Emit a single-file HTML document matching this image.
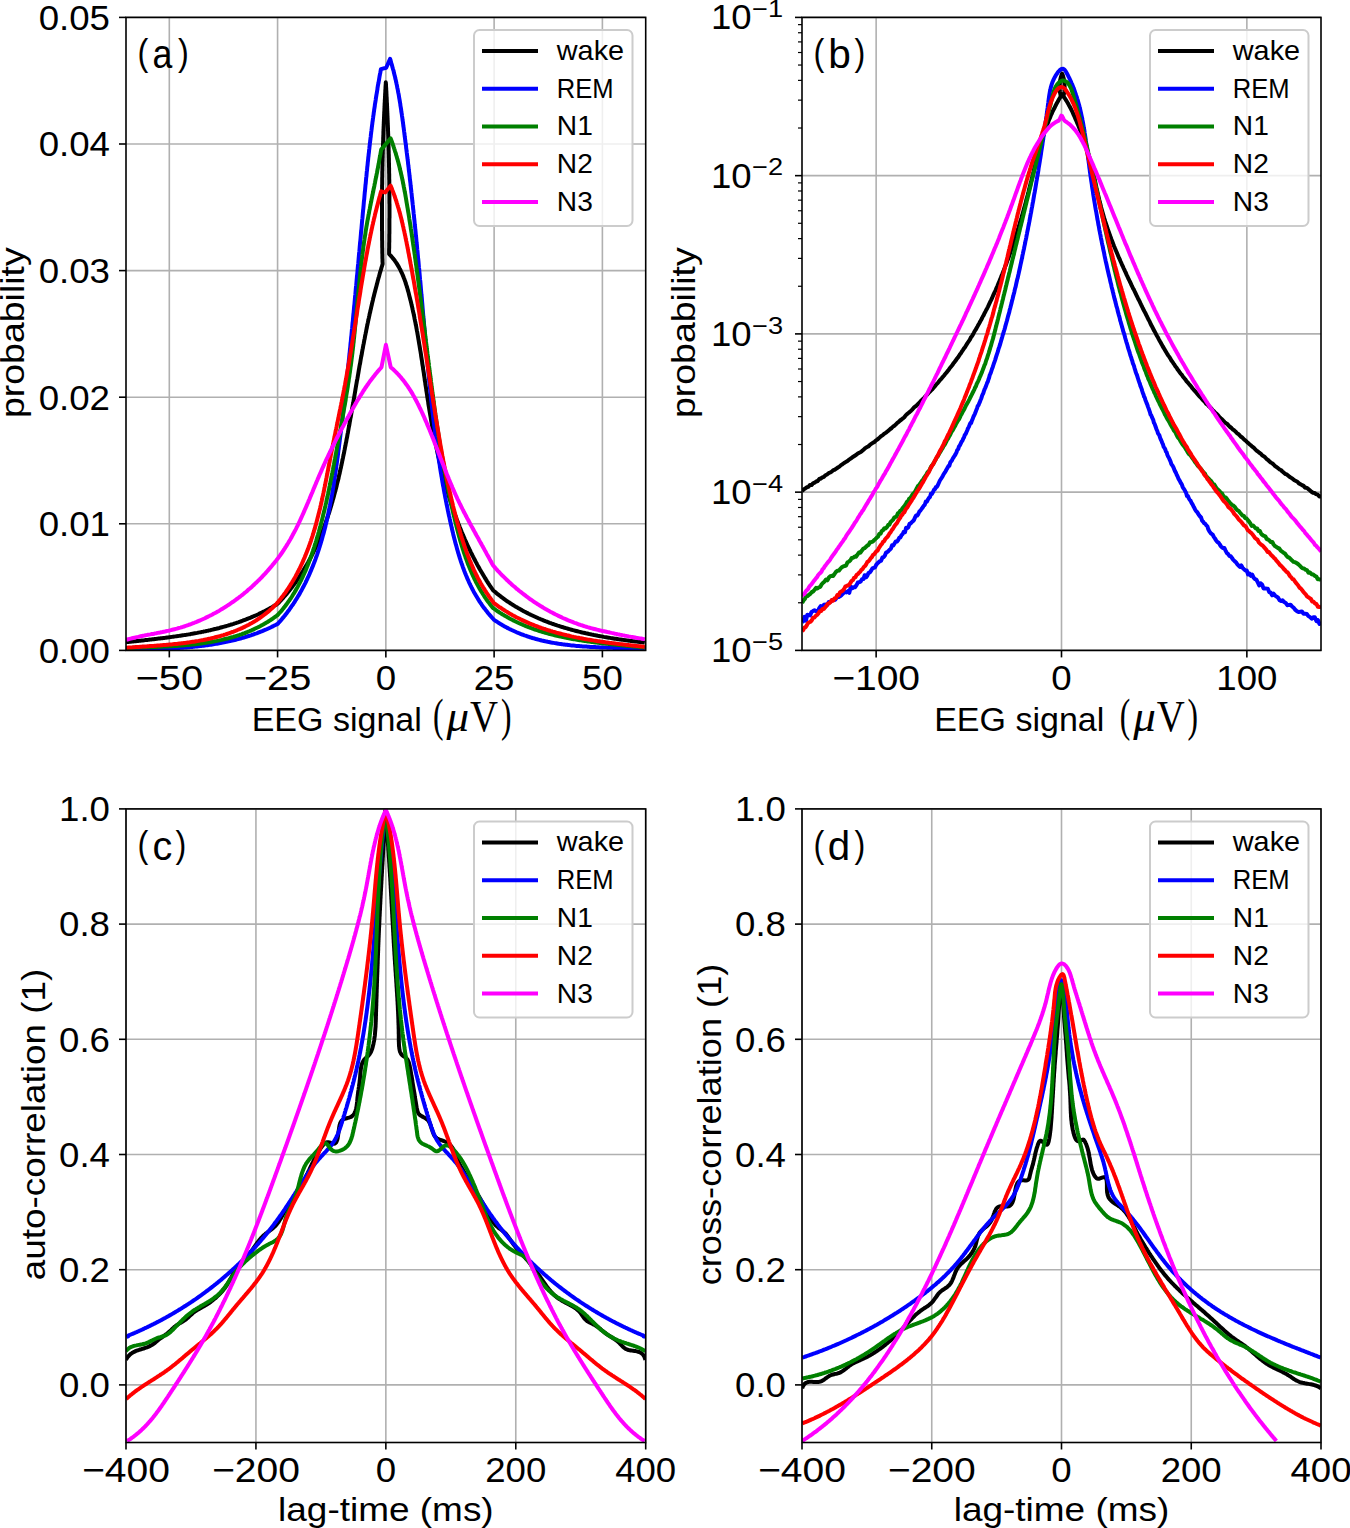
<!DOCTYPE html><html><head><meta charset="utf-8"><style>html,body{margin:0;padding:0;background:#fff;overflow:hidden;}svg{display:block;}</style></head><body>
<svg width="1350" height="1528" viewBox="0 0 1350 1528">
<rect x="0" y="0" width="1350" height="1528" fill="#ffffff"/>
<defs>
<clipPath id="clipa"><rect x="126.0" y="17.4" width="519.7" height="633.0"/></clipPath>
<clipPath id="clipb"><rect x="802.0" y="17.4" width="519.0" height="633.0"/></clipPath>
<clipPath id="clipc"><rect x="126.0" y="808.9" width="519.7" height="633.6"/></clipPath>
<clipPath id="clipd"><rect x="802.0" y="808.9" width="519.0" height="633.6"/></clipPath>
</defs>
<line x1="169.31" y1="17.4" x2="169.31" y2="650.4" stroke="#b0b0b0" stroke-width="1.6"/>
<line x1="277.58" y1="17.4" x2="277.58" y2="650.4" stroke="#b0b0b0" stroke-width="1.6"/>
<line x1="385.85" y1="17.4" x2="385.85" y2="650.4" stroke="#b0b0b0" stroke-width="1.6"/>
<line x1="494.12" y1="17.4" x2="494.12" y2="650.4" stroke="#b0b0b0" stroke-width="1.6"/>
<line x1="602.39" y1="17.4" x2="602.39" y2="650.4" stroke="#b0b0b0" stroke-width="1.6"/>
<line x1="126.0" y1="650.40" x2="645.7" y2="650.40" stroke="#b0b0b0" stroke-width="1.6"/>
<line x1="126.0" y1="523.80" x2="645.7" y2="523.80" stroke="#b0b0b0" stroke-width="1.6"/>
<line x1="126.0" y1="397.20" x2="645.7" y2="397.20" stroke="#b0b0b0" stroke-width="1.6"/>
<line x1="126.0" y1="270.60" x2="645.7" y2="270.60" stroke="#b0b0b0" stroke-width="1.6"/>
<line x1="126.0" y1="144.00" x2="645.7" y2="144.00" stroke="#b0b0b0" stroke-width="1.6"/>
<line x1="126.0" y1="17.40" x2="645.7" y2="17.40" stroke="#b0b0b0" stroke-width="1.6"/>
<g clip-path="url(#clipa)" fill="none" stroke-width="4.0" stroke-linejoin="round" stroke-linecap="butt">
<path d="M126.0,642.2 L127.2,642.1 L128.4,642.0 L129.6,641.8 L130.8,641.7 L132.0,641.6 L133.2,641.4 L134.4,641.3 L135.6,641.2 L136.8,641.0 L138.0,640.9 L139.2,640.8 L140.4,640.7 L141.6,640.5 L142.9,640.4 L144.1,640.3 L145.3,640.1 L146.5,640.0 L147.7,639.9 L148.9,639.7 L150.1,639.6 L151.3,639.4 L152.5,639.3 L153.7,639.2 L154.9,639.0 L156.2,638.9 L157.4,638.7 L158.6,638.6 L159.8,638.5 L161.0,638.3 L162.2,638.2 L163.4,638.0 L164.6,637.9 L165.8,637.7 L167.1,637.5 L168.3,637.4 L169.5,637.2 L170.7,637.1 L171.9,636.9 L173.1,636.7 L174.3,636.6 L175.5,636.4 L176.7,636.2 L177.9,636.1 L179.1,635.9 L180.3,635.7 L181.5,635.5 L182.8,635.3 L184.0,635.1 L185.2,634.9 L186.4,634.8 L187.6,634.6 L188.8,634.4 L190.0,634.2 L191.2,633.9 L192.4,633.7 L193.6,633.5 L194.8,633.3 L196.0,633.1 L197.2,632.9 L198.4,632.6 L199.5,632.4 L200.7,632.2 L201.9,631.9 L203.1,631.7 L204.3,631.4 L205.5,631.2 L206.7,630.9 L207.9,630.7 L209.1,630.4 L210.2,630.2 L211.4,629.9 L212.6,629.6 L213.8,629.3 L215.0,629.0 L216.1,628.8 L217.3,628.5 L218.5,628.2 L219.7,627.9 L220.8,627.5 L222.0,627.2 L223.2,626.9 L224.3,626.6 L225.5,626.3 L226.7,625.9 L227.8,625.6 L229.0,625.2 L230.1,624.9 L231.3,624.5 L232.4,624.2 L233.6,623.8 L234.7,623.4 L235.9,623.1 L237.0,622.7 L238.2,622.3 L239.3,621.9 L240.5,621.5 L241.6,621.1 L242.7,620.7 L243.9,620.2 L245.0,619.8 L246.1,619.4 L247.2,618.9 L248.4,618.5 L249.5,618.0 L250.6,617.6 L251.7,617.1 L252.8,616.6 L253.9,616.2 L255.1,615.7 L256.2,615.2 L257.3,614.7 L258.4,614.2 L259.5,613.6 L260.6,613.1 L261.7,612.6 L262.7,612.1 L263.8,611.5 L264.9,611.0 L266.0,610.4 L267.1,609.8 L268.2,609.3 L269.2,608.7 L270.3,608.1 L271.4,607.5 L272.4,606.9 L273.5,606.2 L274.5,605.6 L275.6,605.0 L276.7,604.4 L277.7,603.7 L277.7,603.7 L278.6,602.8 L279.4,601.9 L280.2,601.0 L281.1,600.1 L281.9,599.2 L282.7,598.3 L283.5,597.4 L284.3,596.5 L285.1,595.6 L285.9,594.7 L286.7,593.8 L287.4,592.8 L288.2,591.9 L289.0,591.0 L289.7,590.0 L290.5,589.1 L291.2,588.1 L291.9,587.2 L292.7,586.2 L293.4,585.2 L294.1,584.3 L294.8,583.3 L295.5,582.3 L296.2,581.4 L296.9,580.4 L297.5,579.4 L298.2,578.4 L298.9,577.4 L299.5,576.4 L300.2,575.4 L300.8,574.4 L301.5,573.4 L302.1,572.4 L302.8,571.4 L303.4,570.4 L304.0,569.4 L304.6,568.4 L305.2,567.4 L305.8,566.3 L306.4,565.3 L307.0,564.3 L307.6,563.2 L308.2,562.2 L308.7,561.2 L309.3,560.1 L309.9,559.1 L310.4,558.0 L311.0,557.0 L311.5,555.9 L312.0,554.9 L312.6,553.8 L313.1,552.7 L313.6,551.7 L314.1,550.6 L314.7,549.5 L315.2,548.4 L315.7,547.4 L316.2,546.3 L316.7,545.2 L317.1,544.1 L317.6,543.0 L318.1,541.9 L318.6,540.9 L319.0,539.8 L319.5,538.7 L320.0,537.6 L320.4,536.5 L320.9,535.4 L321.3,534.2 L321.8,533.1 L322.2,532.0 L322.6,530.9 L323.1,529.8 L323.5,528.7 L323.9,527.6 L324.3,526.4 L324.7,525.3 L325.1,524.2 L325.5,523.1 L325.9,521.9 L326.3,520.8 L326.7,519.7 L327.1,518.5 L327.5,517.4 L327.9,516.3 L328.2,515.1 L328.6,514.0 L329.0,512.8 L329.4,511.7 L329.7,510.5 L330.1,509.4 L330.4,508.2 L330.8,507.1 L331.1,505.9 L331.5,504.8 L331.8,503.6 L332.1,502.5 L332.5,501.3 L332.8,500.1 L333.1,499.0 L333.5,497.8 L333.8,496.7 L334.1,495.5 L334.4,494.3 L334.7,493.2 L335.0,492.0 L335.4,490.8 L335.7,489.6 L336.0,488.5 L336.3,487.3 L336.6,486.1 L336.8,485.0 L337.1,483.8 L337.4,482.6 L337.7,481.4 L338.0,480.2 L338.3,479.1 L338.6,477.9 L338.8,476.7 L339.1,475.5 L339.4,474.3 L339.7,473.2 L339.9,472.0 L340.2,470.8 L340.4,469.6 L340.7,468.4 L341.0,467.2 L341.2,466.0 L341.5,464.9 L341.7,463.7 L342.0,462.5 L342.2,461.3 L342.5,460.1 L342.7,458.9 L343.0,457.7 L343.2,456.5 L343.5,455.3 L343.7,454.2 L344.0,453.0 L344.2,451.8 L344.4,450.6 L344.7,449.4 L344.9,448.2 L345.1,447.0 L345.4,445.8 L345.6,444.6 L345.8,443.4 L346.1,442.3 L346.3,441.1 L346.5,439.9 L346.7,438.7 L347.0,437.5 L347.2,436.3 L347.4,435.1 L347.6,433.9 L347.9,432.7 L348.1,431.5 L348.3,430.4 L348.5,429.2 L348.7,428.0 L348.9,426.8 L349.2,425.6 L349.4,424.4 L349.6,423.2 L349.8,422.0 L350.0,420.8 L350.2,419.6 L350.4,418.4 L350.7,417.3 L350.9,416.1 L351.1,414.9 L351.3,413.7 L351.5,412.5 L351.7,411.3 L351.9,410.1 L352.1,408.9 L352.3,407.7 L352.5,406.5 L352.7,405.4 L352.9,404.2 L353.2,403.0 L353.4,401.8 L353.6,400.6 L353.8,399.4 L354.0,398.2 L354.2,397.0 L354.4,395.8 L354.6,394.7 L354.8,393.5 L355.0,392.3 L355.2,391.1 L355.4,389.9 L355.6,388.7 L355.8,387.5 L356.0,386.3 L356.2,385.1 L356.4,384.0 L356.6,382.8 L356.8,381.6 L357.0,380.4 L357.3,379.2 L357.5,378.0 L357.7,376.8 L357.9,375.6 L358.1,374.5 L358.3,373.3 L358.5,372.1 L358.7,370.9 L358.9,369.7 L359.1,368.5 L359.3,367.3 L359.5,366.2 L359.7,365.0 L360.0,363.8 L360.2,362.6 L360.4,361.4 L360.6,360.2 L360.8,359.0 L361.0,357.9 L361.2,356.7 L361.5,355.5 L361.7,354.3 L361.9,353.1 L362.1,351.9 L362.3,350.8 L362.5,349.6 L362.8,348.4 L363.0,347.2 L363.2,346.0 L363.4,344.8 L363.7,343.7 L363.9,342.5 L364.1,341.3 L364.3,340.1 L364.6,338.9 L364.8,337.8 L365.0,336.6 L365.2,335.4 L365.5,334.2 L365.7,333.0 L366.0,331.9 L366.2,330.7 L366.4,329.5 L366.7,328.3 L366.9,327.2 L367.1,326.0 L367.4,324.8 L367.6,323.6 L367.9,322.4 L368.1,321.3 L368.4,320.1 L368.6,318.9 L368.9,317.7 L369.1,316.6 L369.4,315.4 L369.6,314.2 L369.9,313.0 L370.2,311.9 L370.4,310.7 L370.7,309.5 L371.0,308.4 L371.2,307.2 L371.5,306.0 L371.8,304.8 L372.0,303.7 L372.3,302.5 L372.6,301.3 L372.9,300.2 L373.1,299.0 L373.4,297.8 L373.7,296.7 L374.0,295.5 L374.3,294.3 L374.6,293.1 L374.9,292.0 L375.2,290.8 L375.5,289.6 L375.8,288.5 L376.1,287.3 L376.4,286.2 L376.7,285.0 L377.0,283.8 L377.3,282.7 L377.6,281.5 L377.9,280.3 L378.2,279.2 L378.5,278.0 L378.9,276.8 L379.2,275.7 L379.5,274.5 L379.8,273.4 L380.2,272.2 L380.5,271.0 L380.9,269.9 L381.2,268.7 L381.5,267.6 L381.9,266.4 L382.2,265.3 L382.6,264.1 L382.6,262.9 L382.5,261.7 L382.5,260.5 L382.5,259.2 L382.4,258.0 L382.4,256.8 L382.4,255.6 L382.4,254.4 L382.3,253.2 L382.3,252.0 L382.3,250.8 L382.3,249.5 L382.3,248.3 L382.2,247.1 L382.2,245.9 L382.2,244.7 L382.2,243.5 L382.2,242.3 L382.2,241.1 L382.1,239.8 L382.1,238.6 L382.1,237.4 L382.1,236.2 L382.1,235.0 L382.1,233.8 L382.1,232.6 L382.1,231.3 L382.0,230.1 L382.0,228.9 L382.0,227.7 L382.0,226.5 L382.0,225.3 L382.0,224.1 L382.0,222.9 L382.0,221.6 L382.0,220.4 L382.0,219.2 L382.0,218.0 L382.0,216.8 L382.0,215.6 L382.0,214.4 L382.0,213.2 L382.0,211.9 L382.0,210.7 L382.0,209.5 L382.0,208.3 L382.0,207.1 L382.0,205.9 L382.0,204.7 L382.0,203.5 L382.0,202.2 L382.0,201.0 L382.0,199.8 L382.0,198.6 L382.0,197.4 L382.0,196.2 L382.0,195.0 L382.1,193.8 L382.1,192.5 L382.1,191.3 L382.1,190.1 L382.1,188.9 L382.1,187.7 L382.1,186.5 L382.1,185.3 L382.2,184.1 L382.2,182.8 L382.2,181.6 L382.2,180.4 L382.2,179.2 L382.2,178.0 L382.3,176.8 L382.3,175.6 L382.3,174.4 L382.3,173.1 L382.3,171.9 L382.4,170.7 L382.4,169.5 L382.4,168.3 L382.4,167.1 L382.5,165.9 L382.5,164.7 L382.5,163.4 L382.5,162.2 L382.6,161.0 L382.6,159.8 L382.6,158.6 L382.7,157.4 L382.7,156.2 L382.7,155.0 L382.8,153.7 L382.8,152.5 L382.8,151.3 L382.9,150.1 L382.9,148.9 L382.9,147.7 L383.0,146.5 L383.0,145.3 L383.0,144.1 L383.1,142.8 L383.1,141.6 L383.2,140.4 L383.2,139.2 L383.2,138.0 L383.3,136.8 L383.3,135.6 L383.4,134.4 L383.4,133.1 L383.4,131.9 L383.5,130.7 L383.5,129.5 L383.6,128.3 L383.6,127.1 L383.7,125.9 L383.7,124.7 L383.8,123.5 L383.8,122.2 L383.9,121.0 L383.9,119.8 L384.0,118.6 L384.0,117.4 L384.1,116.2 L384.1,115.0 L384.2,113.8 L384.2,112.6 L384.3,111.3 L384.4,110.1 L384.4,108.9 L384.5,107.7 L384.5,106.5 L384.6,105.3 L384.6,104.1 L384.7,102.9 L384.8,101.6 L384.8,100.4 L384.9,99.2 L385.0,98.0 L385.0,96.8 L385.1,95.6 L385.1,94.4 L385.2,93.2 L385.3,92.0 L385.3,90.7 L385.4,89.5 L385.5,88.3 L385.5,87.1 L385.6,85.9 L385.7,84.7 L385.8,83.5 L385.8,82.3 L385.9,83.5 L386.0,84.7 L386.0,85.9 L386.1,87.1 L386.2,88.3 L386.2,89.5 L386.3,90.7 L386.4,91.9 L386.4,93.1 L386.5,94.4 L386.5,95.6 L386.6,96.8 L386.7,98.0 L386.7,99.2 L386.8,100.4 L386.8,101.6 L386.9,102.8 L387.0,104.0 L387.0,105.2 L387.1,106.4 L387.1,107.7 L387.2,108.9 L387.2,110.1 L387.3,111.3 L387.3,112.5 L387.4,113.7 L387.4,114.9 L387.5,116.1 L387.5,117.3 L387.6,118.5 L387.6,119.7 L387.7,121.0 L387.7,122.2 L387.8,123.4 L387.8,124.6 L387.9,125.8 L387.9,127.0 L388.0,128.2 L388.0,129.4 L388.0,130.6 L388.1,131.8 L388.1,133.0 L388.2,134.3 L388.2,135.5 L388.3,136.7 L388.3,137.9 L388.3,139.1 L388.4,140.3 L388.4,141.5 L388.4,142.7 L388.5,143.9 L388.5,145.1 L388.5,146.3 L388.6,147.6 L388.6,148.8 L388.6,150.0 L388.7,151.2 L388.7,152.4 L388.7,153.6 L388.8,154.8 L388.8,156.0 L388.8,157.2 L388.9,158.4 L388.9,159.6 L388.9,160.9 L388.9,162.1 L389.0,163.3 L389.0,164.5 L389.0,165.7 L389.0,166.9 L389.1,168.1 L389.1,169.3 L389.1,170.5 L389.1,171.7 L389.1,172.9 L389.2,174.2 L389.2,175.4 L389.2,176.6 L389.2,177.8 L389.2,179.0 L389.3,180.2 L389.3,181.4 L389.3,182.6 L389.3,183.8 L389.3,185.0 L389.3,186.3 L389.3,187.5 L389.4,188.7 L389.4,189.9 L389.4,191.1 L389.4,192.3 L389.4,193.5 L389.4,194.7 L389.4,195.9 L389.4,197.1 L389.4,198.4 L389.4,199.6 L389.4,200.8 L389.4,202.0 L389.4,203.2 L389.5,204.4 L389.5,205.6 L389.5,206.8 L389.5,208.0 L389.5,209.2 L389.5,210.5 L389.5,211.7 L389.5,212.9 L389.5,214.1 L389.5,215.3 L389.5,216.5 L389.5,217.7 L389.4,218.9 L389.4,220.1 L389.4,221.3 L389.4,222.6 L389.4,223.8 L389.4,225.0 L389.4,226.2 L389.4,227.4 L389.4,228.6 L389.4,229.8 L389.4,231.0 L389.4,232.2 L389.4,233.4 L389.3,234.7 L389.3,235.9 L389.3,237.1 L389.3,238.3 L389.3,239.5 L389.3,240.7 L389.3,241.9 L389.2,243.1 L389.2,244.3 L389.2,245.5 L389.2,246.8 L389.2,248.0 L389.1,249.2 L389.1,250.4 L389.1,251.6 L389.1,252.8 L389.1,254.0 L389.1,254.0 L389.9,254.9 L390.7,255.7 L391.5,256.6 L392.3,257.5 L393.0,258.4 L393.8,259.3 L394.5,260.2 L395.1,261.1 L395.8,262.1 L396.5,263.1 L397.1,264.1 L397.7,265.1 L398.3,266.1 L398.9,267.1 L399.4,268.1 L400.0,269.2 L400.5,270.2 L401.0,271.3 L401.5,272.3 L402.0,273.4 L402.5,274.5 L402.9,275.6 L403.4,276.7 L403.8,277.8 L404.3,279.0 L404.7,280.1 L405.1,281.2 L405.5,282.4 L405.8,283.5 L406.2,284.7 L406.6,285.8 L406.9,287.0 L407.3,288.1 L407.6,289.3 L407.9,290.5 L408.3,291.7 L408.6,292.8 L408.9,294.0 L409.2,295.2 L409.5,296.4 L409.8,297.5 L410.1,298.7 L410.4,299.9 L410.7,301.1 L411.0,302.3 L411.3,303.5 L411.5,304.6 L411.8,305.8 L412.1,307.0 L412.4,308.2 L412.6,309.4 L412.9,310.6 L413.1,311.8 L413.4,312.9 L413.7,314.1 L413.9,315.3 L414.2,316.5 L414.4,317.7 L414.6,318.9 L414.9,320.1 L415.1,321.2 L415.4,322.4 L415.6,323.6 L415.8,324.8 L416.1,326.0 L416.3,327.2 L416.5,328.4 L416.7,329.5 L416.9,330.7 L417.2,331.9 L417.4,333.1 L417.6,334.3 L417.8,335.5 L418.0,336.7 L418.2,337.9 L418.4,339.1 L418.6,340.2 L418.8,341.4 L419.0,342.6 L419.2,343.8 L419.4,345.0 L419.6,346.2 L419.8,347.4 L420.0,348.6 L420.2,349.8 L420.4,351.0 L420.6,352.1 L420.8,353.3 L421.0,354.5 L421.1,355.7 L421.3,356.9 L421.5,358.1 L421.7,359.3 L421.9,360.5 L422.1,361.7 L422.2,362.9 L422.4,364.1 L422.6,365.3 L422.8,366.4 L423.0,367.6 L423.1,368.8 L423.3,370.0 L423.5,371.2 L423.7,372.4 L423.9,373.6 L424.0,374.8 L424.2,376.0 L424.4,377.2 L424.6,378.4 L424.7,379.6 L424.9,380.8 L425.1,381.9 L425.3,383.1 L425.4,384.3 L425.6,385.5 L425.8,386.7 L426.0,387.9 L426.2,389.1 L426.3,390.3 L426.5,391.5 L426.7,392.7 L426.9,393.9 L427.1,395.1 L427.2,396.3 L427.4,397.5 L427.6,398.6 L427.8,399.8 L428.0,401.0 L428.2,402.2 L428.3,403.4 L428.5,404.6 L428.7,405.8 L428.9,407.0 L429.1,408.2 L429.3,409.4 L429.5,410.6 L429.7,411.8 L429.9,413.0 L430.1,414.2 L430.3,415.3 L430.5,416.5 L430.7,417.7 L430.9,418.9 L431.1,420.1 L431.3,421.3 L431.5,422.5 L431.7,423.7 L432.0,424.9 L432.2,426.1 L432.4,427.3 L432.6,428.5 L432.8,429.6 L433.0,430.8 L433.3,432.0 L433.5,433.2 L433.7,434.4 L434.0,435.6 L434.2,436.8 L434.4,438.0 L434.7,439.2 L434.9,440.4 L435.1,441.5 L435.4,442.7 L435.6,443.9 L435.9,445.1 L436.1,446.3 L436.4,447.5 L436.6,448.7 L436.9,449.8 L437.1,451.0 L437.4,452.2 L437.6,453.4 L437.9,454.6 L438.2,455.8 L438.4,456.9 L438.7,458.1 L439.0,459.3 L439.3,460.5 L439.5,461.7 L439.8,462.8 L440.1,464.0 L440.4,465.2 L440.7,466.4 L441.0,467.5 L441.2,468.7 L441.5,469.9 L441.8,471.1 L442.1,472.2 L442.4,473.4 L442.7,474.6 L443.0,475.7 L443.3,476.9 L443.7,478.1 L444.0,479.3 L444.3,480.4 L444.6,481.6 L444.9,482.8 L445.3,483.9 L445.6,485.1 L445.9,486.2 L446.2,487.4 L446.6,488.6 L446.9,489.7 L447.3,490.9 L447.6,492.0 L448.0,493.2 L448.3,494.3 L448.7,495.5 L449.0,496.7 L449.4,497.8 L449.7,499.0 L450.1,500.1 L450.5,501.3 L450.8,502.4 L451.2,503.6 L451.6,504.7 L452.0,505.8 L452.4,507.0 L452.7,508.1 L453.1,509.3 L453.5,510.4 L453.9,511.5 L454.3,512.7 L454.7,513.8 L455.1,514.9 L455.5,516.1 L456.0,517.2 L456.4,518.3 L456.8,519.5 L457.2,520.6 L457.6,521.7 L458.1,522.8 L458.5,524.0 L458.9,525.1 L459.4,526.2 L459.8,527.3 L460.3,528.5 L460.7,529.6 L461.2,530.7 L461.6,531.8 L462.1,532.9 L462.6,534.0 L463.0,535.1 L463.5,536.2 L464.0,537.3 L464.5,538.4 L464.9,539.5 L465.4,540.6 L465.9,541.7 L466.4,542.8 L466.9,543.9 L467.4,545.0 L467.9,546.1 L468.4,547.2 L468.9,548.3 L469.5,549.4 L470.0,550.5 L470.5,551.5 L471.0,552.6 L471.6,553.7 L472.1,554.8 L472.7,555.9 L473.2,556.9 L473.8,558.0 L474.3,559.1 L474.9,560.1 L475.4,561.2 L476.0,562.3 L476.6,563.3 L477.1,564.4 L477.7,565.5 L478.3,566.5 L478.9,567.6 L479.5,568.6 L480.1,569.7 L480.7,570.7 L481.3,571.8 L481.9,572.8 L482.5,573.8 L483.1,574.9 L483.8,575.9 L484.4,577.0 L485.0,578.0 L485.7,579.0 L486.3,580.1 L486.9,581.1 L487.6,582.1 L488.2,583.1 L488.9,584.1 L489.6,585.2 L490.2,586.2 L490.9,587.2 L491.6,588.2 L492.3,589.2 L493.0,590.2 L493.0,590.2 L493.9,591.0 L494.9,591.8 L495.8,592.6 L496.8,593.4 L497.7,594.2 L498.7,594.9 L499.7,595.7 L500.7,596.4 L501.6,597.2 L502.6,597.9 L503.6,598.6 L504.6,599.4 L505.6,600.1 L506.6,600.8 L507.6,601.5 L508.6,602.1 L509.7,602.8 L510.7,603.5 L511.7,604.1 L512.7,604.8 L513.8,605.4 L514.8,606.1 L515.8,606.7 L516.9,607.3 L517.9,607.9 L519.0,608.5 L520.0,609.1 L521.1,609.7 L522.1,610.3 L523.2,610.9 L524.3,611.5 L525.3,612.0 L526.4,612.6 L527.5,613.1 L528.6,613.7 L529.7,614.2 L530.7,614.8 L531.8,615.3 L532.9,615.8 L534.0,616.3 L535.1,616.8 L536.2,617.3 L537.3,617.8 L538.4,618.3 L539.6,618.7 L540.7,619.2 L541.8,619.7 L542.9,620.1 L544.0,620.6 L545.1,621.0 L546.3,621.5 L547.4,621.9 L548.5,622.3 L549.7,622.8 L550.8,623.2 L551.9,623.6 L553.1,624.0 L554.2,624.4 L555.4,624.8 L556.5,625.2 L557.7,625.6 L558.8,625.9 L560.0,626.3 L561.1,626.7 L562.3,627.0 L563.5,627.4 L564.6,627.8 L565.8,628.1 L567.0,628.4 L568.1,628.8 L569.3,629.1 L570.5,629.4 L571.6,629.8 L572.8,630.1 L574.0,630.4 L575.2,630.7 L576.4,631.0 L577.5,631.3 L578.7,631.6 L579.9,631.9 L581.1,632.2 L582.3,632.5 L583.5,632.7 L584.7,633.0 L585.8,633.3 L587.0,633.5 L588.2,633.8 L589.4,634.1 L590.6,634.3 L591.8,634.6 L593.0,634.8 L594.2,635.1 L595.4,635.3 L596.6,635.5 L597.8,635.8 L599.0,636.0 L600.2,636.2 L601.4,636.4 L602.6,636.6 L603.8,636.9 L605.0,637.1 L606.2,637.3 L607.4,637.5 L608.7,637.7 L609.9,637.9 L611.1,638.1 L612.3,638.3 L613.5,638.5 L614.7,638.7 L615.9,638.8 L617.1,639.0 L618.3,639.2 L619.5,639.4 L620.7,639.5 L621.9,639.7 L623.1,639.9 L624.3,640.1 L625.6,640.2 L626.8,640.4 L628.0,640.5 L629.2,640.7 L630.4,640.9 L631.6,641.0 L632.8,641.2 L634.0,641.3 L635.2,641.5 L636.4,641.6 L637.6,641.7 L638.8,641.9 L640.0,642.0 L641.2,642.2 L642.4,642.3 L643.6,642.4 L644.8,642.6" stroke="#000000"/>
<path d="M126.0,649.3 L127.2,649.3 L128.4,649.3 L129.6,649.3 L130.8,649.3 L132.0,649.3 L133.2,649.3 L134.4,649.3 L135.6,649.2 L136.8,649.2 L138.0,649.2 L139.2,649.2 L140.5,649.2 L141.7,649.2 L142.9,649.2 L144.1,649.1 L145.3,649.1 L146.5,649.1 L147.7,649.1 L148.9,649.1 L150.2,649.0 L151.4,649.0 L152.6,649.0 L153.8,649.0 L155.0,648.9 L156.2,648.9 L157.5,648.9 L158.7,648.8 L159.9,648.8 L161.1,648.8 L162.3,648.7 L163.5,648.7 L164.8,648.6 L166.0,648.6 L167.2,648.5 L168.4,648.5 L169.6,648.4 L170.9,648.4 L172.1,648.3 L173.3,648.3 L174.5,648.2 L175.7,648.1 L176.9,648.1 L178.2,648.0 L179.4,647.9 L180.6,647.8 L181.8,647.7 L183.0,647.7 L184.3,647.6 L185.5,647.5 L186.7,647.4 L187.9,647.3 L189.1,647.2 L190.3,647.1 L191.5,647.0 L192.8,646.9 L194.0,646.7 L195.2,646.6 L196.4,646.5 L197.6,646.4 L198.8,646.2 L200.0,646.1 L201.2,645.9 L202.4,645.8 L203.6,645.7 L204.8,645.5 L206.1,645.3 L207.3,645.2 L208.5,645.0 L209.7,644.8 L210.9,644.7 L212.1,644.5 L213.3,644.3 L214.5,644.1 L215.7,643.9 L216.9,643.7 L218.0,643.5 L219.2,643.3 L220.4,643.1 L221.6,642.8 L222.8,642.6 L224.0,642.4 L225.2,642.1 L226.4,641.9 L227.6,641.6 L228.7,641.4 L229.9,641.1 L231.1,640.8 L232.3,640.6 L233.4,640.3 L234.6,640.0 L235.8,639.7 L237.0,639.4 L238.1,639.1 L239.3,638.8 L240.5,638.5 L241.6,638.1 L242.8,637.8 L243.9,637.5 L245.1,637.1 L246.3,636.8 L247.4,636.4 L248.6,636.0 L249.7,635.7 L250.9,635.3 L252.0,634.9 L253.2,634.5 L254.3,634.1 L255.4,633.7 L256.6,633.3 L257.7,632.9 L258.8,632.4 L260.0,632.0 L261.1,631.5 L262.2,631.1 L263.3,630.6 L264.5,630.1 L265.6,629.7 L266.7,629.2 L267.8,628.7 L268.9,628.2 L270.0,627.7 L271.1,627.2 L272.2,626.6 L273.3,626.1 L274.4,625.5 L275.5,625.0 L276.6,624.4 L277.7,623.9 L277.7,623.9 L278.5,622.9 L279.4,622.0 L280.2,621.1 L281.0,620.2 L281.8,619.2 L282.5,618.3 L283.3,617.4 L284.1,616.4 L284.9,615.5 L285.6,614.5 L286.4,613.6 L287.1,612.6 L287.8,611.6 L288.5,610.7 L289.3,609.7 L290.0,608.7 L290.7,607.7 L291.3,606.7 L292.0,605.7 L292.7,604.8 L293.4,603.8 L294.0,602.8 L294.7,601.8 L295.3,600.7 L296.0,599.7 L296.6,598.7 L297.2,597.7 L297.8,596.7 L298.5,595.7 L299.1,594.6 L299.7,593.6 L300.2,592.6 L300.8,591.5 L301.4,590.5 L302.0,589.4 L302.5,588.4 L303.1,587.3 L303.6,586.3 L304.2,585.2 L304.7,584.2 L305.3,583.1 L305.8,582.0 L306.3,581.0 L306.8,579.9 L307.3,578.8 L307.8,577.7 L308.3,576.7 L308.8,575.6 L309.3,574.5 L309.8,573.4 L310.2,572.3 L310.7,571.2 L311.2,570.1 L311.6,569.0 L312.1,567.9 L312.5,566.8 L313.0,565.7 L313.4,564.6 L313.8,563.5 L314.3,562.4 L314.7,561.3 L315.1,560.2 L315.5,559.1 L315.9,557.9 L316.3,556.8 L316.7,555.7 L317.1,554.6 L317.5,553.4 L317.9,552.3 L318.2,551.2 L318.6,550.1 L319.0,548.9 L319.3,547.8 L319.7,546.6 L320.0,545.5 L320.4,544.4 L320.7,543.2 L321.1,542.1 L321.4,540.9 L321.8,539.8 L322.1,538.6 L322.4,537.5 L322.7,536.3 L323.0,535.2 L323.4,534.0 L323.7,532.9 L324.0,531.7 L324.3,530.5 L324.6,529.4 L324.9,528.2 L325.2,527.1 L325.5,525.9 L325.7,524.7 L326.0,523.6 L326.3,522.4 L326.6,521.2 L326.8,520.0 L327.1,518.9 L327.4,517.7 L327.6,516.5 L327.9,515.3 L328.2,514.2 L328.4,513.0 L328.7,511.8 L328.9,510.6 L329.1,509.4 L329.4,508.3 L329.6,507.1 L329.9,505.9 L330.1,504.7 L330.3,503.5 L330.5,502.3 L330.8,501.1 L331.0,500.0 L331.2,498.8 L331.4,497.6 L331.6,496.4 L331.9,495.2 L332.1,494.0 L332.3,492.8 L332.5,491.6 L332.7,490.4 L332.9,489.2 L333.1,488.0 L333.3,486.8 L333.5,485.6 L333.7,484.4 L333.9,483.2 L334.0,482.0 L334.2,480.8 L334.4,479.6 L334.6,478.4 L334.8,477.2 L335.0,476.0 L335.1,474.8 L335.3,473.6 L335.5,472.4 L335.7,471.2 L335.8,470.0 L336.0,468.8 L336.2,467.6 L336.3,466.4 L336.5,465.2 L336.7,464.0 L336.8,462.8 L337.0,461.6 L337.2,460.4 L337.3,459.2 L337.5,458.0 L337.7,456.8 L337.8,455.6 L338.0,454.4 L338.1,453.2 L338.3,451.9 L338.4,450.7 L338.6,449.5 L338.8,448.3 L338.9,447.1 L339.1,445.9 L339.2,444.7 L339.4,443.5 L339.5,442.3 L339.7,441.1 L339.8,439.9 L340.0,438.7 L340.1,437.5 L340.3,436.3 L340.4,435.1 L340.6,433.9 L340.7,432.7 L340.9,431.5 L341.0,430.3 L341.2,429.1 L341.3,427.9 L341.5,426.7 L341.6,425.5 L341.7,424.3 L341.9,423.1 L342.0,421.9 L342.2,420.7 L342.3,419.5 L342.5,418.3 L342.6,417.1 L342.7,415.9 L342.9,414.7 L343.0,413.5 L343.2,412.3 L343.3,411.1 L343.4,409.9 L343.6,408.7 L343.7,407.5 L343.9,406.3 L344.0,405.1 L344.1,403.9 L344.3,402.7 L344.4,401.5 L344.5,400.3 L344.7,399.1 L344.8,397.9 L344.9,396.7 L345.1,395.5 L345.2,394.3 L345.3,393.1 L345.5,391.9 L345.6,390.7 L345.7,389.5 L345.9,388.3 L346.0,387.1 L346.1,385.9 L346.3,384.7 L346.4,383.5 L346.5,382.3 L346.7,381.1 L346.8,379.9 L346.9,378.7 L347.0,377.5 L347.2,376.3 L347.3,375.1 L347.4,373.9 L347.6,372.7 L347.7,371.5 L347.8,370.3 L347.9,369.1 L348.1,367.9 L348.2,366.7 L348.3,365.5 L348.4,364.3 L348.6,363.1 L348.7,361.9 L348.8,360.8 L348.9,359.6 L349.1,358.4 L349.2,357.2 L349.3,356.0 L349.4,354.8 L349.5,353.6 L349.7,352.4 L349.8,351.2 L349.9,350.0 L350.0,348.8 L350.2,347.6 L350.3,346.4 L350.4,345.2 L350.5,344.0 L350.6,342.8 L350.8,341.6 L350.9,340.4 L351.0,339.2 L351.1,338.0 L351.2,336.8 L351.4,335.6 L351.5,334.4 L351.6,333.3 L351.7,332.1 L351.8,330.9 L351.9,329.7 L352.1,328.5 L352.2,327.3 L352.3,326.1 L352.4,324.9 L352.5,323.7 L352.6,322.5 L352.8,321.3 L352.9,320.1 L353.0,318.9 L353.1,317.7 L353.2,316.5 L353.3,315.3 L353.4,314.1 L353.6,312.9 L353.7,311.7 L353.8,310.5 L353.9,309.4 L354.0,308.2 L354.1,307.0 L354.2,305.8 L354.4,304.6 L354.5,303.4 L354.6,302.2 L354.7,301.0 L354.8,299.8 L354.9,298.6 L355.0,297.4 L355.1,296.2 L355.3,295.0 L355.4,293.8 L355.5,292.6 L355.6,291.4 L355.7,290.2 L355.8,289.0 L355.9,287.8 L356.0,286.7 L356.2,285.5 L356.3,284.3 L356.4,283.1 L356.5,281.9 L356.6,280.7 L356.7,279.5 L356.8,278.3 L356.9,277.1 L357.0,275.9 L357.2,274.7 L357.3,273.5 L357.4,272.3 L357.5,271.1 L357.6,269.9 L357.7,268.7 L357.8,267.5 L357.9,266.3 L358.0,265.1 L358.2,264.0 L358.3,262.8 L358.4,261.6 L358.5,260.4 L358.6,259.2 L358.7,258.0 L358.8,256.8 L358.9,255.6 L359.0,254.4 L359.1,253.2 L359.3,252.0 L359.4,250.8 L359.5,249.6 L359.6,248.4 L359.7,247.2 L359.8,246.0 L359.9,244.8 L360.0,243.6 L360.1,242.4 L360.3,241.2 L360.4,240.0 L360.5,238.8 L360.6,237.6 L360.7,236.5 L360.8,235.3 L360.9,234.1 L361.0,232.9 L361.1,231.7 L361.2,230.5 L361.4,229.3 L361.5,228.1 L361.6,226.9 L361.7,225.7 L361.8,224.5 L361.9,223.3 L362.0,222.1 L362.1,220.9 L362.2,219.7 L362.4,218.5 L362.5,217.3 L362.6,216.1 L362.7,214.9 L362.8,213.7 L362.9,212.5 L363.0,211.3 L363.1,210.1 L363.3,208.9 L363.4,207.7 L363.5,206.5 L363.6,205.3 L363.7,204.1 L363.8,202.9 L363.9,201.7 L364.0,200.5 L364.2,199.3 L364.3,198.1 L364.4,196.9 L364.5,195.7 L364.6,194.5 L364.7,193.3 L364.8,192.1 L365.0,190.9 L365.1,189.7 L365.2,188.5 L365.3,187.3 L365.4,186.1 L365.5,184.9 L365.7,183.7 L365.8,182.5 L365.9,181.3 L366.0,180.1 L366.1,178.9 L366.2,177.7 L366.4,176.5 L366.5,175.3 L366.6,174.1 L366.7,172.9 L366.8,171.7 L367.0,170.5 L367.1,169.3 L367.2,168.1 L367.3,166.9 L367.5,165.7 L367.6,164.5 L367.7,163.3 L367.8,162.1 L368.0,160.9 L368.1,159.8 L368.2,158.6 L368.3,157.4 L368.5,156.2 L368.6,155.0 L368.7,153.8 L368.9,152.6 L369.0,151.4 L369.1,150.2 L369.3,149.0 L369.4,147.8 L369.5,146.6 L369.7,145.4 L369.8,144.2 L369.9,143.0 L370.1,141.8 L370.2,140.6 L370.4,139.4 L370.5,138.2 L370.7,137.0 L370.8,135.8 L370.9,134.6 L371.1,133.4 L371.2,132.2 L371.4,131.0 L371.5,129.8 L371.7,128.6 L371.8,127.4 L372.0,126.2 L372.1,125.0 L372.3,123.8 L372.4,122.6 L372.6,121.4 L372.8,120.2 L372.9,119.0 L373.1,117.8 L373.2,116.7 L373.4,115.5 L373.6,114.3 L373.7,113.1 L373.9,111.9 L374.1,110.7 L374.2,109.5 L374.4,108.3 L374.6,107.1 L374.8,105.9 L374.9,104.7 L375.1,103.5 L375.3,102.3 L375.5,101.2 L375.7,100.0 L375.8,98.8 L376.0,97.6 L376.2,96.4 L376.4,95.2 L376.6,94.0 L376.8,92.8 L377.0,91.6 L377.2,90.5 L377.4,89.3 L377.5,88.1 L377.7,86.9 L377.9,85.7 L378.1,84.5 L378.4,83.3 L378.6,82.2 L378.8,81.0 L379.0,79.8 L379.2,78.6 L379.4,77.4 L379.6,76.2 L379.8,75.1 L380.0,73.9 L380.3,72.7 L380.5,71.5 L380.7,70.3 L380.9,69.1 L380.9,69.1 L386.2,67.8 L390.1,58.9 L390.1,58.9 L390.4,60.0 L390.8,61.2 L391.1,62.3 L391.4,63.4 L391.8,64.6 L392.1,65.7 L392.4,66.9 L392.7,68.0 L393.0,69.1 L393.4,70.3 L393.7,71.4 L393.9,72.6 L394.2,73.7 L394.5,74.9 L394.8,76.1 L395.1,77.2 L395.3,78.4 L395.6,79.5 L395.9,80.7 L396.1,81.9 L396.4,83.0 L396.6,84.2 L396.9,85.3 L397.1,86.5 L397.3,87.7 L397.6,88.9 L397.8,90.0 L398.0,91.2 L398.2,92.4 L398.5,93.6 L398.7,94.7 L398.9,95.9 L399.1,97.1 L399.3,98.3 L399.5,99.4 L399.7,100.6 L399.9,101.8 L400.1,103.0 L400.3,104.2 L400.4,105.4 L400.6,106.5 L400.8,107.7 L401.0,108.9 L401.2,110.1 L401.3,111.3 L401.5,112.5 L401.7,113.7 L401.9,114.9 L402.0,116.0 L402.2,117.2 L402.4,118.4 L402.5,119.6 L402.7,120.8 L402.9,122.0 L403.0,123.2 L403.2,124.4 L403.3,125.6 L403.5,126.8 L403.7,128.0 L403.8,129.2 L404.0,130.3 L404.1,131.5 L404.3,132.7 L404.4,133.9 L404.6,135.1 L404.7,136.3 L404.9,137.5 L405.0,138.7 L405.2,139.9 L405.3,141.1 L405.5,142.3 L405.7,143.5 L405.8,144.7 L406.0,145.9 L406.1,147.1 L406.2,148.3 L406.4,149.4 L406.5,150.6 L406.7,151.8 L406.8,153.0 L407.0,154.2 L407.1,155.4 L407.3,156.6 L407.4,157.8 L407.6,159.0 L407.7,160.2 L407.9,161.4 L408.0,162.6 L408.1,163.8 L408.3,165.0 L408.4,166.2 L408.6,167.4 L408.7,168.6 L408.8,169.8 L409.0,171.0 L409.1,172.2 L409.3,173.3 L409.4,174.5 L409.5,175.7 L409.7,176.9 L409.8,178.1 L409.9,179.3 L410.1,180.5 L410.2,181.7 L410.4,182.9 L410.5,184.1 L410.6,185.3 L410.8,186.5 L410.9,187.7 L411.0,188.9 L411.2,190.1 L411.3,191.3 L411.4,192.5 L411.6,193.7 L411.7,194.9 L411.8,196.1 L411.9,197.3 L412.1,198.5 L412.2,199.7 L412.3,200.9 L412.5,202.1 L412.6,203.3 L412.7,204.5 L412.9,205.7 L413.0,206.9 L413.1,208.1 L413.2,209.3 L413.4,210.4 L413.5,211.6 L413.6,212.8 L413.7,214.0 L413.9,215.2 L414.0,216.4 L414.1,217.6 L414.2,218.8 L414.4,220.0 L414.5,221.2 L414.6,222.4 L414.7,223.6 L414.8,224.8 L415.0,226.0 L415.1,227.2 L415.2,228.4 L415.3,229.6 L415.5,230.8 L415.6,232.0 L415.7,233.2 L415.8,234.4 L415.9,235.6 L416.1,236.8 L416.2,238.0 L416.3,239.2 L416.4,240.4 L416.5,241.6 L416.6,242.8 L416.8,244.0 L416.9,245.2 L417.0,246.4 L417.1,247.6 L417.2,248.8 L417.3,250.0 L417.5,251.2 L417.6,252.4 L417.7,253.6 L417.8,254.8 L417.9,256.0 L418.0,257.2 L418.1,258.4 L418.3,259.6 L418.4,260.8 L418.5,262.0 L418.6,263.2 L418.7,264.4 L418.8,265.6 L418.9,266.8 L419.0,268.0 L419.2,269.2 L419.3,270.4 L419.4,271.6 L419.5,272.8 L419.6,274.0 L419.7,275.2 L419.8,276.4 L419.9,277.6 L420.0,278.8 L420.1,280.0 L420.3,281.2 L420.4,282.4 L420.5,283.6 L420.6,284.8 L420.7,286.0 L420.8,287.2 L420.9,288.4 L421.0,289.6 L421.1,290.8 L421.2,292.0 L421.3,293.2 L421.4,294.4 L421.6,295.6 L421.7,296.8 L421.8,298.0 L421.9,299.2 L422.0,300.4 L422.1,301.6 L422.2,302.8 L422.3,304.0 L422.4,305.2 L422.5,306.4 L422.6,307.6 L422.7,308.8 L422.8,310.0 L422.9,311.2 L423.0,312.4 L423.1,313.6 L423.2,314.8 L423.3,316.0 L423.4,317.2 L423.6,318.4 L423.7,319.6 L423.8,320.8 L423.9,322.0 L424.0,323.2 L424.1,324.4 L424.2,325.6 L424.3,326.8 L424.4,328.0 L424.5,329.2 L424.6,330.4 L424.7,331.6 L424.8,332.8 L424.9,334.0 L425.0,335.2 L425.1,336.4 L425.2,337.6 L425.3,338.8 L425.4,340.0 L425.5,341.2 L425.7,342.4 L425.8,343.6 L425.9,344.8 L426.0,346.0 L426.1,347.2 L426.2,348.4 L426.3,349.6 L426.4,350.8 L426.5,352.0 L426.6,353.2 L426.7,354.4 L426.8,355.6 L427.0,356.8 L427.1,358.0 L427.2,359.2 L427.3,360.4 L427.4,361.6 L427.5,362.8 L427.6,364.0 L427.7,365.2 L427.8,366.4 L428.0,367.6 L428.1,368.8 L428.2,370.0 L428.3,371.2 L428.4,372.4 L428.5,373.6 L428.6,374.8 L428.8,376.0 L428.9,377.2 L429.0,378.4 L429.1,379.6 L429.2,380.8 L429.3,382.0 L429.5,383.2 L429.6,384.4 L429.7,385.6 L429.8,386.8 L430.0,388.0 L430.1,389.2 L430.2,390.4 L430.3,391.6 L430.4,392.8 L430.6,394.0 L430.7,395.2 L430.8,396.4 L431.0,397.6 L431.1,398.8 L431.2,400.0 L431.3,401.2 L431.5,402.4 L431.6,403.6 L431.7,404.8 L431.9,406.0 L432.0,407.2 L432.1,408.4 L432.3,409.6 L432.4,410.8 L432.5,412.0 L432.7,413.1 L432.8,414.3 L433.0,415.5 L433.1,416.7 L433.2,417.9 L433.4,419.1 L433.5,420.3 L433.7,421.5 L433.8,422.7 L434.0,423.9 L434.1,425.1 L434.3,426.3 L434.4,427.5 L434.6,428.7 L434.7,429.9 L434.9,431.1 L435.0,432.3 L435.2,433.5 L435.3,434.7 L435.5,435.8 L435.6,437.0 L435.8,438.2 L435.9,439.4 L436.1,440.6 L436.3,441.8 L436.4,443.0 L436.6,444.2 L436.8,445.4 L436.9,446.6 L437.1,447.8 L437.3,449.0 L437.4,450.2 L437.6,451.3 L437.8,452.5 L438.0,453.7 L438.1,454.9 L438.3,456.1 L438.5,457.3 L438.7,458.5 L438.8,459.7 L439.0,460.9 L439.2,462.1 L439.4,463.3 L439.6,464.4 L439.8,465.6 L439.9,466.8 L440.1,468.0 L440.3,469.2 L440.5,470.4 L440.7,471.6 L440.9,472.8 L441.1,473.9 L441.3,475.1 L441.5,476.3 L441.7,477.5 L441.9,478.7 L442.1,479.9 L442.3,481.1 L442.5,482.3 L442.7,483.4 L442.9,484.6 L443.1,485.8 L443.4,487.0 L443.6,488.2 L443.8,489.4 L444.0,490.6 L444.2,491.7 L444.4,492.9 L444.7,494.1 L444.9,495.3 L445.1,496.5 L445.3,497.7 L445.6,498.8 L445.8,500.0 L446.0,501.2 L446.3,502.4 L446.5,503.6 L446.7,504.8 L447.0,505.9 L447.2,507.1 L447.5,508.3 L447.7,509.5 L447.9,510.7 L448.2,511.8 L448.4,513.0 L448.7,514.2 L448.9,515.4 L449.2,516.6 L449.5,517.7 L449.7,518.9 L450.0,520.1 L450.2,521.3 L450.5,522.5 L450.8,523.6 L451.0,524.8 L451.3,526.0 L451.6,527.2 L451.8,528.3 L452.1,529.5 L452.4,530.7 L452.7,531.9 L453.0,533.0 L453.2,534.2 L453.5,535.4 L453.8,536.6 L454.1,537.7 L454.4,538.9 L454.7,540.1 L455.0,541.2 L455.3,542.4 L455.6,543.6 L455.9,544.7 L456.3,545.9 L456.6,547.1 L456.9,548.2 L457.2,549.4 L457.6,550.6 L457.9,551.7 L458.2,552.9 L458.6,554.0 L458.9,555.2 L459.3,556.3 L459.6,557.5 L460.0,558.6 L460.4,559.8 L460.7,560.9 L461.1,562.0 L461.5,563.2 L461.9,564.3 L462.3,565.4 L462.7,566.6 L463.1,567.7 L463.5,568.8 L463.9,569.9 L464.3,571.0 L464.8,572.2 L465.2,573.3 L465.7,574.4 L466.1,575.5 L466.6,576.6 L467.0,577.7 L467.5,578.8 L468.0,579.9 L468.5,581.0 L468.9,582.0 L469.4,583.1 L470.0,584.2 L470.5,585.3 L471.0,586.3 L471.5,587.4 L472.1,588.5 L472.6,589.5 L473.2,590.6 L473.7,591.6 L474.3,592.7 L474.9,593.7 L475.5,594.7 L476.1,595.8 L476.7,596.8 L477.3,597.8 L477.9,598.8 L478.5,599.9 L479.2,600.9 L479.8,601.9 L480.5,602.9 L481.2,603.8 L481.8,604.8 L482.5,605.8 L483.2,606.8 L483.9,607.8 L484.7,608.7 L485.4,609.7 L486.1,610.6 L486.9,611.6 L487.6,612.5 L488.4,613.5 L489.2,614.4 L490.0,615.3 L490.8,616.2 L491.6,617.2 L492.5,618.1 L493.3,619.0 L494.1,619.9 L494.1,619.9 L495.2,620.6 L496.2,621.3 L497.2,621.9 L498.3,622.6 L499.3,623.3 L500.4,623.9 L501.4,624.6 L502.5,625.2 L503.5,625.8 L504.6,626.4 L505.7,627.0 L506.8,627.6 L507.8,628.1 L508.9,628.7 L510.0,629.2 L511.1,629.8 L512.2,630.3 L513.3,630.8 L514.4,631.3 L515.5,631.8 L516.6,632.3 L517.7,632.7 L518.8,633.2 L519.9,633.6 L521.1,634.1 L522.2,634.5 L523.3,634.9 L524.4,635.3 L525.6,635.7 L526.7,636.1 L527.8,636.5 L529.0,636.9 L530.1,637.3 L531.3,637.6 L532.4,638.0 L533.6,638.3 L534.8,638.6 L535.9,639.0 L537.1,639.3 L538.2,639.6 L539.4,639.9 L540.6,640.2 L541.8,640.5 L542.9,640.7 L544.1,641.0 L545.3,641.3 L546.5,641.5 L547.7,641.8 L548.8,642.0 L550.0,642.2 L551.2,642.5 L552.4,642.7 L553.6,642.9 L554.8,643.1 L556.0,643.3 L557.2,643.5 L558.4,643.7 L559.6,643.9 L560.8,644.0 L562.0,644.2 L563.2,644.4 L564.4,644.5 L565.6,644.7 L566.9,644.8 L568.1,645.0 L569.3,645.1 L570.5,645.3 L571.7,645.4 L572.9,645.5 L574.2,645.6 L575.4,645.8 L576.6,645.9 L577.8,646.0 L579.0,646.1 L580.3,646.2 L581.5,646.3 L582.7,646.4 L583.9,646.5 L585.2,646.5 L586.4,646.6 L587.6,646.7 L588.8,646.8 L590.1,646.9 L591.3,646.9 L592.5,647.0 L593.8,647.1 L595.0,647.1 L596.2,647.2 L597.4,647.3 L598.7,647.3 L599.9,647.4 L601.1,647.4 L602.3,647.5 L603.6,647.5 L604.8,647.6 L606.0,647.6 L607.3,647.7 L608.5,647.7 L609.7,647.7 L610.9,647.8 L612.2,647.8 L613.4,647.9 L614.6,647.9 L615.8,647.9 L617.1,648.0 L618.3,648.0 L619.5,648.1 L620.7,648.1 L621.9,648.1 L623.1,648.2 L624.4,648.2 L625.6,648.3 L626.8,648.3 L628.0,648.4 L629.2,648.4 L630.4,648.4 L631.6,648.5 L632.8,648.5 L634.0,648.6 L635.2,648.6 L636.5,648.7 L637.7,648.7 L638.8,648.8 L640.0,648.8 L641.2,648.9 L642.4,649.0 L643.6,649.0 L644.8,649.1" stroke="#0000ff"/>
<path d="M126.0,648.1 L127.2,648.1 L128.4,648.0 L129.6,648.0 L130.7,647.9 L131.9,647.9 L133.1,647.8 L134.3,647.8 L135.5,647.7 L136.7,647.7 L137.9,647.6 L139.1,647.6 L140.3,647.5 L141.5,647.5 L142.7,647.4 L144.0,647.4 L145.2,647.4 L146.4,647.3 L147.6,647.3 L148.8,647.2 L150.0,647.2 L151.2,647.1 L152.5,647.1 L153.7,647.0 L154.9,647.0 L156.1,646.9 L157.3,646.9 L158.6,646.8 L159.8,646.8 L161.0,646.7 L162.2,646.7 L163.4,646.6 L164.7,646.6 L165.9,646.5 L167.1,646.4 L168.3,646.4 L169.6,646.3 L170.8,646.2 L172.0,646.2 L173.2,646.1 L174.5,646.0 L175.7,645.9 L176.9,645.9 L178.1,645.8 L179.4,645.7 L180.6,645.6 L181.8,645.5 L183.0,645.4 L184.3,645.3 L185.5,645.2 L186.7,645.1 L187.9,645.0 L189.2,644.9 L190.4,644.7 L191.6,644.6 L192.8,644.5 L194.0,644.4 L195.3,644.2 L196.5,644.1 L197.7,643.9 L198.9,643.8 L200.1,643.6 L201.3,643.5 L202.5,643.3 L203.7,643.1 L205.0,643.0 L206.2,642.8 L207.4,642.6 L208.6,642.4 L209.8,642.2 L211.0,642.0 L212.2,641.8 L213.4,641.6 L214.6,641.3 L215.7,641.1 L216.9,640.9 L218.1,640.6 L219.3,640.4 L220.5,640.1 L221.7,639.9 L222.9,639.6 L224.0,639.3 L225.2,639.0 L226.4,638.8 L227.6,638.5 L228.7,638.2 L229.9,637.8 L231.0,637.5 L232.2,637.2 L233.4,636.9 L234.5,636.5 L235.7,636.2 L236.8,635.8 L238.0,635.4 L239.1,635.1 L240.2,634.7 L241.4,634.3 L242.5,633.9 L243.6,633.5 L244.8,633.1 L245.9,632.6 L247.0,632.2 L248.1,631.7 L249.2,631.3 L250.3,630.8 L251.5,630.3 L252.6,629.8 L253.6,629.4 L254.7,628.8 L255.8,628.3 L256.9,627.8 L258.0,627.3 L259.1,626.7 L260.1,626.2 L261.2,625.6 L262.3,625.0 L263.3,624.4 L264.4,623.8 L265.4,623.2 L266.5,622.6 L267.5,622.0 L268.6,621.3 L269.6,620.6 L270.6,620.0 L271.7,619.3 L272.7,618.6 L273.7,617.9 L274.7,617.2 L275.7,616.5 L276.7,615.7 L277.7,615.0 L278.5,614.1 L279.3,613.1 L280.2,612.2 L281.0,611.3 L281.7,610.4 L282.5,609.4 L283.3,608.5 L284.0,607.5 L284.8,606.6 L285.5,605.6 L286.3,604.7 L287.0,603.7 L287.7,602.7 L288.4,601.7 L289.1,600.7 L289.8,599.8 L290.4,598.8 L291.1,597.8 L291.8,596.7 L292.4,595.7 L293.0,594.7 L293.7,593.7 L294.3,592.7 L294.9,591.6 L295.5,590.6 L296.1,589.6 L296.7,588.5 L297.3,587.5 L297.9,586.4 L298.4,585.4 L299.0,584.3 L299.5,583.3 L300.1,582.2 L300.6,581.1 L301.2,580.1 L301.7,579.0 L302.2,577.9 L302.7,576.8 L303.2,575.7 L303.7,574.6 L304.2,573.6 L304.7,572.5 L305.2,571.4 L305.7,570.3 L306.1,569.2 L306.6,568.0 L307.0,566.9 L307.5,565.8 L307.9,564.7 L308.4,563.6 L308.8,562.5 L309.2,561.3 L309.7,560.2 L310.1,559.1 L310.5,558.0 L310.9,556.8 L311.3,555.7 L311.7,554.6 L312.1,553.4 L312.5,552.3 L312.9,551.2 L313.3,550.0 L313.6,548.9 L314.0,547.7 L314.4,546.6 L314.7,545.4 L315.1,544.3 L315.5,543.1 L315.8,542.0 L316.2,540.8 L316.5,539.7 L316.9,538.5 L317.2,537.4 L317.5,536.2 L317.9,535.1 L318.2,533.9 L318.5,532.8 L318.9,531.6 L319.2,530.4 L319.5,529.3 L319.8,528.1 L320.1,527.0 L320.5,525.8 L320.8,524.6 L321.1,523.5 L321.4,522.3 L321.7,521.1 L322.0,520.0 L322.3,518.8 L322.6,517.6 L322.9,516.5 L323.1,515.3 L323.4,514.1 L323.7,513.0 L324.0,511.8 L324.3,510.6 L324.6,509.5 L324.8,508.3 L325.1,507.1 L325.4,505.9 L325.6,504.8 L325.9,503.6 L326.2,502.4 L326.4,501.3 L326.7,500.1 L326.9,498.9 L327.2,497.7 L327.5,496.5 L327.7,495.4 L328.0,494.2 L328.2,493.0 L328.5,491.8 L328.7,490.7 L329.0,489.5 L329.2,488.3 L329.4,487.1 L329.7,485.9 L329.9,484.8 L330.2,483.6 L330.4,482.4 L330.6,481.2 L330.9,480.0 L331.1,478.9 L331.3,477.7 L331.6,476.5 L331.8,475.3 L332.0,474.1 L332.3,472.9 L332.5,471.8 L332.7,470.6 L333.0,469.4 L333.2,468.2 L333.4,467.0 L333.6,465.8 L333.9,464.7 L334.1,463.5 L334.3,462.3 L334.5,461.1 L334.7,459.9 L335.0,458.7 L335.2,457.6 L335.4,456.4 L335.6,455.2 L335.9,454.0 L336.1,452.8 L336.3,451.6 L336.5,450.5 L336.7,449.3 L337.0,448.1 L337.2,446.9 L337.4,445.7 L337.6,444.5 L337.8,443.4 L338.1,442.2 L338.3,441.0 L338.5,439.8 L338.7,438.6 L338.9,437.4 L339.1,436.3 L339.4,435.1 L339.6,433.9 L339.8,432.7 L340.0,431.5 L340.2,430.4 L340.5,429.2 L340.7,428.0 L340.9,426.8 L341.1,425.6 L341.3,424.4 L341.5,423.3 L341.7,422.1 L342.0,420.9 L342.2,419.7 L342.4,418.5 L342.6,417.3 L342.8,416.2 L343.0,415.0 L343.2,413.8 L343.4,412.6 L343.6,411.4 L343.8,410.2 L344.0,409.1 L344.2,407.9 L344.4,406.7 L344.7,405.5 L344.9,404.3 L345.1,403.1 L345.3,402.0 L345.5,400.8 L345.7,399.6 L345.8,398.4 L346.0,397.2 L346.2,396.0 L346.4,394.8 L346.6,393.7 L346.8,392.5 L347.0,391.3 L347.2,390.1 L347.4,388.9 L347.6,387.7 L347.8,386.6 L347.9,385.4 L348.1,384.2 L348.3,383.0 L348.5,381.8 L348.7,380.6 L348.8,379.4 L349.0,378.2 L349.2,377.1 L349.4,375.9 L349.5,374.7 L349.7,373.5 L349.9,372.3 L350.0,371.1 L350.2,369.9 L350.4,368.7 L350.5,367.5 L350.7,366.4 L350.9,365.2 L351.0,364.0 L351.2,362.8 L351.3,361.6 L351.5,360.4 L351.6,359.2 L351.8,358.0 L351.9,356.8 L352.1,355.6 L352.2,354.4 L352.4,353.2 L352.5,352.0 L352.6,350.9 L352.8,349.7 L352.9,348.5 L353.0,347.3 L353.2,346.1 L353.3,344.9 L353.4,343.7 L353.6,342.5 L353.7,341.3 L353.8,340.1 L353.9,338.9 L354.1,337.7 L354.2,336.5 L354.3,335.3 L354.4,334.1 L354.6,332.9 L354.7,331.7 L354.8,330.5 L354.9,329.3 L355.0,328.1 L355.1,326.9 L355.3,325.7 L355.4,324.5 L355.5,323.3 L355.6,322.1 L355.7,320.9 L355.8,319.7 L356.0,318.5 L356.1,317.3 L356.2,316.1 L356.3,314.9 L356.4,313.7 L356.5,312.5 L356.6,311.3 L356.7,310.1 L356.8,308.9 L357.0,307.7 L357.1,306.5 L357.2,305.3 L357.3,304.2 L357.4,303.0 L357.5,301.8 L357.6,300.6 L357.7,299.4 L357.8,298.2 L358.0,297.0 L358.1,295.8 L358.2,294.6 L358.3,293.4 L358.4,292.2 L358.5,291.0 L358.6,289.8 L358.7,288.6 L358.9,287.4 L359.0,286.2 L359.1,285.0 L359.2,283.8 L359.3,282.6 L359.5,281.4 L359.6,280.2 L359.7,279.0 L359.8,277.8 L359.9,276.6 L360.1,275.4 L360.2,274.2 L360.3,273.0 L360.4,271.8 L360.6,270.6 L360.7,269.4 L360.8,268.2 L361.0,267.0 L361.1,265.8 L361.2,264.6 L361.4,263.4 L361.5,262.2 L361.6,261.0 L361.8,259.8 L361.9,258.6 L362.1,257.4 L362.2,256.2 L362.4,255.0 L362.5,253.8 L362.7,252.6 L362.8,251.5 L363.0,250.3 L363.1,249.1 L363.3,247.9 L363.4,246.7 L363.6,245.5 L363.8,244.3 L363.9,243.1 L364.1,241.9 L364.3,240.7 L364.5,239.5 L364.6,238.3 L364.8,237.1 L365.0,236.0 L365.2,234.8 L365.4,233.6 L365.5,232.4 L365.7,231.2 L365.9,230.0 L366.1,228.8 L366.3,227.6 L366.5,226.4 L366.7,225.3 L366.9,224.1 L367.1,222.9 L367.3,221.7 L367.5,220.5 L367.8,219.3 L368.0,218.1 L368.2,217.0 L368.4,215.8 L368.6,214.6 L368.9,213.4 L369.1,212.2 L369.3,211.0 L369.5,209.9 L369.8,208.7 L370.0,207.5 L370.2,206.3 L370.5,205.1 L370.7,203.9 L370.9,202.8 L371.2,201.6 L371.4,200.4 L371.6,199.2 L371.9,198.0 L372.1,196.9 L372.3,195.7 L372.6,194.5 L372.8,193.3 L373.1,192.1 L373.3,190.9 L373.5,189.8 L373.8,188.6 L374.0,187.4 L374.3,186.2 L374.5,185.0 L374.7,183.9 L375.0,182.7 L375.2,181.5 L375.4,180.3 L375.7,179.1 L375.9,178.0 L376.2,176.8 L376.4,175.6 L376.6,174.4 L376.9,173.2 L377.1,172.1 L377.3,170.9 L377.5,169.7 L377.8,168.5 L378.0,167.3 L378.2,166.1 L378.4,165.0 L378.7,163.8 L378.9,162.6 L379.1,161.4 L379.3,160.2 L379.5,159.0 L379.7,157.9 L379.9,156.7 L380.2,155.5 L380.4,154.3 L380.6,153.1 L380.8,151.9 L381.0,150.8 L381.2,149.6 L390.6,138.4 L390.6,138.4 L391.0,139.6 L391.5,140.7 L391.9,141.8 L392.3,142.9 L392.7,144.0 L393.1,145.2 L393.5,146.3 L393.8,147.4 L394.2,148.6 L394.6,149.7 L394.9,150.8 L395.3,152.0 L395.7,153.1 L396.0,154.3 L396.3,155.4 L396.7,156.6 L397.0,157.7 L397.3,158.9 L397.7,160.0 L398.0,161.2 L398.3,162.3 L398.6,163.5 L398.9,164.6 L399.2,165.8 L399.5,167.0 L399.8,168.1 L400.0,169.3 L400.3,170.5 L400.6,171.6 L400.9,172.8 L401.1,174.0 L401.4,175.1 L401.7,176.3 L401.9,177.5 L402.2,178.6 L402.4,179.8 L402.7,181.0 L402.9,182.2 L403.1,183.4 L403.4,184.5 L403.6,185.7 L403.8,186.9 L404.1,188.1 L404.3,189.3 L404.5,190.4 L404.7,191.6 L405.0,192.8 L405.2,194.0 L405.4,195.2 L405.6,196.4 L405.8,197.5 L406.0,198.7 L406.2,199.9 L406.4,201.1 L406.6,202.3 L406.8,203.5 L407.0,204.7 L407.2,205.9 L407.4,207.1 L407.6,208.2 L407.8,209.4 L408.0,210.6 L408.2,211.8 L408.4,213.0 L408.6,214.2 L408.8,215.4 L409.0,216.6 L409.2,217.8 L409.3,219.0 L409.5,220.1 L409.7,221.3 L409.9,222.5 L410.1,223.7 L410.3,224.9 L410.5,226.1 L410.7,227.3 L410.8,228.5 L411.0,229.7 L411.2,230.9 L411.4,232.1 L411.6,233.2 L411.7,234.4 L411.9,235.6 L412.1,236.8 L412.3,238.0 L412.4,239.2 L412.6,240.4 L412.8,241.6 L413.0,242.8 L413.1,244.0 L413.3,245.2 L413.5,246.4 L413.7,247.6 L413.8,248.7 L414.0,249.9 L414.2,251.1 L414.4,252.3 L414.5,253.5 L414.7,254.7 L414.9,255.9 L415.0,257.1 L415.2,258.3 L415.4,259.5 L415.5,260.7 L415.7,261.9 L415.9,263.1 L416.0,264.3 L416.2,265.5 L416.4,266.7 L416.5,267.8 L416.7,269.0 L416.8,270.2 L417.0,271.4 L417.2,272.6 L417.3,273.8 L417.5,275.0 L417.6,276.2 L417.8,277.4 L418.0,278.6 L418.1,279.8 L418.3,281.0 L418.4,282.2 L418.6,283.4 L418.8,284.6 L418.9,285.8 L419.1,287.0 L419.2,288.2 L419.4,289.4 L419.5,290.6 L419.7,291.8 L419.9,292.9 L420.0,294.1 L420.2,295.3 L420.3,296.5 L420.5,297.7 L420.6,298.9 L420.8,300.1 L420.9,301.3 L421.1,302.5 L421.2,303.7 L421.4,304.9 L421.5,306.1 L421.7,307.3 L421.8,308.5 L422.0,309.7 L422.1,310.9 L422.3,312.1 L422.5,313.3 L422.6,314.5 L422.8,315.7 L422.9,316.9 L423.1,318.1 L423.2,319.3 L423.4,320.5 L423.5,321.7 L423.7,322.9 L423.8,324.1 L424.0,325.3 L424.1,326.4 L424.3,327.6 L424.4,328.8 L424.6,330.0 L424.7,331.2 L424.9,332.4 L425.0,333.6 L425.2,334.8 L425.3,336.0 L425.4,337.2 L425.6,338.4 L425.7,339.6 L425.9,340.8 L426.0,342.0 L426.2,343.2 L426.3,344.4 L426.5,345.6 L426.6,346.8 L426.8,348.0 L426.9,349.2 L427.1,350.4 L427.2,351.6 L427.4,352.8 L427.5,354.0 L427.7,355.2 L427.8,356.4 L428.0,357.6 L428.1,358.8 L428.3,360.0 L428.4,361.2 L428.6,362.4 L428.7,363.6 L428.9,364.8 L429.0,366.0 L429.2,367.2 L429.3,368.4 L429.5,369.6 L429.6,370.8 L429.8,372.0 L430.0,373.1 L430.1,374.3 L430.3,375.5 L430.4,376.7 L430.6,377.9 L430.7,379.1 L430.9,380.3 L431.0,381.5 L431.2,382.7 L431.3,383.9 L431.5,385.1 L431.6,386.3 L431.8,387.5 L432.0,388.7 L432.1,389.9 L432.3,391.1 L432.4,392.3 L432.6,393.5 L432.8,394.7 L432.9,395.9 L433.1,397.1 L433.2,398.3 L433.4,399.5 L433.6,400.7 L433.7,401.9 L433.9,403.1 L434.0,404.3 L434.2,405.5 L434.4,406.7 L434.5,407.9 L434.7,409.0 L434.9,410.2 L435.0,411.4 L435.2,412.6 L435.4,413.8 L435.5,415.0 L435.7,416.2 L435.9,417.4 L436.1,418.6 L436.2,419.8 L436.4,421.0 L436.6,422.2 L436.8,423.4 L436.9,424.6 L437.1,425.8 L437.3,427.0 L437.5,428.2 L437.6,429.4 L437.8,430.5 L438.0,431.7 L438.2,432.9 L438.4,434.1 L438.5,435.3 L438.7,436.5 L438.9,437.7 L439.1,438.9 L439.3,440.1 L439.5,441.3 L439.7,442.5 L439.9,443.7 L440.0,444.9 L440.2,446.0 L440.4,447.2 L440.6,448.4 L440.8,449.6 L441.0,450.8 L441.2,452.0 L441.4,453.2 L441.6,454.4 L441.8,455.6 L442.0,456.8 L442.2,457.9 L442.4,459.1 L442.6,460.3 L442.8,461.5 L443.1,462.7 L443.3,463.9 L443.5,465.1 L443.7,466.3 L443.9,467.4 L444.1,468.6 L444.3,469.8 L444.5,471.0 L444.8,472.2 L445.0,473.4 L445.2,474.6 L445.4,475.7 L445.7,476.9 L445.9,478.1 L446.1,479.3 L446.3,480.5 L446.6,481.7 L446.8,482.8 L447.0,484.0 L447.3,485.2 L447.5,486.4 L447.7,487.6 L448.0,488.8 L448.2,489.9 L448.4,491.1 L448.7,492.3 L448.9,493.5 L449.2,494.7 L449.4,495.8 L449.7,497.0 L449.9,498.2 L450.2,499.4 L450.4,500.6 L450.7,501.7 L451.0,502.9 L451.2,504.1 L451.5,505.3 L451.7,506.4 L452.0,507.6 L452.3,508.8 L452.5,510.0 L452.8,511.2 L453.1,512.3 L453.3,513.5 L453.6,514.7 L453.9,515.9 L454.2,517.0 L454.5,518.2 L454.7,519.4 L455.0,520.5 L455.3,521.7 L455.6,522.9 L455.9,524.1 L456.2,525.2 L456.5,526.4 L456.8,527.6 L457.1,528.7 L457.4,529.9 L457.7,531.1 L458.0,532.2 L458.3,533.4 L458.6,534.6 L458.9,535.7 L459.2,536.9 L459.6,538.1 L459.9,539.2 L460.2,540.4 L460.5,541.5 L460.9,542.7 L461.2,543.9 L461.6,545.0 L461.9,546.2 L462.3,547.3 L462.6,548.5 L463.0,549.6 L463.4,550.7 L463.7,551.9 L464.1,553.0 L464.5,554.2 L464.9,555.3 L465.3,556.4 L465.6,557.6 L466.1,558.7 L466.5,559.8 L466.9,560.9 L467.3,562.1 L467.7,563.2 L468.1,564.3 L468.6,565.4 L469.0,566.5 L469.5,567.6 L469.9,568.7 L470.4,569.8 L470.8,570.9 L471.3,572.0 L471.8,573.1 L472.3,574.2 L472.8,575.3 L473.3,576.4 L473.8,577.5 L474.3,578.6 L474.8,579.6 L475.4,580.7 L475.9,581.8 L476.4,582.8 L477.0,583.9 L477.6,584.9 L478.1,586.0 L478.7,587.0 L479.3,588.1 L479.9,589.1 L480.5,590.2 L481.1,591.2 L481.7,592.2 L482.4,593.2 L483.0,594.2 L483.7,595.3 L484.3,596.3 L485.0,597.3 L485.7,598.3 L486.3,599.3 L487.0,600.3 L487.7,601.2 L488.5,602.2 L489.2,603.2 L489.9,604.2 L490.7,605.1 L491.4,606.1 L492.2,607.1 L493.0,608.0 L493.0,608.0 L494.0,608.7 L495.0,609.4 L496.0,610.1 L497.0,610.8 L498.0,611.5 L499.0,612.2 L500.1,612.9 L501.1,613.5 L502.1,614.2 L503.2,614.8 L504.2,615.4 L505.3,616.0 L506.3,616.6 L507.4,617.2 L508.4,617.8 L509.5,618.4 L510.6,619.0 L511.6,619.5 L512.7,620.1 L513.8,620.6 L514.9,621.2 L516.0,621.7 L517.1,622.2 L518.1,622.7 L519.2,623.2 L520.3,623.7 L521.4,624.2 L522.6,624.7 L523.7,625.2 L524.8,625.6 L525.9,626.1 L527.0,626.5 L528.1,627.0 L529.2,627.4 L530.4,627.8 L531.5,628.2 L532.6,628.7 L533.8,629.1 L534.9,629.5 L536.0,629.8 L537.2,630.2 L538.3,630.6 L539.5,631.0 L540.6,631.3 L541.8,631.7 L542.9,632.0 L544.1,632.4 L545.2,632.7 L546.4,633.1 L547.6,633.4 L548.7,633.7 L549.9,634.0 L551.1,634.3 L552.2,634.6 L553.4,634.9 L554.6,635.2 L555.8,635.5 L556.9,635.8 L558.1,636.0 L559.3,636.3 L560.5,636.6 L561.7,636.8 L562.9,637.1 L564.1,637.3 L565.2,637.6 L566.4,637.8 L567.6,638.1 L568.8,638.3 L570.0,638.5 L571.2,638.7 L572.4,639.0 L573.6,639.2 L574.8,639.4 L576.0,639.6 L577.2,639.8 L578.4,640.0 L579.6,640.2 L580.8,640.4 L582.0,640.6 L583.2,640.8 L584.5,640.9 L585.7,641.1 L586.9,641.3 L588.1,641.5 L589.3,641.6 L590.5,641.8 L591.7,642.0 L592.9,642.1 L594.1,642.3 L595.4,642.4 L596.6,642.6 L597.8,642.7 L599.0,642.9 L600.2,643.0 L601.4,643.2 L602.6,643.3 L603.8,643.4 L605.1,643.6 L606.3,643.7 L607.5,643.8 L608.7,644.0 L609.9,644.1 L611.1,644.2 L612.3,644.4 L613.6,644.5 L614.8,644.6 L616.0,644.7 L617.2,644.8 L618.4,645.0 L619.6,645.1 L620.8,645.2 L622.0,645.3 L623.2,645.4 L624.4,645.6 L625.7,645.7 L626.9,645.8 L628.1,645.9 L629.3,646.0 L630.5,646.1 L631.7,646.3 L632.9,646.4 L634.1,646.5 L635.3,646.6 L636.5,646.7 L637.7,646.8 L638.9,647.0 L640.1,647.1 L641.2,647.2 L642.4,647.3 L643.6,647.4 L644.8,647.6" stroke="#008000"/>
<path d="M126.0,647.8 L127.2,647.7 L128.3,647.6 L129.5,647.5 L130.7,647.4 L131.9,647.4 L133.1,647.3 L134.3,647.2 L135.5,647.1 L136.7,647.0 L137.8,646.9 L139.0,646.9 L140.2,646.8 L141.4,646.7 L142.6,646.6 L143.8,646.5 L145.1,646.5 L146.3,646.4 L147.5,646.3 L148.7,646.2 L149.9,646.1 L151.1,646.0 L152.3,645.9 L153.5,645.9 L154.8,645.8 L156.0,645.7 L157.2,645.6 L158.4,645.5 L159.6,645.4 L160.8,645.3 L162.1,645.2 L163.3,645.1 L164.5,645.0 L165.7,644.9 L167.0,644.8 L168.2,644.7 L169.4,644.6 L170.6,644.5 L171.9,644.4 L173.1,644.2 L174.3,644.1 L175.5,644.0 L176.7,643.9 L178.0,643.7 L179.2,643.6 L180.4,643.5 L181.6,643.3 L182.8,643.2 L184.1,643.0 L185.3,642.9 L186.5,642.7 L187.7,642.5 L188.9,642.4 L190.1,642.2 L191.4,642.0 L192.6,641.8 L193.8,641.7 L195.0,641.5 L196.2,641.3 L197.4,641.1 L198.6,640.9 L199.8,640.6 L201.0,640.4 L202.2,640.2 L203.4,640.0 L204.6,639.7 L205.8,639.5 L207.0,639.3 L208.2,639.0 L209.3,638.7 L210.5,638.5 L211.7,638.2 L212.9,637.9 L214.1,637.6 L215.2,637.3 L216.4,637.0 L217.6,636.7 L218.7,636.4 L219.9,636.1 L221.1,635.8 L222.2,635.4 L223.4,635.1 L224.5,634.7 L225.7,634.4 L226.8,634.0 L227.9,633.6 L229.1,633.2 L230.2,632.8 L231.3,632.4 L232.4,632.0 L233.6,631.6 L234.7,631.2 L235.8,630.7 L236.9,630.3 L238.0,629.8 L239.1,629.3 L240.2,628.9 L241.3,628.4 L242.4,627.9 L243.4,627.4 L244.5,626.9 L245.6,626.3 L246.6,625.8 L247.7,625.2 L248.8,624.7 L249.8,624.1 L250.9,623.5 L251.9,623.0 L252.9,622.4 L254.0,621.7 L255.0,621.1 L256.0,620.5 L257.0,619.8 L258.0,619.2 L259.0,618.5 L260.0,617.8 L261.0,617.1 L262.0,616.4 L263.0,615.7 L263.9,615.0 L264.9,614.2 L265.9,613.5 L266.8,612.7 L267.8,612.0 L268.7,611.2 L269.6,610.4 L270.5,609.5 L271.5,608.7 L272.4,607.9 L273.3,607.0 L274.2,606.1 L275.1,605.3 L276.0,604.4 L276.8,603.4 L277.7,602.5 L277.7,602.5 L278.5,601.6 L279.3,600.6 L280.0,599.7 L280.8,598.7 L281.5,597.7 L282.3,596.8 L283.0,595.8 L283.7,594.8 L284.5,593.8 L285.2,592.9 L285.9,591.9 L286.5,590.9 L287.2,589.9 L287.9,588.9 L288.6,587.9 L289.2,586.9 L289.9,585.9 L290.5,584.8 L291.1,583.8 L291.8,582.8 L292.4,581.8 L293.0,580.8 L293.6,579.7 L294.2,578.7 L294.8,577.7 L295.4,576.6 L295.9,575.6 L296.5,574.5 L297.1,573.5 L297.6,572.4 L298.2,571.4 L298.7,570.3 L299.2,569.2 L299.8,568.2 L300.3,567.1 L300.8,566.0 L301.3,564.9 L301.8,563.9 L302.3,562.8 L302.8,561.7 L303.3,560.6 L303.7,559.5 L304.2,558.4 L304.7,557.3 L305.1,556.2 L305.6,555.1 L306.0,554.0 L306.5,552.9 L306.9,551.8 L307.3,550.7 L307.8,549.6 L308.2,548.5 L308.6,547.4 L309.0,546.3 L309.4,545.1 L309.8,544.0 L310.2,542.9 L310.6,541.8 L311.0,540.6 L311.3,539.5 L311.7,538.4 L312.1,537.2 L312.5,536.1 L312.8,534.9 L313.2,533.8 L313.5,532.7 L313.9,531.5 L314.2,530.4 L314.6,529.2 L314.9,528.1 L315.2,526.9 L315.6,525.7 L315.9,524.6 L316.2,523.4 L316.5,522.3 L316.8,521.1 L317.1,519.9 L317.4,518.8 L317.7,517.6 L318.0,516.5 L318.3,515.3 L318.6,514.1 L318.9,512.9 L319.2,511.8 L319.5,510.6 L319.8,509.4 L320.1,508.2 L320.3,507.1 L320.6,505.9 L320.9,504.7 L321.1,503.5 L321.4,502.4 L321.7,501.2 L321.9,500.0 L322.2,498.8 L322.4,497.6 L322.7,496.4 L323.0,495.3 L323.2,494.1 L323.5,492.9 L323.7,491.7 L324.0,490.5 L324.2,489.3 L324.4,488.1 L324.7,486.9 L324.9,485.8 L325.2,484.6 L325.4,483.4 L325.6,482.2 L325.9,481.0 L326.1,479.8 L326.3,478.6 L326.6,477.4 L326.8,476.2 L327.0,475.0 L327.3,473.8 L327.5,472.6 L327.7,471.4 L328.0,470.3 L328.2,469.1 L328.4,467.9 L328.6,466.7 L328.9,465.5 L329.1,464.3 L329.3,463.1 L329.6,461.9 L329.8,460.7 L330.0,459.5 L330.2,458.3 L330.5,457.2 L330.7,456.0 L330.9,454.8 L331.2,453.6 L331.4,452.4 L331.6,451.2 L331.9,450.0 L332.1,448.8 L332.3,447.7 L332.6,446.5 L332.8,445.3 L333.1,444.1 L333.3,442.9 L333.5,441.7 L333.8,440.5 L334.0,439.4 L334.2,438.2 L334.5,437.0 L334.7,435.8 L335.0,434.6 L335.2,433.5 L335.4,432.3 L335.7,431.1 L335.9,429.9 L336.2,428.7 L336.4,427.6 L336.7,426.4 L336.9,425.2 L337.1,424.0 L337.4,422.8 L337.6,421.7 L337.9,420.5 L338.1,419.3 L338.3,418.1 L338.6,417.0 L338.8,415.8 L339.1,414.6 L339.3,413.4 L339.5,412.3 L339.8,411.1 L340.0,409.9 L340.3,408.7 L340.5,407.6 L340.7,406.4 L341.0,405.2 L341.2,404.0 L341.4,402.8 L341.7,401.7 L341.9,400.5 L342.1,399.3 L342.4,398.1 L342.6,397.0 L342.8,395.8 L343.1,394.6 L343.3,393.4 L343.5,392.3 L343.7,391.1 L344.0,389.9 L344.2,388.7 L344.4,387.5 L344.6,386.4 L344.9,385.2 L345.1,384.0 L345.3,382.8 L345.5,381.7 L345.7,380.5 L346.0,379.3 L346.2,378.1 L346.4,376.9 L346.6,375.8 L346.8,374.6 L347.0,373.4 L347.2,372.2 L347.4,371.0 L347.7,369.8 L347.9,368.7 L348.1,367.5 L348.3,366.3 L348.5,365.1 L348.7,363.9 L348.9,362.8 L349.1,361.6 L349.3,360.4 L349.5,359.2 L349.7,358.0 L349.9,356.8 L350.1,355.7 L350.3,354.5 L350.5,353.3 L350.7,352.1 L350.9,350.9 L351.1,349.7 L351.3,348.5 L351.5,347.4 L351.7,346.2 L351.9,345.0 L352.1,343.8 L352.3,342.6 L352.4,341.4 L352.6,340.3 L352.8,339.1 L353.0,337.9 L353.2,336.7 L353.4,335.5 L353.6,334.3 L353.8,333.1 L354.0,331.9 L354.2,330.8 L354.3,329.6 L354.5,328.4 L354.7,327.2 L354.9,326.0 L355.1,324.8 L355.3,323.6 L355.5,322.4 L355.7,321.2 L355.9,320.1 L356.0,318.9 L356.2,317.7 L356.4,316.5 L356.6,315.3 L356.8,314.1 L357.0,312.9 L357.2,311.7 L357.3,310.5 L357.5,309.4 L357.7,308.2 L357.9,307.0 L358.1,305.8 L358.3,304.6 L358.5,303.4 L358.7,302.2 L358.8,301.0 L359.0,299.8 L359.2,298.6 L359.4,297.4 L359.6,296.3 L359.8,295.1 L360.0,293.9 L360.2,292.7 L360.4,291.5 L360.5,290.3 L360.7,289.1 L360.9,287.9 L361.1,286.7 L361.3,285.5 L361.5,284.3 L361.7,283.2 L361.9,282.0 L362.1,280.8 L362.3,279.6 L362.5,278.4 L362.7,277.2 L362.9,276.0 L363.1,274.8 L363.3,273.6 L363.5,272.5 L363.7,271.3 L363.9,270.1 L364.1,268.9 L364.3,267.7 L364.5,266.5 L364.7,265.3 L364.9,264.1 L365.1,262.9 L365.3,261.8 L365.6,260.6 L365.8,259.4 L366.0,258.2 L366.2,257.0 L366.4,255.8 L366.6,254.6 L366.9,253.5 L367.1,252.3 L367.3,251.1 L367.5,249.9 L367.7,248.7 L368.0,247.5 L368.2,246.3 L368.4,245.2 L368.7,244.0 L368.9,242.8 L369.1,241.6 L369.4,240.4 L369.6,239.3 L369.8,238.1 L370.1,236.9 L370.3,235.7 L370.6,234.5 L370.8,233.4 L371.1,232.2 L371.3,231.0 L371.6,229.8 L371.8,228.6 L372.1,227.5 L372.3,226.3 L372.6,225.1 L372.9,223.9 L373.1,222.8 L373.4,221.6 L373.7,220.4 L373.9,219.2 L374.2,218.1 L374.5,216.9 L374.8,215.7 L375.0,214.6 L375.3,213.4 L375.6,212.2 L375.9,211.1 L376.2,209.9 L376.5,208.7 L376.8,207.5 L377.1,206.4 L377.4,205.2 L377.7,204.1 L378.0,202.9 L378.3,201.7 L378.6,200.6 L378.9,199.4 L379.2,198.2 L379.5,197.1 L379.9,195.9 L380.2,194.8 L380.5,193.6 L380.8,192.4 L381.2,191.3 L381.2,191.3 L385.1,192.4 L390.6,185.7 L390.6,185.7 L391.1,186.8 L391.5,187.9 L392.0,189.0 L392.4,190.2 L392.8,191.3 L393.2,192.4 L393.7,193.5 L394.1,194.6 L394.5,195.8 L394.9,196.9 L395.2,198.0 L395.6,199.1 L396.0,200.3 L396.4,201.4 L396.7,202.6 L397.1,203.7 L397.4,204.8 L397.8,206.0 L398.1,207.1 L398.5,208.3 L398.8,209.4 L399.1,210.6 L399.4,211.7 L399.8,212.9 L400.1,214.0 L400.4,215.2 L400.7,216.4 L401.0,217.5 L401.3,218.7 L401.6,219.8 L401.8,221.0 L402.1,222.2 L402.4,223.3 L402.7,224.5 L402.9,225.7 L403.2,226.8 L403.5,228.0 L403.7,229.2 L404.0,230.4 L404.3,231.5 L404.5,232.7 L404.8,233.9 L405.0,235.1 L405.3,236.2 L405.5,237.4 L405.7,238.6 L406.0,239.8 L406.2,240.9 L406.5,242.1 L406.7,243.3 L406.9,244.5 L407.2,245.7 L407.4,246.9 L407.6,248.0 L407.9,249.2 L408.1,250.4 L408.3,251.6 L408.5,252.8 L408.8,253.9 L409.0,255.1 L409.2,256.3 L409.4,257.5 L409.7,258.7 L409.9,259.9 L410.1,261.0 L410.3,262.2 L410.5,263.4 L410.8,264.6 L411.0,265.8 L411.2,267.0 L411.4,268.1 L411.6,269.3 L411.9,270.5 L412.1,271.7 L412.3,272.9 L412.5,274.1 L412.7,275.3 L412.9,276.4 L413.1,277.6 L413.3,278.8 L413.6,280.0 L413.8,281.2 L414.0,282.4 L414.2,283.6 L414.4,284.7 L414.6,285.9 L414.8,287.1 L415.0,288.3 L415.2,289.5 L415.4,290.7 L415.6,291.9 L415.8,293.0 L416.1,294.2 L416.3,295.4 L416.5,296.6 L416.7,297.8 L416.9,299.0 L417.1,300.2 L417.3,301.3 L417.5,302.5 L417.7,303.7 L417.9,304.9 L418.1,306.1 L418.3,307.3 L418.5,308.5 L418.7,309.7 L418.9,310.9 L419.1,312.0 L419.3,313.2 L419.5,314.4 L419.7,315.6 L419.8,316.8 L420.0,318.0 L420.2,319.2 L420.4,320.4 L420.6,321.5 L420.8,322.7 L421.0,323.9 L421.2,325.1 L421.4,326.3 L421.6,327.5 L421.8,328.7 L422.0,329.9 L422.2,331.1 L422.4,332.3 L422.6,333.4 L422.8,334.6 L422.9,335.8 L423.1,337.0 L423.3,338.2 L423.5,339.4 L423.7,340.6 L423.9,341.8 L424.1,343.0 L424.3,344.1 L424.5,345.3 L424.6,346.5 L424.8,347.7 L425.0,348.9 L425.2,350.1 L425.4,351.3 L425.6,352.5 L425.8,353.7 L426.0,354.9 L426.2,356.0 L426.3,357.2 L426.5,358.4 L426.7,359.6 L426.9,360.8 L427.1,362.0 L427.3,363.2 L427.5,364.4 L427.6,365.6 L427.8,366.8 L428.0,368.0 L428.2,369.1 L428.4,370.3 L428.6,371.5 L428.8,372.7 L429.0,373.9 L429.1,375.1 L429.3,376.3 L429.5,377.5 L429.7,378.7 L429.9,379.9 L430.1,381.1 L430.3,382.2 L430.4,383.4 L430.6,384.6 L430.8,385.8 L431.0,387.0 L431.2,388.2 L431.4,389.4 L431.6,390.6 L431.7,391.8 L431.9,393.0 L432.1,394.2 L432.3,395.3 L432.5,396.5 L432.7,397.7 L432.9,398.9 L433.0,400.1 L433.2,401.3 L433.4,402.5 L433.6,403.7 L433.8,404.9 L434.0,406.1 L434.2,407.2 L434.4,408.4 L434.6,409.6 L434.7,410.8 L434.9,412.0 L435.1,413.2 L435.3,414.4 L435.5,415.6 L435.7,416.8 L435.9,418.0 L436.1,419.1 L436.3,420.3 L436.5,421.5 L436.7,422.7 L436.9,423.9 L437.1,425.1 L437.3,426.3 L437.5,427.5 L437.7,428.7 L437.9,429.8 L438.1,431.0 L438.3,432.2 L438.5,433.4 L438.7,434.6 L438.9,435.8 L439.1,437.0 L439.3,438.2 L439.5,439.3 L439.7,440.5 L439.9,441.7 L440.1,442.9 L440.3,444.1 L440.5,445.3 L440.7,446.5 L440.9,447.6 L441.1,448.8 L441.4,450.0 L441.6,451.2 L441.8,452.4 L442.0,453.6 L442.2,454.8 L442.4,455.9 L442.7,457.1 L442.9,458.3 L443.1,459.5 L443.3,460.7 L443.6,461.9 L443.8,463.0 L444.0,464.2 L444.2,465.4 L444.5,466.6 L444.7,467.8 L444.9,468.9 L445.2,470.1 L445.4,471.3 L445.6,472.5 L445.9,473.7 L446.1,474.8 L446.4,476.0 L446.6,477.2 L446.9,478.4 L447.1,479.6 L447.3,480.7 L447.6,481.9 L447.8,483.1 L448.1,484.3 L448.4,485.4 L448.6,486.6 L448.9,487.8 L449.1,489.0 L449.4,490.1 L449.6,491.3 L449.9,492.5 L450.2,493.7 L450.4,494.8 L450.7,496.0 L451.0,497.2 L451.3,498.4 L451.5,499.5 L451.8,500.7 L452.1,501.9 L452.4,503.0 L452.7,504.2 L452.9,505.4 L453.2,506.6 L453.5,507.7 L453.8,508.9 L454.1,510.1 L454.4,511.2 L454.7,512.4 L455.0,513.6 L455.3,514.7 L455.6,515.9 L455.9,517.1 L456.2,518.2 L456.5,519.4 L456.8,520.5 L457.1,521.7 L457.5,522.9 L457.8,524.0 L458.1,525.2 L458.4,526.4 L458.7,527.5 L459.1,528.7 L459.4,529.8 L459.7,531.0 L460.1,532.1 L460.4,533.3 L460.8,534.5 L461.1,535.6 L461.5,536.8 L461.8,537.9 L462.2,539.1 L462.5,540.2 L462.9,541.3 L463.3,542.5 L463.7,543.6 L464.0,544.8 L464.4,545.9 L464.8,547.0 L465.2,548.2 L465.6,549.3 L466.0,550.4 L466.4,551.6 L466.8,552.7 L467.2,553.8 L467.7,554.9 L468.1,556.1 L468.5,557.2 L469.0,558.3 L469.4,559.4 L469.8,560.5 L470.3,561.6 L470.8,562.7 L471.2,563.8 L471.7,564.9 L472.2,566.0 L472.7,567.1 L473.1,568.2 L473.6,569.3 L474.1,570.4 L474.7,571.5 L475.2,572.6 L475.7,573.6 L476.2,574.7 L476.8,575.8 L477.3,576.9 L477.8,577.9 L478.4,579.0 L479.0,580.0 L479.5,581.1 L480.1,582.1 L480.7,583.2 L481.3,584.2 L481.9,585.3 L482.5,586.3 L483.1,587.3 L483.8,588.4 L484.4,589.4 L485.0,590.4 L485.7,591.4 L486.3,592.4 L487.0,593.4 L487.7,594.4 L488.4,595.4 L489.0,596.4 L489.8,597.4 L490.5,598.4 L491.2,599.4 L491.9,600.4 L492.6,601.3 L493.4,602.3 L494.1,603.3 L494.1,603.3 L495.1,604.0 L496.1,604.7 L497.1,605.4 L498.1,606.2 L499.1,606.9 L500.2,607.5 L501.2,608.2 L502.2,608.9 L503.2,609.6 L504.3,610.2 L505.3,610.9 L506.3,611.5 L507.4,612.1 L508.4,612.8 L509.5,613.4 L510.5,614.0 L511.6,614.6 L512.6,615.2 L513.7,615.8 L514.7,616.3 L515.8,616.9 L516.9,617.5 L518.0,618.0 L519.0,618.5 L520.1,619.1 L521.2,619.6 L522.3,620.1 L523.4,620.6 L524.5,621.1 L525.6,621.6 L526.7,622.1 L527.8,622.6 L528.9,623.1 L530.0,623.6 L531.1,624.0 L532.2,624.5 L533.3,624.9 L534.5,625.4 L535.6,625.8 L536.7,626.2 L537.8,626.6 L539.0,627.1 L540.1,627.5 L541.2,627.9 L542.4,628.3 L543.5,628.7 L544.7,629.0 L545.8,629.4 L547.0,629.8 L548.1,630.2 L549.3,630.5 L550.4,630.9 L551.6,631.2 L552.7,631.6 L553.9,631.9 L555.1,632.2 L556.2,632.6 L557.4,632.9 L558.6,633.2 L559.7,633.5 L560.9,633.8 L562.1,634.1 L563.3,634.4 L564.4,634.7 L565.6,635.0 L566.8,635.3 L568.0,635.5 L569.2,635.8 L570.3,636.1 L571.5,636.4 L572.7,636.6 L573.9,636.9 L575.1,637.1 L576.3,637.4 L577.5,637.6 L578.7,637.8 L579.9,638.1 L581.1,638.3 L582.3,638.5 L583.4,638.8 L584.6,639.0 L585.8,639.2 L587.0,639.4 L588.2,639.6 L589.4,639.8 L590.7,640.0 L591.9,640.2 L593.1,640.4 L594.3,640.6 L595.5,640.8 L596.7,641.0 L597.9,641.2 L599.1,641.3 L600.3,641.5 L601.5,641.7 L602.7,641.9 L603.9,642.0 L605.1,642.2 L606.3,642.4 L607.5,642.5 L608.7,642.7 L610.0,642.9 L611.2,643.0 L612.4,643.2 L613.6,643.3 L614.8,643.5 L616.0,643.6 L617.2,643.8 L618.4,643.9 L619.6,644.1 L620.8,644.2 L622.0,644.3 L623.2,644.5 L624.4,644.6 L625.6,644.8 L626.8,644.9 L628.1,645.0 L629.3,645.2 L630.5,645.3 L631.7,645.4 L632.9,645.6 L634.1,645.7 L635.3,645.8 L636.5,645.9 L637.7,646.1 L638.8,646.2 L640.0,646.3 L641.2,646.5 L642.4,646.6 L643.6,646.7 L644.8,646.8" stroke="#ff0000"/>
<path d="M126.0,639.9 L127.2,639.5 L128.4,639.2 L129.6,638.9 L130.8,638.6 L132.0,638.3 L133.2,638.0 L134.5,637.7 L135.7,637.4 L136.9,637.1 L138.1,636.9 L139.3,636.6 L140.5,636.3 L141.8,636.1 L143.0,635.8 L144.2,635.6 L145.4,635.3 L146.6,635.1 L147.9,634.8 L149.1,634.6 L150.3,634.4 L151.5,634.1 L152.8,633.9 L154.0,633.7 L155.2,633.4 L156.4,633.2 L157.7,632.9 L158.9,632.7 L160.1,632.5 L161.3,632.2 L162.5,632.0 L163.8,631.7 L165.0,631.5 L166.2,631.2 L167.4,630.9 L168.6,630.7 L169.9,630.4 L171.0,630.1 L172.2,629.8 L173.4,629.5 L174.6,629.2 L175.8,628.9 L177.0,628.6 L178.1,628.2 L179.3,627.9 L180.5,627.6 L181.7,627.2 L182.8,626.9 L184.0,626.5 L185.1,626.1 L186.3,625.7 L187.4,625.3 L188.6,624.9 L189.7,624.5 L190.9,624.1 L192.0,623.7 L193.2,623.2 L194.3,622.8 L195.4,622.3 L196.6,621.9 L197.7,621.4 L198.8,620.9 L199.9,620.5 L201.0,620.0 L202.1,619.5 L203.2,619.0 L204.4,618.5 L205.5,617.9 L206.5,617.4 L207.6,616.9 L208.7,616.3 L209.8,615.8 L210.9,615.2 L212.0,614.7 L213.0,614.1 L214.1,613.5 L215.2,613.0 L216.2,612.4 L217.3,611.8 L218.4,611.2 L219.4,610.6 L220.5,609.9 L221.5,609.3 L222.5,608.7 L223.6,608.1 L224.6,607.4 L225.6,606.8 L226.6,606.1 L227.7,605.4 L228.7,604.8 L229.7,604.1 L230.7,603.4 L231.7,602.7 L232.7,602.0 L233.7,601.3 L234.7,600.6 L235.7,599.9 L236.6,599.2 L237.6,598.5 L238.6,597.7 L239.5,597.0 L240.5,596.3 L241.5,595.5 L242.4,594.8 L243.4,594.0 L244.3,593.2 L245.2,592.5 L246.2,591.7 L247.1,590.9 L248.0,590.1 L248.9,589.3 L249.9,588.5 L250.8,587.7 L251.7,586.9 L252.6,586.1 L253.5,585.3 L254.3,584.4 L255.2,583.6 L256.1,582.8 L257.0,581.9 L257.8,581.1 L258.7,580.2 L259.6,579.4 L260.4,578.5 L261.3,577.7 L262.1,576.8 L262.9,575.9 L263.8,575.0 L264.6,574.2 L265.4,573.3 L266.2,572.4 L267.0,571.5 L267.8,570.6 L268.6,569.7 L269.4,568.7 L270.2,567.8 L271.0,566.9 L271.8,566.0 L272.5,565.1 L273.3,564.1 L274.1,563.2 L274.8,562.3 L275.6,561.3 L276.3,560.4 L277.0,559.4 L277.0,559.4 L277.8,558.4 L278.5,557.5 L279.2,556.5 L280.0,555.5 L280.7,554.5 L281.4,553.5 L282.1,552.5 L282.8,551.5 L283.4,550.5 L284.1,549.5 L284.8,548.4 L285.4,547.4 L286.1,546.4 L286.7,545.4 L287.3,544.4 L288.0,543.3 L288.6,542.3 L289.2,541.2 L289.8,540.2 L290.4,539.2 L291.0,538.1 L291.6,537.1 L292.2,536.0 L292.7,534.9 L293.3,533.9 L293.9,532.8 L294.4,531.8 L295.0,530.7 L295.6,529.6 L296.1,528.6 L296.6,527.5 L297.2,526.4 L297.7,525.3 L298.2,524.2 L298.8,523.2 L299.3,522.1 L299.8,521.0 L300.3,519.9 L300.8,518.8 L301.3,517.7 L301.8,516.6 L302.3,515.5 L302.8,514.4 L303.3,513.3 L303.8,512.2 L304.3,511.1 L304.7,510.0 L305.2,508.9 L305.7,507.8 L306.2,506.7 L306.7,505.6 L307.1,504.5 L307.6,503.4 L308.1,502.3 L308.5,501.2 L309.0,500.1 L309.5,499.0 L309.9,497.8 L310.4,496.7 L310.9,495.6 L311.3,494.5 L311.8,493.4 L312.3,492.3 L312.7,491.2 L313.2,490.1 L313.6,488.9 L314.1,487.8 L314.6,486.7 L315.0,485.6 L315.5,484.5 L316.0,483.4 L316.4,482.3 L316.9,481.1 L317.4,480.0 L317.8,478.9 L318.3,477.8 L318.8,476.7 L319.2,475.6 L319.7,474.5 L320.2,473.4 L320.7,472.3 L321.2,471.2 L321.7,470.1 L322.1,469.0 L322.6,467.9 L323.1,466.8 L323.6,465.7 L324.1,464.6 L324.6,463.5 L325.1,462.4 L325.6,461.3 L326.1,460.2 L326.6,459.1 L327.2,458.0 L327.7,456.9 L328.2,455.8 L328.7,454.7 L329.2,453.6 L329.8,452.5 L330.3,451.4 L330.8,450.3 L331.3,449.3 L331.9,448.2 L332.4,447.1 L332.9,446.0 L333.5,444.9 L334.0,443.8 L334.6,442.8 L335.1,441.7 L335.6,440.6 L336.2,439.5 L336.7,438.4 L337.3,437.4 L337.8,436.3 L338.4,435.2 L339.0,434.1 L339.5,433.1 L340.1,432.0 L340.6,430.9 L341.2,429.9 L341.8,428.8 L342.3,427.7 L342.9,426.7 L343.5,425.6 L344.0,424.5 L344.6,423.5 L345.2,422.4 L345.8,421.3 L346.3,420.3 L346.9,419.2 L347.5,418.1 L348.1,417.1 L348.7,416.0 L349.2,415.0 L349.8,413.9 L350.4,412.9 L351.0,411.8 L351.6,410.7 L352.2,409.7 L352.8,408.6 L353.4,407.6 L354.0,406.5 L354.6,405.5 L355.2,404.4 L355.8,403.4 L356.4,402.3 L357.0,401.3 L357.6,400.3 L358.3,399.2 L358.9,398.2 L359.5,397.2 L360.1,396.1 L360.8,395.1 L361.4,394.1 L362.1,393.1 L362.7,392.1 L363.3,391.0 L364.0,390.0 L364.7,389.0 L365.3,388.0 L366.0,387.0 L366.7,386.0 L367.4,385.1 L368.0,384.1 L368.7,383.1 L369.4,382.1 L370.1,381.1 L370.8,380.2 L371.6,379.2 L372.3,378.3 L373.0,377.3 L373.7,376.4 L374.5,375.4 L375.2,374.5 L376.0,373.5 L376.8,372.6 L377.5,371.7 L378.3,370.8 L379.1,369.9 L379.9,369.0 L380.7,368.1 L381.5,367.2 L381.5,367.2 L385.9,344.8 L390.7,367.2 L390.7,367.2 L391.6,368.0 L392.5,368.8 L393.4,369.6 L394.3,370.4 L395.2,371.3 L396.0,372.1 L396.9,373.0 L397.7,373.9 L398.5,374.7 L399.3,375.6 L400.1,376.5 L400.9,377.4 L401.7,378.3 L402.4,379.3 L403.2,380.2 L403.9,381.1 L404.6,382.1 L405.3,383.0 L406.0,384.0 L406.7,384.9 L407.4,385.9 L408.1,386.9 L408.7,387.9 L409.4,388.9 L410.0,389.9 L410.7,390.9 L411.3,391.9 L411.9,392.9 L412.5,393.9 L413.1,395.0 L413.7,396.0 L414.3,397.1 L414.8,398.1 L415.4,399.1 L416.0,400.2 L416.5,401.3 L417.1,402.3 L417.6,403.4 L418.2,404.5 L418.7,405.5 L419.2,406.6 L419.7,407.7 L420.3,408.8 L420.8,409.9 L421.3,410.9 L421.8,412.0 L422.3,413.1 L422.8,414.2 L423.3,415.3 L423.8,416.4 L424.3,417.5 L424.7,418.6 L425.2,419.7 L425.7,420.8 L426.2,421.9 L426.7,423.0 L427.1,424.2 L427.6,425.3 L428.1,426.4 L428.5,427.5 L429.0,428.6 L429.5,429.7 L429.9,430.9 L430.4,432.0 L430.8,433.1 L431.3,434.2 L431.7,435.3 L432.2,436.5 L432.6,437.6 L433.1,438.7 L433.5,439.9 L434.0,441.0 L434.4,442.1 L434.8,443.2 L435.3,444.4 L435.7,445.5 L436.2,446.6 L436.6,447.8 L437.0,448.9 L437.5,450.0 L437.9,451.2 L438.4,452.3 L438.8,453.4 L439.2,454.6 L439.7,455.7 L440.1,456.8 L440.5,458.0 L441.0,459.1 L441.4,460.2 L441.9,461.4 L442.3,462.5 L442.7,463.6 L443.2,464.8 L443.6,465.9 L444.1,467.0 L444.5,468.2 L444.9,469.3 L445.4,470.4 L445.8,471.6 L446.3,472.7 L446.7,473.8 L447.2,474.9 L447.6,476.1 L448.1,477.2 L448.6,478.3 L449.0,479.4 L449.5,480.6 L449.9,481.7 L450.4,482.8 L450.9,483.9 L451.4,485.0 L451.8,486.1 L452.3,487.3 L452.8,488.4 L453.3,489.5 L453.8,490.6 L454.2,491.7 L454.7,492.8 L455.2,493.9 L455.7,495.0 L456.2,496.1 L456.7,497.2 L457.2,498.3 L457.7,499.4 L458.3,500.5 L458.8,501.6 L459.3,502.7 L459.8,503.7 L460.4,504.8 L460.9,505.9 L461.4,507.0 L462.0,508.1 L462.5,509.1 L463.1,510.2 L463.6,511.3 L464.1,512.4 L464.7,513.4 L465.3,514.5 L465.8,515.6 L466.4,516.6 L466.9,517.7 L467.5,518.8 L468.1,519.8 L468.6,520.9 L469.2,521.9 L469.8,523.0 L470.3,524.1 L470.9,525.1 L471.5,526.2 L472.1,527.2 L472.6,528.3 L473.2,529.4 L473.8,530.4 L474.4,531.5 L475.0,532.5 L475.5,533.6 L476.1,534.6 L476.7,535.7 L477.3,536.7 L477.9,537.8 L478.5,538.8 L479.0,539.9 L479.6,541.0 L480.2,542.0 L480.8,543.1 L481.4,544.1 L482.0,545.2 L482.6,546.2 L483.1,547.3 L483.7,548.3 L484.3,549.4 L484.9,550.5 L485.5,551.5 L486.1,552.6 L486.6,553.6 L487.2,554.7 L487.8,555.7 L488.4,556.8 L489.0,557.9 L489.5,558.9 L490.1,560.0 L490.7,561.1 L491.3,562.1 L491.8,563.2 L492.4,564.3 L493.0,565.3 L493.0,565.3 L493.8,566.2 L494.6,567.2 L495.4,568.1 L496.2,569.0 L497.0,569.9 L497.8,570.8 L498.7,571.7 L499.5,572.5 L500.3,573.4 L501.2,574.3 L502.0,575.2 L502.9,576.0 L503.8,576.9 L504.6,577.7 L505.5,578.6 L506.4,579.4 L507.2,580.3 L508.1,581.1 L509.0,581.9 L509.9,582.8 L510.8,583.6 L511.7,584.4 L512.6,585.2 L513.5,586.0 L514.5,586.8 L515.4,587.6 L516.3,588.4 L517.2,589.2 L518.2,589.9 L519.1,590.7 L520.1,591.5 L521.0,592.2 L522.0,593.0 L522.9,593.7 L523.9,594.5 L524.9,595.2 L525.8,595.9 L526.8,596.7 L527.8,597.4 L528.8,598.1 L529.7,598.8 L530.7,599.5 L531.7,600.2 L532.7,600.9 L533.7,601.6 L534.7,602.3 L535.8,602.9 L536.8,603.6 L537.8,604.3 L538.8,604.9 L539.8,605.6 L540.9,606.2 L541.9,606.8 L543.0,607.5 L544.0,608.1 L545.0,608.7 L546.1,609.3 L547.2,609.9 L548.2,610.5 L549.3,611.1 L550.3,611.7 L551.4,612.2 L552.5,612.8 L553.6,613.4 L554.6,613.9 L555.7,614.5 L556.8,615.0 L557.9,615.6 L559.0,616.1 L560.1,616.6 L561.2,617.1 L562.3,617.7 L563.4,618.2 L564.5,618.7 L565.6,619.1 L566.7,619.6 L567.8,620.1 L569.0,620.6 L570.1,621.0 L571.2,621.5 L572.4,621.9 L573.5,622.4 L574.6,622.8 L575.8,623.2 L576.9,623.6 L578.1,624.1 L579.2,624.5 L580.4,624.9 L581.5,625.2 L582.7,625.6 L583.8,626.0 L585.0,626.4 L586.2,626.7 L587.3,627.1 L588.5,627.4 L589.7,627.8 L590.8,628.1 L592.0,628.4 L593.2,628.7 L594.4,629.0 L595.6,629.3 L596.8,629.6 L598.0,629.9 L599.1,630.2 L600.3,630.5 L601.5,630.7 L602.7,631.0 L604.0,631.2 L605.2,631.5 L606.4,631.8 L607.7,632.1 L608.9,632.3 L610.1,632.6 L611.4,632.9 L612.6,633.1 L613.8,633.4 L615.1,633.7 L616.3,633.9 L617.5,634.2 L618.8,634.4 L620.0,634.7 L621.2,634.9 L622.5,635.2 L623.7,635.4 L625.0,635.7 L626.2,635.9 L627.4,636.1 L628.7,636.4 L629.9,636.6 L631.1,636.9 L632.4,637.1 L633.6,637.3 L634.9,637.5 L636.1,637.8 L637.4,638.0 L638.6,638.2 L639.8,638.4 L641.1,638.6 L642.3,638.8 L643.6,639.1 L644.8,639.3" stroke="#ff00ff"/>
</g>
<rect x="126.0" y="17.4" width="519.7" height="633.0" fill="none" stroke="#000" stroke-width="1.6" stroke-linecap="square"/>
<line x1="169.31" y1="650.4" x2="169.31" y2="657.4" stroke="#000" stroke-width="1.6"/>
<line x1="277.58" y1="650.4" x2="277.58" y2="657.4" stroke="#000" stroke-width="1.6"/>
<line x1="385.85" y1="650.4" x2="385.85" y2="657.4" stroke="#000" stroke-width="1.6"/>
<line x1="494.12" y1="650.4" x2="494.12" y2="657.4" stroke="#000" stroke-width="1.6"/>
<line x1="602.39" y1="650.4" x2="602.39" y2="657.4" stroke="#000" stroke-width="1.6"/>
<line x1="119.0" y1="650.40" x2="126.0" y2="650.40" stroke="#000" stroke-width="1.6"/>
<line x1="119.0" y1="523.80" x2="126.0" y2="523.80" stroke="#000" stroke-width="1.6"/>
<line x1="119.0" y1="397.20" x2="126.0" y2="397.20" stroke="#000" stroke-width="1.6"/>
<line x1="119.0" y1="270.60" x2="126.0" y2="270.60" stroke="#000" stroke-width="1.6"/>
<line x1="119.0" y1="144.00" x2="126.0" y2="144.00" stroke="#000" stroke-width="1.6"/>
<line x1="119.0" y1="17.40" x2="126.0" y2="17.40" stroke="#000" stroke-width="1.6"/>
<text x="169.3" y="689.7" font-family='"Liberation Sans", sans-serif' font-size="35.0" text-anchor="middle" textLength="67.5" lengthAdjust="spacingAndGlyphs">−50</text>
<text x="277.6" y="689.7" font-family='"Liberation Sans", sans-serif' font-size="35.0" text-anchor="middle" textLength="67.5" lengthAdjust="spacingAndGlyphs">−25</text>
<text x="385.9" y="689.7" font-family='"Liberation Sans", sans-serif' font-size="35.0" text-anchor="middle" textLength="20.4" lengthAdjust="spacingAndGlyphs">0</text>
<text x="494.1" y="689.7" font-family='"Liberation Sans", sans-serif' font-size="35.0" text-anchor="middle" textLength="40.7" lengthAdjust="spacingAndGlyphs">25</text>
<text x="602.4" y="689.7" font-family='"Liberation Sans", sans-serif' font-size="35.0" text-anchor="middle" textLength="40.7" lengthAdjust="spacingAndGlyphs">50</text>
<text x="110.0" y="662.7" font-family='"Liberation Sans", sans-serif' font-size="35.5" text-anchor="end" textLength="71.3" lengthAdjust="spacingAndGlyphs">0.00</text>
<text x="110.0" y="536.1" font-family='"Liberation Sans", sans-serif' font-size="35.5" text-anchor="end" textLength="71.3" lengthAdjust="spacingAndGlyphs">0.01</text>
<text x="110.0" y="409.5" font-family='"Liberation Sans", sans-serif' font-size="35.5" text-anchor="end" textLength="71.3" lengthAdjust="spacingAndGlyphs">0.02</text>
<text x="110.0" y="282.9" font-family='"Liberation Sans", sans-serif' font-size="35.5" text-anchor="end" textLength="71.3" lengthAdjust="spacingAndGlyphs">0.03</text>
<text x="110.0" y="156.3" font-family='"Liberation Sans", sans-serif' font-size="35.5" text-anchor="end" textLength="71.3" lengthAdjust="spacingAndGlyphs">0.04</text>
<text x="110.0" y="29.7" font-family='"Liberation Sans", sans-serif' font-size="35.5" text-anchor="end" textLength="71.3" lengthAdjust="spacingAndGlyphs">0.05</text>
<text x="251.7" y="731.2" font-family='"Liberation Sans", sans-serif' font-size="33.6" text-anchor="start" textLength="170.1" lengthAdjust="spacingAndGlyphs">EEG signal</text>
<text x="433.1" y="731.2" font-family='"Liberation Serif", serif' font-size="46" textLength="10.5" lengthAdjust="spacingAndGlyphs">(</text>
<text x="446.6" y="731.2" font-family='"Liberation Serif", serif' font-size="45" font-style="italic">&#956;</text>
<text x="470.1" y="731.2" font-family='"Liberation Serif", serif' font-size="44" textLength="28" lengthAdjust="spacingAndGlyphs">V</text>
<text x="500.9" y="731.2" font-family='"Liberation Serif", serif' font-size="46" textLength="10.5" lengthAdjust="spacingAndGlyphs">)</text>
<g transform="translate(24.2,332.7) rotate(-90)"><text x="0.0" y="0.0" font-family='"Liberation Sans", sans-serif' font-size="33.6" text-anchor="middle" textLength="170.7" lengthAdjust="spacingAndGlyphs">probability</text></g>
<text x="137.5" y="65.1" font-family='"Liberation Sans", sans-serif' font-size="37.0" text-anchor="start" textLength="10.8" lengthAdjust="spacingAndGlyphs">(</text>
<text x="152.5" y="68.0" font-family='"Liberation Sans", sans-serif' font-size="41.0" text-anchor="start" textLength="19.8" lengthAdjust="spacingAndGlyphs">a</text>
<text x="177.9" y="65.1" font-family='"Liberation Sans", sans-serif' font-size="37.0" text-anchor="start" textLength="10.8" lengthAdjust="spacingAndGlyphs">)</text>
<rect x="474.0" y="30.0" width="158.5" height="196.0" rx="5.5" ry="5.5" fill="#ffffff" fill-opacity="0.8" stroke="#cccccc" stroke-width="2"/>
<line x1="484.0" y1="50.9" x2="536.0" y2="50.9" stroke="#000000" stroke-width="4.0" stroke-linecap="square"/>
<text x="556.8" y="59.8" font-family='"Liberation Sans", sans-serif' font-size="27.3" text-anchor="start" textLength="67.3" lengthAdjust="spacingAndGlyphs">wake</text>
<line x1="484.0" y1="88.7" x2="536.0" y2="88.7" stroke="#0000ff" stroke-width="4.0" stroke-linecap="square"/>
<text x="556.8" y="97.6" font-family='"Liberation Sans", sans-serif' font-size="27.3" text-anchor="start" textLength="56.9" lengthAdjust="spacingAndGlyphs">REM</text>
<line x1="484.0" y1="126.5" x2="536.0" y2="126.5" stroke="#008000" stroke-width="4.0" stroke-linecap="square"/>
<text x="556.8" y="135.4" font-family='"Liberation Sans", sans-serif' font-size="27.3" text-anchor="start" textLength="36.0" lengthAdjust="spacingAndGlyphs">N1</text>
<line x1="484.0" y1="164.3" x2="536.0" y2="164.3" stroke="#ff0000" stroke-width="4.0" stroke-linecap="square"/>
<text x="556.8" y="173.2" font-family='"Liberation Sans", sans-serif' font-size="27.3" text-anchor="start" textLength="36.0" lengthAdjust="spacingAndGlyphs">N2</text>
<line x1="484.0" y1="202.1" x2="536.0" y2="202.1" stroke="#ff00ff" stroke-width="4.0" stroke-linecap="square"/>
<text x="556.8" y="211.0" font-family='"Liberation Sans", sans-serif' font-size="27.3" text-anchor="start" textLength="36.0" lengthAdjust="spacingAndGlyphs">N3</text>
<line x1="876.14" y1="17.4" x2="876.14" y2="650.4" stroke="#b0b0b0" stroke-width="1.6"/>
<line x1="1061.50" y1="17.4" x2="1061.50" y2="650.4" stroke="#b0b0b0" stroke-width="1.6"/>
<line x1="1246.86" y1="17.4" x2="1246.86" y2="650.4" stroke="#b0b0b0" stroke-width="1.6"/>
<line x1="802.0" y1="650.40" x2="1321.0" y2="650.40" stroke="#b0b0b0" stroke-width="1.6"/>
<line x1="802.0" y1="492.15" x2="1321.0" y2="492.15" stroke="#b0b0b0" stroke-width="1.6"/>
<line x1="802.0" y1="333.90" x2="1321.0" y2="333.90" stroke="#b0b0b0" stroke-width="1.6"/>
<line x1="802.0" y1="175.65" x2="1321.0" y2="175.65" stroke="#b0b0b0" stroke-width="1.6"/>
<line x1="802.0" y1="17.40" x2="1321.0" y2="17.40" stroke="#b0b0b0" stroke-width="1.6"/>
<g clip-path="url(#clipb)" fill="none" stroke-width="4.0" stroke-linejoin="round" stroke-linecap="butt">
<path d="M802.1,491.1 L803.7,489.4 L805.2,488.5 L806.8,487.3 L808.4,486.9 L809.9,484.9 L811.5,485.1 L813.0,483.4 L814.6,482.7 L816.2,481.5 L817.7,481.0 L819.3,479.0 L820.8,478.5 L822.4,477.4 L823.9,476.8 L825.5,475.2 L827.0,474.5 L828.6,473.2 L830.2,472.5 L831.7,471.6 L833.3,470.1 L834.8,469.7 L836.3,468.6 L837.9,467.5 L839.4,466.6 L841.0,465.1 L842.5,464.2 L844.1,463.0 L845.6,462.1 L847.1,461.3 L848.7,459.9 L850.2,458.9 L851.7,457.8 L853.2,456.7 L854.8,455.7 L856.3,454.8 L857.8,453.5 L859.3,452.7 L860.8,452.0 L862.3,450.7 L863.8,449.4 L865.3,448.1 L866.8,447.1 L868.3,446.5 L869.8,445.0 L871.3,443.8 L872.8,442.8 L874.3,442.1 L875.7,440.6 L877.2,439.6 L878.7,438.4 L880.1,437.1 L881.6,435.8 L883.1,434.8 L884.5,433.6 L886.0,432.6 L887.4,431.5 L888.8,430.4 L890.3,429.0 L891.7,428.0 L893.1,426.5 L894.5,425.7 L895.9,424.3 L897.3,422.9 L898.7,421.9 L900.1,420.5 L901.5,419.5 L902.9,418.4 L904.3,417.3 L905.7,415.4 L907.0,414.1 L908.4,413.0 L909.8,411.9 L911.1,410.7 L912.5,409.3 L913.8,407.7 L915.1,406.7 L916.5,405.6 L917.8,404.2 L919.1,403.0 L920.4,401.5 L921.7,400.2 L923.0,398.9 L924.3,397.6 L925.6,396.2 L926.9,394.9 L928.2,393.4 L929.4,392.2 L930.7,390.8 L932.0,389.6 L933.2,388.2 L934.5,386.7 L935.7,385.2 L936.9,383.8 L938.1,382.6 L939.3,381.1 L940.5,379.6 L941.7,378.3 L942.9,376.8 L944.1,375.5 L945.3,373.9 L946.5,372.7 L947.6,371.1 L948.8,369.7 L949.9,368.0 L951.0,366.7 L952.2,365.3 L953.3,363.6 L954.4,362.2 L955.5,360.8 L956.6,359.1 L957.7,357.8 L958.7,356.3 L959.8,354.6 L960.9,353.2 L961.9,351.5 L962.9,350.1 L964.0,348.4 L965.0,347.2 L966.0,345.5 L967.0,343.9 L968.0,342.3 L969.0,340.9 L970.0,339.4 L970.9,337.4 L971.9,336.2 L972.9,334.6 L973.8,332.9 L974.7,331.1 L975.7,329.7 L976.6,328.0 L977.5,326.4 L978.4,324.7 L979.3,323.2 L980.2,321.6 L981.1,319.9 L982.0,318.3 L982.8,316.5 L983.7,315.1 L984.5,313.3 L985.4,311.7 L986.2,310.0 L987.1,308.4 L987.9,306.8 L988.7,305.1 L989.5,303.4 L990.3,301.7 L991.1,300.1 L991.9,298.4 L992.6,296.7 L993.4,294.9 L994.2,293.1 L994.9,291.7 L995.7,290.0 L996.4,288.2 L997.2,286.5 L997.9,284.8 L998.6,283.1 L999.3,281.4 L1000.0,279.6 L1000.8,277.9 L1001.4,276.1 L1002.1,274.5 L1002.8,272.7 L1003.5,271.1 L1004.2,269.3 L1004.8,267.6 L1005.5,265.8 L1006.2,264.2 L1006.8,262.2 L1007.4,260.6 L1008.1,258.9 L1008.7,257.3 L1009.3,255.4 L1010.0,253.6 L1010.6,251.9 L1011.2,250.2 L1011.8,248.4 L1012.4,246.6 L1013.0,244.8 L1013.6,243.0 L1014.1,241.3 L1014.7,239.6 L1015.3,237.9 L1015.8,236.0 L1016.4,234.2 L1017.0,232.5 L1017.5,230.7 L1018.1,229.0 L1018.6,227.2 L1019.1,225.5 L1019.7,223.6 L1020.2,221.9 L1020.7,220.1 L1021.3,218.3 L1021.8,216.4 L1022.3,214.7 L1022.8,213.0 L1023.3,211.2 L1023.8,209.4 L1024.3,207.6 L1024.8,205.8 L1025.3,204.0 L1025.8,202.3 L1026.2,200.4 L1026.7,198.6 L1027.2,196.8 L1027.7,195.0 L1028.1,193.2 L1028.6,191.5 L1029.0,189.6 L1029.5,187.8 L1030.0,186.1 L1030.4,184.2 L1030.8,182.4 L1031.3,180.7 L1031.7,178.9 L1032.2,177.0 L1032.6,175.3 L1033.1,173.4 L1033.5,171.7 L1033.9,169.8 L1034.4,168.1 L1034.8,166.2 L1035.3,164.4 L1035.7,162.7 L1036.2,160.8 L1036.7,159.0 L1037.1,157.2 L1037.6,155.4 L1038.1,153.6 L1038.6,151.9 L1039.0,150.1 L1039.5,148.3 L1040.0,146.5 L1040.6,144.7 L1041.1,142.9 L1041.6,141.1 L1042.2,139.3 L1042.7,137.6 L1043.3,135.8 L1043.8,134.1 L1044.4,132.3 L1045.0,130.5 L1045.7,128.8 L1046.3,127.1 L1046.9,125.3 L1047.6,123.6 L1048.3,121.9 L1048.9,120.1 L1049.7,118.4 L1050.4,116.7 L1051.1,114.9 L1051.9,113.3 L1052.6,111.6 L1053.4,109.9 L1054.3,108.3 L1055.1,106.6 L1055.9,105.0 L1056.8,103.3 L1057.7,101.7 L1058.6,100.1 L1059.5,98.5 L1060.5,96.9 L1060.6,95.2 L1060.2,93.4 L1059.9,91.5 L1059.7,89.7 L1059.6,87.8 L1059.6,85.9 L1059.7,84.1 L1059.9,82.3 L1060.1,80.4 L1060.5,78.6 L1061.0,76.8 L1061.5,75.0 L1062.1,73.5 L1062.8,75.3 L1063.3,77.0 L1063.8,78.8 L1064.1,80.6 L1064.4,82.5 L1064.5,84.3 L1064.6,86.2 L1064.6,88.0 L1064.5,89.9 L1064.3,91.7 L1064.0,93.6 L1063.6,95.4 L1063.9,97.0 L1065.0,98.5 L1066.0,100.1 L1067.0,101.7 L1067.9,103.2 L1068.8,104.9 L1069.7,106.5 L1070.6,108.2 L1071.4,109.8 L1072.2,111.5 L1073.0,113.2 L1073.7,114.9 L1074.5,116.5 L1075.2,118.3 L1075.9,120.0 L1076.7,121.7 L1077.4,123.4 L1078.1,125.1 L1078.8,126.8 L1079.5,128.6 L1080.2,130.3 L1080.9,132.0 L1081.5,133.7 L1082.2,135.5 L1082.8,137.2 L1083.5,139.0 L1084.1,140.7 L1084.7,142.5 L1085.3,144.2 L1085.9,146.0 L1086.4,147.7 L1087.0,149.5 L1087.5,151.3 L1088.0,153.1 L1088.6,154.8 L1089.1,156.7 L1089.5,158.5 L1090.0,160.2 L1090.5,162.1 L1090.9,163.8 L1091.4,165.7 L1091.8,167.4 L1092.3,169.3 L1092.7,171.0 L1093.1,172.8 L1093.5,174.7 L1094.0,176.4 L1094.4,178.2 L1094.8,180.0 L1095.2,181.8 L1095.6,183.6 L1096.0,185.5 L1096.4,187.4 L1096.8,189.1 L1097.2,190.9 L1097.6,192.7 L1098.0,194.5 L1098.5,196.4 L1098.9,198.2 L1099.3,200.0 L1099.8,201.7 L1100.2,203.6 L1100.7,205.4 L1101.1,207.2 L1101.6,209.0 L1102.1,210.7 L1102.6,212.5 L1103.1,214.3 L1103.6,216.1 L1104.1,217.9 L1104.7,219.6 L1105.2,221.4 L1105.8,223.2 L1106.4,224.9 L1107.0,226.7 L1107.5,228.5 L1108.2,230.3 L1108.8,232.0 L1109.4,233.6 L1110.0,235.5 L1110.7,237.2 L1111.3,239.0 L1112.0,240.7 L1112.7,242.5 L1113.3,244.1 L1114.0,246.0 L1114.7,247.6 L1115.4,249.4 L1116.1,251.0 L1116.8,252.6 L1117.6,254.5 L1118.3,256.2 L1119.0,257.9 L1119.8,259.5 L1120.5,261.2 L1121.3,263.0 L1122.0,264.6 L1122.8,266.3 L1123.5,268.0 L1124.3,269.7 L1125.1,271.4 L1125.9,273.0 L1126.6,274.9 L1127.4,276.4 L1128.2,278.2 L1129.0,279.7 L1129.8,281.5 L1130.6,283.0 L1131.4,284.9 L1132.2,286.5 L1133.0,288.3 L1133.9,289.7 L1134.7,291.5 L1135.5,293.2 L1136.3,294.9 L1137.1,296.5 L1137.9,298.2 L1138.7,299.7 L1139.6,301.4 L1140.4,303.2 L1141.2,304.9 L1142.0,306.5 L1142.8,308.3 L1143.7,310.0 L1144.5,311.5 L1145.3,312.9 L1146.1,314.7 L1147.0,316.4 L1147.8,318.2 L1148.6,319.8 L1149.5,321.3 L1150.3,323.1 L1151.1,324.9 L1152.0,326.4 L1152.8,328.0 L1153.7,329.9 L1154.6,331.4 L1155.4,332.9 L1156.3,334.7 L1157.2,336.3 L1158.1,337.8 L1159.0,339.6 L1159.9,341.3 L1160.8,342.8 L1161.7,344.4 L1162.6,346.1 L1163.5,347.6 L1164.5,349.2 L1165.4,350.9 L1166.4,352.5 L1167.4,354.2 L1168.3,355.6 L1169.3,356.9 L1170.3,358.5 L1171.3,360.4 L1172.4,361.7 L1173.4,363.3 L1174.4,364.7 L1175.5,366.5 L1176.6,367.8 L1177.7,369.6 L1178.7,370.8 L1179.8,372.5 L1181.0,374.0 L1182.1,375.2 L1183.2,377.0 L1184.3,378.2 L1185.5,379.6 L1186.6,381.3 L1187.8,382.5 L1189.0,384.0 L1190.2,385.4 L1191.4,386.8 L1192.6,388.5 L1193.8,389.8 L1195.0,391.1 L1196.2,392.5 L1197.4,394.0 L1198.7,395.6 L1199.9,396.8 L1201.2,398.0 L1202.4,399.5 L1203.7,400.8 L1205.0,402.1 L1206.2,403.8 L1207.5,404.7 L1208.8,406.1 L1210.1,407.2 L1211.4,408.6 L1212.7,410.2 L1214.0,411.3 L1215.3,412.8 L1216.7,413.9 L1218.0,415.2 L1219.3,416.8 L1220.7,418.2 L1222.0,419.3 L1223.3,420.7 L1224.7,422.1 L1226.0,423.3 L1227.4,424.1 L1228.7,425.6 L1230.1,427.0 L1231.5,428.0 L1232.8,429.5 L1234.2,430.3 L1235.6,431.7 L1237.0,433.2 L1238.3,433.9 L1239.7,435.4 L1241.1,436.8 L1242.5,437.7 L1243.9,439.3 L1245.3,440.3 L1246.7,441.7 L1248.1,442.9 L1249.4,444.2 L1250.8,445.3 L1252.2,446.6 L1253.7,447.7 L1255.1,449.2 L1256.5,450.6 L1257.9,451.5 L1259.3,452.7 L1260.7,453.6 L1262.1,455.2 L1263.5,456.1 L1265.0,457.2 L1266.4,458.8 L1267.8,459.8 L1269.3,461.2 L1270.7,462.5 L1272.2,463.2 L1273.6,464.5 L1275.1,466.1 L1276.5,467.0 L1278.0,468.1 L1279.4,469.4 L1280.9,470.0 L1282.4,471.5 L1283.9,472.8 L1285.3,474.0 L1286.8,474.4 L1288.3,475.7 L1289.8,477.0 L1291.3,477.9 L1292.8,478.9 L1294.4,480.3 L1295.9,481.0 L1297.4,481.7 L1298.9,483.4 L1300.5,484.2 L1302.0,485.1 L1303.6,485.9 L1305.1,487.7 L1306.7,487.7 L1308.2,488.9 L1309.8,490.3 L1311.4,491.7 L1313.0,492.7 L1314.5,492.9 L1316.1,494.2 L1317.7,494.7 L1319.3,496.4 L1321.0,496.5" stroke="#000000"/>
<path d="M802.1,622.0 L803.4,621.1 L804.6,616.9 L805.9,620.7 L807.3,614.8 L808.6,614.9 L810.1,615.4 L811.5,612.0 L813.0,611.1 L814.5,610.3 L816.0,611.1 L817.6,612.2 L819.1,608.4 L820.7,606.0 L822.3,607.2 L823.9,604.8 L825.5,604.6 L827.2,605.2 L828.8,602.0 L830.4,602.0 L832.1,600.1 L833.7,600.1 L835.3,599.7 L836.9,597.3 L838.5,597.1 L840.1,596.3 L841.7,594.9 L843.3,593.3 L844.8,592.0 L846.3,592.4 L847.8,591.2 L849.3,592.8 L850.8,586.6 L852.3,588.2 L853.7,587.3 L855.1,587.2 L856.5,585.1 L857.9,582.5 L859.3,582.1 L860.7,581.4 L862.0,579.3 L863.4,579.1 L864.7,575.2 L866.0,577.4 L867.3,575.8 L868.6,572.8 L869.9,572.3 L871.2,570.5 L872.5,568.3 L873.7,567.8 L875.0,567.3 L876.3,564.6 L877.5,563.3 L878.7,562.2 L880.0,561.2 L881.2,560.6 L882.4,557.5 L883.7,557.1 L884.9,555.5 L886.1,552.4 L887.3,552.2 L888.5,551.0 L889.7,549.7 L890.9,548.6 L892.1,545.2 L893.3,545.5 L894.5,543.5 L895.7,541.5 L896.9,541.6 L898.0,540.3 L899.2,537.8 L900.4,537.5 L901.5,535.1 L902.7,534.0 L903.8,531.7 L905.0,532.2 L906.1,527.7 L907.2,528.1 L908.4,527.1 L909.5,523.8 L910.6,523.6 L911.7,522.2 L912.8,521.3 L913.9,520.1 L915.0,517.5 L916.1,515.4 L917.2,515.6 L918.3,514.0 L919.4,511.5 L920.5,510.5 L921.5,509.0 L922.6,507.6 L923.7,505.8 L924.7,505.0 L925.8,501.6 L926.8,501.7 L927.8,499.8 L928.9,497.9 L929.9,497.2 L930.9,493.7 L931.9,494.0 L933.0,492.1 L934.0,489.7 L935.0,489.0 L936.0,487.0 L936.9,486.9 L937.9,485.0 L938.9,482.7 L939.9,480.5 L940.9,479.0 L941.8,477.6 L942.8,475.9 L943.7,474.1 L944.7,472.7 L945.6,471.2 L946.5,469.5 L947.5,467.9 L948.4,466.1 L949.3,466.1 L950.2,462.7 L951.1,461.3 L952.0,460.3 L952.9,458.3 L953.8,457.0 L954.7,455.6 L955.6,454.1 L956.5,452.3 L957.3,449.9 L958.2,449.1 L959.0,446.4 L959.9,445.3 L960.7,443.6 L961.6,441.7 L962.4,440.6 L963.2,438.7 L964.0,437.5 L964.8,434.9 L965.6,434.1 L966.4,432.3 L967.2,430.5 L968.0,428.3 L968.8,427.0 L969.6,424.9 L970.4,423.0 L971.1,423.1 L971.9,420.6 L972.6,419.2 L973.4,416.8 L974.1,415.5 L974.9,413.8 L975.6,412.0 L976.3,410.1 L977.0,408.4 L977.7,406.1 L978.5,405.2 L979.2,403.4 L979.9,401.9 L980.6,399.8 L981.2,398.6 L981.9,396.3 L982.6,394.4 L983.3,393.2 L983.9,391.1 L984.6,389.2 L985.3,387.8 L985.9,386.2 L986.6,384.4 L987.2,382.7 L987.8,381.8 L988.5,379.3 L989.1,377.7 L989.7,375.1 L990.3,373.9 L991.0,372.3 L991.6,370.3 L992.2,368.4 L992.8,366.9 L993.4,365.0 L994.0,363.2 L994.5,361.8 L995.1,360.1 L995.7,358.1 L996.3,356.2 L996.8,354.6 L997.4,352.9 L998.0,351.1 L998.5,349.0 L999.1,347.4 L999.6,345.8 L1000.2,344.0 L1000.7,342.3 L1001.2,340.5 L1001.8,338.4 L1002.3,336.7 L1002.8,334.8 L1003.3,333.6 L1003.8,331.5 L1004.4,329.8 L1004.9,328.1 L1005.4,326.1 L1005.9,324.2 L1006.4,322.5 L1006.9,320.8 L1007.3,319.2 L1007.8,317.3 L1008.3,315.3 L1008.8,313.7 L1009.3,312.0 L1009.7,309.9 L1010.2,308.2 L1010.7,306.2 L1011.1,304.7 L1011.6,302.8 L1012.0,300.9 L1012.5,299.2 L1012.9,297.5 L1013.4,295.6 L1013.8,293.9 L1014.3,292.2 L1014.7,290.2 L1015.1,288.4 L1015.6,286.9 L1016.0,284.9 L1016.4,283.0 L1016.8,281.3 L1017.2,279.3 L1017.7,277.8 L1018.1,275.9 L1018.5,274.2 L1018.9,272.3 L1019.3,270.5 L1019.7,268.7 L1020.1,266.8 L1020.5,264.9 L1020.9,263.1 L1021.3,261.3 L1021.7,259.3 L1022.1,257.9 L1022.4,255.8 L1022.8,254.1 L1023.2,252.2 L1023.6,250.3 L1024.0,248.7 L1024.3,246.9 L1024.7,245.1 L1025.1,243.3 L1025.4,241.4 L1025.8,239.7 L1026.2,237.8 L1026.5,236.0 L1026.9,234.1 L1027.2,232.4 L1027.6,230.5 L1028.0,228.7 L1028.3,226.7 L1028.7,225.1 L1029.0,223.3 L1029.4,221.4 L1029.7,219.6 L1030.0,217.9 L1030.4,216.0 L1030.7,214.2 L1031.1,212.3 L1031.4,210.5 L1031.7,208.7 L1032.1,206.8 L1032.4,205.0 L1032.7,203.2 L1033.1,201.4 L1033.4,199.5 L1033.7,197.6 L1034.0,195.9 L1034.3,194.0 L1034.7,192.2 L1035.0,190.4 L1035.3,188.6 L1035.6,186.9 L1035.9,185.0 L1036.2,183.2 L1036.5,181.3 L1036.8,179.6 L1037.1,177.6 L1037.5,175.7 L1037.8,174.0 L1038.1,172.2 L1038.4,170.3 L1038.6,168.5 L1038.9,166.6 L1039.2,164.8 L1039.5,163.1 L1039.8,161.3 L1040.1,159.3 L1040.4,157.6 L1040.7,155.7 L1041.0,153.9 L1041.2,152.1 L1041.5,150.2 L1041.8,148.4 L1042.1,146.5 L1042.4,144.7 L1042.6,142.9 L1042.9,141.1 L1043.2,139.2 L1043.4,137.4 L1043.7,135.6 L1044.0,133.7 L1044.2,131.9 L1044.5,130.1 L1044.8,128.3 L1045.0,126.4 L1045.3,124.6 L1045.5,122.7 L1045.8,120.8 L1046.1,119.1 L1046.3,117.2 L1046.6,115.3 L1046.8,113.5 L1047.1,111.7 L1047.3,109.9 L1047.6,108.0 L1047.8,106.2 L1048.0,104.5 L1048.3,102.5 L1048.5,100.6 L1048.8,98.9 L1049.0,97.0 L1049.3,95.2 L1049.6,93.4 L1049.9,91.5 L1050.3,89.8 L1050.7,87.9 L1051.2,86.1 L1051.7,84.4 L1052.3,82.6 L1053.0,80.9 L1053.8,79.2 L1054.6,77.5 L1055.5,75.9 L1056.5,74.3 L1057.5,72.8 L1058.7,71.3 L1060.0,70.0 L1061.5,69.0 L1063.3,68.8 L1064.7,69.9 L1065.8,71.4 L1066.7,73.0 L1067.6,74.7 L1068.4,76.3 L1069.2,77.9 L1070.0,79.6 L1070.8,81.3 L1071.5,83.0 L1072.3,84.7 L1073.0,86.4 L1073.6,88.1 L1074.3,89.8 L1074.9,91.6 L1075.5,93.3 L1076.1,95.2 L1076.7,96.9 L1077.2,98.6 L1077.8,100.4 L1078.3,102.2 L1078.8,104.0 L1079.3,105.8 L1079.7,107.6 L1080.2,109.4 L1080.6,111.2 L1081.0,112.9 L1081.4,114.8 L1081.8,116.6 L1082.2,118.4 L1082.5,120.2 L1082.9,122.1 L1083.2,123.9 L1083.5,125.7 L1083.8,127.5 L1084.2,129.4 L1084.5,131.3 L1084.7,133.0 L1085.0,134.8 L1085.3,136.7 L1085.6,138.5 L1085.8,140.3 L1086.1,142.2 L1086.3,144.1 L1086.6,145.8 L1086.8,147.6 L1087.1,149.5 L1087.3,151.4 L1087.5,153.2 L1087.8,155.1 L1088.0,157.0 L1088.2,158.8 L1088.5,160.6 L1088.7,162.4 L1089.0,164.2 L1089.2,166.0 L1089.4,167.9 L1089.7,169.7 L1089.9,171.6 L1090.2,173.4 L1090.4,175.2 L1090.7,177.1 L1091.0,178.8 L1091.2,180.7 L1091.5,182.5 L1091.8,184.4 L1092.0,186.2 L1092.3,188.1 L1092.6,189.9 L1092.9,191.8 L1093.1,193.5 L1093.4,195.5 L1093.7,197.2 L1094.0,199.1 L1094.3,200.8 L1094.6,202.6 L1094.9,204.5 L1095.2,206.4 L1095.5,208.1 L1095.8,209.9 L1096.2,211.8 L1096.5,213.7 L1096.8,215.4 L1097.1,217.3 L1097.4,219.2 L1097.8,220.9 L1098.1,222.8 L1098.4,224.7 L1098.8,226.4 L1099.1,228.2 L1099.4,230.1 L1099.8,231.9 L1100.1,233.6 L1100.5,235.4 L1100.8,237.3 L1101.2,239.3 L1101.6,241.0 L1101.9,242.9 L1102.3,244.7 L1102.7,246.3 L1103.0,248.3 L1103.4,250.0 L1103.8,251.7 L1104.2,253.7 L1104.5,255.4 L1104.9,257.3 L1105.3,259.2 L1105.7,261.2 L1106.1,262.7 L1106.5,264.5 L1106.9,266.4 L1107.3,268.2 L1107.7,270.0 L1108.1,271.7 L1108.5,273.5 L1108.9,275.4 L1109.4,277.1 L1109.8,278.9 L1110.2,280.7 L1110.6,282.7 L1111.1,284.2 L1111.5,286.4 L1111.9,287.9 L1112.4,289.7 L1112.8,291.5 L1113.3,293.5 L1113.7,295.3 L1114.1,296.9 L1114.6,298.9 L1115.1,300.6 L1115.5,302.4 L1116.0,304.2 L1116.4,306.1 L1116.9,307.5 L1117.4,309.3 L1117.8,311.4 L1118.3,313.1 L1118.8,315.1 L1119.3,316.5 L1119.8,318.4 L1120.2,320.6 L1120.7,321.9 L1121.2,323.9 L1121.7,325.5 L1122.2,327.4 L1122.7,329.0 L1123.2,331.2 L1123.7,332.5 L1124.3,334.4 L1124.8,336.2 L1125.3,338.3 L1125.8,340.0 L1126.3,341.8 L1126.9,343.5 L1127.4,345.3 L1127.9,347.1 L1128.5,349.1 L1129.0,350.6 L1129.5,352.1 L1130.1,354.3 L1130.6,355.9 L1131.2,357.4 L1131.7,359.4 L1132.3,361.0 L1132.9,363.4 L1133.4,364.6 L1134.0,366.0 L1134.6,368.3 L1135.1,369.8 L1135.7,372.1 L1136.3,373.6 L1136.9,374.9 L1137.5,376.9 L1138.0,378.5 L1138.6,380.4 L1139.2,382.2 L1139.8,383.6 L1140.4,385.9 L1141.0,387.3 L1141.7,389.1 L1142.3,391.3 L1142.9,393.3 L1143.5,394.4 L1144.1,396.8 L1144.7,397.5 L1145.4,399.9 L1146.0,401.4 L1146.6,403.2 L1147.3,404.7 L1147.9,406.6 L1148.6,408.4 L1149.2,410.1 L1149.9,412.1 L1150.5,414.4 L1151.2,415.2 L1151.9,417.1 L1152.5,418.3 L1153.2,419.8 L1153.9,422.8 L1154.5,423.6 L1155.2,425.5 L1155.9,427.5 L1156.6,429.5 L1157.3,431.0 L1158.0,433.3 L1158.7,434.3 L1159.4,435.4 L1160.1,437.8 L1160.8,439.5 L1161.5,440.9 L1162.2,442.8 L1163.0,444.4 L1163.7,447.0 L1164.4,447.8 L1165.2,449.2 L1165.9,451.5 L1166.7,452.4 L1167.4,455.0 L1168.2,456.7 L1168.9,457.8 L1169.7,459.6 L1170.5,461.3 L1171.3,463.9 L1172.0,465.1 L1172.8,466.1 L1173.6,467.7 L1174.4,469.9 L1175.2,471.6 L1176.0,472.9 L1176.8,475.1 L1177.6,476.5 L1178.5,478.8 L1179.3,480.1 L1180.1,481.5 L1181.0,483.3 L1181.8,484.4 L1182.7,487.0 L1183.5,488.4 L1184.4,489.6 L1185.3,491.5 L1186.1,492.8 L1187.0,496.1 L1187.9,496.1 L1188.8,498.3 L1189.7,499.8 L1190.6,500.7 L1191.5,502.8 L1192.4,504.2 L1193.4,506.2 L1194.3,507.8 L1195.2,509.7 L1196.2,511.3 L1197.2,512.1 L1198.1,513.6 L1199.1,515.2 L1200.1,516.5 L1201.1,517.5 L1202.1,520.6 L1203.1,521.7 L1204.1,523.2 L1205.2,523.7 L1206.2,525.3 L1207.3,526.2 L1208.3,529.3 L1209.4,531.4 L1210.5,532.9 L1211.6,533.9 L1212.7,534.6 L1213.8,536.9 L1214.9,538.4 L1216.1,540.4 L1217.2,541.9 L1218.4,542.5 L1219.6,544.1 L1220.8,546.1 L1222.0,547.3 L1223.2,548.2 L1224.4,548.0 L1225.6,550.6 L1226.9,553.2 L1228.1,554.0 L1229.4,556.0 L1230.7,556.3 L1232.0,558.0 L1233.3,559.9 L1234.6,561.1 L1235.9,562.2 L1237.2,564.1 L1238.6,565.6 L1239.9,567.0 L1241.3,565.4 L1242.6,567.8 L1244.0,569.2 L1245.3,570.4 L1246.7,570.4 L1248.1,574.5 L1249.5,573.5 L1250.8,575.8 L1252.2,574.5 L1253.6,577.6 L1255.0,579.1 L1256.4,579.6 L1257.8,582.5 L1259.2,585.5 L1260.6,583.3 L1262.1,584.5 L1263.5,588.4 L1264.9,588.4 L1266.3,588.6 L1267.8,588.7 L1269.2,592.1 L1270.7,592.7 L1272.1,595.3 L1273.6,593.7 L1275.1,595.6 L1276.6,596.6 L1278.1,597.7 L1279.6,600.3 L1281.1,601.1 L1282.6,600.4 L1284.2,602.1 L1285.7,602.9 L1287.3,605.2 L1288.9,604.9 L1290.5,604.7 L1292.1,606.5 L1293.7,607.8 L1295.4,609.9 L1297.0,611.2 L1298.6,612.1 L1300.3,611.8 L1301.9,611.5 L1303.6,613.8 L1305.2,613.7 L1306.8,614.0 L1308.4,616.1 L1310.1,617.1 L1311.7,618.7 L1313.3,617.3 L1314.8,617.2 L1316.4,621.1 L1317.9,620.1 L1319.5,623.9 L1321.0,622.1" stroke="#0000ff"/>
<path d="M802.1,602.9 L803.5,600.4 L804.9,598.9 L806.2,595.9 L807.6,596.0 L809.0,594.7 L810.4,593.8 L811.8,592.1 L813.2,591.4 L814.6,589.8 L816.0,587.9 L817.4,588.5 L818.9,587.3 L820.3,586.8 L821.7,584.3 L823.1,582.7 L824.6,581.4 L826.0,579.5 L827.4,580.3 L828.9,577.5 L830.3,576.2 L831.7,575.8 L833.2,575.9 L834.6,573.8 L836.1,571.7 L837.5,570.8 L838.9,570.6 L840.4,568.8 L841.8,567.2 L843.2,566.4 L844.7,566.0 L846.1,565.6 L847.5,562.2 L849.0,561.5 L850.4,560.2 L851.8,557.9 L853.2,557.7 L854.7,556.4 L856.1,556.7 L857.5,554.6 L858.9,552.5 L860.3,552.7 L861.7,550.8 L863.1,548.8 L864.5,548.2 L865.8,547.0 L867.2,545.6 L868.6,544.9 L870.0,542.3 L871.3,542.2 L872.7,541.7 L874.0,540.3 L875.3,539.1 L876.6,537.8 L878.0,536.7 L879.3,533.9 L880.6,533.7 L881.8,530.9 L883.1,530.2 L884.4,528.2 L885.7,528.4 L886.9,527.2 L888.2,525.0 L889.4,524.6 L890.6,522.0 L891.8,521.0 L893.1,519.6 L894.3,517.6 L895.5,516.9 L896.7,516.2 L897.8,513.4 L899.0,512.8 L900.2,510.9 L901.3,510.4 L902.5,508.3 L903.6,506.9 L904.8,505.4 L905.9,503.8 L907.0,501.6 L908.1,501.3 L909.2,498.6 L910.4,497.8 L911.4,496.5 L912.5,494.4 L913.6,493.3 L914.7,492.2 L915.8,490.2 L916.8,488.3 L917.9,486.0 L918.9,485.2 L920.0,483.9 L921.0,482.4 L922.1,480.7 L923.1,479.6 L924.1,477.7 L925.1,476.3 L926.1,475.1 L927.1,473.0 L928.1,471.6 L929.1,470.9 L930.1,468.9 L931.1,466.6 L932.1,465.4 L933.1,464.0 L934.0,462.7 L935.0,460.7 L936.0,458.9 L936.9,457.3 L937.9,456.1 L938.8,454.4 L939.8,452.6 L940.7,451.1 L941.7,449.4 L942.6,448.1 L943.5,446.1 L944.5,444.9 L945.4,443.4 L946.3,441.6 L947.2,439.7 L948.1,438.7 L949.1,436.5 L950.0,435.2 L950.9,433.2 L951.8,431.4 L952.7,430.3 L953.6,428.6 L954.5,426.9 L955.4,425.4 L956.3,423.5 L957.2,421.9 L958.1,420.4 L959.0,419.3 L959.9,417.4 L960.7,415.4 L961.6,414.1 L962.5,412.2 L963.4,410.6 L964.3,409.2 L965.1,407.3 L966.0,405.4 L966.9,403.9 L967.7,402.5 L968.6,400.9 L969.4,399.4 L970.3,397.4 L971.1,396.0 L971.9,394.3 L972.8,392.5 L973.6,391.0 L974.4,389.3 L975.2,387.4 L976.0,386.1 L976.7,383.9 L977.5,382.5 L978.3,380.8 L979.0,379.2 L979.7,377.3 L980.5,375.7 L981.2,373.9 L981.9,372.4 L982.6,370.4 L983.2,368.8 L983.9,367.0 L984.5,365.1 L985.2,364.0 L985.8,361.8 L986.4,359.8 L987.0,358.5 L987.6,356.4 L988.1,354.8 L988.7,353.1 L989.3,351.2 L989.8,349.4 L990.3,347.6 L990.9,345.9 L991.4,343.9 L991.9,342.2 L992.4,340.5 L992.9,338.9 L993.4,337.1 L993.8,335.4 L994.3,333.5 L994.8,331.5 L995.3,329.8 L995.7,327.8 L996.2,326.1 L996.6,324.3 L997.1,322.7 L997.5,320.9 L998.0,319.0 L998.4,317.2 L998.9,315.2 L999.3,313.6 L999.8,311.8 L1000.2,310.1 L1000.6,308.1 L1001.1,306.6 L1001.5,304.7 L1002.0,302.8 L1002.4,301.0 L1002.9,299.2 L1003.3,297.4 L1003.7,295.6 L1004.2,293.8 L1004.6,292.1 L1005.1,290.3 L1005.5,288.5 L1005.9,286.6 L1006.4,284.8 L1006.8,283.0 L1007.3,281.1 L1007.7,279.6 L1008.1,277.5 L1008.6,276.0 L1009.0,273.9 L1009.5,272.2 L1009.9,270.5 L1010.3,268.6 L1010.8,266.8 L1011.2,264.9 L1011.7,263.1 L1012.1,261.3 L1012.5,259.5 L1013.0,257.9 L1013.4,255.9 L1013.9,254.3 L1014.3,252.2 L1014.7,250.5 L1015.2,248.8 L1015.6,246.9 L1016.0,245.2 L1016.5,243.4 L1016.9,241.5 L1017.4,239.8 L1017.8,238.1 L1018.2,236.1 L1018.7,234.3 L1019.1,232.5 L1019.6,230.7 L1020.0,228.8 L1020.4,227.1 L1020.9,225.5 L1021.3,223.6 L1021.8,221.7 L1022.2,220.0 L1022.6,218.2 L1023.1,216.3 L1023.5,214.6 L1023.9,212.8 L1024.4,210.9 L1024.8,209.2 L1025.3,207.2 L1025.7,205.5 L1026.2,203.7 L1026.6,201.8 L1027.0,200.1 L1027.5,198.3 L1027.9,196.4 L1028.4,194.8 L1028.8,192.9 L1029.2,191.1 L1029.7,189.3 L1030.1,187.5 L1030.6,185.7 L1031.0,183.9 L1031.4,182.1 L1031.9,180.2 L1032.3,178.5 L1032.8,176.7 L1033.2,174.8 L1033.7,173.1 L1034.1,171.2 L1034.5,169.5 L1035.0,167.7 L1035.4,165.9 L1035.9,164.1 L1036.3,162.3 L1036.8,160.4 L1037.2,158.7 L1037.7,156.8 L1038.1,155.1 L1038.5,153.2 L1039.0,151.5 L1039.4,149.6 L1039.9,147.9 L1040.3,146.1 L1040.8,144.2 L1041.2,142.4 L1041.6,140.6 L1042.1,138.9 L1042.5,137.1 L1043.0,135.2 L1043.4,133.4 L1043.8,131.6 L1044.3,129.8 L1044.7,128.0 L1045.2,126.2 L1045.6,124.4 L1046.1,122.7 L1046.5,120.8 L1046.9,119.0 L1047.4,117.2 L1047.8,115.4 L1048.3,113.6 L1048.7,111.8 L1049.1,110.0 L1049.6,108.2 L1050.0,106.4 L1050.5,104.6 L1050.9,102.8 L1051.3,101.0 L1051.8,99.2 L1052.2,97.4 L1052.6,95.6 L1053.1,93.8 L1053.6,91.9 L1054.2,90.2 L1054.8,88.5 L1055.6,86.8 L1056.6,85.2 L1057.7,83.8 L1059.0,82.4 L1060.5,81.3 L1062.2,80.6 L1064.0,80.6 L1065.7,81.3 L1067.2,82.4 L1068.4,83.8 L1069.5,85.4 L1070.3,87.0 L1071.1,88.7 L1071.7,90.4 L1072.3,92.2 L1072.9,94.0 L1073.4,95.7 L1073.9,97.5 L1074.5,99.3 L1075.0,101.0 L1075.5,102.9 L1076.0,104.6 L1076.5,106.4 L1077.0,108.1 L1077.5,110.0 L1078.0,111.8 L1078.5,113.6 L1079.0,115.3 L1079.5,117.1 L1080.0,118.8 L1080.5,120.7 L1080.9,122.5 L1081.4,124.3 L1081.9,126.1 L1082.3,127.9 L1082.8,129.7 L1083.2,131.5 L1083.7,133.3 L1084.1,135.0 L1084.6,136.9 L1085.0,138.7 L1085.4,140.5 L1085.9,142.3 L1086.3,144.2 L1086.7,145.9 L1087.2,147.7 L1087.6,149.5 L1088.0,151.3 L1088.4,153.2 L1088.8,154.9 L1089.2,156.8 L1089.7,158.6 L1090.1,160.4 L1090.5,162.2 L1090.9,164.1 L1091.3,165.8 L1091.7,167.6 L1092.1,169.4 L1092.5,171.3 L1092.9,173.1 L1093.3,174.8 L1093.7,176.6 L1094.1,178.5 L1094.5,180.3 L1094.9,182.0 L1095.3,183.9 L1095.7,185.7 L1096.1,187.5 L1096.5,189.4 L1096.9,191.2 L1097.2,193.0 L1097.6,194.8 L1098.0,196.6 L1098.4,198.4 L1098.8,200.1 L1099.2,202.0 L1099.6,203.9 L1100.0,205.7 L1100.4,207.6 L1100.8,209.3 L1101.2,211.1 L1101.6,212.9 L1102.0,214.7 L1102.4,216.6 L1102.8,218.4 L1103.2,220.1 L1103.6,222.0 L1104.0,223.8 L1104.4,225.7 L1104.8,227.4 L1105.2,229.2 L1105.6,231.0 L1106.0,232.8 L1106.4,234.6 L1106.8,236.5 L1107.2,238.4 L1107.6,240.1 L1108.0,242.0 L1108.4,243.7 L1108.9,245.5 L1109.3,247.3 L1109.7,249.1 L1110.1,251.0 L1110.5,252.7 L1111.0,254.4 L1111.4,256.3 L1111.8,258.1 L1112.2,259.9 L1112.7,261.7 L1113.1,263.7 L1113.5,265.5 L1114.0,267.2 L1114.4,269.1 L1114.8,270.9 L1115.3,272.5 L1115.7,274.4 L1116.2,276.2 L1116.6,278.0 L1117.1,279.7 L1117.5,281.6 L1118.0,283.5 L1118.4,285.3 L1118.9,287.2 L1119.4,288.8 L1119.8,290.8 L1120.3,292.4 L1120.8,294.0 L1121.3,296.0 L1121.7,297.7 L1122.2,299.6 L1122.7,301.3 L1123.2,303.2 L1123.7,304.9 L1124.2,306.7 L1124.7,308.6 L1125.2,310.3 L1125.7,312.0 L1126.2,314.0 L1126.7,315.6 L1127.2,317.3 L1127.8,319.1 L1128.3,320.8 L1128.8,322.7 L1129.4,324.7 L1129.9,326.2 L1130.4,328.1 L1131.0,329.7 L1131.5,331.5 L1132.1,333.6 L1132.7,335.3 L1133.2,336.8 L1133.8,338.7 L1134.4,340.3 L1135.0,342.1 L1135.5,343.8 L1136.1,345.6 L1136.7,347.5 L1137.3,349.3 L1137.9,351.1 L1138.5,352.7 L1139.2,354.3 L1139.8,356.2 L1140.4,357.8 L1141.1,359.9 L1141.7,361.5 L1142.3,363.3 L1143.0,364.9 L1143.7,366.4 L1144.3,368.6 L1145.0,370.3 L1145.7,371.6 L1146.3,373.6 L1147.0,375.5 L1147.7,376.8 L1148.4,379.1 L1149.1,380.4 L1149.9,382.0 L1150.6,384.1 L1151.3,385.6 L1152.0,387.2 L1152.8,389.2 L1153.5,390.3 L1154.3,392.7 L1155.1,393.9 L1155.8,395.8 L1156.6,397.4 L1157.4,399.2 L1158.2,401.0 L1159.0,402.3 L1159.8,404.3 L1160.6,405.7 L1161.4,407.3 L1162.3,409.1 L1163.1,410.5 L1164.0,412.2 L1164.8,414.3 L1165.7,415.7 L1166.6,417.6 L1167.4,419.1 L1168.3,420.4 L1169.2,421.8 L1170.1,423.7 L1171.1,425.5 L1172.0,427.1 L1172.9,428.5 L1173.8,430.5 L1174.8,431.4 L1175.8,433.1 L1176.7,435.1 L1177.7,437.2 L1178.7,438.3 L1179.7,439.5 L1180.7,441.5 L1181.7,443.1 L1182.7,444.7 L1183.7,445.8 L1184.8,447.3 L1185.8,449.1 L1186.9,450.7 L1187.9,452.6 L1189.0,454.2 L1190.1,454.9 L1191.2,456.4 L1192.3,458.1 L1193.4,459.5 L1194.5,461.2 L1195.6,462.7 L1196.7,464.1 L1197.9,466.0 L1199.0,466.9 L1200.2,468.1 L1201.3,469.3 L1202.5,471.0 L1203.6,472.4 L1204.8,473.5 L1206.0,475.9 L1207.2,477.1 L1208.4,478.3 L1209.6,479.6 L1210.8,480.7 L1212.0,482.4 L1213.2,484.8 L1214.4,484.6 L1215.7,487.0 L1216.9,488.6 L1218.1,489.7 L1219.4,490.9 L1220.6,492.7 L1221.9,493.3 L1223.1,495.4 L1224.4,497.1 L1225.6,497.4 L1226.9,498.9 L1228.2,500.6 L1229.5,502.3 L1230.8,503.8 L1232.0,504.9 L1233.3,505.6 L1234.6,506.7 L1235.9,508.7 L1237.2,510.1 L1238.5,510.7 L1239.9,512.5 L1241.2,514.0 L1242.5,515.6 L1243.8,515.9 L1245.1,518.0 L1246.5,518.4 L1247.8,520.1 L1249.1,521.6 L1250.5,523.7 L1251.8,525.9 L1253.2,525.6 L1254.5,527.0 L1255.8,528.5 L1257.2,528.5 L1258.5,531.0 L1259.9,531.1 L1261.3,534.0 L1262.6,535.1 L1264.0,535.9 L1265.4,536.4 L1266.7,539.0 L1268.1,539.5 L1269.5,540.6 L1270.9,542.1 L1272.3,542.0 L1273.6,544.5 L1275.0,546.1 L1276.4,546.9 L1277.8,548.0 L1279.2,548.5 L1280.7,550.7 L1282.1,551.7 L1283.5,552.7 L1284.9,553.5 L1286.4,555.6 L1287.8,557.1 L1289.2,557.7 L1290.7,559.2 L1292.1,560.6 L1293.6,561.9 L1295.1,562.2 L1296.5,563.0 L1298.0,564.0 L1299.5,565.4 L1301.0,566.9 L1302.5,568.2 L1304.0,568.4 L1305.5,569.8 L1307.0,570.1 L1308.5,572.8 L1310.1,572.6 L1311.6,574.2 L1313.2,574.5 L1314.7,575.8 L1316.3,576.5 L1317.8,579.3 L1319.4,579.3 L1321.0,579.9" stroke="#008000"/>
<path d="M802.1,631.1 L803.3,630.0 L804.5,627.5 L805.6,627.2 L806.9,625.1 L808.1,622.9 L809.3,622.2 L810.6,621.6 L811.9,620.1 L813.1,617.8 L814.4,617.6 L815.7,615.9 L817.1,614.9 L818.4,613.5 L819.7,611.3 L821.1,611.0 L822.4,609.1 L823.8,609.1 L825.1,607.4 L826.5,605.7 L827.8,603.8 L829.2,603.2 L830.5,602.0 L831.9,600.0 L833.3,600.6 L834.6,598.3 L836.0,597.8 L837.3,595.0 L838.7,595.2 L840.0,592.3 L841.3,591.4 L842.6,590.7 L844.0,589.1 L845.3,586.6 L846.6,585.9 L847.8,585.5 L849.1,584.8 L850.4,582.9 L851.6,580.9 L852.9,580.1 L854.1,577.8 L855.4,577.2 L856.6,574.9 L857.8,574.1 L859.0,572.7 L860.2,571.7 L861.4,569.8 L862.6,569.0 L863.8,567.0 L865.0,566.0 L866.1,564.5 L867.3,562.0 L868.5,561.3 L869.6,559.9 L870.8,558.1 L871.9,557.0 L873.0,554.9 L874.2,554.2 L875.3,552.8 L876.4,551.2 L877.6,550.6 L878.7,548.3 L879.8,546.7 L880.9,544.9 L882.0,543.8 L883.1,541.8 L884.2,541.2 L885.3,539.0 L886.4,537.8 L887.5,536.9 L888.6,535.1 L889.6,533.3 L890.7,532.1 L891.8,530.1 L892.9,528.9 L893.9,527.1 L895.0,525.3 L896.0,524.2 L897.1,522.9 L898.1,520.9 L899.2,519.2 L900.2,517.8 L901.2,515.7 L902.3,514.7 L903.3,513.0 L904.3,512.4 L905.3,510.1 L906.4,508.3 L907.4,507.4 L908.4,505.5 L909.4,504.0 L910.4,502.5 L911.4,501.0 L912.3,499.2 L913.3,498.0 L914.3,496.3 L915.3,494.5 L916.3,493.0 L917.2,491.2 L918.2,489.9 L919.2,488.5 L920.1,486.9 L921.1,485.3 L922.0,483.5 L922.9,482.3 L923.9,480.3 L924.8,478.7 L925.7,477.0 L926.7,475.5 L927.6,473.8 L928.5,472.7 L929.4,470.8 L930.3,468.7 L931.2,467.3 L932.1,465.5 L933.0,464.4 L933.9,462.8 L934.8,460.8 L935.7,459.4 L936.5,457.6 L937.4,456.1 L938.3,454.7 L939.1,452.7 L940.0,450.9 L940.8,449.6 L941.7,447.9 L942.5,446.3 L943.4,444.7 L944.2,442.7 L945.0,440.9 L945.9,439.7 L946.7,437.8 L947.5,436.0 L948.3,434.3 L949.1,433.1 L949.9,431.2 L950.7,429.6 L951.5,428.0 L952.3,426.1 L953.1,424.3 L953.8,422.7 L954.6,421.0 L955.4,419.4 L956.1,417.6 L956.9,416.1 L957.6,414.3 L958.4,412.7 L959.1,411.1 L959.9,409.5 L960.6,407.8 L961.3,405.9 L962.0,404.2 L962.8,402.4 L963.5,400.9 L964.2,399.2 L964.9,397.2 L965.6,395.7 L966.3,393.8 L967.0,392.1 L967.6,390.4 L968.3,388.6 L969.0,387.1 L969.6,385.1 L970.3,383.4 L971.0,381.7 L971.6,379.9 L972.3,378.3 L972.9,376.4 L973.5,374.8 L974.2,372.9 L974.8,371.3 L975.4,369.6 L976.0,368.1 L976.6,366.2 L977.2,364.5 L977.9,362.6 L978.5,361.0 L979.0,359.0 L979.6,357.3 L980.2,355.4 L980.8,353.8 L981.4,352.1 L982.0,350.2 L982.5,348.5 L983.1,346.7 L983.7,344.9 L984.2,343.2 L984.8,341.3 L985.3,339.8 L985.9,337.7 L986.4,336.1 L987.0,334.4 L987.5,332.7 L988.0,330.8 L988.5,329.0 L989.1,327.3 L989.6,325.5 L990.1,323.8 L990.6,321.9 L991.1,320.1 L991.6,318.3 L992.2,316.6 L992.7,314.9 L993.2,313.1 L993.6,311.2 L994.1,309.3 L994.6,307.5 L995.1,306.0 L995.6,304.0 L996.1,302.3 L996.6,300.6 L997.0,298.6 L997.5,296.9 L998.0,295.1 L998.5,293.2 L998.9,291.6 L999.4,289.8 L999.8,287.8 L1000.3,286.2 L1000.8,284.3 L1001.2,282.6 L1001.7,280.8 L1002.1,278.9 L1002.6,277.1 L1003.0,275.3 L1003.4,273.6 L1003.9,271.9 L1004.3,270.0 L1004.8,268.1 L1005.2,266.4 L1005.6,264.5 L1006.1,262.8 L1006.5,261.0 L1006.9,259.2 L1007.4,257.3 L1007.8,255.5 L1008.2,253.7 L1008.6,251.9 L1009.1,250.1 L1009.5,248.4 L1009.9,246.5 L1010.4,244.7 L1010.8,242.9 L1011.2,241.1 L1011.6,239.4 L1012.1,237.4 L1012.5,235.7 L1012.9,233.9 L1013.4,232.1 L1013.8,230.3 L1014.2,228.5 L1014.7,226.8 L1015.1,224.9 L1015.5,223.1 L1016.0,221.2 L1016.4,219.5 L1016.9,217.7 L1017.3,215.9 L1017.7,214.1 L1018.2,212.3 L1018.6,210.5 L1019.1,208.7 L1019.6,206.9 L1020.0,205.1 L1020.5,203.3 L1020.9,201.5 L1021.4,199.7 L1021.9,197.9 L1022.4,196.1 L1022.8,194.4 L1023.3,192.6 L1023.8,190.7 L1024.3,189.0 L1024.8,187.2 L1025.3,185.4 L1025.8,183.6 L1026.3,181.9 L1026.8,180.0 L1027.3,178.3 L1027.9,176.5 L1028.4,174.7 L1028.9,172.9 L1029.5,171.1 L1030.0,169.4 L1030.6,167.6 L1031.1,165.9 L1031.7,164.2 L1032.2,162.3 L1032.8,160.5 L1033.4,158.9 L1034.0,157.1 L1034.6,155.3 L1035.2,153.6 L1035.8,151.8 L1036.4,150.1 L1037.0,148.3 L1037.6,146.5 L1038.2,144.8 L1038.8,143.1 L1039.5,141.3 L1040.1,139.6 L1040.7,137.8 L1041.3,136.0 L1041.9,134.3 L1042.4,132.5 L1043.0,130.8 L1043.6,129.0 L1044.1,127.2 L1044.6,125.5 L1045.1,123.6 L1045.6,121.9 L1046.0,120.1 L1046.5,118.3 L1046.9,116.4 L1047.3,114.6 L1047.7,112.9 L1048.2,111.1 L1048.7,109.2 L1049.2,107.5 L1049.7,105.7 L1050.3,104.0 L1050.9,102.2 L1051.5,100.5 L1052.2,98.7 L1052.9,97.0 L1053.7,95.3 L1054.5,93.7 L1055.4,92.1 L1056.5,90.5 L1057.6,89.1 L1059.1,87.9 L1060.7,87.1 L1062.6,87.2 L1064.1,88.2 L1065.4,89.5 L1066.5,91.0 L1067.5,92.5 L1068.5,94.1 L1069.5,95.7 L1070.4,97.4 L1071.2,98.9 L1072.0,100.6 L1072.8,102.3 L1073.6,104.0 L1074.3,105.7 L1075.0,107.4 L1075.6,109.2 L1076.2,110.9 L1076.8,112.7 L1077.4,114.4 L1078.0,116.2 L1078.5,118.0 L1079.1,119.7 L1079.6,121.5 L1080.1,123.3 L1080.5,125.1 L1081.0,126.9 L1081.5,128.7 L1081.9,130.5 L1082.4,132.3 L1082.8,134.1 L1083.2,135.9 L1083.7,137.7 L1084.1,139.5 L1084.5,141.3 L1084.9,143.1 L1085.4,144.9 L1085.8,146.7 L1086.2,148.5 L1086.6,150.4 L1087.1,152.1 L1087.5,153.9 L1087.9,155.8 L1088.4,157.6 L1088.8,159.3 L1089.2,161.2 L1089.6,163.0 L1090.1,164.8 L1090.5,166.6 L1090.9,168.4 L1091.3,170.1 L1091.8,172.0 L1092.2,173.8 L1092.6,175.5 L1093.1,177.4 L1093.5,179.2 L1093.9,181.0 L1094.3,182.7 L1094.8,184.6 L1095.2,186.4 L1095.6,188.2 L1096.1,189.9 L1096.5,191.8 L1096.9,193.6 L1097.4,195.4 L1097.8,197.2 L1098.2,199.0 L1098.7,200.8 L1099.1,202.6 L1099.5,204.4 L1100.0,206.2 L1100.4,208.0 L1100.8,209.9 L1101.3,211.6 L1101.7,213.4 L1102.2,215.2 L1102.6,217.0 L1103.0,218.8 L1103.5,220.7 L1103.9,222.4 L1104.4,224.2 L1104.8,226.0 L1105.3,227.9 L1105.7,229.6 L1106.2,231.4 L1106.6,233.2 L1107.1,235.0 L1107.5,236.8 L1108.0,238.6 L1108.4,240.4 L1108.9,242.2 L1109.3,244.0 L1109.8,245.8 L1110.2,247.5 L1110.7,249.4 L1111.2,251.2 L1111.6,253.0 L1112.1,254.7 L1112.6,256.5 L1113.0,258.3 L1113.5,260.2 L1114.0,261.9 L1114.5,263.7 L1114.9,265.5 L1115.4,267.3 L1115.9,269.1 L1116.4,270.9 L1116.9,272.7 L1117.4,274.5 L1117.8,276.3 L1118.3,278.1 L1118.8,279.8 L1119.3,281.5 L1119.8,283.4 L1120.3,285.2 L1120.8,287.0 L1121.4,288.8 L1121.9,290.6 L1122.4,292.2 L1122.9,294.1 L1123.4,295.9 L1123.9,297.6 L1124.5,299.4 L1125.0,301.2 L1125.5,302.9 L1126.1,304.9 L1126.6,306.5 L1127.1,308.4 L1127.7,310.0 L1128.2,311.8 L1128.8,313.6 L1129.3,315.4 L1129.9,317.2 L1130.5,319.0 L1131.0,320.7 L1131.6,322.5 L1132.2,324.2 L1132.7,326.0 L1133.3,327.8 L1133.9,329.3 L1134.5,331.2 L1135.1,332.9 L1135.7,334.8 L1136.3,336.4 L1136.9,338.3 L1137.5,339.9 L1138.1,341.7 L1138.7,343.6 L1139.3,345.3 L1140.0,346.9 L1140.6,348.6 L1141.2,350.4 L1141.9,352.3 L1142.5,353.9 L1143.2,355.6 L1143.8,357.5 L1144.5,359.3 L1145.1,360.8 L1145.8,362.6 L1146.5,364.3 L1147.1,366.2 L1147.8,367.8 L1148.5,369.5 L1149.2,371.1 L1149.9,373.0 L1150.6,374.6 L1151.3,376.4 L1152.0,378.1 L1152.7,379.9 L1153.4,381.3 L1154.2,383.1 L1154.9,385.0 L1155.6,386.8 L1156.4,388.4 L1157.1,390.0 L1157.9,391.6 L1158.6,393.3 L1159.4,395.1 L1160.1,396.7 L1160.9,398.5 L1161.7,400.1 L1162.5,402.1 L1163.3,403.5 L1164.1,405.3 L1164.9,406.8 L1165.7,408.6 L1166.5,410.5 L1167.3,411.8 L1168.2,413.3 L1169.0,415.3 L1169.8,416.8 L1170.7,418.4 L1171.5,420.2 L1172.4,421.8 L1173.2,423.6 L1174.1,425.1 L1175.0,426.6 L1175.9,428.1 L1176.8,429.6 L1177.7,431.4 L1178.6,433.3 L1179.5,434.5 L1180.4,436.4 L1181.3,438.2 L1182.2,439.7 L1183.2,441.5 L1184.1,442.9 L1185.1,444.7 L1186.0,445.9 L1187.0,447.4 L1187.9,449.5 L1188.9,450.8 L1189.9,452.3 L1190.9,453.8 L1191.8,455.7 L1192.8,457.1 L1193.8,458.7 L1194.8,460.0 L1195.9,461.7 L1196.9,463.1 L1197.9,464.8 L1198.9,466.4 L1199.9,467.8 L1201.0,469.2 L1202.0,471.1 L1203.1,472.2 L1204.1,474.3 L1205.2,475.8 L1206.2,476.7 L1207.3,478.9 L1208.4,479.9 L1209.5,481.9 L1210.5,482.9 L1211.6,484.7 L1212.7,485.8 L1213.8,487.7 L1214.9,489.1 L1216.0,490.9 L1217.1,492.2 L1218.3,493.3 L1219.4,495.0 L1220.5,496.3 L1221.6,498.0 L1222.8,499.8 L1223.9,501.3 L1225.1,502.3 L1226.2,503.5 L1227.4,505.2 L1228.5,507.2 L1229.7,508.1 L1230.8,509.1 L1232.0,510.6 L1233.2,512.1 L1234.4,514.1 L1235.6,515.2 L1236.7,516.5 L1237.9,518.2 L1239.1,519.8 L1240.3,520.9 L1241.5,522.1 L1242.7,523.8 L1244.0,525.4 L1245.2,526.0 L1246.4,527.5 L1247.6,530.0 L1248.9,530.9 L1250.1,532.2 L1251.3,533.0 L1252.6,534.5 L1253.8,536.1 L1255.1,538.0 L1256.3,539.0 L1257.6,539.8 L1258.8,542.3 L1260.1,543.6 L1261.3,544.7 L1262.6,545.4 L1263.8,546.9 L1265.1,548.4 L1266.4,549.9 L1267.6,551.9 L1268.9,552.0 L1270.1,553.6 L1271.4,555.3 L1272.7,556.4 L1273.9,557.8 L1275.2,558.8 L1276.4,560.7 L1277.7,562.0 L1278.9,563.5 L1280.2,565.2 L1281.4,566.1 L1282.7,567.5 L1283.9,569.1 L1285.1,570.1 L1286.4,571.8 L1287.6,572.3 L1288.8,574.1 L1290.0,576.1 L1291.3,577.4 L1292.5,579.1 L1293.7,579.5 L1294.9,581.3 L1296.0,582.9 L1297.2,584.3 L1298.4,585.7 L1299.6,587.9 L1300.8,588.4 L1302.0,589.9 L1303.2,591.7 L1304.5,593.1 L1305.7,594.3 L1307.0,596.4 L1308.3,597.2 L1309.6,598.1 L1310.9,599.0 L1312.2,601.5 L1313.6,601.7 L1315.0,603.4 L1316.5,604.1 L1317.9,606.7 L1319.4,607.0 L1321.0,606.6" stroke="#ff0000"/>
<path d="M802.1,596.1 L803.3,594.4 L804.5,593.9 L805.6,591.5 L806.8,590.2 L807.9,589.2 L809.1,587.0 L810.2,585.6 L811.4,584.4 L812.5,582.8 L813.7,581.1 L814.8,579.9 L815.9,578.4 L817.0,577.2 L818.2,575.0 L819.3,573.8 L820.4,572.9 L821.5,571.6 L822.6,569.2 L823.7,568.3 L824.8,566.3 L825.9,564.9 L827.0,563.4 L828.1,562.0 L829.2,560.9 L830.3,559.3 L831.3,557.6 L832.4,556.0 L833.5,554.6 L834.6,553.0 L835.6,551.7 L836.7,549.8 L837.8,548.5 L838.8,546.9 L839.9,545.4 L840.9,543.9 L842.0,542.4 L843.0,541.1 L844.0,539.3 L845.1,538.1 L846.1,536.1 L847.1,534.5 L848.2,533.1 L849.2,531.6 L850.2,530.1 L851.2,528.7 L852.2,527.1 L853.3,525.4 L854.3,523.7 L855.3,522.2 L856.3,520.9 L857.3,519.1 L858.3,517.3 L859.3,515.8 L860.2,514.3 L861.2,513.0 L862.2,511.2 L863.2,510.1 L864.2,508.2 L865.2,506.5 L866.1,504.9 L867.1,503.5 L868.1,501.7 L869.0,500.1 L870.0,498.7 L870.9,497.0 L871.9,495.6 L872.9,493.8 L873.8,491.8 L874.8,490.8 L875.7,488.8 L876.6,487.7 L877.6,486.1 L878.5,484.2 L879.5,482.5 L880.4,480.8 L881.3,479.6 L882.3,477.8 L883.2,476.1 L884.1,474.6 L885.0,473.3 L885.9,471.4 L886.9,469.9 L887.8,468.3 L888.7,466.7 L889.6,465.1 L890.5,463.2 L891.4,461.7 L892.3,460.0 L893.2,458.4 L894.1,457.0 L895.0,455.1 L895.9,453.6 L896.8,451.9 L897.7,450.2 L898.6,448.8 L899.4,447.0 L900.3,445.4 L901.2,443.8 L902.1,442.2 L903.0,440.6 L903.8,438.9 L904.7,437.1 L905.6,435.7 L906.5,434.0 L907.3,432.4 L908.2,430.6 L909.1,429.3 L909.9,427.3 L910.8,425.8 L911.6,424.1 L912.5,422.4 L913.4,420.9 L914.2,419.1 L915.1,417.3 L915.9,415.8 L916.8,414.3 L917.6,412.8 L918.5,410.8 L919.3,409.3 L920.2,407.7 L921.0,406.0 L921.8,404.3 L922.7,402.5 L923.5,400.9 L924.3,399.3 L925.2,397.7 L926.0,395.9 L926.8,394.2 L927.7,392.7 L928.5,391.0 L929.3,389.3 L930.2,387.7 L931.0,386.0 L931.8,384.5 L932.6,382.9 L933.5,381.2 L934.3,379.5 L935.1,377.8 L935.9,376.2 L936.7,374.5 L937.6,372.9 L938.4,371.2 L939.2,369.4 L940.0,367.7 L940.8,366.1 L941.6,364.4 L942.4,362.7 L943.3,361.0 L944.1,359.3 L944.9,357.8 L945.7,356.1 L946.5,354.3 L947.3,352.8 L948.1,351.1 L948.9,349.4 L949.7,347.8 L950.5,346.0 L951.3,344.3 L952.1,342.7 L952.9,341.0 L953.7,339.4 L954.5,337.7 L955.3,336.0 L956.1,334.3 L956.9,332.7 L957.7,331.0 L958.5,329.3 L959.3,327.6 L960.1,325.9 L960.9,324.3 L961.7,322.6 L962.5,321.0 L963.3,319.3 L964.1,317.6 L964.9,315.9 L965.6,314.2 L966.4,312.4 L967.2,310.9 L968.0,309.1 L968.8,307.5 L969.5,305.8 L970.3,304.1 L971.1,302.4 L971.9,300.7 L972.7,299.0 L973.4,297.4 L974.2,295.6 L975.0,293.9 L975.7,292.3 L976.5,290.6 L977.3,288.9 L978.0,287.2 L978.8,285.5 L979.5,283.8 L980.3,282.2 L981.0,280.4 L981.8,278.7 L982.5,277.1 L983.3,275.4 L984.0,273.7 L984.8,271.9 L985.5,270.2 L986.3,268.5 L987.0,266.8 L987.7,265.1 L988.5,263.4 L989.2,261.7 L989.9,260.0 L990.6,258.4 L991.4,256.6 L992.1,254.8 L992.8,253.2 L993.5,251.5 L994.2,249.7 L994.9,248.0 L995.7,246.3 L996.4,244.6 L997.1,242.9 L997.8,241.1 L998.5,239.4 L999.2,237.7 L999.8,236.0 L1000.5,234.3 L1001.2,232.5 L1001.9,230.8 L1002.6,229.1 L1003.3,227.4 L1003.9,225.7 L1004.6,223.9 L1005.3,222.2 L1005.9,220.4 L1006.6,218.7 L1007.3,217.0 L1007.9,215.2 L1008.6,213.5 L1009.2,211.7 L1009.9,210.0 L1010.5,208.3 L1011.1,206.5 L1011.8,204.8 L1012.4,203.1 L1013.0,201.3 L1013.7,199.5 L1014.3,197.8 L1014.9,196.1 L1015.5,194.3 L1016.2,192.6 L1016.8,190.8 L1017.4,189.1 L1018.0,187.3 L1018.7,185.6 L1019.3,183.8 L1019.9,182.1 L1020.6,180.4 L1021.2,178.6 L1021.9,176.9 L1022.5,175.2 L1023.2,173.4 L1023.9,171.7 L1024.6,170.0 L1025.3,168.2 L1026.0,166.5 L1026.7,164.8 L1027.4,163.1 L1028.2,161.4 L1028.9,159.7 L1029.7,158.0 L1030.5,156.4 L1031.3,154.7 L1032.1,153.0 L1033.0,151.4 L1033.8,149.7 L1034.7,148.1 L1035.6,146.5 L1036.6,144.9 L1037.5,143.3 L1038.5,141.7 L1039.5,140.1 L1040.5,138.6 L1041.5,137.0 L1042.6,135.5 L1043.7,134.0 L1044.8,132.5 L1046.0,131.1 L1047.1,129.7 L1048.4,128.2 L1049.6,126.9 L1051.0,125.6 L1052.4,124.4 L1053.9,123.3 L1055.4,122.3 L1057.0,121.4 L1058.7,120.6 L1059.7,119.1 L1060.5,117.4 L1061.3,115.7 L1062.1,116.1 L1062.9,117.7 L1063.7,119.4 L1064.8,120.8 L1066.3,121.9 L1067.8,123.0 L1069.3,124.1 L1070.7,125.3 L1072.0,126.7 L1073.3,128.0 L1074.5,129.4 L1075.7,130.8 L1076.8,132.3 L1077.9,133.8 L1078.9,135.4 L1079.9,136.9 L1080.8,138.5 L1081.7,140.2 L1082.6,141.8 L1083.4,143.5 L1084.3,145.1 L1085.1,146.8 L1085.8,148.4 L1086.6,150.1 L1087.4,151.8 L1088.1,153.5 L1088.9,155.2 L1089.6,156.9 L1090.3,158.6 L1091.1,160.4 L1091.8,162.1 L1092.5,163.7 L1093.3,165.4 L1094.0,167.2 L1094.7,168.9 L1095.5,170.6 L1096.2,172.3 L1096.9,174.0 L1097.6,175.7 L1098.3,177.4 L1099.1,179.1 L1099.8,180.8 L1100.5,182.5 L1101.2,184.3 L1101.9,186.0 L1102.6,187.7 L1103.3,189.4 L1104.0,191.1 L1104.7,192.8 L1105.5,194.5 L1106.2,196.3 L1106.9,198.0 L1107.6,199.7 L1108.3,201.4 L1109.0,203.2 L1109.7,204.9 L1110.4,206.6 L1111.1,208.3 L1111.8,210.0 L1112.5,211.7 L1113.2,213.4 L1113.9,215.2 L1114.6,216.9 L1115.3,218.6 L1116.0,220.3 L1116.7,222.0 L1117.4,223.8 L1118.1,225.5 L1118.8,227.3 L1119.5,228.9 L1120.2,230.6 L1120.9,232.3 L1121.6,234.1 L1122.3,235.8 L1123.0,237.5 L1123.7,239.3 L1124.4,240.9 L1125.1,242.7 L1125.8,244.4 L1126.6,246.0 L1127.3,247.8 L1128.0,249.5 L1128.7,251.2 L1129.4,252.9 L1130.1,254.7 L1130.8,256.4 L1131.6,258.1 L1132.3,259.8 L1133.0,261.5 L1133.7,263.2 L1134.5,264.9 L1135.2,266.6 L1135.9,268.3 L1136.7,270.1 L1137.4,271.7 L1138.1,273.5 L1138.9,275.1 L1139.6,276.8 L1140.4,278.5 L1141.1,280.3 L1141.9,281.9 L1142.6,283.6 L1143.4,285.3 L1144.1,287.0 L1144.9,288.7 L1145.6,290.4 L1146.4,292.1 L1147.2,293.8 L1147.9,295.4 L1148.7,297.1 L1149.5,298.8 L1150.3,300.5 L1151.1,302.2 L1151.9,303.8 L1152.6,305.5 L1153.4,307.2 L1154.2,308.9 L1155.0,310.6 L1155.8,312.2 L1156.7,314.0 L1157.5,315.6 L1158.3,317.3 L1159.1,318.9 L1159.9,320.7 L1160.8,322.2 L1161.6,323.9 L1162.4,325.6 L1163.3,327.2 L1164.1,328.8 L1165.0,330.5 L1165.8,332.2 L1166.7,333.9 L1167.5,335.5 L1168.4,337.0 L1169.3,338.7 L1170.2,340.4 L1171.0,341.9 L1171.9,343.6 L1172.8,345.4 L1173.7,346.8 L1174.6,348.6 L1175.5,350.1 L1176.4,351.7 L1177.3,353.4 L1178.2,354.9 L1179.1,356.6 L1180.0,358.3 L1181.0,359.9 L1181.9,361.5 L1182.8,363.0 L1183.7,364.6 L1184.7,366.3 L1185.6,367.9 L1186.6,369.5 L1187.5,371.0 L1188.4,372.8 L1189.4,374.2 L1190.4,375.8 L1191.3,377.3 L1192.3,379.0 L1193.2,380.6 L1194.2,382.1 L1195.2,383.7 L1196.2,385.3 L1197.1,386.9 L1198.1,388.5 L1199.1,390.0 L1200.1,391.7 L1201.1,393.2 L1202.1,394.8 L1203.1,396.2 L1204.1,397.9 L1205.1,399.4 L1206.1,401.1 L1207.1,402.5 L1208.1,404.2 L1209.1,405.6 L1210.2,407.3 L1211.2,408.8 L1212.2,410.2 L1213.2,412.0 L1214.3,413.3 L1215.3,414.9 L1216.3,416.5 L1217.4,418.1 L1218.4,419.6 L1219.5,421.2 L1220.5,422.7 L1221.6,424.1 L1222.6,425.6 L1223.7,427.2 L1224.7,428.8 L1225.8,430.1 L1226.9,431.8 L1227.9,433.1 L1229.0,434.7 L1230.1,436.1 L1231.2,438.0 L1232.2,439.1 L1233.3,440.8 L1234.4,442.4 L1235.5,443.9 L1236.6,445.4 L1237.6,447.0 L1238.7,448.4 L1239.8,450.0 L1240.9,451.4 L1242.0,452.9 L1243.1,454.1 L1244.2,455.9 L1245.3,457.5 L1246.4,458.7 L1247.6,460.2 L1248.7,461.8 L1249.8,463.4 L1250.9,464.9 L1252.0,466.1 L1253.1,467.8 L1254.3,469.1 L1255.4,470.7 L1256.5,471.8 L1257.6,473.8 L1258.8,475.0 L1259.9,476.6 L1261.0,478.0 L1262.2,479.4 L1263.3,481.1 L1264.4,482.4 L1265.6,483.8 L1266.7,485.5 L1267.9,486.8 L1269.0,488.2 L1270.2,489.9 L1271.3,491.1 L1272.5,492.7 L1273.6,494.2 L1274.8,495.7 L1275.9,497.2 L1277.1,498.7 L1278.2,499.9 L1279.4,501.2 L1280.6,503.1 L1281.7,504.5 L1282.9,505.6 L1284.1,507.3 L1285.2,508.5 L1286.4,509.7 L1287.6,511.6 L1288.8,513.0 L1289.9,514.3 L1291.1,516.1 L1292.3,517.5 L1293.5,518.5 L1294.7,519.8 L1295.8,521.1 L1297.0,522.9 L1298.2,524.3 L1299.4,525.8 L1300.6,527.2 L1301.8,528.5 L1303.0,530.0 L1304.2,531.1 L1305.3,533.1 L1306.5,534.2 L1307.7,535.9 L1308.9,537.0 L1310.1,538.6 L1311.3,540.1 L1312.5,541.3 L1313.7,542.6 L1314.9,544.8 L1316.1,545.6 L1317.3,547.2 L1318.5,548.4 L1319.7,549.7 L1321.0,551.6" stroke="#ff00ff"/>
</g>
<rect x="802.0" y="17.4" width="519.0" height="633.0" fill="none" stroke="#000" stroke-width="1.6" stroke-linecap="square"/>
<line x1="876.14" y1="650.4" x2="876.14" y2="657.4" stroke="#000" stroke-width="1.6"/>
<line x1="1061.50" y1="650.4" x2="1061.50" y2="657.4" stroke="#000" stroke-width="1.6"/>
<line x1="1246.86" y1="650.4" x2="1246.86" y2="657.4" stroke="#000" stroke-width="1.6"/>
<line x1="795.0" y1="650.40" x2="802.0" y2="650.40" stroke="#000" stroke-width="1.6"/>
<line x1="795.0" y1="492.15" x2="802.0" y2="492.15" stroke="#000" stroke-width="1.6"/>
<line x1="795.0" y1="333.90" x2="802.0" y2="333.90" stroke="#000" stroke-width="1.6"/>
<line x1="795.0" y1="175.65" x2="802.0" y2="175.65" stroke="#000" stroke-width="1.6"/>
<line x1="795.0" y1="17.40" x2="802.0" y2="17.40" stroke="#000" stroke-width="1.6"/>
<line x1="798.0" y1="602.76" x2="802.0" y2="602.76" stroke="#000" stroke-width="1.2"/>
<line x1="798.0" y1="574.90" x2="802.0" y2="574.90" stroke="#000" stroke-width="1.2"/>
<line x1="798.0" y1="555.12" x2="802.0" y2="555.12" stroke="#000" stroke-width="1.2"/>
<line x1="798.0" y1="539.79" x2="802.0" y2="539.79" stroke="#000" stroke-width="1.2"/>
<line x1="798.0" y1="527.26" x2="802.0" y2="527.26" stroke="#000" stroke-width="1.2"/>
<line x1="798.0" y1="516.66" x2="802.0" y2="516.66" stroke="#000" stroke-width="1.2"/>
<line x1="798.0" y1="507.49" x2="802.0" y2="507.49" stroke="#000" stroke-width="1.2"/>
<line x1="798.0" y1="499.39" x2="802.0" y2="499.39" stroke="#000" stroke-width="1.2"/>
<line x1="798.0" y1="444.51" x2="802.0" y2="444.51" stroke="#000" stroke-width="1.2"/>
<line x1="798.0" y1="416.65" x2="802.0" y2="416.65" stroke="#000" stroke-width="1.2"/>
<line x1="798.0" y1="396.87" x2="802.0" y2="396.87" stroke="#000" stroke-width="1.2"/>
<line x1="798.0" y1="381.54" x2="802.0" y2="381.54" stroke="#000" stroke-width="1.2"/>
<line x1="798.0" y1="369.01" x2="802.0" y2="369.01" stroke="#000" stroke-width="1.2"/>
<line x1="798.0" y1="358.41" x2="802.0" y2="358.41" stroke="#000" stroke-width="1.2"/>
<line x1="798.0" y1="349.24" x2="802.0" y2="349.24" stroke="#000" stroke-width="1.2"/>
<line x1="798.0" y1="341.14" x2="802.0" y2="341.14" stroke="#000" stroke-width="1.2"/>
<line x1="798.0" y1="286.26" x2="802.0" y2="286.26" stroke="#000" stroke-width="1.2"/>
<line x1="798.0" y1="258.40" x2="802.0" y2="258.40" stroke="#000" stroke-width="1.2"/>
<line x1="798.0" y1="238.62" x2="802.0" y2="238.62" stroke="#000" stroke-width="1.2"/>
<line x1="798.0" y1="223.29" x2="802.0" y2="223.29" stroke="#000" stroke-width="1.2"/>
<line x1="798.0" y1="210.76" x2="802.0" y2="210.76" stroke="#000" stroke-width="1.2"/>
<line x1="798.0" y1="200.16" x2="802.0" y2="200.16" stroke="#000" stroke-width="1.2"/>
<line x1="798.0" y1="190.99" x2="802.0" y2="190.99" stroke="#000" stroke-width="1.2"/>
<line x1="798.0" y1="182.89" x2="802.0" y2="182.89" stroke="#000" stroke-width="1.2"/>
<line x1="798.0" y1="128.01" x2="802.0" y2="128.01" stroke="#000" stroke-width="1.2"/>
<line x1="798.0" y1="100.15" x2="802.0" y2="100.15" stroke="#000" stroke-width="1.2"/>
<line x1="798.0" y1="80.37" x2="802.0" y2="80.37" stroke="#000" stroke-width="1.2"/>
<line x1="798.0" y1="65.04" x2="802.0" y2="65.04" stroke="#000" stroke-width="1.2"/>
<line x1="798.0" y1="52.51" x2="802.0" y2="52.51" stroke="#000" stroke-width="1.2"/>
<line x1="798.0" y1="41.91" x2="802.0" y2="41.91" stroke="#000" stroke-width="1.2"/>
<line x1="798.0" y1="32.74" x2="802.0" y2="32.74" stroke="#000" stroke-width="1.2"/>
<line x1="798.0" y1="24.64" x2="802.0" y2="24.64" stroke="#000" stroke-width="1.2"/>
<text x="876.1" y="689.7" font-family='"Liberation Sans", sans-serif' font-size="35.0" text-anchor="middle" textLength="87.9" lengthAdjust="spacingAndGlyphs">−100</text>
<text x="1061.5" y="689.7" font-family='"Liberation Sans", sans-serif' font-size="35.0" text-anchor="middle" textLength="20.4" lengthAdjust="spacingAndGlyphs">0</text>
<text x="1246.9" y="689.7" font-family='"Liberation Sans", sans-serif' font-size="35.0" text-anchor="middle" textLength="61.1" lengthAdjust="spacingAndGlyphs">100</text>
<text x="711.0" y="662.3" font-family='"Liberation Sans", sans-serif' font-size="35.0" text-anchor="start" textLength="40.7" lengthAdjust="spacingAndGlyphs">10</text>
<text x="752.0" y="650.0" font-family='"Liberation Sans", sans-serif' font-size="23.5" text-anchor="start" textLength="31.0" lengthAdjust="spacingAndGlyphs">−5</text>
<text x="711.0" y="504.0" font-family='"Liberation Sans", sans-serif' font-size="35.0" text-anchor="start" textLength="40.7" lengthAdjust="spacingAndGlyphs">10</text>
<text x="752.0" y="491.8" font-family='"Liberation Sans", sans-serif' font-size="23.5" text-anchor="start" textLength="31.0" lengthAdjust="spacingAndGlyphs">−4</text>
<text x="711.0" y="345.8" font-family='"Liberation Sans", sans-serif' font-size="35.0" text-anchor="start" textLength="40.7" lengthAdjust="spacingAndGlyphs">10</text>
<text x="752.0" y="333.5" font-family='"Liberation Sans", sans-serif' font-size="23.5" text-anchor="start" textLength="31.0" lengthAdjust="spacingAndGlyphs">−3</text>
<text x="711.0" y="187.5" font-family='"Liberation Sans", sans-serif' font-size="35.0" text-anchor="start" textLength="40.7" lengthAdjust="spacingAndGlyphs">10</text>
<text x="752.0" y="175.2" font-family='"Liberation Sans", sans-serif' font-size="23.5" text-anchor="start" textLength="31.0" lengthAdjust="spacingAndGlyphs">−2</text>
<text x="711.0" y="29.3" font-family='"Liberation Sans", sans-serif' font-size="35.0" text-anchor="start" textLength="40.7" lengthAdjust="spacingAndGlyphs">10</text>
<text x="752.0" y="17.0" font-family='"Liberation Sans", sans-serif' font-size="23.5" text-anchor="start" textLength="31.0" lengthAdjust="spacingAndGlyphs">−1</text>
<text x="934.2" y="731.2" font-family='"Liberation Sans", sans-serif' font-size="33.6" text-anchor="start" textLength="170.1" lengthAdjust="spacingAndGlyphs">EEG signal</text>
<text x="1119.8" y="731.2" font-family='"Liberation Serif", serif' font-size="46" textLength="10.5" lengthAdjust="spacingAndGlyphs">(</text>
<text x="1133.2" y="731.2" font-family='"Liberation Serif", serif' font-size="45" font-style="italic">&#956;</text>
<text x="1156.8" y="731.2" font-family='"Liberation Serif", serif' font-size="44" textLength="28" lengthAdjust="spacingAndGlyphs">V</text>
<text x="1187.5" y="731.2" font-family='"Liberation Serif", serif' font-size="46" textLength="10.5" lengthAdjust="spacingAndGlyphs">)</text>
<g transform="translate(694.7,332.7) rotate(-90)"><text x="0.0" y="0.0" font-family='"Liberation Sans", sans-serif' font-size="33.6" text-anchor="middle" textLength="170.7" lengthAdjust="spacingAndGlyphs">probability</text></g>
<text x="813.5" y="65.1" font-family='"Liberation Sans", sans-serif' font-size="37.0" text-anchor="start" textLength="10.8" lengthAdjust="spacingAndGlyphs">(</text>
<text x="828.3" y="68.0" font-family='"Liberation Sans", sans-serif' font-size="41.0" text-anchor="start" textLength="22.6" lengthAdjust="spacingAndGlyphs">b</text>
<text x="854.5" y="65.1" font-family='"Liberation Sans", sans-serif' font-size="37.0" text-anchor="start" textLength="10.8" lengthAdjust="spacingAndGlyphs">)</text>
<rect x="1150.0" y="30.0" width="158.5" height="196.0" rx="5.5" ry="5.5" fill="#ffffff" fill-opacity="0.8" stroke="#cccccc" stroke-width="2"/>
<line x1="1160.0" y1="50.9" x2="1212.0" y2="50.9" stroke="#000000" stroke-width="4.0" stroke-linecap="square"/>
<text x="1232.8" y="59.8" font-family='"Liberation Sans", sans-serif' font-size="27.3" text-anchor="start" textLength="67.3" lengthAdjust="spacingAndGlyphs">wake</text>
<line x1="1160.0" y1="88.7" x2="1212.0" y2="88.7" stroke="#0000ff" stroke-width="4.0" stroke-linecap="square"/>
<text x="1232.8" y="97.6" font-family='"Liberation Sans", sans-serif' font-size="27.3" text-anchor="start" textLength="56.9" lengthAdjust="spacingAndGlyphs">REM</text>
<line x1="1160.0" y1="126.5" x2="1212.0" y2="126.5" stroke="#008000" stroke-width="4.0" stroke-linecap="square"/>
<text x="1232.8" y="135.4" font-family='"Liberation Sans", sans-serif' font-size="27.3" text-anchor="start" textLength="36.0" lengthAdjust="spacingAndGlyphs">N1</text>
<line x1="1160.0" y1="164.3" x2="1212.0" y2="164.3" stroke="#ff0000" stroke-width="4.0" stroke-linecap="square"/>
<text x="1232.8" y="173.2" font-family='"Liberation Sans", sans-serif' font-size="27.3" text-anchor="start" textLength="36.0" lengthAdjust="spacingAndGlyphs">N2</text>
<line x1="1160.0" y1="202.1" x2="1212.0" y2="202.1" stroke="#ff00ff" stroke-width="4.0" stroke-linecap="square"/>
<text x="1232.8" y="211.0" font-family='"Liberation Sans", sans-serif' font-size="27.3" text-anchor="start" textLength="36.0" lengthAdjust="spacingAndGlyphs">N3</text>
<line x1="126.00" y1="808.9" x2="126.00" y2="1442.5" stroke="#b0b0b0" stroke-width="1.6"/>
<line x1="255.93" y1="808.9" x2="255.93" y2="1442.5" stroke="#b0b0b0" stroke-width="1.6"/>
<line x1="385.85" y1="808.9" x2="385.85" y2="1442.5" stroke="#b0b0b0" stroke-width="1.6"/>
<line x1="515.78" y1="808.9" x2="515.78" y2="1442.5" stroke="#b0b0b0" stroke-width="1.6"/>
<line x1="645.70" y1="808.9" x2="645.70" y2="1442.5" stroke="#b0b0b0" stroke-width="1.6"/>
<line x1="126.0" y1="1384.90" x2="645.7" y2="1384.90" stroke="#b0b0b0" stroke-width="1.6"/>
<line x1="126.0" y1="1269.70" x2="645.7" y2="1269.70" stroke="#b0b0b0" stroke-width="1.6"/>
<line x1="126.0" y1="1154.50" x2="645.7" y2="1154.50" stroke="#b0b0b0" stroke-width="1.6"/>
<line x1="126.0" y1="1039.30" x2="645.7" y2="1039.30" stroke="#b0b0b0" stroke-width="1.6"/>
<line x1="126.0" y1="924.10" x2="645.7" y2="924.10" stroke="#b0b0b0" stroke-width="1.6"/>
<line x1="126.0" y1="808.90" x2="645.7" y2="808.90" stroke="#b0b0b0" stroke-width="1.6"/>
<g clip-path="url(#clipc)" fill="none" stroke-width="4.0" stroke-linejoin="round" stroke-linecap="butt">
<path d="M126.0,1359.9 L126.6,1358.7 L127.3,1357.6 L128.1,1356.6 L128.9,1355.7 L129.7,1354.8 L130.6,1354.0 L131.5,1353.4 L132.5,1352.7 L133.5,1352.1 L134.6,1351.6 L135.6,1351.1 L136.7,1350.7 L137.8,1350.3 L139.0,1349.9 L140.1,1349.5 L141.3,1349.2 L142.4,1348.8 L143.6,1348.5 L144.7,1348.1 L145.9,1347.7 L147.0,1347.3 L148.1,1346.9 L149.2,1346.4 L150.3,1345.9 L151.3,1345.3 L152.4,1344.7 L153.3,1344.0 L154.3,1343.3 L155.2,1342.6 L156.2,1341.8 L157.1,1341.0 L158.0,1340.2 L159.0,1339.4 L160.0,1338.7 L160.9,1338.0 L161.9,1337.3 L162.9,1336.6 L163.9,1335.9 L164.9,1335.2 L165.8,1334.5 L166.8,1333.8 L167.7,1333.1 L168.6,1332.3 L169.5,1331.5 L170.4,1330.7 L171.3,1329.9 L172.1,1329.0 L173.0,1328.2 L173.9,1327.4 L174.8,1326.7 L175.7,1325.9 L176.7,1325.2 L177.7,1324.6 L178.7,1323.9 L179.7,1323.3 L180.8,1322.7 L181.8,1322.1 L182.8,1321.5 L183.8,1320.9 L184.8,1320.2 L185.8,1319.5 L186.7,1318.7 L187.6,1318.0 L188.5,1317.2 L189.3,1316.3 L190.2,1315.5 L191.1,1314.7 L192.0,1313.9 L192.9,1313.1 L193.8,1312.3 L194.7,1311.6 L195.7,1311.0 L196.7,1310.3 L197.7,1309.7 L198.8,1309.2 L199.8,1308.6 L200.9,1308.0 L201.9,1307.4 L202.9,1306.8 L204.0,1306.2 L205.0,1305.6 L206.0,1305.0 L207.1,1304.3 L208.1,1303.7 L209.1,1303.0 L210.1,1302.3 L211.0,1301.6 L212.0,1300.8 L213.0,1300.1 L213.9,1299.3 L214.8,1298.5 L215.8,1297.8 L216.7,1296.9 L217.5,1296.1 L218.4,1295.3 L219.3,1294.4 L220.1,1293.6 L220.9,1292.7 L221.7,1291.8 L222.5,1290.9 L223.3,1289.9 L224.1,1289.0 L224.8,1288.0 L225.5,1287.0 L226.2,1286.1 L226.8,1285.1 L227.5,1284.0 L228.1,1283.0 L228.7,1282.0 L229.3,1280.9 L229.9,1279.9 L230.5,1278.8 L231.1,1277.8 L231.7,1276.7 L232.2,1275.7 L232.8,1274.6 L233.4,1273.6 L234.1,1272.6 L234.7,1271.6 L235.4,1270.6 L236.0,1269.6 L236.8,1268.6 L237.5,1267.7 L238.2,1266.8 L239.0,1265.8 L239.8,1264.9 L240.6,1264.0 L241.4,1263.1 L242.2,1262.2 L243.0,1261.3 L243.8,1260.4 L244.6,1259.5 L245.4,1258.6 L246.2,1257.7 L247.0,1256.8 L247.8,1255.9 L248.5,1254.9 L249.3,1254.0 L250.0,1253.0 L250.7,1252.1 L251.5,1251.1 L252.2,1250.1 L252.8,1249.1 L253.5,1248.1 L254.2,1247.1 L254.9,1246.1 L255.6,1245.1 L256.3,1244.1 L257.0,1243.1 L257.7,1242.2 L258.5,1241.2 L259.2,1240.3 L260.0,1239.3 L260.7,1238.4 L261.5,1237.5 L262.4,1236.7 L263.2,1235.8 L264.1,1235.0 L265.0,1234.3 L265.9,1233.5 L266.9,1232.8 L267.9,1232.0 L268.8,1231.3 L269.8,1230.6 L270.8,1229.9 L271.7,1229.2 L272.7,1228.4 L273.6,1227.6 L274.5,1226.8 L275.3,1226.0 L276.1,1225.1 L276.9,1224.2 L277.6,1223.2 L278.3,1222.3 L279.0,1221.3 L279.6,1220.3 L280.3,1219.2 L280.9,1218.2 L281.5,1217.1 L282.1,1216.0 L282.7,1215.0 L283.3,1213.9 L283.9,1212.8 L284.5,1211.8 L285.1,1210.7 L285.7,1209.7 L286.4,1208.7 L287.0,1207.6 L287.6,1206.6 L288.3,1205.6 L288.9,1204.6 L289.5,1203.6 L290.2,1202.6 L290.8,1201.5 L291.5,1200.5 L292.1,1199.5 L292.8,1198.5 L293.4,1197.5 L294.1,1196.5 L294.8,1195.5 L295.4,1194.6 L296.0,1193.6 L296.7,1192.5 L297.3,1191.5 L298.0,1190.5 L298.6,1189.5 L299.2,1188.5 L299.9,1187.5 L300.5,1186.5 L301.1,1185.4 L301.7,1184.4 L302.3,1183.4 L302.9,1182.3 L303.5,1181.3 L304.1,1180.2 L304.6,1179.1 L305.2,1178.1 L305.7,1177.0 L306.3,1175.9 L306.8,1174.8 L307.4,1173.7 L307.9,1172.6 L308.4,1171.5 L309.0,1170.4 L309.5,1169.3 L310.0,1168.2 L310.5,1167.1 L311.1,1166.0 L311.6,1164.8 L312.1,1163.7 L312.7,1162.6 L313.2,1161.5 L313.8,1160.4 L314.3,1159.3 L314.9,1158.3 L315.4,1157.2 L316.0,1156.1 L316.6,1155.0 L317.2,1154.0 L317.8,1152.9 L318.4,1151.9 L319.1,1150.8 L319.7,1149.8 L320.4,1148.8 L321.0,1147.8 L321.7,1146.8 L322.4,1145.9 L323.2,1144.9 L323.9,1144.1 L324.7,1143.4 L325.5,1142.8 L326.4,1142.4 L327.3,1142.2 L328.3,1142.2 L329.3,1142.4 L330.3,1142.7 L331.3,1143.1 L332.3,1143.4 L333.2,1143.6 L334.0,1143.7 L334.8,1143.6 L335.4,1143.2 L336.0,1142.6 L336.5,1141.8 L336.9,1140.8 L337.3,1139.8 L337.6,1138.6 L337.8,1137.3 L338.0,1135.9 L338.2,1134.5 L338.4,1133.0 L338.6,1131.5 L338.8,1130.1 L339.0,1128.7 L339.2,1127.3 L339.4,1126.0 L339.8,1124.7 L340.1,1123.5 L340.6,1122.5 L341.1,1121.5 L341.8,1120.6 L342.5,1119.8 L343.4,1119.2 L344.5,1118.8 L345.6,1118.5 L346.8,1118.2 L348.0,1117.9 L349.1,1117.6 L350.2,1117.2 L351.2,1116.8 L352.0,1116.2 L352.8,1115.5 L353.5,1114.7 L354.1,1113.9 L354.6,1113.0 L355.1,1112.0 L355.5,1111.0 L355.8,1109.9 L356.1,1108.7 L356.3,1107.5 L356.6,1106.3 L356.7,1105.1 L356.9,1103.8 L357.0,1102.5 L357.2,1101.2 L357.3,1099.9 L357.4,1098.6 L357.5,1097.4 L357.7,1096.1 L357.8,1094.9 L358.0,1093.7 L358.1,1092.4 L358.3,1091.2 L358.5,1090.0 L358.6,1088.8 L358.8,1087.6 L359.0,1086.5 L359.1,1085.3 L359.3,1084.1 L359.5,1082.9 L359.6,1081.7 L359.7,1080.5 L359.9,1079.3 L360.0,1078.1 L360.1,1076.8 L360.2,1075.6 L360.3,1074.4 L360.4,1073.1 L360.5,1071.9 L360.7,1070.6 L360.8,1069.4 L361.0,1068.2 L361.2,1067.0 L361.4,1065.8 L361.7,1064.7 L362.1,1063.6 L362.5,1062.6 L363.0,1061.6 L363.6,1060.6 L364.2,1059.7 L365.0,1058.8 L365.8,1058.0 L366.7,1057.3 L367.5,1056.5 L368.4,1055.7 L369.1,1054.8 L369.8,1053.9 L370.4,1053.0 L371.0,1051.9 L371.4,1050.9 L371.8,1049.8 L372.2,1048.7 L372.5,1047.6 L372.8,1046.4 L373.1,1045.3 L373.4,1044.2 L373.6,1043.0 L373.8,1041.9 L374.1,1040.7 L374.3,1039.5 L374.4,1038.3 L374.6,1037.2 L374.8,1036.0 L374.9,1034.8 L375.0,1033.6 L375.1,1032.4 L375.2,1031.2 L375.3,1030.0 L375.4,1028.7 L375.5,1027.5 L375.6,1026.3 L375.6,1025.1 L375.7,1023.9 L375.7,1022.6 L375.8,1021.4 L375.8,1020.2 L375.9,1019.0 L375.9,1017.7 L375.9,1016.5 L376.0,1015.3 L376.0,1014.1 L376.0,1012.8 L376.1,1011.6 L376.1,1010.4 L376.1,1009.2 L376.2,1008.0 L376.2,1006.7 L376.3,1005.5 L376.3,1004.3 L376.3,1003.1 L376.4,1001.9 L376.4,1000.7 L376.4,999.4 L376.5,998.2 L376.5,997.0 L376.6,995.8 L376.6,994.6 L376.6,993.4 L376.7,992.2 L376.7,991.0 L376.7,989.7 L376.8,988.5 L376.8,987.3 L376.9,986.1 L376.9,984.9 L376.9,983.7 L377.0,982.5 L377.0,981.3 L377.1,980.1 L377.1,978.9 L377.1,977.7 L377.2,976.5 L377.2,975.3 L377.3,974.1 L377.3,972.9 L377.4,971.7 L377.4,970.5 L377.4,969.3 L377.5,968.1 L377.5,966.9 L377.6,965.7 L377.6,964.5 L377.7,963.3 L377.7,962.1 L377.7,960.9 L377.8,959.7 L377.8,958.5 L377.9,957.3 L377.9,956.1 L378.0,954.9 L378.0,953.7 L378.1,952.5 L378.1,951.3 L378.2,950.1 L378.2,948.9 L378.2,947.7 L378.3,946.5 L378.3,945.3 L378.4,944.1 L378.4,942.9 L378.5,941.7 L378.5,940.5 L378.6,939.3 L378.6,938.1 L378.7,936.9 L378.7,935.7 L378.8,934.5 L378.8,933.3 L378.9,932.1 L378.9,931.0 L379.0,929.8 L379.0,928.6 L379.1,927.4 L379.2,926.2 L379.2,925.0 L379.3,923.8 L379.3,922.6 L379.4,921.4 L379.4,920.2 L379.5,919.0 L379.5,917.8 L379.6,916.6 L379.7,915.4 L379.7,914.2 L379.8,913.0 L379.8,911.8 L379.9,910.6 L380.0,909.4 L380.0,908.2 L380.1,907.0 L380.1,905.8 L380.2,904.6 L380.3,903.4 L380.3,902.2 L380.4,901.0 L380.4,899.8 L380.5,898.6 L380.6,897.4 L380.6,896.2 L380.7,895.0 L380.8,893.8 L380.8,892.6 L380.9,891.4 L381.0,890.2 L381.0,889.0 L381.1,887.8 L381.2,886.6 L381.2,885.4 L381.3,884.2 L381.4,882.9 L381.4,881.7 L381.5,880.5 L381.6,879.3 L381.6,878.1 L381.7,876.9 L381.8,875.7 L381.8,874.5 L381.9,873.3 L382.0,872.1 L382.0,870.9 L382.1,869.7 L382.2,868.5 L382.2,867.3 L382.3,866.1 L382.4,864.9 L382.5,863.7 L382.5,862.5 L382.6,861.3 L382.7,860.1 L382.7,858.8 L382.8,857.6 L382.9,856.4 L382.9,855.2 L383.0,854.0 L383.1,852.8 L383.1,851.6 L383.2,850.4 L383.3,849.2 L383.3,848.0 L383.4,846.8 L383.5,845.6 L383.5,844.4 L383.6,843.2 L383.7,842.0 L383.7,840.8 L383.8,839.6 L383.9,838.4 L383.9,837.2 L384.0,836.0 L384.1,834.8 L384.1,833.6 L384.2,832.4 L384.2,831.2 L384.3,830.0 L384.4,828.8 L384.4,827.6 L384.5,826.4 L384.5,825.2 L384.6,824.0 L384.7,822.8 L384.7,821.6 L384.8,820.4 L384.8,819.2 L384.9,818.0 L385.0,816.8 L385.0,815.6 L385.1,814.4 L385.1,813.2 L385.2,812.0 L385.2,810.8 L385.3,812.0 L385.5,813.2 L385.6,814.4 L385.7,815.5 L385.8,816.7 L385.9,817.9 L386.0,819.1 L386.1,820.3 L386.2,821.5 L386.3,822.7 L386.4,823.9 L386.5,825.1 L386.6,826.2 L386.7,827.4 L386.8,828.6 L386.9,829.8 L387.0,831.0 L387.1,832.2 L387.2,833.4 L387.3,834.6 L387.4,835.8 L387.5,837.0 L387.6,838.2 L387.6,839.4 L387.7,840.6 L387.8,841.8 L387.9,843.0 L388.0,844.2 L388.1,845.4 L388.2,846.6 L388.3,847.8 L388.3,849.0 L388.4,850.2 L388.5,851.4 L388.6,852.6 L388.7,853.8 L388.7,855.0 L388.8,856.2 L388.9,857.4 L389.0,858.6 L389.1,859.8 L389.1,861.0 L389.2,862.2 L389.3,863.5 L389.4,864.7 L389.4,865.9 L389.5,867.1 L389.6,868.3 L389.7,869.5 L389.7,870.7 L389.8,871.9 L389.9,873.1 L390.0,874.3 L390.0,875.5 L390.1,876.7 L390.2,877.9 L390.3,879.1 L390.3,880.4 L390.4,881.6 L390.5,882.8 L390.5,884.0 L390.6,885.2 L390.7,886.4 L390.7,887.6 L390.8,888.8 L390.9,890.0 L390.9,891.2 L391.0,892.4 L391.1,893.7 L391.1,894.9 L391.2,896.1 L391.3,897.3 L391.3,898.5 L391.4,899.7 L391.5,900.9 L391.5,902.1 L391.6,903.3 L391.7,904.5 L391.7,905.7 L391.8,906.9 L391.9,908.1 L391.9,909.4 L392.0,910.6 L392.1,911.8 L392.1,913.0 L392.2,914.2 L392.3,915.4 L392.3,916.6 L392.4,917.8 L392.5,919.0 L392.5,920.2 L392.6,921.4 L392.7,922.6 L392.7,923.8 L392.8,925.0 L392.9,926.2 L392.9,927.4 L393.0,928.6 L393.1,929.8 L393.1,931.0 L393.2,932.2 L393.3,933.4 L393.3,934.6 L393.4,935.8 L393.5,937.0 L393.5,938.2 L393.6,939.4 L393.7,940.6 L393.7,941.8 L393.8,943.0 L393.9,944.2 L393.9,945.4 L394.0,946.6 L394.1,947.8 L394.2,949.0 L394.2,950.2 L394.3,951.4 L394.4,952.5 L394.4,953.7 L394.5,954.9 L394.6,956.1 L394.7,957.3 L394.7,958.5 L394.8,959.7 L394.9,960.9 L395.0,962.0 L395.0,963.2 L395.1,964.4 L395.2,965.6 L395.3,966.8 L395.4,968.0 L395.4,969.1 L395.5,970.3 L395.6,971.5 L395.7,972.7 L395.8,973.9 L395.8,975.0 L395.9,976.2 L396.0,977.4 L396.1,978.6 L396.2,979.8 L396.2,980.9 L396.3,982.1 L396.4,983.3 L396.5,984.5 L396.5,985.7 L396.6,986.9 L396.7,988.0 L396.8,989.2 L396.8,990.4 L396.9,991.6 L397.0,992.8 L397.1,994.0 L397.1,995.2 L397.2,996.4 L397.3,997.6 L397.4,998.8 L397.4,1000.0 L397.5,1001.2 L397.6,1002.4 L397.6,1003.6 L397.7,1004.8 L397.8,1006.0 L397.8,1007.2 L397.9,1008.4 L397.9,1009.6 L398.0,1010.8 L398.1,1012.1 L398.1,1013.3 L398.2,1014.5 L398.2,1015.7 L398.3,1017.0 L398.3,1018.2 L398.4,1019.4 L398.4,1020.7 L398.4,1021.9 L398.5,1023.2 L398.5,1024.4 L398.6,1025.7 L398.6,1026.9 L398.6,1028.2 L398.7,1029.5 L398.7,1030.7 L398.7,1032.0 L398.7,1033.3 L398.8,1034.6 L398.8,1035.8 L398.8,1037.1 L398.8,1038.4 L398.8,1039.7 L398.8,1041.0 L398.9,1042.3 L398.9,1043.6 L399.0,1044.8 L399.0,1046.0 L399.2,1047.2 L399.3,1048.4 L399.5,1049.5 L399.7,1050.5 L400.0,1051.6 L400.4,1052.5 L400.8,1053.4 L401.3,1054.2 L401.9,1054.9 L402.5,1055.5 L403.3,1056.1 L404.1,1056.6 L404.9,1057.1 L405.6,1057.6 L406.4,1058.2 L407.0,1059.0 L407.6,1059.8 L408.1,1060.7 L408.5,1061.7 L408.9,1062.8 L409.2,1063.9 L409.5,1065.0 L409.8,1066.2 L410.0,1067.5 L410.3,1068.7 L410.5,1069.9 L410.7,1071.2 L410.9,1072.4 L411.1,1073.6 L411.3,1074.8 L411.5,1076.1 L411.8,1077.3 L412.0,1078.5 L412.2,1079.7 L412.3,1080.9 L412.5,1082.1 L412.7,1083.3 L412.9,1084.5 L413.1,1085.6 L413.3,1086.8 L413.5,1088.0 L413.7,1089.2 L413.9,1090.4 L414.1,1091.6 L414.3,1092.7 L414.5,1093.9 L414.7,1095.1 L414.8,1096.3 L415.0,1097.5 L415.2,1098.7 L415.4,1099.8 L415.6,1101.0 L415.8,1102.2 L416.0,1103.4 L416.2,1104.6 L416.4,1105.8 L416.6,1107.0 L416.8,1108.2 L417.1,1109.4 L417.3,1110.6 L417.7,1111.7 L418.1,1112.7 L418.6,1113.7 L419.3,1114.5 L420.1,1115.2 L421.0,1115.8 L422.0,1116.4 L423.0,1116.9 L424.0,1117.5 L425.1,1118.0 L426.0,1118.6 L426.9,1119.3 L427.8,1120.1 L428.5,1121.0 L429.1,1122.0 L429.7,1123.1 L430.2,1124.2 L430.6,1125.3 L431.0,1126.6 L431.4,1127.8 L431.8,1129.0 L432.2,1130.2 L432.6,1131.5 L433.0,1132.6 L433.5,1133.8 L434.0,1134.9 L434.6,1135.9 L435.3,1136.8 L436.1,1137.6 L437.0,1138.3 L437.9,1138.9 L439.0,1139.4 L440.2,1139.8 L441.4,1140.2 L442.6,1140.6 L443.7,1141.0 L444.9,1141.5 L446.0,1142.0 L447.0,1142.6 L448.0,1143.3 L449.0,1144.0 L449.9,1144.7 L450.7,1145.6 L451.4,1146.4 L452.1,1147.4 L452.7,1148.4 L453.3,1149.4 L453.8,1150.5 L454.3,1151.6 L454.8,1152.8 L455.3,1153.9 L455.7,1155.1 L456.2,1156.3 L456.6,1157.4 L457.1,1158.6 L457.6,1159.7 L458.1,1160.8 L458.6,1161.9 L459.2,1163.0 L459.7,1164.1 L460.3,1165.2 L460.8,1166.3 L461.4,1167.3 L462.0,1168.4 L462.6,1169.4 L463.2,1170.4 L463.8,1171.5 L464.4,1172.5 L465.0,1173.5 L465.6,1174.6 L466.2,1175.6 L466.9,1176.6 L467.5,1177.6 L468.1,1178.6 L468.7,1179.7 L469.4,1180.7 L470.0,1181.7 L470.6,1182.7 L471.2,1183.7 L471.9,1184.7 L472.5,1185.8 L473.1,1186.8 L473.7,1187.8 L474.4,1188.8 L475.0,1189.8 L475.6,1190.9 L476.2,1191.9 L476.9,1192.9 L477.5,1194.0 L478.1,1195.0 L478.7,1196.0 L479.3,1197.1 L479.9,1198.1 L480.5,1199.1 L481.1,1200.2 L481.7,1201.2 L482.3,1202.3 L482.9,1203.3 L483.5,1204.4 L484.1,1205.5 L484.7,1206.5 L485.2,1207.6 L485.8,1208.7 L486.4,1209.8 L486.9,1210.9 L487.5,1211.9 L488.0,1213.0 L488.6,1214.1 L489.1,1215.2 L489.7,1216.3 L490.2,1217.4 L490.8,1218.5 L491.4,1219.5 L492.1,1220.5 L492.7,1221.5 L493.4,1222.5 L494.1,1223.4 L494.9,1224.3 L495.6,1225.2 L496.5,1226.0 L497.4,1226.8 L498.3,1227.6 L499.2,1228.3 L500.2,1229.0 L501.1,1229.7 L502.1,1230.5 L503.0,1231.2 L503.9,1232.0 L504.8,1232.8 L505.7,1233.6 L506.4,1234.5 L507.2,1235.5 L507.9,1236.4 L508.6,1237.4 L509.3,1238.4 L510.0,1239.4 L510.7,1240.4 L511.4,1241.4 L512.1,1242.4 L512.8,1243.4 L513.5,1244.4 L514.2,1245.3 L515.0,1246.3 L515.7,1247.2 L516.5,1248.1 L517.3,1249.0 L518.1,1249.9 L518.9,1250.8 L519.7,1251.7 L520.4,1252.6 L521.3,1253.5 L522.1,1254.4 L522.9,1255.3 L523.7,1256.1 L524.5,1257.0 L525.3,1257.9 L526.1,1258.8 L526.9,1259.7 L527.7,1260.6 L528.5,1261.5 L529.3,1262.4 L530.1,1263.3 L530.8,1264.2 L531.6,1265.1 L532.4,1266.0 L533.1,1267.0 L533.9,1267.9 L534.6,1268.9 L535.3,1269.9 L536.0,1270.9 L536.7,1271.9 L537.4,1272.9 L538.1,1273.9 L538.8,1274.9 L539.5,1275.9 L540.2,1276.9 L540.8,1277.9 L541.5,1279.0 L542.2,1280.0 L542.9,1281.0 L543.6,1282.0 L544.3,1283.0 L545.0,1284.0 L545.7,1285.0 L546.4,1286.0 L547.1,1286.9 L547.8,1287.9 L548.6,1288.8 L549.3,1289.8 L550.1,1290.7 L550.9,1291.6 L551.7,1292.5 L552.5,1293.3 L553.3,1294.1 L554.2,1295.0 L555.0,1295.7 L555.9,1296.5 L556.8,1297.3 L557.8,1298.0 L558.7,1298.7 L559.7,1299.3 L560.7,1299.9 L561.7,1300.6 L562.7,1301.2 L563.8,1301.7 L564.8,1302.3 L565.9,1302.9 L567.0,1303.4 L568.1,1304.0 L569.1,1304.6 L570.2,1305.2 L571.3,1305.7 L572.3,1306.3 L573.4,1306.9 L574.4,1307.6 L575.4,1308.2 L576.4,1308.9 L577.3,1309.7 L578.2,1310.5 L579.1,1311.3 L579.9,1312.2 L580.6,1313.1 L581.3,1314.1 L582.0,1315.1 L582.7,1316.1 L583.4,1317.1 L584.1,1318.1 L584.9,1319.0 L585.7,1319.8 L586.6,1320.6 L587.5,1321.3 L588.5,1321.9 L589.6,1322.5 L590.6,1323.0 L591.7,1323.5 L592.8,1324.1 L593.9,1324.6 L595.0,1325.2 L596.0,1325.8 L597.0,1326.5 L598.0,1327.2 L598.9,1327.9 L599.9,1328.6 L600.8,1329.4 L601.7,1330.2 L602.7,1331.0 L603.6,1331.7 L604.5,1332.5 L605.5,1333.2 L606.4,1333.9 L607.4,1334.6 L608.4,1335.3 L609.5,1335.9 L610.5,1336.6 L611.5,1337.2 L612.5,1337.8 L613.5,1338.5 L614.5,1339.1 L615.5,1339.8 L616.5,1340.5 L617.4,1341.3 L618.4,1342.1 L619.2,1342.9 L620.1,1343.8 L620.9,1344.7 L621.8,1345.6 L622.6,1346.4 L623.5,1347.2 L624.4,1348.0 L625.3,1348.7 L626.3,1349.2 L627.4,1349.6 L628.5,1350.0 L629.7,1350.2 L630.9,1350.5 L632.1,1350.6 L633.3,1350.8 L634.5,1351.0 L635.7,1351.1 L636.9,1351.4 L638.1,1351.7 L639.2,1352.0 L640.2,1352.5 L641.2,1353.1 L642.2,1353.8 L643.0,1354.6 L643.8,1355.7 L644.4,1356.9 L644.9,1358.3 L645.4,1360.0" stroke="#000000"/>
<path d="M126.3,1337.0 L127.3,1336.6 L128.2,1336.3 L128.3,1335.9 L128.3,1335.6 L129.2,1335.2 L130.0,1334.9 L130.9,1334.5 L131.7,1334.2 L132.5,1333.8 L133.4,1333.5 L134.2,1333.1 L135.0,1332.8 L135.8,1332.4 L136.6,1332.1 L137.4,1331.7 L138.2,1331.4 L139.0,1331.0 L139.7,1330.7 L140.5,1330.3 L141.3,1330.0 L142.0,1329.6 L142.8,1329.3 L143.6,1328.9 L144.3,1328.5 L145.1,1328.2 L145.8,1327.8 L146.5,1327.5 L147.3,1327.1 L148.0,1326.8 L148.7,1326.4 L149.4,1326.1 L150.2,1325.7 L150.9,1325.4 L151.6,1325.0 L152.3,1324.7 L153.0,1324.3 L153.7,1324.0 L154.4,1323.6 L155.1,1323.3 L155.8,1322.9 L156.4,1322.6 L157.1,1322.2 L157.8,1321.9 L158.5,1321.5 L159.1,1321.2 L159.8,1320.8 L160.5,1320.5 L161.1,1320.1 L161.8,1319.8 L162.4,1319.4 L163.1,1319.1 L163.7,1318.7 L164.4,1318.4 L165.0,1318.0 L165.6,1317.7 L166.3,1317.3 L166.9,1317.0 L167.5,1316.6 L168.1,1316.3 L168.8,1315.9 L169.4,1315.6 L170.0,1315.2 L170.6,1314.9 L171.2,1314.5 L171.8,1314.2 L172.4,1313.8 L173.0,1313.5 L173.6,1313.1 L174.2,1312.8 L174.8,1312.4 L175.4,1312.1 L176.0,1311.7 L176.6,1311.3 L177.2,1311.0 L177.8,1310.6 L178.3,1310.3 L178.9,1309.9 L179.5,1309.6 L180.1,1309.2 L180.6,1308.9 L181.2,1308.5 L181.8,1308.2 L182.3,1307.8 L182.9,1307.5 L183.4,1307.1 L184.0,1306.8 L184.5,1306.4 L185.1,1306.1 L185.6,1305.7 L186.2,1305.4 L186.7,1305.0 L187.3,1304.7 L187.8,1304.3 L188.4,1304.0 L188.9,1303.6 L189.4,1303.3 L190.0,1302.9 L190.5,1302.6 L191.0,1302.2 L191.5,1301.9 L192.1,1301.5 L192.6,1301.2 L193.1,1300.8 L193.6,1300.5 L194.1,1300.1 L194.6,1299.8 L195.2,1299.4 L195.7,1299.1 L196.2,1298.7 L196.7,1298.4 L197.2,1298.0 L197.7,1297.7 L198.2,1297.3 L198.7,1297.0 L199.2,1296.6 L199.7,1296.3 L200.2,1295.9 L200.7,1295.6 L201.1,1295.2 L201.6,1294.9 L202.1,1294.5 L202.6,1294.1 L203.1,1293.8 L203.6,1293.4 L204.0,1293.1 L204.5,1292.7 L205.0,1292.4 L205.5,1292.0 L205.9,1291.7 L206.4,1291.3 L206.9,1291.0 L207.3,1290.6 L207.8,1290.3 L208.3,1289.9 L208.7,1289.6 L209.2,1289.2 L209.6,1288.9 L210.1,1288.5 L210.6,1288.2 L211.0,1287.8 L211.5,1287.5 L211.9,1287.1 L212.4,1286.8 L212.8,1286.4 L213.3,1286.1 L213.7,1285.7 L214.2,1285.4 L214.6,1285.0 L215.0,1284.7 L215.5,1284.3 L215.9,1284.0 L216.3,1283.6 L216.8,1283.3 L217.2,1282.9 L217.6,1282.6 L218.1,1282.2 L218.5,1281.9 L218.9,1281.5 L219.4,1281.2 L219.8,1280.8 L220.2,1280.5 L220.6,1280.1 L221.1,1279.8 L221.5,1279.4 L221.9,1279.1 L222.3,1278.7 L222.7,1278.4 L223.1,1278.0 L223.5,1277.7 L224.0,1277.3 L224.4,1276.9 L224.8,1276.6 L225.2,1276.2 L225.6,1275.9 L226.0,1275.5 L226.4,1275.2 L226.8,1274.8 L227.2,1274.5 L227.6,1274.1 L228.0,1273.8 L228.4,1273.4 L228.8,1273.1 L229.2,1272.7 L229.6,1272.4 L230.0,1272.0 L230.4,1271.7 L230.8,1271.3 L231.2,1271.0 L231.5,1270.6 L231.9,1270.3 L232.3,1269.9 L232.7,1269.6 L233.1,1269.2 L233.5,1268.9 L233.8,1268.5 L234.2,1268.2 L234.6,1267.8 L235.0,1267.5 L235.4,1267.1 L235.7,1266.8 L236.1,1266.4 L236.5,1266.1 L236.9,1265.7 L237.2,1265.4 L237.6,1265.0 L238.0,1264.7 L238.3,1264.3 L238.7,1264.0 L239.1,1263.6 L239.4,1263.3 L239.8,1262.9 L240.2,1262.6 L240.5,1262.2 L240.9,1261.9 L241.2,1261.5 L241.6,1261.2 L242.0,1260.8 L242.3,1260.5 L242.7,1260.1 L243.0,1259.7 L243.4,1259.4 L243.7,1259.0 L244.1,1258.7 L244.4,1258.3 L244.8,1258.0 L245.1,1257.6 L245.5,1257.3 L245.8,1256.9 L246.2,1256.6 L246.5,1256.2 L246.8,1255.9 L247.2,1255.5 L247.5,1255.2 L247.9,1254.8 L248.2,1254.5 L248.5,1254.1 L248.9,1253.8 L249.2,1253.4 L249.6,1253.1 L249.9,1252.7 L250.2,1252.4 L250.6,1252.0 L250.9,1251.7 L251.2,1251.3 L251.5,1251.0 L251.9,1250.6 L252.2,1250.3 L252.5,1249.9 L252.9,1249.6 L253.2,1249.2 L253.5,1248.9 L253.8,1248.5 L254.1,1248.2 L254.5,1247.8 L254.8,1247.5 L255.1,1247.1 L255.4,1246.8 L255.7,1246.4 L256.1,1246.1 L256.4,1245.7 L256.7,1245.4 L257.0,1245.0 L257.3,1244.7 L257.6,1244.3 L257.9,1244.0 L258.3,1243.6 L258.6,1243.3 L258.9,1242.9 L259.2,1242.5 L259.5,1242.2 L259.8,1241.8 L260.1,1241.5 L260.4,1241.1 L260.7,1240.8 L261.0,1240.4 L261.3,1240.1 L261.6,1239.7 L261.9,1239.4 L262.2,1239.0 L262.5,1238.7 L262.8,1238.3 L263.1,1238.0 L263.4,1237.6 L263.7,1237.3 L264.0,1236.9 L264.3,1236.6 L264.6,1236.2 L264.9,1235.9 L265.2,1235.5 L265.4,1235.2 L265.7,1234.8 L266.0,1234.5 L266.3,1234.1 L266.6,1233.8 L266.9,1233.4 L267.2,1233.1 L267.4,1232.7 L267.7,1232.4 L268.0,1232.0 L268.3,1231.7 L268.6,1231.3 L268.9,1231.0 L269.1,1230.6 L269.4,1230.3 L269.7,1229.9 L270.0,1229.6 L270.2,1229.2 L270.5,1228.9 L270.8,1228.5 L271.1,1228.2 L271.3,1227.8 L271.6,1227.5 L271.9,1227.1 L272.2,1226.8 L272.4,1226.4 L272.7,1226.1 L273.0,1225.7 L273.2,1225.3 L273.5,1225.0 L273.8,1224.6 L274.0,1224.3 L274.3,1223.9 L274.6,1223.6 L274.8,1223.2 L275.1,1222.9 L275.3,1222.5 L275.6,1222.2 L275.9,1221.8 L276.1,1221.5 L276.4,1221.1 L276.6,1220.8 L276.9,1220.4 L277.1,1220.1 L277.4,1219.7 L277.7,1219.4 L277.9,1219.0 L278.2,1218.7 L278.4,1218.3 L278.7,1218.0 L278.9,1217.6 L279.2,1217.3 L279.4,1216.9 L279.7,1216.6 L279.9,1216.2 L280.2,1215.9 L280.4,1215.5 L280.7,1215.2 L280.9,1214.8 L281.1,1214.5 L281.4,1214.1 L281.6,1213.8 L281.9,1213.4 L282.1,1213.1 L282.4,1212.7 L282.6,1212.4 L282.8,1212.0 L283.1,1211.7 L283.3,1211.3 L283.6,1211.0 L283.8,1210.6 L284.0,1210.3 L284.3,1209.9 L284.5,1209.6 L284.8,1209.2 L285.0,1208.9 L285.2,1208.5 L285.5,1208.1 L285.7,1207.8 L285.9,1207.4 L286.2,1207.1 L286.4,1206.7 L286.6,1206.4 L286.9,1206.0 L287.1,1205.7 L287.3,1205.3 L287.6,1205.0 L287.8,1204.6 L288.0,1204.3 L288.3,1203.9 L288.5,1203.6 L288.7,1203.2 L289.0,1202.9 L289.2,1202.5 L289.4,1202.2 L289.7,1201.8 L289.9,1201.5 L290.1,1201.1 L290.3,1200.8 L290.6,1200.4 L290.8,1200.1 L291.0,1199.7 L291.3,1199.4 L291.5,1199.0 L291.7,1198.7 L291.9,1198.3 L292.2,1198.0 L292.4,1197.6 L292.6,1197.3 L292.8,1196.9 L293.1,1196.6 L293.3,1196.2 L293.5,1195.9 L293.7,1195.5 L294.0,1195.2 L294.2,1194.8 L294.4,1194.5 L294.6,1194.1 L294.9,1193.8 L295.1,1193.4 L295.3,1193.1 L295.5,1192.7 L295.8,1192.4 L296.0,1192.0 L296.2,1191.7 L296.4,1191.3 L296.7,1191.0 L296.9,1190.6 L297.1,1190.2 L297.3,1189.9 L297.6,1189.5 L297.8,1189.2 L298.0,1188.8 L298.2,1188.5 L298.4,1188.1 L298.7,1187.8 L298.9,1187.4 L299.1,1187.1 L299.3,1186.7 L299.6,1186.4 L299.8,1186.0 L300.0,1185.7 L300.2,1185.3 L300.5,1185.0 L300.7,1184.6 L300.9,1184.3 L301.1,1183.9 L301.4,1183.6 L301.6,1183.2 L301.8,1182.9 L302.0,1182.5 L302.2,1182.2 L302.5,1181.8 L302.7,1181.5 L302.9,1181.1 L303.1,1180.8 L303.4,1180.4 L303.6,1180.1 L303.8,1179.7 L304.0,1179.4 L304.3,1179.0 L304.5,1178.7 L304.7,1178.3 L304.9,1178.0 L305.2,1177.6 L305.4,1177.3 L305.6,1176.9 L305.9,1176.6 L306.1,1176.2 L306.3,1175.9 L306.5,1175.5 L306.8,1175.2 L307.0,1174.8 L307.2,1174.5 L307.5,1174.1 L307.7,1173.8 L307.9,1173.4 L308.2,1173.0 L308.4,1172.7 L308.6,1172.3 L308.9,1172.0 L309.1,1171.6 L309.4,1171.3 L309.6,1170.9 L309.8,1170.6 L310.1,1170.2 L310.3,1169.9 L310.6,1169.5 L310.8,1169.2 L311.1,1168.8 L311.3,1168.5 L311.6,1168.1 L311.8,1167.8 L312.1,1167.4 L312.3,1167.1 L312.6,1166.7 L312.9,1166.4 L313.1,1166.0 L313.4,1165.7 L313.7,1165.3 L313.9,1165.0 L314.2,1164.6 L314.5,1164.3 L314.8,1163.9 L315.0,1163.6 L315.3,1163.2 L315.6,1162.9 L315.9,1162.5 L316.2,1162.2 L316.5,1161.8 L316.8,1161.5 L317.1,1161.1 L317.4,1160.8 L317.7,1160.4 L318.0,1160.1 L318.3,1159.7 L318.6,1159.4 L318.9,1159.0 L319.2,1158.7 L319.5,1158.3 L319.9,1158.0 L320.2,1157.6 L320.5,1157.3 L320.8,1156.9 L321.1,1156.6 L321.5,1156.2 L321.8,1155.8 L322.1,1155.5 L322.4,1155.1 L322.8,1154.8 L323.1,1154.4 L323.4,1154.1 L323.8,1153.7 L324.1,1153.4 L324.4,1153.0 L324.7,1152.7 L325.1,1152.3 L325.4,1152.0 L325.7,1151.6 L326.1,1151.3 L326.4,1150.9 L326.7,1150.6 L327.0,1150.2 L327.3,1149.9 L327.7,1149.5 L328.0,1149.2 L328.3,1148.8 L328.6,1148.5 L328.9,1148.1 L329.2,1147.8 L329.5,1147.4 L329.8,1147.1 L330.1,1146.7 L330.4,1146.4 L330.7,1146.0 L330.9,1145.7 L331.2,1145.3 L331.5,1145.0 L331.8,1144.6 L332.0,1144.3 L332.3,1143.9 L332.5,1143.6 L332.8,1143.2 L333.0,1142.9 L333.2,1142.5 L333.5,1142.2 L333.7,1141.8 L333.9,1141.5 L334.1,1141.1 L334.4,1140.8 L334.6,1140.4 L334.8,1140.1 L335.0,1139.7 L335.2,1139.4 L335.4,1139.0 L335.6,1138.6 L335.7,1138.3 L335.9,1137.9 L336.1,1137.6 L336.3,1137.2 L336.4,1136.9 L336.6,1136.5 L336.8,1136.2 L336.9,1135.8 L337.1,1135.5 L337.3,1135.1 L337.4,1134.8 L337.6,1134.4 L337.7,1134.1 L337.9,1133.7 L338.0,1133.4 L338.2,1133.0 L338.3,1132.7 L338.5,1132.3 L338.6,1132.0 L338.7,1131.6 L338.9,1131.3 L339.0,1130.9 L339.1,1130.6 L339.3,1130.2 L339.4,1129.9 L339.5,1129.5 L339.6,1129.2 L339.8,1128.8 L339.9,1128.5 L340.0,1128.1 L340.1,1127.8 L340.3,1127.4 L340.4,1127.1 L340.5,1126.7 L340.6,1126.4 L340.7,1126.0 L340.9,1125.7 L341.0,1125.3 L341.1,1125.0 L341.2,1124.6 L341.3,1124.3 L341.4,1123.9 L341.5,1123.6 L341.7,1123.2 L341.8,1122.9 L341.9,1122.5 L342.0,1122.2 L342.1,1121.8 L342.2,1121.4 L342.3,1121.1 L342.4,1120.7 L342.5,1120.4 L342.7,1120.0 L342.8,1119.7 L342.9,1119.3 L343.0,1119.0 L343.1,1118.6 L343.2,1118.3 L343.3,1117.9 L343.4,1117.6 L343.5,1117.2 L343.6,1116.9 L343.7,1116.5 L343.8,1116.2 L343.9,1115.8 L344.0,1115.5 L344.2,1115.1 L344.3,1114.8 L344.4,1114.4 L344.5,1114.1 L344.6,1113.7 L344.7,1113.4 L344.8,1113.0 L344.9,1112.7 L345.0,1112.3 L345.1,1112.0 L345.2,1111.6 L345.3,1111.3 L345.4,1110.9 L345.5,1110.6 L345.6,1110.2 L345.7,1109.9 L345.8,1109.5 L345.9,1109.2 L346.0,1108.8 L346.2,1108.5 L346.3,1108.1 L346.4,1107.8 L346.5,1107.4 L346.6,1107.1 L346.7,1106.7 L346.8,1106.4 L346.9,1106.0 L347.0,1105.7 L347.1,1105.3 L347.2,1105.0 L347.3,1104.6 L347.4,1104.2 L347.5,1103.9 L347.6,1103.5 L347.7,1103.2 L347.8,1102.8 L347.9,1102.5 L348.0,1102.1 L348.1,1101.8 L348.2,1101.4 L348.3,1101.1 L348.4,1100.7 L348.5,1100.4 L348.6,1100.0 L348.7,1099.7 L348.8,1099.3 L348.9,1099.0 L349.0,1098.6 L349.1,1098.3 L349.2,1097.9 L349.3,1097.6 L349.4,1097.2 L349.5,1096.9 L349.6,1096.5 L349.7,1096.2 L349.8,1095.8 L349.9,1095.5 L350.0,1095.1 L350.1,1094.8 L350.2,1094.4 L350.2,1094.1 L350.3,1093.7 L350.4,1093.4 L350.5,1093.0 L350.6,1092.7 L350.7,1092.3 L350.8,1092.0 L350.9,1091.6 L351.0,1091.3 L351.1,1090.9 L351.2,1090.6 L351.3,1090.2 L351.4,1089.9 L351.5,1089.5 L351.6,1089.2 L351.7,1088.8 L351.8,1088.5 L351.9,1088.1 L351.9,1087.8 L352.0,1087.4 L352.1,1087.0 L352.2,1086.7 L352.3,1086.3 L352.4,1086.0 L352.5,1085.6 L352.6,1085.3 L352.7,1084.9 L352.8,1084.6 L352.9,1084.2 L353.0,1083.9 L353.0,1083.5 L353.1,1083.2 L353.2,1082.8 L353.3,1082.5 L353.4,1082.1 L353.5,1081.8 L353.6,1081.4 L353.7,1081.1 L353.8,1080.7 L353.8,1080.4 L353.9,1080.0 L354.0,1079.7 L354.1,1079.3 L354.2,1079.0 L354.3,1078.6 L354.4,1078.3 L354.4,1077.9 L354.5,1077.6 L354.6,1077.2 L354.7,1076.9 L354.8,1076.5 L354.9,1076.2 L355.0,1075.8 L355.0,1075.5 L355.1,1075.1 L355.2,1074.8 L355.3,1074.4 L355.4,1074.1 L355.5,1073.7 L355.5,1073.4 L355.6,1073.0 L355.7,1072.7 L355.8,1072.3 L355.9,1072.0 L356.0,1071.6 L356.0,1071.3 L356.1,1070.9 L356.2,1070.6 L356.3,1070.2 L356.4,1069.9 L356.4,1069.5 L356.5,1069.1 L356.6,1068.8 L356.7,1068.4 L356.8,1068.1 L356.8,1067.7 L356.9,1067.4 L357.0,1067.0 L357.1,1066.7 L357.2,1066.3 L357.2,1066.0 L357.3,1065.6 L357.4,1065.3 L357.5,1064.9 L357.5,1064.6 L357.6,1064.2 L357.7,1063.9 L357.8,1063.5 L357.9,1063.2 L357.9,1062.8 L358.0,1062.5 L358.1,1062.1 L358.2,1061.8 L358.2,1061.4 L358.3,1061.1 L358.4,1060.7 L358.4,1060.4 L358.5,1060.0 L358.6,1059.7 L358.7,1059.3 L358.7,1059.0 L358.8,1058.6 L358.9,1058.3 L359.0,1057.9 L359.0,1057.6 L359.1,1057.2 L359.2,1056.9 L359.2,1056.5 L359.3,1056.2 L359.4,1055.8 L359.5,1055.5 L359.5,1055.1 L359.6,1054.8 L359.7,1054.4 L359.7,1054.1 L359.8,1053.7 L359.9,1053.4 L359.9,1053.0 L360.0,1052.7 L360.1,1052.3 L360.2,1051.9 L360.2,1051.6 L360.3,1051.2 L360.4,1050.9 L360.4,1050.5 L360.5,1050.2 L360.6,1049.8 L360.6,1049.5 L360.7,1049.1 L360.8,1048.8 L360.8,1048.4 L360.9,1048.1 L361.0,1047.7 L361.0,1047.4 L361.1,1047.0 L361.2,1046.7 L361.2,1046.3 L361.3,1046.0 L361.4,1045.6 L361.4,1045.3 L361.5,1044.9 L361.5,1044.6 L361.6,1044.2 L361.7,1043.9 L361.7,1043.5 L361.8,1043.2 L361.9,1042.8 L361.9,1042.5 L362.0,1042.1 L362.1,1041.8 L362.1,1041.4 L362.2,1041.1 L362.2,1040.7 L362.3,1040.4 L362.4,1040.0 L362.4,1039.7 L362.5,1039.3 L362.5,1039.0 L362.6,1038.6 L362.7,1038.3 L362.7,1037.9 L362.8,1037.6 L362.8,1037.2 L362.9,1036.9 L363.0,1036.5 L363.0,1036.2 L363.1,1035.8 L363.1,1035.5 L363.2,1035.1 L363.3,1034.7 L363.3,1034.4 L363.4,1034.0 L363.4,1033.7 L363.5,1033.3 L363.6,1033.0 L363.6,1032.6 L363.7,1032.3 L363.7,1031.9 L363.8,1031.6 L363.8,1031.2 L363.9,1030.9 L364.0,1030.5 L364.0,1030.2 L364.1,1029.8 L364.1,1029.5 L364.2,1029.1 L364.2,1028.8 L364.3,1028.4 L364.3,1028.1 L364.4,1027.7 L364.5,1027.4 L364.5,1027.0 L364.6,1026.7 L364.6,1026.3 L364.7,1026.0 L364.7,1025.6 L364.8,1025.3 L364.8,1024.9 L364.9,1024.6 L364.9,1024.2 L365.0,1023.9 L365.0,1023.5 L365.1,1023.2 L365.1,1022.8 L365.2,1022.5 L365.3,1022.1 L365.3,1021.8 L365.4,1021.4 L365.4,1021.1 L365.5,1020.7 L365.5,1020.4 L365.6,1020.0 L365.6,1019.7 L365.7,1019.3 L365.7,1019.0 L365.8,1018.6 L365.8,1018.3 L365.9,1017.9 L365.9,1017.5 L366.0,1017.2 L366.0,1016.8 L366.1,1016.5 L366.1,1016.1 L366.2,1015.8 L366.2,1015.4 L366.3,1015.1 L366.3,1014.7 L366.4,1014.4 L366.4,1014.0 L366.5,1013.7 L366.5,1013.3 L366.6,1013.0 L366.6,1012.6 L366.7,1012.3 L366.7,1011.9 L366.7,1011.6 L366.8,1011.2 L366.8,1010.9 L366.9,1010.5 L366.9,1010.2 L367.0,1009.8 L367.0,1009.5 L367.1,1009.1 L367.1,1008.8 L367.2,1008.4 L367.2,1008.1 L367.3,1007.7 L367.3,1007.4 L367.4,1007.0 L367.4,1006.7 L367.4,1006.3 L367.5,1006.0 L367.5,1005.6 L367.6,1005.3 L367.6,1004.9 L367.7,1004.6 L367.7,1004.2 L367.8,1003.9 L367.8,1003.5 L367.8,1003.2 L367.9,1002.8 L367.9,1002.5 L368.0,1002.1 L368.0,1001.8 L368.1,1001.4 L368.1,1001.1 L368.2,1000.7 L368.2,1000.3 L368.2,1000.0 L368.3,999.6 L368.3,999.3 L368.4,998.9 L368.4,998.6 L368.5,998.2 L368.5,997.9 L368.5,997.5 L368.6,997.2 L368.6,996.8 L368.7,996.5 L368.7,996.1 L368.7,995.8 L368.8,995.4 L368.8,995.1 L368.9,994.7 L368.9,994.4 L368.9,994.0 L369.0,993.7 L369.0,993.3 L369.1,993.0 L369.1,992.6 L369.2,992.3 L369.2,991.9 L369.2,991.6 L369.3,991.2 L369.3,990.9 L369.4,990.5 L369.4,990.2 L369.4,989.8 L369.5,989.5 L369.5,989.1 L369.5,988.8 L369.6,988.4 L369.6,988.1 L369.7,987.7 L369.7,987.4 L369.7,987.0 L369.8,986.7 L369.8,986.3 L369.9,986.0 L369.9,985.6 L369.9,985.3 L370.0,984.9 L370.0,984.6 L370.0,984.2 L370.1,983.9 L370.1,983.5 L370.2,983.1 L370.2,982.8 L370.2,982.4 L370.3,982.1 L370.3,981.7 L370.3,981.4 L370.4,981.0 L370.4,980.7 L370.4,980.3 L370.5,980.0 L370.5,979.6 L370.6,979.3 L370.6,978.9 L370.6,978.6 L370.7,978.2 L370.7,977.9 L370.7,977.5 L370.8,977.2 L370.8,976.8 L370.8,976.5 L370.9,976.1 L370.9,975.8 L370.9,975.4 L371.0,975.1 L371.0,974.7 L371.1,974.4 L371.1,974.0 L371.1,973.7 L371.2,973.3 L371.2,973.0 L371.2,972.6 L371.3,972.3 L371.3,971.9 L371.3,971.6 L371.4,971.2 L371.4,970.9 L371.4,970.5 L371.5,970.2 L371.5,969.8 L371.5,969.5 L371.6,969.1 L371.6,968.8 L371.6,968.4 L371.7,968.1 L371.7,967.7 L371.7,967.4 L371.8,967.0 L371.8,966.7 L371.8,966.3 L371.9,965.9 L371.9,965.6 L371.9,965.2 L372.0,964.9 L372.0,964.5 L372.0,964.2 L372.1,963.8 L372.1,963.5 L372.1,963.1 L372.2,962.8 L372.2,962.4 L372.2,962.1 L372.2,961.7 L372.3,961.4 L372.3,961.0 L372.3,960.7 L372.4,960.3 L372.4,960.0 L372.4,959.6 L372.5,959.3 L372.5,958.9 L372.5,958.6 L372.6,958.2 L372.6,957.9 L372.6,957.5 L372.7,957.2 L372.7,956.8 L372.7,956.5 L372.7,956.1 L372.8,955.8 L372.8,955.4 L372.8,955.1 L372.9,954.7 L372.9,954.4 L372.9,954.0 L373.0,953.7 L373.0,953.3 L373.0,953.0 L373.0,952.6 L373.1,952.3 L373.1,951.9 L373.1,951.6 L373.2,951.2 L373.2,950.9 L373.2,950.5 L373.3,950.2 L373.3,949.8 L373.3,949.5 L373.3,949.1 L373.4,948.8 L373.4,948.4 L373.4,948.0 L373.5,947.7 L373.5,947.3 L373.5,947.0 L373.5,946.6 L373.6,946.3 L373.6,945.9 L373.6,945.6 L373.7,945.2 L373.7,944.9 L373.7,944.5 L373.7,944.2 L373.8,943.8 L373.8,943.5 L373.8,943.1 L373.9,942.8 L373.9,942.4 L373.9,942.1 L373.9,941.7 L374.0,941.4 L374.0,941.0 L374.0,940.7 L374.1,940.3 L374.1,940.0 L374.1,939.6 L374.1,939.3 L374.2,938.9 L374.2,938.6 L374.2,938.2 L374.3,937.9 L374.3,937.5 L374.3,937.2 L374.3,936.8 L374.4,936.5 L374.4,936.1 L374.4,935.8 L374.5,935.4 L374.5,935.1 L374.5,934.7 L374.5,934.4 L374.6,934.0 L374.6,933.7 L374.6,933.3 L374.6,933.0 L374.7,932.6 L374.7,932.3 L374.7,931.9 L374.8,931.6 L374.8,931.2 L374.8,930.8 L374.8,930.5 L374.9,930.1 L374.9,929.8 L374.9,929.4 L374.9,929.1 L375.0,928.7 L375.0,928.4 L375.0,928.0 L375.1,927.7 L375.1,927.3 L375.1,927.0 L375.1,926.6 L375.2,926.3 L375.2,925.9 L375.2,925.6 L375.2,925.2 L375.3,924.9 L375.3,924.5 L375.3,924.2 L375.3,923.8 L375.4,923.5 L375.4,923.1 L375.4,922.8 L375.5,922.4 L375.5,922.1 L375.5,921.7 L375.5,921.4 L375.6,921.0 L375.6,920.7 L375.6,920.3 L375.6,920.0 L375.7,919.6 L375.7,919.3 L375.7,918.9 L375.7,918.6 L375.8,918.2 L375.8,917.9 L375.8,917.5 L375.9,917.2 L375.9,916.8 L375.9,916.5 L375.9,916.1 L376.0,915.8 L376.0,915.4 L376.0,915.1 L376.0,914.7 L376.1,914.4 L376.1,914.0 L376.1,913.6 L376.1,913.3 L376.2,912.9 L376.2,912.6 L376.2,912.2 L376.2,911.9 L376.3,911.5 L376.3,911.2 L376.3,910.8 L376.4,910.5 L376.4,910.1 L376.4,909.8 L376.4,909.4 L376.5,909.1 L376.5,908.7 L376.5,908.4 L376.5,908.0 L376.6,907.7 L376.6,907.3 L376.6,907.0 L376.6,906.6 L376.7,906.3 L376.7,905.9 L376.7,905.6 L376.8,905.2 L376.8,904.9 L376.8,904.5 L376.8,904.2 L376.9,903.8 L376.9,903.5 L376.9,903.1 L376.9,902.8 L377.0,902.4 L377.0,902.1 L377.0,901.7 L377.0,901.4 L377.1,901.0 L377.1,900.7 L377.1,900.3 L377.1,900.0 L377.2,899.6 L377.2,899.3 L377.2,898.9 L377.3,898.6 L377.3,898.2 L377.3,897.9 L377.3,897.5 L377.4,897.2 L377.4,896.8 L377.4,896.4 L377.4,896.1 L377.5,895.7 L377.5,895.4 L377.5,895.0 L377.6,894.7 L377.6,894.3 L377.6,894.0 L377.6,893.6 L377.7,893.3 L377.7,892.9 L377.7,892.6 L377.7,892.2 L377.8,891.9 L377.8,891.5 L377.8,891.2 L377.8,890.8 L377.9,890.5 L377.9,890.1 L377.9,889.8 L378.0,889.4 L378.0,889.1 L378.0,888.7 L378.0,888.4 L378.1,888.0 L378.1,887.7 L378.1,887.3 L378.1,887.0 L378.2,886.6 L378.2,886.3 L378.2,885.9 L378.3,885.6 L378.3,885.2 L378.3,884.9 L378.3,884.5 L378.4,884.2 L378.4,883.8 L378.4,883.5 L378.5,883.1 L378.5,882.8 L378.5,882.4 L378.5,882.1 L378.6,881.7 L378.6,881.4 L378.6,881.0 L378.7,880.7 L378.7,880.3 L378.7,880.0 L378.7,879.6 L378.8,879.2 L378.8,878.9 L378.8,878.5 L378.9,878.2 L378.9,877.8 L378.9,877.5 L378.9,877.1 L379.0,876.8 L379.0,876.4 L379.0,876.1 L379.1,875.7 L379.1,875.4 L379.1,875.0 L379.1,874.7 L379.2,874.3 L379.2,874.0 L379.2,873.6 L379.3,873.3 L379.3,872.9 L379.3,872.6 L379.3,872.2 L379.4,871.9 L379.4,871.5 L379.4,871.2 L379.5,870.8 L379.5,870.5 L379.5,870.1 L379.6,869.8 L379.6,869.4 L379.6,869.1 L379.6,868.7 L379.7,868.4 L379.7,868.0 L379.7,867.7 L379.8,867.3 L379.8,867.0 L379.8,866.6 L379.9,866.3 L379.9,865.9 L379.9,865.6 L379.9,865.2 L380.0,864.9 L380.0,864.5 L380.0,864.2 L380.1,863.8 L380.1,863.5 L380.1,863.1 L380.2,862.8 L380.2,862.4 L380.2,862.0 L380.3,861.7 L380.3,861.3 L380.3,861.0 L380.4,860.6 L380.4,860.3 L380.4,859.9 L380.4,859.6 L380.5,859.2 L380.5,858.9 L380.5,858.5 L380.6,858.2 L380.6,857.8 L380.6,857.5 L380.7,857.1 L380.7,856.8 L380.7,856.4 L380.8,856.1 L380.8,855.7 L380.8,855.4 L380.9,855.0 L380.9,854.7 L380.9,854.3 L381.0,854.0 L381.0,853.6 L381.0,853.3 L381.1,852.9 L381.1,852.6 L381.1,852.2 L381.2,851.9 L381.2,851.5 L381.2,851.2 L381.3,850.8 L381.3,850.5 L381.3,850.1 L381.4,849.8 L381.4,849.4 L381.4,849.1 L381.5,848.7 L381.5,848.4 L381.5,848.0 L381.6,847.7 L381.6,847.3 L381.7,847.0 L381.7,846.6 L381.7,846.3 L381.8,845.9 L381.8,845.6 L381.8,845.2 L381.9,844.8 L381.9,844.5 L381.9,844.1 L382.0,843.8 L382.0,843.4 L382.0,843.1 L382.1,842.7 L382.1,842.4 L382.1,842.0 L382.2,841.7 L382.2,841.3 L382.3,841.0 L382.3,840.6 L382.3,840.3 L382.4,839.9 L382.4,839.6 L382.4,839.2 L382.5,838.9 L382.5,838.5 L382.6,838.2 L382.6,837.8 L382.6,837.5 L382.7,837.1 L382.7,836.8 L382.7,836.4 L382.8,836.1 L382.8,835.7 L382.9,835.4 L382.9,835.0 L382.9,834.7 L383.0,834.3 L383.0,834.0 L383.1,833.6 L383.1,833.3 L383.1,832.9 L383.2,832.6 L383.2,832.2 L383.2,831.9 L383.3,831.5 L383.3,831.2 L383.4,830.8 L383.4,830.5 L383.4,830.1 L383.5,829.8 L383.5,829.4 L383.6,829.1 L383.6,828.7 L383.6,828.4 L383.7,828.0 L383.7,827.6 L383.8,827.3 L383.8,826.9 L383.9,826.6 L383.9,826.2 L383.9,825.9 L384.0,825.5 L384.0,825.2 L384.1,824.8 L384.1,824.5 L384.1,824.1 L384.2,823.8 L384.2,823.4 L384.3,823.1 L384.3,822.7 L384.4,822.4 L384.4,822.0 L384.4,821.7 L384.5,821.3 L384.5,821.0 L384.6,820.6 L384.6,820.3 L384.7,819.9 L384.7,819.6 L384.7,819.2 L384.8,818.9 L384.8,818.5 L384.9,818.2 L384.9,817.8 L385.0,817.5 L385.0,817.1 L385.1,816.8 L385.1,816.4 L385.2,816.1 L385.2,815.7 L385.2,815.4 L385.3,815.0 L385.3,814.7 L385.4,814.3 L385.4,814.0 L385.5,813.6 L385.5,813.3 L385.6,812.9 L385.6,812.6 L385.7,812.2 L385.7,811.9 L385.8,811.5 L385.8,811.2 L385.9,810.8 L385.9,811.2 L385.9,811.5 L386.0,811.9 L386.0,812.2 L386.1,812.6 L386.1,812.9 L386.2,813.3 L386.2,813.6 L386.3,814.0 L386.3,814.3 L386.4,814.7 L386.4,815.0 L386.5,815.4 L386.5,815.7 L386.5,816.1 L386.6,816.4 L386.6,816.8 L386.7,817.1 L386.7,817.5 L386.8,817.8 L386.8,818.2 L386.9,818.5 L386.9,818.9 L387.0,819.2 L387.0,819.6 L387.0,819.9 L387.1,820.3 L387.1,820.6 L387.2,821.0 L387.2,821.3 L387.3,821.7 L387.3,822.0 L387.3,822.4 L387.4,822.7 L387.4,823.1 L387.5,823.4 L387.5,823.8 L387.6,824.1 L387.6,824.5 L387.6,824.8 L387.7,825.2 L387.7,825.5 L387.8,825.9 L387.8,826.2 L387.8,826.6 L387.9,826.9 L387.9,827.3 L388.0,827.6 L388.0,828.0 L388.1,828.4 L388.1,828.7 L388.1,829.1 L388.2,829.4 L388.2,829.8 L388.3,830.1 L388.3,830.5 L388.3,830.8 L388.4,831.2 L388.4,831.5 L388.5,831.9 L388.5,832.2 L388.5,832.6 L388.6,832.9 L388.6,833.3 L388.6,833.6 L388.7,834.0 L388.7,834.3 L388.8,834.7 L388.8,835.0 L388.8,835.4 L388.9,835.7 L388.9,836.1 L389.0,836.4 L389.0,836.8 L389.0,837.1 L389.1,837.5 L389.1,837.8 L389.1,838.2 L389.2,838.5 L389.2,838.9 L389.3,839.2 L389.3,839.6 L389.3,839.9 L389.4,840.3 L389.4,840.6 L389.4,841.0 L389.5,841.3 L389.5,841.7 L389.6,842.0 L389.6,842.4 L389.6,842.7 L389.7,843.1 L389.7,843.4 L389.7,843.8 L389.8,844.1 L389.8,844.5 L389.8,844.8 L389.9,845.2 L389.9,845.6 L389.9,845.9 L390.0,846.3 L390.0,846.6 L390.0,847.0 L390.1,847.3 L390.1,847.7 L390.2,848.0 L390.2,848.4 L390.2,848.7 L390.3,849.1 L390.3,849.4 L390.3,849.8 L390.4,850.1 L390.4,850.5 L390.4,850.8 L390.5,851.2 L390.5,851.5 L390.5,851.9 L390.6,852.2 L390.6,852.6 L390.6,852.9 L390.7,853.3 L390.7,853.6 L390.7,854.0 L390.8,854.3 L390.8,854.7 L390.8,855.0 L390.9,855.4 L390.9,855.7 L390.9,856.1 L391.0,856.4 L391.0,856.8 L391.0,857.1 L391.1,857.5 L391.1,857.8 L391.1,858.2 L391.2,858.5 L391.2,858.9 L391.2,859.2 L391.3,859.6 L391.3,859.9 L391.3,860.3 L391.3,860.6 L391.4,861.0 L391.4,861.3 L391.4,861.7 L391.5,862.0 L391.5,862.4 L391.5,862.8 L391.6,863.1 L391.6,863.5 L391.6,863.8 L391.7,864.2 L391.7,864.5 L391.7,864.9 L391.8,865.2 L391.8,865.6 L391.8,865.9 L391.8,866.3 L391.9,866.6 L391.9,867.0 L391.9,867.3 L392.0,867.7 L392.0,868.0 L392.0,868.4 L392.1,868.7 L392.1,869.1 L392.1,869.4 L392.1,869.8 L392.2,870.1 L392.2,870.5 L392.2,870.8 L392.3,871.2 L392.3,871.5 L392.3,871.9 L392.4,872.2 L392.4,872.6 L392.4,872.9 L392.4,873.3 L392.5,873.6 L392.5,874.0 L392.5,874.3 L392.6,874.7 L392.6,875.0 L392.6,875.4 L392.6,875.7 L392.7,876.1 L392.7,876.4 L392.7,876.8 L392.8,877.1 L392.8,877.5 L392.8,877.8 L392.8,878.2 L392.9,878.5 L392.9,878.9 L392.9,879.2 L393.0,879.6 L393.0,880.0 L393.0,880.3 L393.0,880.7 L393.1,881.0 L393.1,881.4 L393.1,881.7 L393.2,882.1 L393.2,882.4 L393.2,882.8 L393.2,883.1 L393.3,883.5 L393.3,883.8 L393.3,884.2 L393.4,884.5 L393.4,884.9 L393.4,885.2 L393.4,885.6 L393.5,885.9 L393.5,886.3 L393.5,886.6 L393.6,887.0 L393.6,887.3 L393.6,887.7 L393.6,888.0 L393.7,888.4 L393.7,888.7 L393.7,889.1 L393.7,889.4 L393.8,889.8 L393.8,890.1 L393.8,890.5 L393.9,890.8 L393.9,891.2 L393.9,891.5 L393.9,891.9 L394.0,892.2 L394.0,892.6 L394.0,892.9 L394.0,893.3 L394.1,893.6 L394.1,894.0 L394.1,894.3 L394.1,894.7 L394.2,895.0 L394.2,895.4 L394.2,895.7 L394.3,896.1 L394.3,896.4 L394.3,896.8 L394.3,897.2 L394.4,897.5 L394.4,897.9 L394.4,898.2 L394.4,898.6 L394.5,898.9 L394.5,899.3 L394.5,899.6 L394.6,900.0 L394.6,900.3 L394.6,900.7 L394.6,901.0 L394.7,901.4 L394.7,901.7 L394.7,902.1 L394.7,902.4 L394.8,902.8 L394.8,903.1 L394.8,903.5 L394.8,903.8 L394.9,904.2 L394.9,904.5 L394.9,904.9 L394.9,905.2 L395.0,905.6 L395.0,905.9 L395.0,906.3 L395.1,906.6 L395.1,907.0 L395.1,907.3 L395.1,907.7 L395.2,908.0 L395.2,908.4 L395.2,908.7 L395.2,909.1 L395.3,909.4 L395.3,909.8 L395.3,910.1 L395.3,910.5 L395.4,910.8 L395.4,911.2 L395.4,911.5 L395.5,911.9 L395.5,912.2 L395.5,912.6 L395.5,912.9 L395.6,913.3 L395.6,913.6 L395.6,914.0 L395.6,914.4 L395.7,914.7 L395.7,915.1 L395.7,915.4 L395.7,915.8 L395.8,916.1 L395.8,916.5 L395.8,916.8 L395.8,917.2 L395.9,917.5 L395.9,917.9 L395.9,918.2 L396.0,918.6 L396.0,918.9 L396.0,919.3 L396.0,919.6 L396.1,920.0 L396.1,920.3 L396.1,920.7 L396.1,921.0 L396.2,921.4 L396.2,921.7 L396.2,922.1 L396.2,922.4 L396.3,922.8 L396.3,923.1 L396.3,923.5 L396.4,923.8 L396.4,924.2 L396.4,924.5 L396.4,924.9 L396.5,925.2 L396.5,925.6 L396.5,925.9 L396.5,926.3 L396.6,926.6 L396.6,927.0 L396.6,927.3 L396.6,927.7 L396.7,928.0 L396.7,928.4 L396.7,928.7 L396.8,929.1 L396.8,929.4 L396.8,929.8 L396.8,930.1 L396.9,930.5 L396.9,930.8 L396.9,931.2 L396.9,931.6 L397.0,931.9 L397.0,932.3 L397.0,932.6 L397.1,933.0 L397.1,933.3 L397.1,933.7 L397.1,934.0 L397.2,934.4 L397.2,934.7 L397.2,935.1 L397.2,935.4 L397.3,935.8 L397.3,936.1 L397.3,936.5 L397.4,936.8 L397.4,937.2 L397.4,937.5 L397.4,937.9 L397.5,938.2 L397.5,938.6 L397.5,938.9 L397.6,939.3 L397.6,939.6 L397.6,940.0 L397.6,940.3 L397.7,940.7 L397.7,941.0 L397.7,941.4 L397.8,941.7 L397.8,942.1 L397.8,942.4 L397.8,942.8 L397.9,943.1 L397.9,943.5 L397.9,943.8 L398.0,944.2 L398.0,944.5 L398.0,944.9 L398.0,945.2 L398.1,945.6 L398.1,945.9 L398.1,946.3 L398.2,946.6 L398.2,947.0 L398.2,947.3 L398.2,947.7 L398.3,948.0 L398.3,948.4 L398.3,948.8 L398.4,949.1 L398.4,949.5 L398.4,949.8 L398.4,950.2 L398.5,950.5 L398.5,950.9 L398.5,951.2 L398.6,951.6 L398.6,951.9 L398.6,952.3 L398.7,952.6 L398.7,953.0 L398.7,953.3 L398.7,953.7 L398.8,954.0 L398.8,954.4 L398.8,954.7 L398.9,955.1 L398.9,955.4 L398.9,955.8 L399.0,956.1 L399.0,956.5 L399.0,956.8 L399.0,957.2 L399.1,957.5 L399.1,957.9 L399.1,958.2 L399.2,958.6 L399.2,958.9 L399.2,959.3 L399.3,959.6 L399.3,960.0 L399.3,960.3 L399.4,960.7 L399.4,961.0 L399.4,961.4 L399.5,961.7 L399.5,962.1 L399.5,962.4 L399.5,962.8 L399.6,963.1 L399.6,963.5 L399.6,963.8 L399.7,964.2 L399.7,964.5 L399.7,964.9 L399.8,965.2 L399.8,965.6 L399.8,965.9 L399.9,966.3 L399.9,966.7 L399.9,967.0 L400.0,967.4 L400.0,967.7 L400.0,968.1 L400.1,968.4 L400.1,968.8 L400.1,969.1 L400.2,969.5 L400.2,969.8 L400.2,970.2 L400.3,970.5 L400.3,970.9 L400.3,971.2 L400.4,971.6 L400.4,971.9 L400.4,972.3 L400.5,972.6 L400.5,973.0 L400.5,973.3 L400.6,973.7 L400.6,974.0 L400.6,974.4 L400.7,974.7 L400.7,975.1 L400.8,975.4 L400.8,975.8 L400.8,976.1 L400.9,976.5 L400.9,976.8 L400.9,977.2 L401.0,977.5 L401.0,977.9 L401.0,978.2 L401.1,978.6 L401.1,978.9 L401.1,979.3 L401.2,979.6 L401.2,980.0 L401.3,980.3 L401.3,980.7 L401.3,981.0 L401.4,981.4 L401.4,981.7 L401.4,982.1 L401.5,982.4 L401.5,982.8 L401.5,983.1 L401.6,983.5 L401.6,983.9 L401.7,984.2 L401.7,984.6 L401.7,984.9 L401.8,985.3 L401.8,985.6 L401.8,986.0 L401.9,986.3 L401.9,986.7 L402.0,987.0 L402.0,987.4 L402.0,987.7 L402.1,988.1 L402.1,988.4 L402.2,988.8 L402.2,989.1 L402.2,989.5 L402.3,989.8 L402.3,990.2 L402.3,990.5 L402.4,990.9 L402.4,991.2 L402.5,991.6 L402.5,991.9 L402.5,992.3 L402.6,992.6 L402.6,993.0 L402.7,993.3 L402.7,993.7 L402.8,994.0 L402.8,994.4 L402.8,994.7 L402.9,995.1 L402.9,995.4 L403.0,995.8 L403.0,996.1 L403.0,996.5 L403.1,996.8 L403.1,997.2 L403.2,997.5 L403.2,997.9 L403.2,998.2 L403.3,998.6 L403.3,998.9 L403.4,999.3 L403.4,999.6 L403.5,1000.0 L403.5,1000.3 L403.5,1000.7 L403.6,1001.1 L403.6,1001.4 L403.7,1001.8 L403.7,1002.1 L403.8,1002.5 L403.8,1002.8 L403.9,1003.2 L403.9,1003.5 L403.9,1003.9 L404.0,1004.2 L404.0,1004.6 L404.1,1004.9 L404.1,1005.3 L404.2,1005.6 L404.2,1006.0 L404.3,1006.3 L404.3,1006.7 L404.3,1007.0 L404.4,1007.4 L404.4,1007.7 L404.5,1008.1 L404.5,1008.4 L404.6,1008.8 L404.6,1009.1 L404.7,1009.5 L404.7,1009.8 L404.8,1010.2 L404.8,1010.5 L404.9,1010.9 L404.9,1011.2 L405.0,1011.6 L405.0,1011.9 L405.0,1012.3 L405.1,1012.6 L405.1,1013.0 L405.2,1013.3 L405.2,1013.7 L405.3,1014.0 L405.3,1014.4 L405.4,1014.7 L405.4,1015.1 L405.5,1015.4 L405.5,1015.8 L405.6,1016.1 L405.6,1016.5 L405.7,1016.8 L405.7,1017.2 L405.8,1017.5 L405.8,1017.9 L405.9,1018.3 L405.9,1018.6 L406.0,1019.0 L406.0,1019.3 L406.1,1019.7 L406.1,1020.0 L406.2,1020.4 L406.2,1020.7 L406.3,1021.1 L406.3,1021.4 L406.4,1021.8 L406.4,1022.1 L406.5,1022.5 L406.6,1022.8 L406.6,1023.2 L406.7,1023.5 L406.7,1023.9 L406.8,1024.2 L406.8,1024.6 L406.9,1024.9 L406.9,1025.3 L407.0,1025.6 L407.0,1026.0 L407.1,1026.3 L407.1,1026.7 L407.2,1027.0 L407.2,1027.4 L407.3,1027.7 L407.4,1028.1 L407.4,1028.4 L407.5,1028.8 L407.5,1029.1 L407.6,1029.5 L407.6,1029.8 L407.7,1030.2 L407.7,1030.5 L407.8,1030.9 L407.9,1031.2 L407.9,1031.6 L408.0,1031.9 L408.0,1032.3 L408.1,1032.6 L408.1,1033.0 L408.2,1033.3 L408.3,1033.7 L408.3,1034.0 L408.4,1034.4 L408.4,1034.7 L408.5,1035.1 L408.6,1035.5 L408.6,1035.8 L408.7,1036.2 L408.7,1036.5 L408.8,1036.9 L408.9,1037.2 L408.9,1037.6 L409.0,1037.9 L409.0,1038.3 L409.1,1038.6 L409.2,1039.0 L409.2,1039.3 L409.3,1039.7 L409.3,1040.0 L409.4,1040.4 L409.5,1040.7 L409.5,1041.1 L409.6,1041.4 L409.6,1041.8 L409.7,1042.1 L409.8,1042.5 L409.8,1042.8 L409.9,1043.2 L410.0,1043.5 L410.0,1043.9 L410.1,1044.2 L410.2,1044.6 L410.2,1044.9 L410.3,1045.3 L410.3,1045.6 L410.4,1046.0 L410.5,1046.3 L410.5,1046.7 L410.6,1047.0 L410.7,1047.4 L410.7,1047.7 L410.8,1048.1 L410.9,1048.4 L410.9,1048.8 L411.0,1049.1 L411.1,1049.5 L411.1,1049.8 L411.2,1050.2 L411.3,1050.5 L411.3,1050.9 L411.4,1051.2 L411.5,1051.6 L411.5,1051.9 L411.6,1052.3 L411.7,1052.7 L411.8,1053.0 L411.8,1053.4 L411.9,1053.7 L412.0,1054.1 L412.0,1054.4 L412.1,1054.8 L412.2,1055.1 L412.2,1055.5 L412.3,1055.8 L412.4,1056.2 L412.5,1056.5 L412.5,1056.9 L412.6,1057.2 L412.7,1057.6 L412.7,1057.9 L412.8,1058.3 L412.9,1058.6 L413.0,1059.0 L413.0,1059.3 L413.1,1059.7 L413.2,1060.0 L413.3,1060.4 L413.3,1060.7 L413.4,1061.1 L413.5,1061.4 L413.5,1061.8 L413.6,1062.1 L413.7,1062.5 L413.8,1062.8 L413.8,1063.2 L413.9,1063.5 L414.0,1063.9 L414.1,1064.2 L414.2,1064.6 L414.2,1064.9 L414.3,1065.3 L414.4,1065.6 L414.5,1066.0 L414.5,1066.3 L414.6,1066.7 L414.7,1067.0 L414.8,1067.4 L414.9,1067.7 L414.9,1068.1 L415.0,1068.4 L415.1,1068.8 L415.2,1069.1 L415.3,1069.5 L415.3,1069.9 L415.4,1070.2 L415.5,1070.6 L415.6,1070.9 L415.7,1071.3 L415.7,1071.6 L415.8,1072.0 L415.9,1072.3 L416.0,1072.7 L416.1,1073.0 L416.2,1073.4 L416.2,1073.7 L416.3,1074.1 L416.4,1074.4 L416.5,1074.8 L416.6,1075.1 L416.7,1075.5 L416.7,1075.8 L416.8,1076.2 L416.9,1076.5 L417.0,1076.9 L417.1,1077.2 L417.2,1077.6 L417.3,1077.9 L417.3,1078.3 L417.4,1078.6 L417.5,1079.0 L417.6,1079.3 L417.7,1079.7 L417.8,1080.0 L417.9,1080.4 L417.9,1080.7 L418.0,1081.1 L418.1,1081.4 L418.2,1081.8 L418.3,1082.1 L418.4,1082.5 L418.5,1082.8 L418.6,1083.2 L418.7,1083.5 L418.7,1083.9 L418.8,1084.2 L418.9,1084.6 L419.0,1084.9 L419.1,1085.3 L419.2,1085.6 L419.3,1086.0 L419.4,1086.3 L419.5,1086.7 L419.6,1087.0 L419.7,1087.4 L419.8,1087.8 L419.8,1088.1 L419.9,1088.5 L420.0,1088.8 L420.1,1089.2 L420.2,1089.5 L420.3,1089.9 L420.4,1090.2 L420.5,1090.6 L420.6,1090.9 L420.7,1091.3 L420.8,1091.6 L420.9,1092.0 L421.0,1092.3 L421.1,1092.7 L421.2,1093.0 L421.3,1093.4 L421.4,1093.7 L421.5,1094.1 L421.5,1094.4 L421.6,1094.8 L421.7,1095.1 L421.8,1095.5 L421.9,1095.8 L422.0,1096.2 L422.1,1096.5 L422.2,1096.9 L422.3,1097.2 L422.4,1097.6 L422.5,1097.9 L422.6,1098.3 L422.7,1098.6 L422.8,1099.0 L422.9,1099.3 L423.0,1099.7 L423.1,1100.0 L423.2,1100.4 L423.3,1100.7 L423.4,1101.1 L423.5,1101.4 L423.6,1101.8 L423.7,1102.1 L423.8,1102.5 L423.9,1102.8 L424.0,1103.2 L424.1,1103.5 L424.2,1103.9 L424.3,1104.2 L424.4,1104.6 L424.5,1105.0 L424.6,1105.3 L424.7,1105.7 L424.8,1106.0 L424.9,1106.4 L425.0,1106.7 L425.1,1107.1 L425.2,1107.4 L425.3,1107.8 L425.4,1108.1 L425.5,1108.5 L425.7,1108.8 L425.8,1109.2 L425.9,1109.5 L426.0,1109.9 L426.1,1110.2 L426.2,1110.6 L426.3,1110.9 L426.4,1111.3 L426.5,1111.6 L426.6,1112.0 L426.7,1112.3 L426.8,1112.7 L426.9,1113.0 L427.0,1113.4 L427.1,1113.7 L427.2,1114.1 L427.3,1114.4 L427.4,1114.8 L427.5,1115.1 L427.7,1115.5 L427.8,1115.8 L427.9,1116.2 L428.0,1116.5 L428.1,1116.9 L428.2,1117.2 L428.3,1117.6 L428.4,1117.9 L428.5,1118.3 L428.6,1118.6 L428.7,1119.0 L428.8,1119.3 L428.9,1119.7 L429.0,1120.0 L429.2,1120.4 L429.3,1120.7 L429.4,1121.1 L429.5,1121.4 L429.6,1121.8 L429.7,1122.2 L429.8,1122.5 L429.9,1122.9 L430.0,1123.2 L430.2,1123.6 L430.3,1123.9 L430.4,1124.3 L430.5,1124.6 L430.6,1125.0 L430.7,1125.3 L430.8,1125.7 L431.0,1126.0 L431.1,1126.4 L431.2,1126.7 L431.3,1127.1 L431.4,1127.4 L431.6,1127.8 L431.7,1128.1 L431.8,1128.5 L431.9,1128.8 L432.1,1129.2 L432.2,1129.5 L432.3,1129.9 L432.4,1130.2 L432.6,1130.6 L432.7,1130.9 L432.8,1131.3 L433.0,1131.6 L433.1,1132.0 L433.2,1132.3 L433.4,1132.7 L433.5,1133.0 L433.7,1133.4 L433.8,1133.7 L434.0,1134.1 L434.1,1134.4 L434.3,1134.8 L434.4,1135.1 L434.6,1135.5 L434.8,1135.8 L434.9,1136.2 L435.1,1136.5 L435.3,1136.9 L435.4,1137.2 L435.6,1137.6 L435.8,1137.9 L436.0,1138.3 L436.1,1138.6 L436.3,1139.0 L436.5,1139.4 L436.7,1139.7 L436.9,1140.1 L437.1,1140.4 L437.3,1140.8 L437.6,1141.1 L437.8,1141.5 L438.0,1141.8 L438.2,1142.2 L438.5,1142.5 L438.7,1142.9 L438.9,1143.2 L439.2,1143.6 L439.4,1143.9 L439.7,1144.3 L439.9,1144.6 L440.2,1145.0 L440.5,1145.3 L440.8,1145.7 L441.0,1146.0 L441.3,1146.4 L441.6,1146.7 L441.9,1147.1 L442.2,1147.4 L442.5,1147.8 L442.8,1148.1 L443.1,1148.5 L443.4,1148.8 L443.7,1149.2 L444.0,1149.5 L444.4,1149.9 L444.7,1150.2 L445.0,1150.6 L445.3,1150.9 L445.6,1151.3 L446.0,1151.6 L446.3,1152.0 L446.6,1152.3 L447.0,1152.7 L447.3,1153.0 L447.6,1153.4 L447.9,1153.7 L448.3,1154.1 L448.6,1154.4 L448.9,1154.8 L449.3,1155.1 L449.6,1155.5 L449.9,1155.8 L450.2,1156.2 L450.6,1156.6 L450.9,1156.9 L451.2,1157.3 L451.5,1157.6 L451.8,1158.0 L452.2,1158.3 L452.5,1158.7 L452.8,1159.0 L453.1,1159.4 L453.4,1159.7 L453.7,1160.1 L454.0,1160.4 L454.3,1160.8 L454.6,1161.1 L454.9,1161.5 L455.2,1161.8 L455.5,1162.2 L455.8,1162.5 L456.1,1162.9 L456.4,1163.2 L456.7,1163.6 L456.9,1163.9 L457.2,1164.3 L457.5,1164.6 L457.8,1165.0 L458.0,1165.3 L458.3,1165.7 L458.6,1166.0 L458.8,1166.4 L459.1,1166.7 L459.4,1167.1 L459.6,1167.4 L459.9,1167.8 L460.1,1168.1 L460.4,1168.5 L460.6,1168.8 L460.9,1169.2 L461.1,1169.5 L461.4,1169.9 L461.6,1170.2 L461.9,1170.6 L462.1,1170.9 L462.3,1171.3 L462.6,1171.6 L462.8,1172.0 L463.1,1172.3 L463.3,1172.7 L463.5,1173.0 L463.8,1173.4 L464.0,1173.8 L464.2,1174.1 L464.5,1174.5 L464.7,1174.8 L464.9,1175.2 L465.2,1175.5 L465.4,1175.9 L465.6,1176.2 L465.8,1176.6 L466.1,1176.9 L466.3,1177.3 L466.5,1177.6 L466.8,1178.0 L467.0,1178.3 L467.2,1178.7 L467.4,1179.0 L467.7,1179.4 L467.9,1179.7 L468.1,1180.1 L468.3,1180.4 L468.6,1180.8 L468.8,1181.1 L469.0,1181.5 L469.2,1181.8 L469.5,1182.2 L469.7,1182.5 L469.9,1182.9 L470.1,1183.2 L470.3,1183.6 L470.6,1183.9 L470.8,1184.3 L471.0,1184.6 L471.2,1185.0 L471.5,1185.3 L471.7,1185.7 L471.9,1186.0 L472.1,1186.4 L472.4,1186.7 L472.6,1187.1 L472.8,1187.4 L473.0,1187.8 L473.3,1188.1 L473.5,1188.5 L473.7,1188.8 L473.9,1189.2 L474.1,1189.5 L474.4,1189.9 L474.6,1190.2 L474.8,1190.6 L475.0,1191.0 L475.3,1191.3 L475.5,1191.7 L475.7,1192.0 L475.9,1192.4 L476.2,1192.7 L476.4,1193.1 L476.6,1193.4 L476.8,1193.8 L477.1,1194.1 L477.3,1194.5 L477.5,1194.8 L477.7,1195.2 L478.0,1195.5 L478.2,1195.9 L478.4,1196.2 L478.6,1196.6 L478.9,1196.9 L479.1,1197.3 L479.3,1197.6 L479.5,1198.0 L479.8,1198.3 L480.0,1198.7 L480.2,1199.0 L480.4,1199.4 L480.7,1199.7 L480.9,1200.1 L481.1,1200.4 L481.4,1200.8 L481.6,1201.1 L481.8,1201.5 L482.0,1201.8 L482.3,1202.2 L482.5,1202.5 L482.7,1202.9 L483.0,1203.2 L483.2,1203.6 L483.4,1203.9 L483.7,1204.3 L483.9,1204.6 L484.1,1205.0 L484.4,1205.3 L484.6,1205.7 L484.8,1206.0 L485.1,1206.4 L485.3,1206.7 L485.5,1207.1 L485.8,1207.4 L486.0,1207.8 L486.2,1208.1 L486.5,1208.5 L486.7,1208.9 L486.9,1209.2 L487.2,1209.6 L487.4,1209.9 L487.7,1210.3 L487.9,1210.6 L488.1,1211.0 L488.4,1211.3 L488.6,1211.7 L488.9,1212.0 L489.1,1212.4 L489.3,1212.7 L489.6,1213.1 L489.8,1213.4 L490.1,1213.8 L490.3,1214.1 L490.6,1214.5 L490.8,1214.8 L491.0,1215.2 L491.3,1215.5 L491.5,1215.9 L491.8,1216.2 L492.0,1216.6 L492.3,1216.9 L492.5,1217.3 L492.8,1217.6 L493.0,1218.0 L493.3,1218.3 L493.5,1218.7 L493.8,1219.0 L494.0,1219.4 L494.3,1219.7 L494.6,1220.1 L494.8,1220.4 L495.1,1220.8 L495.3,1221.1 L495.6,1221.5 L495.8,1221.8 L496.1,1222.2 L496.4,1222.5 L496.6,1222.9 L496.9,1223.2 L497.1,1223.6 L497.4,1223.9 L497.7,1224.3 L497.9,1224.6 L498.2,1225.0 L498.5,1225.3 L498.7,1225.7 L499.0,1226.1 L499.3,1226.4 L499.5,1226.8 L499.8,1227.1 L500.1,1227.5 L500.4,1227.8 L500.6,1228.2 L500.9,1228.5 L501.2,1228.9 L501.5,1229.2 L501.7,1229.6 L502.0,1229.9 L502.3,1230.3 L502.6,1230.6 L502.8,1231.0 L503.1,1231.3 L503.4,1231.7 L503.7,1232.0 L504.0,1232.4 L504.3,1232.7 L504.5,1233.1 L504.8,1233.4 L505.1,1233.8 L505.4,1234.1 L505.7,1234.5 L506.0,1234.8 L506.3,1235.2 L506.5,1235.5 L506.8,1235.9 L507.1,1236.2 L507.4,1236.6 L507.7,1236.9 L508.0,1237.3 L508.3,1237.6 L508.6,1238.0 L508.9,1238.3 L509.2,1238.7 L509.5,1239.0 L509.8,1239.4 L510.1,1239.7 L510.4,1240.1 L510.7,1240.4 L511.0,1240.8 L511.3,1241.1 L511.6,1241.5 L511.9,1241.8 L512.2,1242.2 L512.5,1242.5 L512.8,1242.9 L513.1,1243.3 L513.4,1243.6 L513.8,1244.0 L514.1,1244.3 L514.4,1244.7 L514.7,1245.0 L515.0,1245.4 L515.3,1245.7 L515.6,1246.1 L516.0,1246.4 L516.3,1246.8 L516.6,1247.1 L516.9,1247.5 L517.2,1247.8 L517.6,1248.2 L517.9,1248.5 L518.2,1248.9 L518.5,1249.2 L518.8,1249.6 L519.2,1249.9 L519.5,1250.3 L519.8,1250.6 L520.2,1251.0 L520.5,1251.3 L520.8,1251.7 L521.1,1252.0 L521.5,1252.4 L521.8,1252.7 L522.1,1253.1 L522.5,1253.4 L522.8,1253.8 L523.2,1254.1 L523.5,1254.5 L523.8,1254.8 L524.2,1255.2 L524.5,1255.5 L524.9,1255.9 L525.2,1256.2 L525.5,1256.6 L525.9,1256.9 L526.2,1257.3 L526.6,1257.6 L526.9,1258.0 L527.3,1258.3 L527.6,1258.7 L528.0,1259.0 L528.3,1259.4 L528.7,1259.7 L529.0,1260.1 L529.4,1260.5 L529.7,1260.8 L530.1,1261.2 L530.5,1261.5 L530.8,1261.9 L531.2,1262.2 L531.5,1262.6 L531.9,1262.9 L532.3,1263.3 L532.6,1263.6 L533.0,1264.0 L533.4,1264.3 L533.7,1264.7 L534.1,1265.0 L534.5,1265.4 L534.8,1265.7 L535.2,1266.1 L535.6,1266.4 L536.0,1266.8 L536.3,1267.1 L536.7,1267.5 L537.1,1267.8 L537.5,1268.2 L537.9,1268.5 L538.2,1268.9 L538.6,1269.2 L539.0,1269.6 L539.4,1269.9 L539.8,1270.3 L540.2,1270.6 L540.5,1271.0 L540.9,1271.3 L541.3,1271.7 L541.7,1272.0 L542.1,1272.4 L542.5,1272.7 L542.9,1273.1 L543.3,1273.4 L543.7,1273.8 L544.1,1274.1 L544.5,1274.5 L544.9,1274.8 L545.3,1275.2 L545.7,1275.5 L546.1,1275.9 L546.5,1276.2 L546.9,1276.6 L547.3,1276.9 L547.7,1277.3 L548.2,1277.7 L548.6,1278.0 L549.0,1278.4 L549.4,1278.7 L549.8,1279.1 L550.2,1279.4 L550.6,1279.8 L551.1,1280.1 L551.5,1280.5 L551.9,1280.8 L552.3,1281.2 L552.8,1281.5 L553.2,1281.9 L553.6,1282.2 L554.1,1282.6 L554.5,1282.9 L554.9,1283.3 L555.4,1283.6 L555.8,1284.0 L556.2,1284.3 L556.7,1284.7 L557.1,1285.0 L557.5,1285.4 L558.0,1285.7 L558.4,1286.1 L558.9,1286.4 L559.3,1286.8 L559.8,1287.1 L560.2,1287.5 L560.7,1287.8 L561.1,1288.2 L561.6,1288.5 L562.1,1288.9 L562.5,1289.2 L563.0,1289.6 L563.4,1289.9 L563.9,1290.3 L564.4,1290.6 L564.8,1291.0 L565.3,1291.3 L565.8,1291.7 L566.2,1292.0 L566.7,1292.4 L567.2,1292.7 L567.7,1293.1 L568.1,1293.4 L568.6,1293.8 L569.1,1294.1 L569.6,1294.5 L570.1,1294.9 L570.6,1295.2 L571.0,1295.6 L571.5,1295.9 L572.0,1296.3 L572.5,1296.6 L573.0,1297.0 L573.5,1297.3 L574.0,1297.7 L574.5,1298.0 L575.0,1298.4 L575.5,1298.7 L576.0,1299.1 L576.5,1299.4 L577.1,1299.8 L577.6,1300.1 L578.1,1300.5 L578.6,1300.8 L579.1,1301.2 L579.6,1301.5 L580.2,1301.9 L580.7,1302.2 L581.2,1302.6 L581.7,1302.9 L582.3,1303.3 L582.8,1303.6 L583.3,1304.0 L583.9,1304.3 L584.4,1304.7 L585.0,1305.0 L585.5,1305.4 L586.1,1305.7 L586.6,1306.1 L587.2,1306.4 L587.7,1306.8 L588.3,1307.1 L588.8,1307.5 L589.4,1307.8 L589.9,1308.2 L590.5,1308.5 L591.1,1308.9 L591.6,1309.2 L592.2,1309.6 L592.8,1309.9 L593.4,1310.3 L593.9,1310.6 L594.5,1311.0 L595.1,1311.3 L595.7,1311.7 L596.3,1312.1 L596.9,1312.4 L597.5,1312.8 L598.1,1313.1 L598.7,1313.5 L599.3,1313.8 L599.9,1314.2 L600.5,1314.5 L601.1,1314.9 L601.7,1315.2 L602.3,1315.6 L602.9,1315.9 L603.6,1316.3 L604.2,1316.6 L604.8,1317.0 L605.4,1317.3 L606.1,1317.7 L606.7,1318.0 L607.3,1318.4 L608.0,1318.7 L608.6,1319.1 L609.3,1319.4 L609.9,1319.8 L610.6,1320.1 L611.2,1320.5 L611.9,1320.8 L612.6,1321.2 L613.2,1321.5 L613.9,1321.9 L614.6,1322.2 L615.3,1322.6 L615.9,1322.9 L616.6,1323.3 L617.3,1323.6 L618.0,1324.0 L618.7,1324.3 L619.4,1324.7 L620.1,1325.0 L620.8,1325.4 L621.5,1325.7 L622.3,1326.1 L623.0,1326.4 L623.7,1326.8 L624.4,1327.1 L625.2,1327.5 L625.9,1327.8 L626.6,1328.2 L627.4,1328.5 L628.1,1328.9 L628.9,1329.3 L629.7,1329.6 L630.4,1330.0 L631.2,1330.3 L632.0,1330.7 L632.7,1331.0 L633.5,1331.4 L634.3,1331.7 L635.1,1332.1 L635.9,1332.4 L636.7,1332.8 L637.5,1333.1 L638.3,1333.5 L639.2,1333.8 L640.0,1334.2 L640.8,1334.5 L641.7,1334.9 L642.5,1335.2 L643.4,1335.6 L643.4,1335.9 L643.5,1336.3 L644.4,1336.6 L645.4,1337.0" stroke="#0000ff"/>
<path d="M126.0,1351.2 L126.9,1350.1 L127.8,1349.2 L128.7,1348.4 L129.7,1347.7 L130.8,1347.1 L131.9,1346.7 L133.0,1346.2 L134.1,1345.9 L135.3,1345.6 L136.4,1345.4 L137.6,1345.1 L138.8,1344.9 L140.0,1344.7 L141.2,1344.5 L142.4,1344.3 L143.5,1344.0 L144.7,1343.7 L145.8,1343.4 L147.0,1342.9 L148.1,1342.5 L149.2,1341.9 L150.2,1341.4 L151.3,1340.8 L152.4,1340.3 L153.5,1339.7 L154.5,1339.2 L155.6,1338.7 L156.7,1338.2 L157.9,1337.8 L159.0,1337.5 L160.2,1337.2 L161.3,1336.8 L162.4,1336.5 L163.5,1336.2 L164.6,1335.7 L165.7,1335.3 L166.7,1334.7 L167.7,1334.1 L168.7,1333.4 L169.6,1332.7 L170.5,1331.9 L171.4,1331.1 L172.3,1330.2 L173.2,1329.4 L174.0,1328.5 L174.9,1327.6 L175.8,1326.7 L176.6,1325.9 L177.4,1325.0 L178.3,1324.1 L179.1,1323.3 L180.0,1322.4 L180.8,1321.5 L181.7,1320.7 L182.5,1319.9 L183.4,1319.0 L184.3,1318.2 L185.1,1317.4 L186.0,1316.6 L186.9,1315.8 L187.8,1315.0 L188.7,1314.3 L189.7,1313.5 L190.6,1312.8 L191.6,1312.1 L192.5,1311.4 L193.5,1310.7 L194.5,1310.0 L195.5,1309.4 L196.6,1308.7 L197.6,1308.1 L198.6,1307.5 L199.7,1306.9 L200.7,1306.2 L201.8,1305.6 L202.9,1305.0 L203.9,1304.4 L205.0,1303.8 L206.0,1303.2 L207.1,1302.6 L208.1,1301.9 L209.2,1301.3 L210.2,1300.6 L211.2,1300.0 L212.2,1299.3 L213.2,1298.6 L214.2,1297.9 L215.1,1297.2 L216.1,1296.5 L217.0,1295.7 L217.9,1294.9 L218.8,1294.1 L219.6,1293.3 L220.5,1292.4 L221.3,1291.5 L222.1,1290.6 L222.8,1289.7 L223.6,1288.8 L224.3,1287.9 L225.1,1286.9 L225.8,1285.9 L226.5,1284.9 L227.2,1284.0 L227.9,1283.0 L228.6,1282.0 L229.3,1281.0 L230.0,1280.0 L230.7,1279.0 L231.4,1278.0 L232.1,1277.0 L232.8,1276.0 L233.5,1275.0 L234.2,1274.0 L234.9,1273.0 L235.6,1272.1 L236.4,1271.1 L237.1,1270.2 L237.9,1269.3 L238.6,1268.4 L239.4,1267.5 L240.2,1266.6 L241.0,1265.8 L241.8,1264.9 L242.7,1264.1 L243.5,1263.2 L244.4,1262.4 L245.2,1261.6 L246.1,1260.8 L247.0,1260.0 L247.8,1259.2 L248.7,1258.4 L249.6,1257.6 L250.5,1256.9 L251.5,1256.1 L252.4,1255.3 L253.3,1254.6 L254.2,1253.9 L255.2,1253.1 L256.2,1252.4 L257.1,1251.7 L258.1,1250.9 L259.1,1250.2 L260.0,1249.5 L261.0,1248.8 L262.0,1248.2 L263.0,1247.5 L264.1,1246.8 L265.1,1246.2 L266.2,1245.6 L267.2,1245.0 L268.3,1244.4 L269.4,1243.8 L270.5,1243.3 L271.6,1242.7 L272.7,1242.2 L273.7,1241.6 L274.7,1241.0 L275.7,1240.4 L276.6,1239.7 L277.5,1239.0 L278.3,1238.2 L279.0,1237.3 L279.6,1236.4 L280.2,1235.4 L280.8,1234.4 L281.3,1233.3 L281.7,1232.2 L282.2,1231.1 L282.6,1229.9 L282.9,1228.7 L283.3,1227.5 L283.6,1226.3 L283.9,1225.0 L284.2,1223.8 L284.6,1222.6 L284.9,1221.3 L285.2,1220.1 L285.6,1218.9 L285.9,1217.7 L286.3,1216.5 L286.8,1215.3 L287.2,1214.2 L287.7,1213.1 L288.2,1212.0 L288.7,1210.9 L289.2,1209.8 L289.7,1208.7 L290.2,1207.7 L290.8,1206.6 L291.3,1205.6 L291.8,1204.5 L292.4,1203.4 L292.9,1202.4 L293.4,1201.3 L293.9,1200.2 L294.4,1199.1 L294.8,1198.0 L295.2,1196.9 L295.7,1195.8 L296.0,1194.7 L296.4,1193.5 L296.8,1192.3 L297.1,1191.2 L297.5,1190.0 L297.8,1188.8 L298.1,1187.6 L298.4,1186.4 L298.7,1185.2 L299.0,1184.0 L299.3,1182.8 L299.6,1181.6 L299.9,1180.4 L300.2,1179.2 L300.6,1178.0 L300.9,1176.8 L301.2,1175.7 L301.6,1174.5 L301.9,1173.4 L302.3,1172.2 L302.7,1171.1 L303.1,1170.0 L303.6,1168.9 L304.0,1167.8 L304.5,1166.7 L305.0,1165.7 L305.6,1164.7 L306.1,1163.7 L306.8,1162.7 L307.4,1161.8 L308.1,1160.9 L308.8,1160.0 L309.5,1159.1 L310.3,1158.2 L311.1,1157.4 L312.0,1156.5 L312.8,1155.6 L313.7,1154.7 L314.6,1153.7 L315.5,1152.7 L316.4,1151.7 L317.3,1150.6 L318.2,1149.4 L319.1,1148.3 L320.0,1147.2 L320.9,1146.1 L321.8,1145.2 L322.6,1144.4 L323.5,1143.7 L324.3,1143.3 L325.0,1143.1 L325.8,1143.3 L326.5,1143.7 L327.2,1144.3 L327.8,1145.1 L328.5,1146.1 L329.3,1147.1 L330.0,1148.1 L330.9,1149.1 L331.8,1149.9 L332.8,1150.6 L334.0,1151.1 L335.3,1151.4 L336.6,1151.4 L338.0,1151.2 L339.4,1150.9 L340.8,1150.4 L342.1,1149.9 L343.3,1149.3 L344.4,1148.6 L345.4,1147.9 L346.3,1147.1 L347.1,1146.3 L347.9,1145.4 L348.6,1144.5 L349.2,1143.5 L349.7,1142.5 L350.2,1141.5 L350.7,1140.4 L351.1,1139.3 L351.5,1138.2 L351.8,1137.1 L352.2,1136.0 L352.5,1134.8 L352.7,1133.6 L353.0,1132.5 L353.3,1131.3 L353.5,1130.1 L353.8,1129.0 L354.1,1127.8 L354.3,1126.6 L354.6,1125.4 L354.8,1124.3 L355.1,1123.1 L355.4,1121.9 L355.6,1120.7 L355.9,1119.6 L356.1,1118.4 L356.4,1117.2 L356.6,1116.0 L356.8,1114.9 L357.1,1113.7 L357.3,1112.5 L357.6,1111.3 L357.8,1110.1 L358.1,1109.0 L358.3,1107.8 L358.5,1106.6 L358.8,1105.4 L359.0,1104.2 L359.2,1103.1 L359.5,1101.9 L359.7,1100.7 L359.9,1099.5 L360.1,1098.3 L360.4,1097.1 L360.6,1096.0 L360.8,1094.8 L361.0,1093.6 L361.2,1092.4 L361.4,1091.2 L361.7,1090.0 L361.9,1088.8 L362.1,1087.7 L362.3,1086.5 L362.5,1085.3 L362.7,1084.1 L362.9,1082.9 L363.1,1081.7 L363.3,1080.5 L363.5,1079.4 L363.7,1078.2 L363.9,1077.0 L364.1,1075.8 L364.3,1074.6 L364.5,1073.4 L364.7,1072.2 L364.9,1071.0 L365.1,1069.8 L365.2,1068.6 L365.4,1067.5 L365.6,1066.3 L365.8,1065.1 L366.0,1063.9 L366.1,1062.7 L366.3,1061.5 L366.5,1060.3 L366.7,1059.1 L366.8,1057.9 L367.0,1056.7 L367.2,1055.5 L367.4,1054.3 L367.5,1053.1 L367.7,1052.0 L367.8,1050.8 L368.0,1049.6 L368.2,1048.4 L368.3,1047.2 L368.5,1046.0 L368.6,1044.8 L368.8,1043.6 L368.9,1042.4 L369.1,1041.2 L369.2,1040.0 L369.4,1038.8 L369.5,1037.6 L369.7,1036.4 L369.8,1035.2 L369.9,1034.0 L370.1,1032.8 L370.2,1031.6 L370.4,1030.4 L370.5,1029.2 L370.6,1028.0 L370.7,1026.8 L370.9,1025.6 L371.0,1024.4 L371.1,1023.2 L371.3,1022.0 L371.4,1020.8 L371.5,1019.6 L371.6,1018.4 L371.7,1017.2 L371.8,1016.0 L372.0,1014.9 L372.1,1013.7 L372.2,1012.5 L372.3,1011.3 L372.4,1010.1 L372.5,1008.9 L372.6,1007.7 L372.7,1006.5 L372.8,1005.3 L372.9,1004.0 L373.0,1002.8 L373.1,1001.6 L373.2,1000.4 L373.3,999.2 L373.4,998.0 L373.5,996.8 L373.5,995.6 L373.6,994.4 L373.7,993.2 L373.8,992.0 L373.9,990.8 L374.0,989.6 L374.0,988.4 L374.1,987.2 L374.2,986.0 L374.3,984.8 L374.3,983.6 L374.4,982.4 L374.5,981.2 L374.5,980.0 L374.6,978.8 L374.7,977.6 L374.8,976.4 L374.8,975.2 L374.9,974.0 L374.9,972.8 L375.0,971.6 L375.1,970.4 L375.1,969.2 L375.2,968.0 L375.3,966.8 L375.3,965.6 L375.4,964.4 L375.4,963.2 L375.5,962.0 L375.5,960.8 L375.6,959.6 L375.6,958.4 L375.7,957.2 L375.7,956.0 L375.8,954.8 L375.9,953.6 L375.9,952.3 L376.0,951.1 L376.0,949.9 L376.1,948.7 L376.1,947.5 L376.1,946.3 L376.2,945.1 L376.2,943.9 L376.3,942.7 L376.3,941.5 L376.4,940.3 L376.4,939.1 L376.5,937.9 L376.5,936.7 L376.6,935.5 L376.6,934.3 L376.7,933.1 L376.7,931.9 L376.8,930.7 L376.8,929.5 L376.8,928.3 L376.9,927.1 L376.9,925.9 L377.0,924.7 L377.0,923.5 L377.1,922.3 L377.1,921.1 L377.2,919.9 L377.2,918.6 L377.3,917.4 L377.3,916.2 L377.3,915.0 L377.4,913.8 L377.4,912.6 L377.5,911.4 L377.5,910.2 L377.6,909.0 L377.6,907.8 L377.7,906.6 L377.7,905.4 L377.8,904.2 L377.8,903.0 L377.9,901.8 L377.9,900.6 L378.0,899.4 L378.0,898.2 L378.1,897.0 L378.2,895.8 L378.2,894.6 L378.3,893.4 L378.3,892.2 L378.4,891.0 L378.4,889.8 L378.5,888.6 L378.6,887.4 L378.6,886.2 L378.7,885.0 L378.7,883.8 L378.8,882.6 L378.9,881.4 L378.9,880.2 L379.0,879.0 L379.1,877.8 L379.1,876.6 L379.2,875.4 L379.3,874.2 L379.4,873.0 L379.4,871.8 L379.5,870.6 L379.6,869.4 L379.7,868.2 L379.7,867.0 L379.8,865.8 L379.9,864.6 L380.0,863.4 L380.1,862.2 L380.1,861.0 L380.2,859.8 L380.3,858.6 L380.4,857.4 L380.5,856.2 L380.6,855.0 L380.7,853.8 L380.8,852.6 L380.9,851.4 L381.0,850.2 L381.1,849.0 L381.2,847.8 L381.3,846.6 L381.4,845.4 L381.5,844.2 L381.6,843.0 L381.7,841.8 L381.9,840.6 L382.0,839.4 L382.1,838.2 L382.2,837.0 L382.3,835.8 L382.5,834.6 L382.6,833.4 L382.7,832.2 L382.8,831.0 L383.0,829.8 L383.1,828.6 L383.2,827.4 L383.4,826.2 L383.5,825.0 L383.7,823.8 L383.8,822.6 L384.0,821.4 L384.1,820.2 L384.3,819.0 L384.4,817.9 L384.6,816.7 L384.7,815.5 L384.9,814.3 L385.1,813.1 L385.2,811.9 L385.4,813.1 L385.5,814.3 L385.7,815.5 L385.9,816.7 L386.0,817.8 L386.2,819.0 L386.3,820.2 L386.4,821.4 L386.6,822.6 L386.7,823.8 L386.9,825.0 L387.0,826.2 L387.1,827.4 L387.3,828.6 L387.4,829.8 L387.5,831.0 L387.7,832.2 L387.8,833.4 L387.9,834.6 L388.0,835.8 L388.2,837.0 L388.3,838.2 L388.4,839.4 L388.5,840.6 L388.6,841.8 L388.7,843.0 L388.9,844.2 L389.0,845.4 L389.1,846.6 L389.2,847.8 L389.3,848.9 L389.4,850.1 L389.5,851.3 L389.6,852.5 L389.7,853.7 L389.8,854.9 L389.9,856.1 L390.0,857.3 L390.1,858.5 L390.2,859.7 L390.3,860.9 L390.4,862.1 L390.5,863.3 L390.6,864.5 L390.7,865.7 L390.7,866.9 L390.8,868.1 L390.9,869.3 L391.0,870.5 L391.1,871.8 L391.2,873.0 L391.3,874.2 L391.3,875.4 L391.4,876.6 L391.5,877.8 L391.6,879.0 L391.7,880.2 L391.7,881.4 L391.8,882.6 L391.9,883.8 L392.0,885.0 L392.0,886.2 L392.1,887.4 L392.2,888.6 L392.3,889.8 L392.3,891.0 L392.4,892.2 L392.5,893.4 L392.5,894.6 L392.6,895.8 L392.7,897.0 L392.7,898.2 L392.8,899.4 L392.9,900.6 L393.0,901.8 L393.0,903.0 L393.1,904.2 L393.2,905.4 L393.2,906.6 L393.3,907.8 L393.3,909.0 L393.4,910.2 L393.5,911.4 L393.5,912.6 L393.6,913.8 L393.7,915.0 L393.7,916.3 L393.8,917.5 L393.9,918.7 L393.9,919.9 L394.0,921.1 L394.1,922.3 L394.1,923.5 L394.2,924.7 L394.2,925.9 L394.3,927.1 L394.4,928.3 L394.4,929.5 L394.5,930.7 L394.6,931.9 L394.6,933.1 L394.7,934.3 L394.8,935.5 L394.8,936.7 L394.9,937.9 L394.9,939.1 L395.0,940.3 L395.1,941.5 L395.1,942.7 L395.2,943.9 L395.3,945.1 L395.3,946.3 L395.4,947.5 L395.5,948.7 L395.5,949.9 L395.6,951.2 L395.7,952.4 L395.7,953.6 L395.8,954.8 L395.9,956.0 L396.0,957.2 L396.0,958.4 L396.1,959.6 L396.2,960.8 L396.2,962.0 L396.3,963.2 L396.4,964.4 L396.5,965.6 L396.5,966.8 L396.6,968.0 L396.7,969.2 L396.8,970.4 L396.9,971.6 L396.9,972.8 L397.0,974.0 L397.1,975.2 L397.2,976.4 L397.3,977.6 L397.3,978.8 L397.4,980.0 L397.5,981.2 L397.6,982.4 L397.7,983.6 L397.8,984.8 L397.9,986.0 L398.0,987.2 L398.1,988.4 L398.2,989.6 L398.2,990.8 L398.3,992.0 L398.4,993.2 L398.5,994.4 L398.6,995.6 L398.7,996.8 L398.8,998.0 L398.9,999.2 L399.1,1000.4 L399.2,1001.6 L399.3,1002.8 L399.4,1004.0 L399.5,1005.2 L399.6,1006.4 L399.7,1007.6 L399.8,1008.8 L399.9,1010.0 L400.1,1011.2 L400.2,1012.4 L400.3,1013.5 L400.4,1014.7 L400.5,1015.9 L400.7,1017.1 L400.8,1018.3 L400.9,1019.5 L401.1,1020.7 L401.2,1021.9 L401.3,1023.1 L401.5,1024.3 L401.6,1025.5 L401.7,1026.7 L401.9,1027.9 L402.0,1029.1 L402.2,1030.3 L402.3,1031.5 L402.5,1032.7 L402.6,1033.8 L402.8,1035.0 L402.9,1036.2 L403.1,1037.4 L403.2,1038.6 L403.4,1039.8 L403.5,1041.0 L403.7,1042.2 L403.9,1043.4 L404.0,1044.6 L404.2,1045.8 L404.4,1046.9 L404.5,1048.1 L404.7,1049.3 L404.9,1050.5 L405.0,1051.7 L405.2,1052.9 L405.4,1054.1 L405.5,1055.3 L405.7,1056.5 L405.9,1057.7 L406.1,1058.8 L406.2,1060.0 L406.4,1061.2 L406.6,1062.4 L406.8,1063.6 L407.0,1064.8 L407.1,1066.0 L407.3,1067.2 L407.5,1068.4 L407.7,1069.6 L407.9,1070.7 L408.1,1071.9 L408.2,1073.1 L408.4,1074.3 L408.6,1075.5 L408.8,1076.7 L409.0,1077.9 L409.2,1079.1 L409.3,1080.3 L409.5,1081.5 L409.7,1082.7 L409.9,1083.8 L410.1,1085.0 L410.3,1086.2 L410.4,1087.4 L410.6,1088.6 L410.8,1089.8 L411.0,1091.0 L411.2,1092.2 L411.4,1093.4 L411.6,1094.6 L411.7,1095.8 L411.9,1097.0 L412.1,1098.2 L412.3,1099.3 L412.5,1100.5 L412.6,1101.7 L412.8,1102.9 L413.0,1104.1 L413.2,1105.3 L413.4,1106.5 L413.5,1107.7 L413.7,1108.9 L413.9,1110.1 L414.1,1111.3 L414.3,1112.5 L414.4,1113.7 L414.6,1114.9 L414.8,1116.1 L414.9,1117.3 L415.1,1118.5 L415.3,1119.7 L415.5,1120.9 L415.6,1122.1 L415.8,1123.3 L415.9,1124.5 L416.1,1125.7 L416.3,1126.9 L416.4,1128.1 L416.6,1129.3 L416.8,1130.5 L416.9,1131.7 L417.1,1132.9 L417.2,1134.1 L417.4,1135.3 L417.6,1136.4 L417.9,1137.6 L418.3,1138.6 L418.7,1139.7 L419.2,1140.6 L419.9,1141.5 L420.6,1142.3 L421.5,1143.1 L422.5,1143.7 L423.7,1144.3 L424.9,1144.9 L426.1,1145.4 L427.4,1146.0 L428.7,1146.5 L429.9,1147.2 L431.1,1147.9 L432.1,1148.7 L433.2,1149.5 L434.1,1150.2 L435.1,1150.8 L436.0,1151.2 L436.9,1151.3 L437.8,1151.1 L438.7,1150.7 L439.6,1150.0 L440.5,1149.2 L441.5,1148.3 L442.4,1147.4 L443.4,1146.6 L444.3,1146.0 L445.3,1145.5 L446.4,1145.3 L447.4,1145.4 L448.5,1145.7 L449.5,1146.3 L450.6,1147.0 L451.6,1147.8 L452.7,1148.8 L453.7,1149.8 L454.6,1150.8 L455.5,1151.9 L456.4,1152.9 L457.2,1153.9 L458.0,1155.0 L458.8,1156.0 L459.5,1156.9 L460.2,1157.9 L460.9,1158.9 L461.5,1159.9 L462.2,1160.9 L462.8,1161.8 L463.3,1162.8 L463.9,1163.8 L464.5,1164.8 L465.0,1165.8 L465.6,1166.8 L466.1,1167.8 L466.7,1168.9 L467.2,1169.9 L467.7,1170.9 L468.2,1172.0 L468.7,1173.0 L469.2,1174.1 L469.7,1175.1 L470.2,1176.2 L470.7,1177.3 L471.2,1178.4 L471.7,1179.5 L472.2,1180.6 L472.7,1181.7 L473.1,1182.8 L473.6,1183.9 L474.1,1185.0 L474.5,1186.1 L475.0,1187.2 L475.5,1188.3 L475.9,1189.5 L476.4,1190.6 L476.8,1191.7 L477.3,1192.9 L477.7,1194.0 L478.2,1195.1 L478.6,1196.3 L479.0,1197.4 L479.5,1198.6 L479.9,1199.7 L480.4,1200.9 L480.8,1202.0 L481.2,1203.1 L481.7,1204.3 L482.1,1205.4 L482.5,1206.6 L483.0,1207.7 L483.4,1208.9 L483.8,1210.0 L484.3,1211.1 L484.7,1212.3 L485.2,1213.4 L485.7,1214.5 L486.1,1215.6 L486.6,1216.8 L487.1,1217.9 L487.6,1219.0 L488.0,1220.1 L488.5,1221.2 L489.1,1222.3 L489.6,1223.3 L490.1,1224.4 L490.6,1225.5 L491.2,1226.5 L491.8,1227.6 L492.3,1228.6 L492.9,1229.6 L493.5,1230.7 L494.1,1231.7 L494.8,1232.7 L495.4,1233.7 L496.1,1234.6 L496.8,1235.6 L497.5,1236.5 L498.2,1237.5 L498.9,1238.4 L499.7,1239.3 L500.4,1240.2 L501.2,1241.1 L502.0,1242.0 L502.9,1242.8 L503.7,1243.6 L504.6,1244.5 L505.5,1245.3 L506.4,1246.0 L507.3,1246.8 L508.2,1247.5 L509.2,1248.3 L510.2,1249.0 L511.2,1249.6 L512.2,1250.3 L513.3,1250.9 L514.3,1251.5 L515.4,1252.1 L516.5,1252.6 L517.6,1253.2 L518.7,1253.7 L519.8,1254.2 L520.9,1254.8 L522.0,1255.3 L523.0,1255.9 L524.0,1256.6 L525.0,1257.3 L525.8,1258.0 L526.7,1258.8 L527.4,1259.7 L528.2,1260.6 L528.9,1261.6 L529.5,1262.6 L530.1,1263.6 L530.8,1264.7 L531.4,1265.7 L531.9,1266.8 L532.5,1267.9 L533.1,1269.0 L533.7,1270.1 L534.3,1271.2 L534.9,1272.2 L535.5,1273.3 L536.1,1274.4 L536.8,1275.4 L537.4,1276.4 L538.1,1277.5 L538.8,1278.5 L539.5,1279.5 L540.2,1280.5 L540.9,1281.5 L541.6,1282.4 L542.4,1283.4 L543.1,1284.3 L543.9,1285.3 L544.7,1286.2 L545.5,1287.1 L546.3,1288.0 L547.1,1288.8 L548.0,1289.7 L548.8,1290.5 L549.7,1291.3 L550.6,1292.1 L551.5,1292.9 L552.4,1293.6 L553.4,1294.4 L554.3,1295.1 L555.3,1295.8 L556.3,1296.4 L557.3,1297.1 L558.3,1297.7 L559.3,1298.3 L560.3,1298.9 L561.4,1299.5 L562.4,1300.1 L563.5,1300.7 L564.6,1301.2 L565.6,1301.8 L566.7,1302.3 L567.8,1302.9 L568.8,1303.4 L569.9,1304.0 L571.0,1304.6 L572.0,1305.1 L573.1,1305.7 L574.1,1306.3 L575.2,1306.9 L576.2,1307.5 L577.2,1308.2 L578.2,1308.8 L579.2,1309.5 L580.2,1310.2 L581.1,1311.0 L582.1,1311.7 L583.0,1312.5 L583.9,1313.3 L584.8,1314.1 L585.7,1314.9 L586.6,1315.7 L587.4,1316.5 L588.3,1317.4 L589.2,1318.2 L590.0,1319.1 L590.9,1320.0 L591.7,1320.8 L592.6,1321.7 L593.4,1322.5 L594.3,1323.4 L595.1,1324.3 L596.0,1325.1 L596.9,1325.9 L597.7,1326.8 L598.6,1327.6 L599.5,1328.4 L600.4,1329.2 L601.3,1330.0 L602.2,1330.7 L603.2,1331.5 L604.1,1332.2 L605.1,1332.9 L606.0,1333.6 L607.0,1334.3 L608.0,1334.9 L609.0,1335.6 L610.0,1336.2 L611.0,1336.8 L612.0,1337.4 L613.1,1337.9 L614.1,1338.5 L615.2,1339.0 L616.3,1339.5 L617.3,1340.0 L618.4,1340.5 L619.6,1341.0 L620.7,1341.4 L621.8,1341.8 L623.0,1342.2 L624.1,1342.6 L625.3,1343.0 L626.4,1343.4 L627.6,1343.7 L628.8,1344.1 L629.9,1344.5 L631.1,1344.9 L632.2,1345.2 L633.4,1345.6 L634.5,1346.0 L635.7,1346.5 L636.8,1346.9 L637.9,1347.3 L639.0,1347.8 L640.1,1348.3 L641.2,1348.8 L642.3,1349.4 L643.3,1350.0 L644.3,1350.6 L645.4,1351.2" stroke="#008000"/>
<path d="M126.3,1398.9 L126.8,1398.5 L127.2,1398.1 L127.6,1397.7 L128.1,1397.3 L128.5,1396.9 L129.0,1396.5 L129.4,1396.1 L129.9,1395.7 L130.3,1395.3 L130.8,1394.9 L131.3,1394.6 L131.8,1394.2 L132.3,1393.8 L132.8,1393.4 L133.3,1393.0 L133.8,1392.6 L134.3,1392.2 L134.8,1391.8 L135.3,1391.4 L135.9,1391.0 L136.4,1390.6 L136.9,1390.2 L137.5,1389.8 L138.0,1389.5 L138.6,1389.1 L139.1,1388.7 L139.7,1388.3 L140.3,1387.9 L140.8,1387.5 L141.4,1387.1 L142.0,1386.7 L142.6,1386.3 L143.2,1385.9 L143.8,1385.5 L144.4,1385.1 L145.0,1384.7 L145.6,1384.4 L146.2,1384.0 L146.8,1383.6 L147.4,1383.2 L148.0,1382.8 L148.6,1382.4 L149.2,1382.0 L149.8,1381.6 L150.5,1381.2 L151.1,1380.8 L151.7,1380.4 L152.3,1380.0 L152.9,1379.7 L153.6,1379.3 L154.2,1378.9 L154.8,1378.5 L155.4,1378.1 L156.0,1377.7 L156.6,1377.3 L157.2,1376.9 L157.8,1376.5 L158.4,1376.1 L159.1,1375.7 L159.7,1375.3 L160.2,1374.9 L160.8,1374.6 L161.4,1374.2 L162.0,1373.8 L162.6,1373.4 L163.2,1373.0 L163.8,1372.6 L164.3,1372.2 L164.9,1371.8 L165.4,1371.4 L166.0,1371.0 L166.6,1370.6 L167.1,1370.2 L167.6,1369.8 L168.2,1369.5 L168.7,1369.1 L169.2,1368.7 L169.8,1368.3 L170.3,1367.9 L170.8,1367.5 L171.3,1367.1 L171.8,1366.7 L172.3,1366.3 L172.8,1365.9 L173.3,1365.5 L173.8,1365.1 L174.3,1364.7 L174.8,1364.4 L175.3,1364.0 L175.7,1363.6 L176.2,1363.2 L176.7,1362.8 L177.2,1362.4 L177.7,1362.0 L178.1,1361.6 L178.6,1361.2 L179.1,1360.8 L179.5,1360.4 L180.0,1360.0 L180.5,1359.6 L180.9,1359.3 L181.4,1358.9 L181.9,1358.5 L182.3,1358.1 L182.8,1357.7 L183.3,1357.3 L183.7,1356.9 L184.2,1356.5 L184.7,1356.1 L185.1,1355.7 L185.6,1355.3 L186.0,1354.9 L186.5,1354.5 L187.0,1354.2 L187.4,1353.8 L187.9,1353.4 L188.4,1353.0 L188.8,1352.6 L189.3,1352.2 L189.8,1351.8 L190.2,1351.4 L190.7,1351.0 L191.2,1350.6 L191.6,1350.2 L192.1,1349.8 L192.6,1349.4 L193.1,1349.1 L193.5,1348.7 L194.0,1348.3 L194.5,1347.9 L195.0,1347.5 L195.4,1347.1 L195.9,1346.7 L196.4,1346.3 L196.9,1345.9 L197.4,1345.5 L197.9,1345.1 L198.3,1344.7 L198.8,1344.3 L199.3,1344.0 L199.8,1343.6 L200.3,1343.2 L200.7,1342.8 L201.2,1342.4 L201.7,1342.0 L202.2,1341.6 L202.6,1341.2 L203.1,1340.8 L203.6,1340.4 L204.0,1340.0 L204.5,1339.6 L205.0,1339.2 L205.4,1338.9 L205.9,1338.5 L206.4,1338.1 L206.8,1337.7 L207.3,1337.3 L207.7,1336.9 L208.2,1336.5 L208.6,1336.1 L209.1,1335.7 L209.5,1335.3 L210.0,1334.9 L210.4,1334.5 L210.9,1334.1 L211.3,1333.8 L211.7,1333.4 L212.1,1333.0 L212.6,1332.6 L213.0,1332.2 L213.4,1331.8 L213.8,1331.4 L214.2,1331.0 L214.6,1330.6 L215.0,1330.2 L215.4,1329.8 L215.8,1329.4 L216.2,1329.1 L216.6,1328.7 L217.0,1328.3 L217.4,1327.9 L217.8,1327.5 L218.1,1327.1 L218.5,1326.7 L218.9,1326.3 L219.3,1325.9 L219.6,1325.5 L220.0,1325.1 L220.3,1324.7 L220.7,1324.3 L221.0,1324.0 L221.4,1323.6 L221.7,1323.2 L222.1,1322.8 L222.4,1322.4 L222.8,1322.0 L223.1,1321.6 L223.4,1321.2 L223.8,1320.8 L224.1,1320.4 L224.4,1320.0 L224.8,1319.6 L225.1,1319.2 L225.4,1318.9 L225.8,1318.5 L226.1,1318.1 L226.4,1317.7 L226.7,1317.3 L227.1,1316.9 L227.4,1316.5 L227.7,1316.1 L228.0,1315.7 L228.3,1315.3 L228.7,1314.9 L229.0,1314.5 L229.3,1314.1 L229.6,1313.8 L229.9,1313.4 L230.3,1313.0 L230.6,1312.6 L230.9,1312.2 L231.2,1311.8 L231.5,1311.4 L231.8,1311.0 L232.2,1310.6 L232.5,1310.2 L232.8,1309.8 L233.1,1309.4 L233.4,1309.0 L233.8,1308.7 L234.1,1308.3 L234.4,1307.9 L234.7,1307.5 L235.1,1307.1 L235.4,1306.7 L235.7,1306.3 L236.0,1305.9 L236.4,1305.5 L236.7,1305.1 L237.0,1304.7 L237.3,1304.3 L237.7,1303.9 L238.0,1303.6 L238.3,1303.2 L238.7,1302.8 L239.0,1302.4 L239.3,1302.0 L239.7,1301.6 L240.0,1301.2 L240.4,1300.8 L240.7,1300.4 L241.0,1300.0 L241.4,1299.6 L241.7,1299.2 L242.0,1298.8 L242.4,1298.5 L242.7,1298.1 L243.1,1297.7 L243.4,1297.3 L243.7,1296.9 L244.1,1296.5 L244.4,1296.1 L244.7,1295.7 L245.1,1295.3 L245.4,1294.9 L245.8,1294.5 L246.1,1294.1 L246.4,1293.7 L246.8,1293.4 L247.1,1293.0 L247.4,1292.6 L247.8,1292.2 L248.1,1291.8 L248.4,1291.4 L248.8,1291.0 L249.1,1290.6 L249.4,1290.2 L249.8,1289.8 L250.1,1289.4 L250.4,1289.0 L250.7,1288.6 L251.1,1288.3 L251.4,1287.9 L251.7,1287.5 L252.0,1287.1 L252.3,1286.7 L252.7,1286.3 L253.0,1285.9 L253.3,1285.5 L253.6,1285.1 L253.9,1284.7 L254.2,1284.3 L254.5,1283.9 L254.8,1283.5 L255.1,1283.2 L255.4,1282.8 L255.8,1282.4 L256.1,1282.0 L256.3,1281.6 L256.6,1281.2 L256.9,1280.8 L257.2,1280.4 L257.5,1280.0 L257.8,1279.6 L258.1,1279.2 L258.4,1278.8 L258.7,1278.4 L258.9,1278.1 L259.2,1277.7 L259.5,1277.3 L259.8,1276.9 L260.0,1276.5 L260.3,1276.1 L260.6,1275.7 L260.8,1275.3 L261.1,1274.9 L261.4,1274.5 L261.6,1274.1 L261.9,1273.7 L262.1,1273.4 L262.4,1273.0 L262.6,1272.6 L262.9,1272.2 L263.1,1271.8 L263.4,1271.4 L263.6,1271.0 L263.8,1270.6 L264.1,1270.2 L264.3,1269.8 L264.5,1269.4 L264.8,1269.0 L265.0,1268.6 L265.2,1268.3 L265.4,1267.9 L265.7,1267.5 L265.9,1267.1 L266.1,1266.7 L266.3,1266.3 L266.5,1265.9 L266.8,1265.5 L267.0,1265.1 L267.2,1264.7 L267.4,1264.3 L267.6,1263.9 L267.8,1263.5 L268.0,1263.2 L268.2,1262.8 L268.4,1262.4 L268.6,1262.0 L268.8,1261.6 L269.0,1261.2 L269.2,1260.8 L269.4,1260.4 L269.6,1260.0 L269.8,1259.6 L270.0,1259.2 L270.2,1258.8 L270.4,1258.4 L270.6,1258.1 L270.7,1257.7 L270.9,1257.3 L271.1,1256.9 L271.3,1256.5 L271.5,1256.1 L271.7,1255.7 L271.8,1255.3 L272.0,1254.9 L272.2,1254.5 L272.4,1254.1 L272.6,1253.7 L272.7,1253.3 L272.9,1253.0 L273.1,1252.6 L273.3,1252.2 L273.4,1251.8 L273.6,1251.4 L273.8,1251.0 L273.9,1250.6 L274.1,1250.2 L274.3,1249.8 L274.4,1249.4 L274.6,1249.0 L274.8,1248.6 L274.9,1248.2 L275.1,1247.9 L275.3,1247.5 L275.4,1247.1 L275.6,1246.7 L275.7,1246.3 L275.9,1245.9 L276.1,1245.5 L276.2,1245.1 L276.4,1244.7 L276.5,1244.3 L276.7,1243.9 L276.9,1243.5 L277.0,1243.1 L277.2,1242.8 L277.3,1242.4 L277.5,1242.0 L277.6,1241.6 L277.8,1241.2 L277.9,1240.8 L278.1,1240.4 L278.2,1240.0 L278.4,1239.6 L278.6,1239.2 L278.7,1238.8 L278.9,1238.4 L279.0,1238.0 L279.2,1237.7 L279.3,1237.3 L279.5,1236.9 L279.6,1236.5 L279.8,1236.1 L279.9,1235.7 L280.1,1235.3 L280.2,1234.9 L280.4,1234.5 L280.5,1234.1 L280.7,1233.7 L280.8,1233.3 L281.0,1232.9 L281.1,1232.6 L281.3,1232.2 L281.4,1231.8 L281.6,1231.4 L281.7,1231.0 L281.9,1230.6 L282.0,1230.2 L282.2,1229.8 L282.3,1229.4 L282.5,1229.0 L282.6,1228.6 L282.8,1228.2 L282.9,1227.8 L283.1,1227.5 L283.2,1227.1 L283.4,1226.7 L283.5,1226.3 L283.7,1225.9 L283.8,1225.5 L284.0,1225.1 L284.1,1224.7 L284.3,1224.3 L284.4,1223.9 L284.6,1223.5 L284.7,1223.1 L284.9,1222.8 L285.0,1222.4 L285.2,1222.0 L285.3,1221.6 L285.5,1221.2 L285.7,1220.8 L285.8,1220.4 L286.0,1220.0 L286.1,1219.6 L286.3,1219.2 L286.4,1218.8 L286.6,1218.4 L286.8,1218.0 L286.9,1217.7 L287.1,1217.3 L287.2,1216.9 L287.4,1216.5 L287.6,1216.1 L287.7,1215.7 L287.9,1215.3 L288.1,1214.9 L288.2,1214.5 L288.4,1214.1 L288.6,1213.7 L288.7,1213.3 L288.9,1212.9 L289.1,1212.6 L289.3,1212.2 L289.4,1211.8 L289.6,1211.4 L289.8,1211.0 L290.0,1210.6 L290.1,1210.2 L290.3,1209.8 L290.5,1209.4 L290.7,1209.0 L290.9,1208.6 L291.0,1208.2 L291.2,1207.8 L291.4,1207.5 L291.6,1207.1 L291.8,1206.7 L292.0,1206.3 L292.2,1205.9 L292.3,1205.5 L292.5,1205.1 L292.7,1204.7 L292.9,1204.3 L293.1,1203.9 L293.3,1203.5 L293.5,1203.1 L293.7,1202.7 L293.9,1202.4 L294.1,1202.0 L294.3,1201.6 L294.5,1201.2 L294.7,1200.8 L294.9,1200.4 L295.2,1200.0 L295.4,1199.6 L295.6,1199.2 L295.8,1198.8 L296.0,1198.4 L296.2,1198.0 L296.4,1197.6 L296.6,1197.3 L296.9,1196.9 L297.1,1196.5 L297.3,1196.1 L297.5,1195.7 L297.7,1195.3 L297.9,1194.9 L298.2,1194.5 L298.4,1194.1 L298.6,1193.7 L298.8,1193.3 L299.0,1192.9 L299.3,1192.5 L299.5,1192.2 L299.7,1191.8 L299.9,1191.4 L300.1,1191.0 L300.4,1190.6 L300.6,1190.2 L300.8,1189.8 L301.0,1189.4 L301.3,1189.0 L301.5,1188.6 L301.7,1188.2 L301.9,1187.8 L302.2,1187.4 L302.4,1187.1 L302.6,1186.7 L302.8,1186.3 L303.0,1185.9 L303.3,1185.5 L303.5,1185.1 L303.7,1184.7 L303.9,1184.3 L304.1,1183.9 L304.4,1183.5 L304.6,1183.1 L304.8,1182.7 L305.0,1182.3 L305.2,1182.0 L305.5,1181.6 L305.7,1181.2 L305.9,1180.8 L306.1,1180.4 L306.3,1180.0 L306.5,1179.6 L306.7,1179.2 L306.9,1178.8 L307.2,1178.4 L307.4,1178.0 L307.6,1177.6 L307.8,1177.2 L308.0,1176.9 L308.2,1176.5 L308.4,1176.1 L308.6,1175.7 L308.8,1175.3 L309.0,1174.9 L309.2,1174.5 L309.4,1174.1 L309.6,1173.7 L309.8,1173.3 L310.0,1172.9 L310.2,1172.5 L310.4,1172.2 L310.6,1171.8 L310.7,1171.4 L310.9,1171.0 L311.1,1170.6 L311.3,1170.2 L311.5,1169.8 L311.7,1169.4 L311.8,1169.0 L312.0,1168.6 L312.2,1168.2 L312.4,1167.8 L312.6,1167.4 L312.7,1167.1 L312.9,1166.7 L313.1,1166.3 L313.3,1165.9 L313.4,1165.5 L313.6,1165.1 L313.8,1164.7 L313.9,1164.3 L314.1,1163.9 L314.3,1163.5 L314.4,1163.1 L314.6,1162.7 L314.8,1162.3 L314.9,1162.0 L315.1,1161.6 L315.3,1161.2 L315.4,1160.8 L315.6,1160.4 L315.7,1160.0 L315.9,1159.6 L316.1,1159.2 L316.2,1158.8 L316.4,1158.4 L316.5,1158.0 L316.7,1157.6 L316.8,1157.2 L317.0,1156.9 L317.1,1156.5 L317.3,1156.1 L317.5,1155.7 L317.6,1155.3 L317.8,1154.9 L317.9,1154.5 L318.1,1154.1 L318.2,1153.7 L318.4,1153.3 L318.5,1152.9 L318.7,1152.5 L318.8,1152.1 L319.0,1151.8 L319.1,1151.4 L319.2,1151.0 L319.4,1150.6 L319.5,1150.2 L319.7,1149.8 L319.8,1149.4 L320.0,1149.0 L320.1,1148.6 L320.3,1148.2 L320.4,1147.8 L320.6,1147.4 L320.7,1147.0 L320.8,1146.7 L321.0,1146.3 L321.1,1145.9 L321.3,1145.5 L321.4,1145.1 L321.6,1144.7 L321.7,1144.3 L321.9,1143.9 L322.0,1143.5 L322.1,1143.1 L322.3,1142.7 L322.4,1142.3 L322.6,1141.9 L322.7,1141.6 L322.8,1141.2 L323.0,1140.8 L323.1,1140.4 L323.3,1140.0 L323.4,1139.6 L323.6,1139.2 L323.7,1138.8 L323.8,1138.4 L324.0,1138.0 L324.1,1137.6 L324.3,1137.2 L324.4,1136.8 L324.6,1136.5 L324.7,1136.1 L324.9,1135.7 L325.0,1135.3 L325.1,1134.9 L325.3,1134.5 L325.4,1134.1 L325.6,1133.7 L325.7,1133.3 L325.9,1132.9 L326.0,1132.5 L326.2,1132.1 L326.3,1131.7 L326.5,1131.4 L326.6,1131.0 L326.7,1130.6 L326.9,1130.2 L327.0,1129.8 L327.2,1129.4 L327.3,1129.0 L327.5,1128.6 L327.6,1128.2 L327.8,1127.8 L327.9,1127.4 L328.1,1127.0 L328.2,1126.6 L328.4,1126.3 L328.6,1125.9 L328.7,1125.5 L328.9,1125.1 L329.0,1124.7 L329.2,1124.3 L329.3,1123.9 L329.5,1123.5 L329.6,1123.1 L329.8,1122.7 L330.0,1122.3 L330.1,1121.9 L330.3,1121.6 L330.4,1121.2 L330.6,1120.8 L330.8,1120.4 L330.9,1120.0 L331.1,1119.6 L331.3,1119.2 L331.4,1118.8 L331.6,1118.4 L331.8,1118.0 L331.9,1117.6 L332.1,1117.2 L332.3,1116.8 L332.4,1116.5 L332.6,1116.1 L332.8,1115.7 L332.9,1115.3 L333.1,1114.9 L333.3,1114.5 L333.5,1114.1 L333.6,1113.7 L333.8,1113.3 L334.0,1112.9 L334.2,1112.5 L334.3,1112.1 L334.5,1111.7 L334.7,1111.4 L334.9,1111.0 L335.1,1110.6 L335.2,1110.2 L335.4,1109.8 L335.6,1109.4 L335.8,1109.0 L336.0,1108.6 L336.1,1108.2 L336.3,1107.8 L336.5,1107.4 L336.7,1107.0 L336.9,1106.6 L337.0,1106.3 L337.2,1105.9 L337.4,1105.5 L337.6,1105.1 L337.8,1104.7 L337.9,1104.3 L338.1,1103.9 L338.3,1103.5 L338.5,1103.1 L338.7,1102.7 L338.8,1102.3 L339.0,1101.9 L339.2,1101.5 L339.4,1101.2 L339.6,1100.8 L339.7,1100.4 L339.9,1100.0 L340.1,1099.6 L340.3,1099.2 L340.5,1098.8 L340.6,1098.4 L340.8,1098.0 L341.0,1097.6 L341.2,1097.2 L341.3,1096.8 L341.5,1096.4 L341.7,1096.1 L341.9,1095.7 L342.0,1095.3 L342.2,1094.9 L342.4,1094.5 L342.6,1094.1 L342.7,1093.7 L342.9,1093.3 L343.1,1092.9 L343.2,1092.5 L343.4,1092.1 L343.6,1091.7 L343.7,1091.3 L343.9,1091.0 L344.1,1090.6 L344.2,1090.2 L344.4,1089.8 L344.6,1089.4 L344.7,1089.0 L344.9,1088.6 L345.1,1088.2 L345.2,1087.8 L345.4,1087.4 L345.5,1087.0 L345.7,1086.6 L345.8,1086.2 L346.0,1085.9 L346.2,1085.5 L346.3,1085.1 L346.5,1084.7 L346.6,1084.3 L346.8,1083.9 L346.9,1083.5 L347.1,1083.1 L347.2,1082.7 L347.3,1082.3 L347.5,1081.9 L347.6,1081.5 L347.8,1081.1 L347.9,1080.8 L348.0,1080.4 L348.2,1080.0 L348.3,1079.6 L348.4,1079.2 L348.6,1078.8 L348.7,1078.4 L348.8,1078.0 L349.0,1077.6 L349.1,1077.2 L349.2,1076.8 L349.3,1076.4 L349.5,1076.0 L349.6,1075.7 L349.7,1075.3 L349.8,1074.9 L349.9,1074.5 L350.1,1074.1 L350.2,1073.7 L350.3,1073.3 L350.4,1072.9 L350.5,1072.5 L350.6,1072.1 L350.7,1071.7 L350.9,1071.3 L351.0,1070.9 L351.1,1070.6 L351.2,1070.2 L351.3,1069.8 L351.4,1069.4 L351.5,1069.0 L351.6,1068.6 L351.7,1068.2 L351.8,1067.8 L351.9,1067.4 L352.0,1067.0 L352.1,1066.6 L352.2,1066.2 L352.3,1065.9 L352.4,1065.5 L352.5,1065.1 L352.6,1064.7 L352.7,1064.3 L352.8,1063.9 L352.9,1063.5 L352.9,1063.1 L353.0,1062.7 L353.1,1062.3 L353.2,1061.9 L353.3,1061.5 L353.4,1061.1 L353.5,1060.8 L353.6,1060.4 L353.6,1060.0 L353.7,1059.6 L353.8,1059.2 L353.9,1058.8 L354.0,1058.4 L354.0,1058.0 L354.1,1057.6 L354.2,1057.2 L354.3,1056.8 L354.4,1056.4 L354.4,1056.0 L354.5,1055.7 L354.6,1055.3 L354.7,1054.9 L354.7,1054.5 L354.8,1054.1 L354.9,1053.7 L355.0,1053.3 L355.0,1052.9 L355.1,1052.5 L355.2,1052.1 L355.3,1051.7 L355.3,1051.3 L355.4,1050.9 L355.5,1050.6 L355.5,1050.2 L355.6,1049.8 L355.7,1049.4 L355.7,1049.0 L355.8,1048.6 L355.9,1048.2 L355.9,1047.8 L356.0,1047.4 L356.1,1047.0 L356.1,1046.6 L356.2,1046.2 L356.3,1045.8 L356.3,1045.5 L356.4,1045.1 L356.5,1044.7 L356.5,1044.3 L356.6,1043.9 L356.6,1043.5 L356.7,1043.1 L356.8,1042.7 L356.8,1042.3 L356.9,1041.9 L356.9,1041.5 L357.0,1041.1 L357.1,1040.7 L357.1,1040.4 L357.2,1040.0 L357.2,1039.6 L357.3,1039.2 L357.4,1038.8 L357.4,1038.4 L357.5,1038.0 L357.5,1037.6 L357.6,1037.2 L357.7,1036.8 L357.7,1036.4 L357.8,1036.0 L357.8,1035.6 L357.9,1035.3 L357.9,1034.9 L358.0,1034.5 L358.1,1034.1 L358.1,1033.7 L358.2,1033.3 L358.2,1032.9 L358.3,1032.5 L358.3,1032.1 L358.4,1031.7 L358.5,1031.3 L358.5,1030.9 L358.6,1030.5 L358.6,1030.2 L358.7,1029.8 L358.7,1029.4 L358.8,1029.0 L358.8,1028.6 L358.9,1028.2 L359.0,1027.8 L359.0,1027.4 L359.1,1027.0 L359.1,1026.6 L359.2,1026.2 L359.2,1025.8 L359.3,1025.4 L359.4,1025.1 L359.4,1024.7 L359.5,1024.3 L359.5,1023.9 L359.6,1023.5 L359.6,1023.1 L359.7,1022.7 L359.7,1022.3 L359.8,1021.9 L359.9,1021.5 L359.9,1021.1 L360.0,1020.7 L360.0,1020.3 L360.1,1020.0 L360.1,1019.6 L360.2,1019.2 L360.2,1018.8 L360.3,1018.4 L360.4,1018.0 L360.4,1017.6 L360.5,1017.2 L360.5,1016.8 L360.6,1016.4 L360.6,1016.0 L360.7,1015.6 L360.7,1015.3 L360.8,1014.9 L360.9,1014.5 L360.9,1014.1 L361.0,1013.7 L361.0,1013.3 L361.1,1012.9 L361.1,1012.5 L361.2,1012.1 L361.2,1011.7 L361.3,1011.3 L361.3,1010.9 L361.4,1010.5 L361.5,1010.2 L361.5,1009.8 L361.6,1009.4 L361.6,1009.0 L361.7,1008.6 L361.7,1008.2 L361.8,1007.8 L361.8,1007.4 L361.9,1007.0 L361.9,1006.6 L362.0,1006.2 L362.1,1005.8 L362.1,1005.4 L362.2,1005.1 L362.2,1004.7 L362.3,1004.3 L362.3,1003.9 L362.4,1003.5 L362.4,1003.1 L362.5,1002.7 L362.5,1002.3 L362.6,1001.9 L362.6,1001.5 L362.7,1001.1 L362.8,1000.7 L362.8,1000.3 L362.9,1000.0 L362.9,999.6 L363.0,999.2 L363.0,998.8 L363.1,998.4 L363.1,998.0 L363.2,997.6 L363.2,997.2 L363.3,996.8 L363.3,996.4 L363.4,996.0 L363.4,995.6 L363.5,995.2 L363.6,994.9 L363.6,994.5 L363.7,994.1 L363.7,993.7 L363.8,993.3 L363.8,992.9 L363.9,992.5 L363.9,992.1 L364.0,991.7 L364.0,991.3 L364.1,990.9 L364.1,990.5 L364.2,990.1 L364.2,989.8 L364.3,989.4 L364.3,989.0 L364.4,988.6 L364.4,988.2 L364.5,987.8 L364.5,987.4 L364.6,987.0 L364.7,986.6 L364.7,986.2 L364.8,985.8 L364.8,985.4 L364.9,985.0 L364.9,984.7 L365.0,984.3 L365.0,983.9 L365.1,983.5 L365.1,983.1 L365.2,982.7 L365.2,982.3 L365.3,981.9 L365.3,981.5 L365.4,981.1 L365.4,980.7 L365.5,980.3 L365.5,979.9 L365.6,979.6 L365.6,979.2 L365.7,978.8 L365.7,978.4 L365.8,978.0 L365.8,977.6 L365.9,977.2 L365.9,976.8 L366.0,976.4 L366.0,976.0 L366.1,975.6 L366.1,975.2 L366.2,974.8 L366.2,974.5 L366.3,974.1 L366.3,973.7 L366.4,973.3 L366.4,972.9 L366.5,972.5 L366.5,972.1 L366.6,971.7 L366.6,971.3 L366.7,970.9 L366.7,970.5 L366.8,970.1 L366.8,969.7 L366.9,969.4 L366.9,969.0 L367.0,968.6 L367.0,968.2 L367.1,967.8 L367.1,967.4 L367.2,967.0 L367.2,966.6 L367.3,966.2 L367.3,965.8 L367.3,965.4 L367.4,965.0 L367.4,964.7 L367.5,964.3 L367.5,963.9 L367.6,963.5 L367.6,963.1 L367.7,962.7 L367.7,962.3 L367.8,961.9 L367.8,961.5 L367.9,961.1 L367.9,960.7 L368.0,960.3 L368.0,959.9 L368.1,959.6 L368.1,959.2 L368.2,958.8 L368.2,958.4 L368.2,958.0 L368.3,957.6 L368.3,957.2 L368.4,956.8 L368.4,956.4 L368.5,956.0 L368.5,955.6 L368.6,955.2 L368.6,954.8 L368.7,954.5 L368.7,954.1 L368.8,953.7 L368.8,953.3 L368.8,952.9 L368.9,952.5 L368.9,952.1 L369.0,951.7 L369.0,951.3 L369.1,950.9 L369.1,950.5 L369.2,950.1 L369.2,949.7 L369.2,949.4 L369.3,949.0 L369.3,948.6 L369.4,948.2 L369.4,947.8 L369.5,947.4 L369.5,947.0 L369.6,946.6 L369.6,946.2 L369.6,945.8 L369.7,945.4 L369.7,945.0 L369.8,944.6 L369.8,944.3 L369.9,943.9 L369.9,943.5 L370.0,943.1 L370.0,942.7 L370.0,942.3 L370.1,941.9 L370.1,941.5 L370.2,941.1 L370.2,940.7 L370.2,940.3 L370.3,939.9 L370.3,939.5 L370.4,939.2 L370.4,938.8 L370.5,938.4 L370.5,938.0 L370.5,937.6 L370.6,937.2 L370.6,936.8 L370.7,936.4 L370.7,936.0 L370.7,935.6 L370.8,935.2 L370.8,934.8 L370.9,934.4 L370.9,934.1 L371.0,933.7 L371.0,933.3 L371.0,932.9 L371.1,932.5 L371.1,932.1 L371.2,931.7 L371.2,931.3 L371.2,930.9 L371.3,930.5 L371.3,930.1 L371.4,929.7 L371.4,929.3 L371.4,929.0 L371.5,928.6 L371.5,928.2 L371.6,927.8 L371.6,927.4 L371.6,927.0 L371.7,926.6 L371.7,926.2 L371.7,925.8 L371.8,925.4 L371.8,925.0 L371.9,924.6 L371.9,924.2 L371.9,923.9 L372.0,923.5 L372.0,923.1 L372.0,922.7 L372.1,922.3 L372.1,921.9 L372.2,921.5 L372.2,921.1 L372.2,920.7 L372.3,920.3 L372.3,919.9 L372.3,919.5 L372.4,919.1 L372.4,918.8 L372.5,918.4 L372.5,918.0 L372.5,917.6 L372.6,917.2 L372.6,916.8 L372.6,916.4 L372.7,916.0 L372.7,915.6 L372.7,915.2 L372.8,914.8 L372.8,914.4 L372.8,914.0 L372.9,913.7 L372.9,913.3 L373.0,912.9 L373.0,912.5 L373.0,912.1 L373.1,911.7 L373.1,911.3 L373.1,910.9 L373.2,910.5 L373.2,910.1 L373.2,909.7 L373.3,909.3 L373.3,909.0 L373.3,908.6 L373.4,908.2 L373.4,907.8 L373.4,907.4 L373.5,907.0 L373.5,906.6 L373.5,906.2 L373.6,905.8 L373.6,905.4 L373.6,905.0 L373.7,904.6 L373.7,904.2 L373.7,903.9 L373.8,903.5 L373.8,903.1 L373.8,902.7 L373.9,902.3 L373.9,901.9 L373.9,901.5 L374.0,901.1 L374.0,900.7 L374.0,900.3 L374.1,899.9 L374.1,899.5 L374.1,899.1 L374.2,898.8 L374.2,898.4 L374.2,898.0 L374.3,897.6 L374.3,897.2 L374.3,896.8 L374.4,896.4 L374.4,896.0 L374.4,895.6 L374.4,895.2 L374.5,894.8 L374.5,894.4 L374.5,894.0 L374.6,893.7 L374.6,893.3 L374.6,892.9 L374.7,892.5 L374.7,892.1 L374.7,891.7 L374.8,891.3 L374.8,890.9 L374.8,890.5 L374.9,890.1 L374.9,889.7 L374.9,889.3 L375.0,888.9 L375.0,888.6 L375.0,888.2 L375.1,887.8 L375.1,887.4 L375.1,887.0 L375.2,886.6 L375.2,886.2 L375.2,885.8 L375.3,885.4 L375.3,885.0 L375.3,884.6 L375.4,884.2 L375.4,883.8 L375.4,883.5 L375.5,883.1 L375.5,882.7 L375.5,882.3 L375.6,881.9 L375.6,881.5 L375.6,881.1 L375.7,880.7 L375.7,880.3 L375.7,879.9 L375.8,879.5 L375.8,879.1 L375.9,878.7 L375.9,878.4 L375.9,878.0 L376.0,877.6 L376.0,877.2 L376.0,876.8 L376.1,876.4 L376.1,876.0 L376.1,875.6 L376.2,875.2 L376.2,874.8 L376.2,874.4 L376.3,874.0 L376.3,873.6 L376.4,873.3 L376.4,872.9 L376.4,872.5 L376.5,872.1 L376.5,871.7 L376.5,871.3 L376.6,870.9 L376.6,870.5 L376.7,870.1 L376.7,869.7 L376.7,869.3 L376.8,868.9 L376.8,868.5 L376.8,868.2 L376.9,867.8 L376.9,867.4 L377.0,867.0 L377.0,866.6 L377.0,866.2 L377.1,865.8 L377.1,865.4 L377.2,865.0 L377.2,864.6 L377.2,864.2 L377.3,863.8 L377.3,863.4 L377.4,863.1 L377.4,862.7 L377.5,862.3 L377.5,861.9 L377.5,861.5 L377.6,861.1 L377.6,860.7 L377.7,860.3 L377.7,859.9 L377.8,859.5 L377.8,859.1 L377.8,858.7 L377.9,858.4 L377.9,858.0 L378.0,857.6 L378.0,857.2 L378.1,856.8 L378.1,856.4 L378.2,856.0 L378.2,855.6 L378.2,855.2 L378.3,854.8 L378.3,854.4 L378.4,854.0 L378.4,853.6 L378.5,853.3 L378.5,852.9 L378.6,852.5 L378.6,852.1 L378.7,851.7 L378.7,851.3 L378.8,850.9 L378.8,850.5 L378.9,850.1 L378.9,849.7 L379.0,849.3 L379.0,848.9 L379.1,848.5 L379.1,848.2 L379.2,847.8 L379.2,847.4 L379.3,847.0 L379.3,846.6 L379.4,846.2 L379.4,845.8 L379.5,845.4 L379.5,845.0 L379.6,844.6 L379.7,844.2 L379.7,843.8 L379.8,843.4 L379.8,843.1 L379.9,842.7 L379.9,842.3 L380.0,841.9 L380.0,841.5 L380.1,841.1 L380.2,840.7 L380.2,840.3 L380.3,839.9 L380.3,839.5 L380.4,839.1 L380.5,838.7 L380.5,838.3 L380.6,838.0 L380.6,837.6 L380.7,837.2 L380.8,836.8 L380.8,836.4 L380.9,836.0 L380.9,835.6 L381.0,835.2 L381.1,834.8 L381.1,834.4 L381.2,834.0 L381.3,833.6 L381.3,833.2 L381.4,832.9 L381.5,832.5 L381.5,832.1 L381.6,831.7 L381.7,831.3 L381.7,830.9 L381.8,830.5 L381.9,830.1 L381.9,829.7 L382.0,829.3 L382.1,828.9 L382.1,828.5 L382.2,828.1 L382.3,827.8 L382.4,827.4 L382.4,827.0 L382.5,826.6 L382.6,826.2 L382.6,825.8 L382.7,825.4 L382.8,825.0 L382.9,824.6 L382.9,824.2 L383.0,823.8 L383.1,823.4 L383.2,823.0 L383.2,822.7 L383.3,822.3 L383.4,821.9 L383.5,821.5 L383.6,821.1 L383.6,820.7 L383.7,820.3 L383.8,819.9 L383.9,819.5 L384.0,819.1 L384.0,818.7 L384.1,818.3 L384.2,817.9 L384.3,817.6 L384.4,817.2 L384.5,816.8 L384.6,816.4 L384.6,816.0 L384.7,815.6 L384.8,815.2 L384.9,814.8 L385.0,814.4 L385.1,814.0 L385.2,813.6 L385.3,813.2 L385.3,812.8 L385.4,812.5 L385.5,812.1 L385.6,811.7 L385.7,811.3 L385.9,810.9 L386.0,811.3 L386.1,811.7 L386.2,812.1 L386.3,812.5 L386.4,812.8 L386.4,813.2 L386.5,813.6 L386.6,814.0 L386.7,814.4 L386.8,814.8 L386.9,815.2 L387.0,815.6 L387.1,816.0 L387.1,816.4 L387.2,816.8 L387.3,817.2 L387.4,817.6 L387.5,817.9 L387.6,818.3 L387.7,818.7 L387.7,819.1 L387.8,819.5 L387.9,819.9 L388.0,820.3 L388.1,820.7 L388.1,821.1 L388.2,821.5 L388.3,821.9 L388.4,822.3 L388.5,822.7 L388.5,823.0 L388.6,823.4 L388.7,823.8 L388.8,824.2 L388.8,824.6 L388.9,825.0 L389.0,825.4 L389.1,825.8 L389.1,826.2 L389.2,826.6 L389.3,827.0 L389.3,827.4 L389.4,827.8 L389.5,828.1 L389.6,828.5 L389.6,828.9 L389.7,829.3 L389.8,829.7 L389.8,830.1 L389.9,830.5 L390.0,830.9 L390.0,831.3 L390.1,831.7 L390.2,832.1 L390.2,832.5 L390.3,832.9 L390.4,833.2 L390.4,833.6 L390.5,834.0 L390.6,834.4 L390.6,834.8 L390.7,835.2 L390.8,835.6 L390.8,836.0 L390.9,836.4 L390.9,836.8 L391.0,837.2 L391.1,837.6 L391.1,838.0 L391.2,838.3 L391.2,838.7 L391.3,839.1 L391.4,839.5 L391.4,839.9 L391.5,840.3 L391.5,840.7 L391.6,841.1 L391.7,841.5 L391.7,841.9 L391.8,842.3 L391.8,842.7 L391.9,843.1 L391.9,843.4 L392.0,843.8 L392.0,844.2 L392.1,844.6 L392.2,845.0 L392.2,845.4 L392.3,845.8 L392.3,846.2 L392.4,846.6 L392.4,847.0 L392.5,847.4 L392.5,847.8 L392.6,848.2 L392.6,848.5 L392.7,848.9 L392.7,849.3 L392.8,849.7 L392.8,850.1 L392.9,850.5 L392.9,850.9 L393.0,851.3 L393.0,851.7 L393.1,852.1 L393.1,852.5 L393.2,852.9 L393.2,853.3 L393.3,853.6 L393.3,854.0 L393.4,854.4 L393.4,854.8 L393.5,855.2 L393.5,855.6 L393.5,856.0 L393.6,856.4 L393.6,856.8 L393.7,857.2 L393.7,857.6 L393.8,858.0 L393.8,858.4 L393.9,858.7 L393.9,859.1 L393.9,859.5 L394.0,859.9 L394.0,860.3 L394.1,860.7 L394.1,861.1 L394.2,861.5 L394.2,861.9 L394.2,862.3 L394.3,862.7 L394.3,863.1 L394.4,863.4 L394.4,863.8 L394.5,864.2 L394.5,864.6 L394.5,865.0 L394.6,865.4 L394.6,865.8 L394.7,866.2 L394.7,866.6 L394.7,867.0 L394.8,867.4 L394.8,867.8 L394.9,868.2 L394.9,868.5 L394.9,868.9 L395.0,869.3 L395.0,869.7 L395.0,870.1 L395.1,870.5 L395.1,870.9 L395.2,871.3 L395.2,871.7 L395.2,872.1 L395.3,872.5 L395.3,872.9 L395.3,873.3 L395.4,873.6 L395.4,874.0 L395.5,874.4 L395.5,874.8 L395.5,875.2 L395.6,875.6 L395.6,876.0 L395.6,876.4 L395.7,876.8 L395.7,877.2 L395.7,877.6 L395.8,878.0 L395.8,878.4 L395.8,878.7 L395.9,879.1 L395.9,879.5 L396.0,879.9 L396.0,880.3 L396.0,880.7 L396.1,881.1 L396.1,881.5 L396.1,881.9 L396.2,882.3 L396.2,882.7 L396.2,883.1 L396.3,883.5 L396.3,883.8 L396.3,884.2 L396.4,884.6 L396.4,885.0 L396.4,885.4 L396.5,885.8 L396.5,886.2 L396.5,886.6 L396.6,887.0 L396.6,887.4 L396.6,887.8 L396.7,888.2 L396.7,888.6 L396.7,888.9 L396.8,889.3 L396.8,889.7 L396.8,890.1 L396.9,890.5 L396.9,890.9 L396.9,891.3 L397.0,891.7 L397.0,892.1 L397.0,892.5 L397.1,892.9 L397.1,893.3 L397.1,893.7 L397.2,894.0 L397.2,894.4 L397.2,894.8 L397.3,895.2 L397.3,895.6 L397.3,896.0 L397.3,896.4 L397.4,896.8 L397.4,897.2 L397.4,897.6 L397.5,898.0 L397.5,898.4 L397.5,898.8 L397.6,899.1 L397.6,899.5 L397.6,899.9 L397.7,900.3 L397.7,900.7 L397.7,901.1 L397.8,901.5 L397.8,901.9 L397.8,902.3 L397.9,902.7 L397.9,903.1 L397.9,903.5 L398.0,903.9 L398.0,904.2 L398.0,904.6 L398.1,905.0 L398.1,905.4 L398.1,905.8 L398.2,906.2 L398.2,906.6 L398.2,907.0 L398.3,907.4 L398.3,907.8 L398.3,908.2 L398.4,908.6 L398.4,909.0 L398.4,909.3 L398.5,909.7 L398.5,910.1 L398.5,910.5 L398.6,910.9 L398.6,911.3 L398.6,911.7 L398.7,912.1 L398.7,912.5 L398.7,912.9 L398.8,913.3 L398.8,913.7 L398.9,914.0 L398.9,914.4 L398.9,914.8 L399.0,915.2 L399.0,915.6 L399.0,916.0 L399.1,916.4 L399.1,916.8 L399.1,917.2 L399.2,917.6 L399.2,918.0 L399.2,918.4 L399.3,918.8 L399.3,919.1 L399.4,919.5 L399.4,919.9 L399.4,920.3 L399.5,920.7 L399.5,921.1 L399.5,921.5 L399.6,921.9 L399.6,922.3 L399.7,922.7 L399.7,923.1 L399.7,923.5 L399.8,923.9 L399.8,924.2 L399.8,924.6 L399.9,925.0 L399.9,925.4 L400.0,925.8 L400.0,926.2 L400.0,926.6 L400.1,927.0 L400.1,927.4 L400.1,927.8 L400.2,928.2 L400.2,928.6 L400.3,929.0 L400.3,929.3 L400.3,929.7 L400.4,930.1 L400.4,930.5 L400.5,930.9 L400.5,931.3 L400.5,931.7 L400.6,932.1 L400.6,932.5 L400.7,932.9 L400.7,933.3 L400.7,933.7 L400.8,934.1 L400.8,934.4 L400.9,934.8 L400.9,935.2 L401.0,935.6 L401.0,936.0 L401.0,936.4 L401.1,936.8 L401.1,937.2 L401.2,937.6 L401.2,938.0 L401.2,938.4 L401.3,938.8 L401.3,939.2 L401.4,939.5 L401.4,939.9 L401.5,940.3 L401.5,940.7 L401.5,941.1 L401.6,941.5 L401.6,941.9 L401.7,942.3 L401.7,942.7 L401.7,943.1 L401.8,943.5 L401.8,943.9 L401.9,944.3 L401.9,944.6 L402.0,945.0 L402.0,945.4 L402.1,945.8 L402.1,946.2 L402.1,946.6 L402.2,947.0 L402.2,947.4 L402.3,947.8 L402.3,948.2 L402.4,948.6 L402.4,949.0 L402.5,949.4 L402.5,949.7 L402.5,950.1 L402.6,950.5 L402.6,950.9 L402.7,951.3 L402.7,951.7 L402.8,952.1 L402.8,952.5 L402.9,952.9 L402.9,953.3 L402.9,953.7 L403.0,954.1 L403.0,954.5 L403.1,954.8 L403.1,955.2 L403.2,955.6 L403.2,956.0 L403.3,956.4 L403.3,956.8 L403.4,957.2 L403.4,957.6 L403.5,958.0 L403.5,958.4 L403.5,958.8 L403.6,959.2 L403.6,959.6 L403.7,959.9 L403.7,960.3 L403.8,960.7 L403.8,961.1 L403.9,961.5 L403.9,961.9 L404.0,962.3 L404.0,962.7 L404.1,963.1 L404.1,963.5 L404.2,963.9 L404.2,964.3 L404.3,964.7 L404.3,965.0 L404.4,965.4 L404.4,965.8 L404.4,966.2 L404.5,966.6 L404.5,967.0 L404.6,967.4 L404.6,967.8 L404.7,968.2 L404.7,968.6 L404.8,969.0 L404.8,969.4 L404.9,969.7 L404.9,970.1 L405.0,970.5 L405.0,970.9 L405.1,971.3 L405.1,971.7 L405.2,972.1 L405.2,972.5 L405.3,972.9 L405.3,973.3 L405.4,973.7 L405.4,974.1 L405.5,974.5 L405.5,974.8 L405.6,975.2 L405.6,975.6 L405.7,976.0 L405.7,976.4 L405.8,976.8 L405.8,977.2 L405.9,977.6 L405.9,978.0 L406.0,978.4 L406.0,978.8 L406.1,979.2 L406.1,979.6 L406.2,979.9 L406.2,980.3 L406.3,980.7 L406.3,981.1 L406.4,981.5 L406.4,981.9 L406.5,982.3 L406.5,982.7 L406.6,983.1 L406.6,983.5 L406.7,983.9 L406.7,984.3 L406.8,984.7 L406.8,985.0 L406.9,985.4 L406.9,985.8 L407.0,986.2 L407.0,986.6 L407.1,987.0 L407.2,987.4 L407.2,987.8 L407.3,988.2 L407.3,988.6 L407.4,989.0 L407.4,989.4 L407.5,989.8 L407.5,990.1 L407.6,990.5 L407.6,990.9 L407.7,991.3 L407.7,991.7 L407.8,992.1 L407.8,992.5 L407.9,992.9 L407.9,993.3 L408.0,993.7 L408.0,994.1 L408.1,994.5 L408.1,994.9 L408.2,995.2 L408.3,995.6 L408.3,996.0 L408.4,996.4 L408.4,996.8 L408.5,997.2 L408.5,997.6 L408.6,998.0 L408.6,998.4 L408.7,998.8 L408.7,999.2 L408.8,999.6 L408.8,1000.0 L408.9,1000.3 L408.9,1000.7 L409.0,1001.1 L409.1,1001.5 L409.1,1001.9 L409.2,1002.3 L409.2,1002.7 L409.3,1003.1 L409.3,1003.5 L409.4,1003.9 L409.4,1004.3 L409.5,1004.7 L409.5,1005.1 L409.6,1005.4 L409.6,1005.8 L409.7,1006.2 L409.8,1006.6 L409.8,1007.0 L409.9,1007.4 L409.9,1007.8 L410.0,1008.2 L410.0,1008.6 L410.1,1009.0 L410.1,1009.4 L410.2,1009.8 L410.2,1010.2 L410.3,1010.5 L410.4,1010.9 L410.4,1011.3 L410.5,1011.7 L410.5,1012.1 L410.6,1012.5 L410.6,1012.9 L410.7,1013.3 L410.7,1013.7 L410.8,1014.1 L410.8,1014.5 L410.9,1014.9 L411.0,1015.3 L411.0,1015.6 L411.1,1016.0 L411.1,1016.4 L411.2,1016.8 L411.2,1017.2 L411.3,1017.6 L411.3,1018.0 L411.4,1018.4 L411.5,1018.8 L411.5,1019.2 L411.6,1019.6 L411.6,1020.0 L411.7,1020.3 L411.7,1020.7 L411.8,1021.1 L411.8,1021.5 L411.9,1021.9 L412.0,1022.3 L412.0,1022.7 L412.1,1023.1 L412.1,1023.5 L412.2,1023.9 L412.2,1024.3 L412.3,1024.7 L412.3,1025.1 L412.4,1025.4 L412.5,1025.8 L412.5,1026.2 L412.6,1026.6 L412.6,1027.0 L412.7,1027.4 L412.7,1027.8 L412.8,1028.2 L412.9,1028.6 L412.9,1029.0 L413.0,1029.4 L413.0,1029.8 L413.1,1030.2 L413.1,1030.5 L413.2,1030.9 L413.2,1031.3 L413.3,1031.7 L413.4,1032.1 L413.4,1032.5 L413.5,1032.9 L413.5,1033.3 L413.6,1033.7 L413.6,1034.1 L413.7,1034.5 L413.8,1034.9 L413.8,1035.3 L413.9,1035.6 L413.9,1036.0 L414.0,1036.4 L414.0,1036.8 L414.1,1037.2 L414.2,1037.6 L414.2,1038.0 L414.3,1038.4 L414.3,1038.8 L414.4,1039.2 L414.5,1039.6 L414.5,1040.0 L414.6,1040.4 L414.6,1040.7 L414.7,1041.1 L414.8,1041.5 L414.8,1041.9 L414.9,1042.3 L414.9,1042.7 L415.0,1043.1 L415.1,1043.5 L415.1,1043.9 L415.2,1044.3 L415.2,1044.7 L415.3,1045.1 L415.4,1045.5 L415.4,1045.8 L415.5,1046.2 L415.6,1046.6 L415.6,1047.0 L415.7,1047.4 L415.8,1047.8 L415.8,1048.2 L415.9,1048.6 L416.0,1049.0 L416.0,1049.4 L416.1,1049.8 L416.2,1050.2 L416.2,1050.6 L416.3,1050.9 L416.4,1051.3 L416.4,1051.7 L416.5,1052.1 L416.6,1052.5 L416.7,1052.9 L416.7,1053.3 L416.8,1053.7 L416.9,1054.1 L417.0,1054.5 L417.0,1054.9 L417.1,1055.3 L417.2,1055.7 L417.3,1056.0 L417.3,1056.4 L417.4,1056.8 L417.5,1057.2 L417.6,1057.6 L417.7,1058.0 L417.7,1058.4 L417.8,1058.8 L417.9,1059.2 L418.0,1059.6 L418.1,1060.0 L418.1,1060.4 L418.2,1060.8 L418.3,1061.1 L418.4,1061.5 L418.5,1061.9 L418.6,1062.3 L418.7,1062.7 L418.8,1063.1 L418.8,1063.5 L418.9,1063.9 L419.0,1064.3 L419.1,1064.7 L419.2,1065.1 L419.3,1065.5 L419.4,1065.9 L419.5,1066.2 L419.6,1066.6 L419.7,1067.0 L419.8,1067.4 L419.9,1067.8 L420.0,1068.2 L420.1,1068.6 L420.2,1069.0 L420.3,1069.4 L420.4,1069.8 L420.5,1070.2 L420.6,1070.6 L420.7,1070.9 L420.8,1071.3 L421.0,1071.7 L421.1,1072.1 L421.2,1072.5 L421.3,1072.9 L421.4,1073.3 L421.5,1073.7 L421.6,1074.1 L421.8,1074.5 L421.9,1074.9 L422.0,1075.3 L422.1,1075.7 L422.2,1076.0 L422.4,1076.4 L422.5,1076.8 L422.6,1077.2 L422.7,1077.6 L422.9,1078.0 L423.0,1078.4 L423.1,1078.8 L423.3,1079.2 L423.4,1079.6 L423.5,1080.0 L423.7,1080.4 L423.8,1080.8 L423.9,1081.1 L424.1,1081.5 L424.2,1081.9 L424.4,1082.3 L424.5,1082.7 L424.6,1083.1 L424.8,1083.5 L424.9,1083.9 L425.1,1084.3 L425.2,1084.7 L425.4,1085.1 L425.5,1085.5 L425.7,1085.9 L425.9,1086.2 L426.0,1086.6 L426.2,1087.0 L426.3,1087.4 L426.5,1087.8 L426.6,1088.2 L426.8,1088.6 L427.0,1089.0 L427.1,1089.4 L427.3,1089.8 L427.5,1090.2 L427.6,1090.6 L427.8,1091.0 L428.0,1091.3 L428.1,1091.7 L428.3,1092.1 L428.5,1092.5 L428.6,1092.9 L428.8,1093.3 L429.0,1093.7 L429.1,1094.1 L429.3,1094.5 L429.5,1094.9 L429.7,1095.3 L429.8,1095.7 L430.0,1096.1 L430.2,1096.4 L430.4,1096.8 L430.5,1097.2 L430.7,1097.6 L430.9,1098.0 L431.1,1098.4 L431.2,1098.8 L431.4,1099.2 L431.6,1099.6 L431.8,1100.0 L432.0,1100.4 L432.1,1100.8 L432.3,1101.2 L432.5,1101.5 L432.7,1101.9 L432.9,1102.3 L433.0,1102.7 L433.2,1103.1 L433.4,1103.5 L433.6,1103.9 L433.8,1104.3 L433.9,1104.7 L434.1,1105.1 L434.3,1105.5 L434.5,1105.9 L434.7,1106.3 L434.8,1106.6 L435.0,1107.0 L435.2,1107.4 L435.4,1107.8 L435.6,1108.2 L435.7,1108.6 L435.9,1109.0 L436.1,1109.4 L436.3,1109.8 L436.5,1110.2 L436.6,1110.6 L436.8,1111.0 L437.0,1111.4 L437.2,1111.7 L437.4,1112.1 L437.5,1112.5 L437.7,1112.9 L437.9,1113.3 L438.1,1113.7 L438.2,1114.1 L438.4,1114.5 L438.6,1114.9 L438.8,1115.3 L438.9,1115.7 L439.1,1116.1 L439.3,1116.5 L439.4,1116.8 L439.6,1117.2 L439.8,1117.6 L439.9,1118.0 L440.1,1118.4 L440.3,1118.8 L440.4,1119.2 L440.6,1119.6 L440.8,1120.0 L440.9,1120.4 L441.1,1120.8 L441.3,1121.2 L441.4,1121.6 L441.6,1121.9 L441.7,1122.3 L441.9,1122.7 L442.1,1123.1 L442.2,1123.5 L442.4,1123.9 L442.5,1124.3 L442.7,1124.7 L442.8,1125.1 L443.0,1125.5 L443.1,1125.9 L443.3,1126.3 L443.5,1126.6 L443.6,1127.0 L443.8,1127.4 L443.9,1127.8 L444.1,1128.2 L444.2,1128.6 L444.4,1129.0 L444.5,1129.4 L444.7,1129.8 L444.8,1130.2 L445.0,1130.6 L445.1,1131.0 L445.2,1131.4 L445.4,1131.7 L445.5,1132.1 L445.7,1132.5 L445.8,1132.9 L446.0,1133.3 L446.1,1133.7 L446.3,1134.1 L446.4,1134.5 L446.6,1134.9 L446.7,1135.3 L446.8,1135.7 L447.0,1136.1 L447.1,1136.5 L447.3,1136.8 L447.4,1137.2 L447.6,1137.6 L447.7,1138.0 L447.9,1138.4 L448.0,1138.8 L448.1,1139.2 L448.3,1139.6 L448.4,1140.0 L448.6,1140.4 L448.7,1140.8 L448.9,1141.2 L449.0,1141.6 L449.1,1141.9 L449.3,1142.3 L449.4,1142.7 L449.6,1143.1 L449.7,1143.5 L449.8,1143.9 L450.0,1144.3 L450.1,1144.7 L450.3,1145.1 L450.4,1145.5 L450.6,1145.9 L450.7,1146.3 L450.9,1146.7 L451.0,1147.0 L451.1,1147.4 L451.3,1147.8 L451.4,1148.2 L451.6,1148.6 L451.7,1149.0 L451.9,1149.4 L452.0,1149.8 L452.2,1150.2 L452.3,1150.6 L452.5,1151.0 L452.6,1151.4 L452.7,1151.8 L452.9,1152.1 L453.0,1152.5 L453.2,1152.9 L453.3,1153.3 L453.5,1153.7 L453.6,1154.1 L453.8,1154.5 L453.9,1154.9 L454.1,1155.3 L454.2,1155.7 L454.4,1156.1 L454.6,1156.5 L454.7,1156.9 L454.9,1157.2 L455.0,1157.6 L455.2,1158.0 L455.3,1158.4 L455.5,1158.8 L455.6,1159.2 L455.8,1159.6 L456.0,1160.0 L456.1,1160.4 L456.3,1160.8 L456.4,1161.2 L456.6,1161.6 L456.8,1162.0 L456.9,1162.3 L457.1,1162.7 L457.3,1163.1 L457.4,1163.5 L457.6,1163.9 L457.8,1164.3 L457.9,1164.7 L458.1,1165.1 L458.3,1165.5 L458.4,1165.9 L458.6,1166.3 L458.8,1166.7 L459.0,1167.1 L459.1,1167.4 L459.3,1167.8 L459.5,1168.2 L459.7,1168.6 L459.9,1169.0 L460.0,1169.4 L460.2,1169.8 L460.4,1170.2 L460.6,1170.6 L460.8,1171.0 L461.0,1171.4 L461.1,1171.8 L461.3,1172.2 L461.5,1172.5 L461.7,1172.9 L461.9,1173.3 L462.1,1173.7 L462.3,1174.1 L462.5,1174.5 L462.7,1174.9 L462.9,1175.3 L463.1,1175.7 L463.3,1176.1 L463.5,1176.5 L463.7,1176.9 L463.9,1177.2 L464.1,1177.6 L464.3,1178.0 L464.5,1178.4 L464.8,1178.8 L465.0,1179.2 L465.2,1179.6 L465.4,1180.0 L465.6,1180.4 L465.8,1180.8 L466.0,1181.2 L466.2,1181.6 L466.5,1182.0 L466.7,1182.3 L466.9,1182.7 L467.1,1183.1 L467.3,1183.5 L467.6,1183.9 L467.8,1184.3 L468.0,1184.7 L468.2,1185.1 L468.4,1185.5 L468.7,1185.9 L468.9,1186.3 L469.1,1186.7 L469.3,1187.1 L469.5,1187.4 L469.8,1187.8 L470.0,1188.2 L470.2,1188.6 L470.4,1189.0 L470.7,1189.4 L470.9,1189.8 L471.1,1190.2 L471.3,1190.6 L471.6,1191.0 L471.8,1191.4 L472.0,1191.8 L472.2,1192.2 L472.4,1192.5 L472.7,1192.9 L472.9,1193.3 L473.1,1193.7 L473.3,1194.1 L473.5,1194.5 L473.8,1194.9 L474.0,1195.3 L474.2,1195.7 L474.4,1196.1 L474.6,1196.5 L474.8,1196.9 L475.1,1197.3 L475.3,1197.6 L475.5,1198.0 L475.7,1198.4 L475.9,1198.8 L476.1,1199.2 L476.3,1199.6 L476.5,1200.0 L476.8,1200.4 L477.0,1200.8 L477.2,1201.2 L477.4,1201.6 L477.6,1202.0 L477.8,1202.4 L478.0,1202.7 L478.2,1203.1 L478.4,1203.5 L478.6,1203.9 L478.8,1204.3 L479.0,1204.7 L479.2,1205.1 L479.4,1205.5 L479.5,1205.9 L479.7,1206.3 L479.9,1206.7 L480.1,1207.1 L480.3,1207.5 L480.5,1207.8 L480.7,1208.2 L480.8,1208.6 L481.0,1209.0 L481.2,1209.4 L481.4,1209.8 L481.6,1210.2 L481.7,1210.6 L481.9,1211.0 L482.1,1211.4 L482.3,1211.8 L482.4,1212.2 L482.6,1212.6 L482.8,1212.9 L483.0,1213.3 L483.1,1213.7 L483.3,1214.1 L483.5,1214.5 L483.6,1214.9 L483.8,1215.3 L484.0,1215.7 L484.1,1216.1 L484.3,1216.5 L484.5,1216.9 L484.6,1217.3 L484.8,1217.7 L484.9,1218.0 L485.1,1218.4 L485.3,1218.8 L485.4,1219.2 L485.6,1219.6 L485.7,1220.0 L485.9,1220.4 L486.0,1220.8 L486.2,1221.2 L486.4,1221.6 L486.5,1222.0 L486.7,1222.4 L486.8,1222.8 L487.0,1223.1 L487.1,1223.5 L487.3,1223.9 L487.4,1224.3 L487.6,1224.7 L487.7,1225.1 L487.9,1225.5 L488.0,1225.9 L488.2,1226.3 L488.3,1226.7 L488.5,1227.1 L488.6,1227.5 L488.8,1227.8 L488.9,1228.2 L489.1,1228.6 L489.2,1229.0 L489.4,1229.4 L489.5,1229.8 L489.7,1230.2 L489.8,1230.6 L490.0,1231.0 L490.1,1231.4 L490.3,1231.8 L490.4,1232.2 L490.6,1232.6 L490.7,1232.9 L490.9,1233.3 L491.0,1233.7 L491.2,1234.1 L491.3,1234.5 L491.5,1234.9 L491.6,1235.3 L491.8,1235.7 L491.9,1236.1 L492.1,1236.5 L492.2,1236.9 L492.4,1237.3 L492.5,1237.7 L492.7,1238.0 L492.8,1238.4 L493.0,1238.8 L493.1,1239.2 L493.3,1239.6 L493.5,1240.0 L493.6,1240.4 L493.8,1240.8 L493.9,1241.2 L494.1,1241.6 L494.2,1242.0 L494.4,1242.4 L494.5,1242.8 L494.7,1243.1 L494.8,1243.5 L495.0,1243.9 L495.2,1244.3 L495.3,1244.7 L495.5,1245.1 L495.6,1245.5 L495.8,1245.9 L496.0,1246.3 L496.1,1246.7 L496.3,1247.1 L496.4,1247.5 L496.6,1247.9 L496.8,1248.2 L496.9,1248.6 L497.1,1249.0 L497.3,1249.4 L497.4,1249.8 L497.6,1250.2 L497.8,1250.6 L497.9,1251.0 L498.1,1251.4 L498.3,1251.8 L498.4,1252.2 L498.6,1252.6 L498.8,1253.0 L499.0,1253.3 L499.1,1253.7 L499.3,1254.1 L499.5,1254.5 L499.7,1254.9 L499.9,1255.3 L500.0,1255.7 L500.2,1256.1 L500.4,1256.5 L500.6,1256.9 L500.8,1257.3 L501.0,1257.7 L501.1,1258.1 L501.3,1258.4 L501.5,1258.8 L501.7,1259.2 L501.9,1259.6 L502.1,1260.0 L502.3,1260.4 L502.5,1260.8 L502.7,1261.2 L502.9,1261.6 L503.1,1262.0 L503.3,1262.4 L503.5,1262.8 L503.7,1263.2 L503.9,1263.5 L504.1,1263.9 L504.3,1264.3 L504.5,1264.7 L504.7,1265.1 L504.9,1265.5 L505.2,1265.9 L505.4,1266.3 L505.6,1266.7 L505.8,1267.1 L506.0,1267.5 L506.3,1267.9 L506.5,1268.3 L506.7,1268.6 L506.9,1269.0 L507.2,1269.4 L507.4,1269.8 L507.6,1270.2 L507.9,1270.6 L508.1,1271.0 L508.3,1271.4 L508.6,1271.8 L508.8,1272.2 L509.1,1272.6 L509.3,1273.0 L509.6,1273.4 L509.8,1273.7 L510.1,1274.1 L510.3,1274.5 L510.6,1274.9 L510.9,1275.3 L511.1,1275.7 L511.4,1276.1 L511.7,1276.5 L511.9,1276.9 L512.2,1277.3 L512.5,1277.7 L512.8,1278.1 L513.0,1278.4 L513.3,1278.8 L513.6,1279.2 L513.9,1279.6 L514.2,1280.0 L514.5,1280.4 L514.8,1280.8 L515.1,1281.2 L515.4,1281.6 L515.6,1282.0 L515.9,1282.4 L516.3,1282.8 L516.6,1283.2 L516.9,1283.5 L517.2,1283.9 L517.5,1284.3 L517.8,1284.7 L518.1,1285.1 L518.4,1285.5 L518.7,1285.9 L519.0,1286.3 L519.4,1286.7 L519.7,1287.1 L520.0,1287.5 L520.3,1287.9 L520.6,1288.3 L521.0,1288.6 L521.3,1289.0 L521.6,1289.4 L521.9,1289.8 L522.3,1290.2 L522.6,1290.6 L522.9,1291.0 L523.3,1291.4 L523.6,1291.8 L523.9,1292.2 L524.3,1292.6 L524.6,1293.0 L524.9,1293.4 L525.3,1293.7 L525.6,1294.1 L525.9,1294.5 L526.3,1294.9 L526.6,1295.3 L527.0,1295.7 L527.3,1296.1 L527.6,1296.5 L528.0,1296.9 L528.3,1297.3 L528.6,1297.7 L529.0,1298.1 L529.3,1298.5 L529.7,1298.8 L530.0,1299.2 L530.3,1299.6 L530.7,1300.0 L531.0,1300.4 L531.3,1300.8 L531.7,1301.2 L532.0,1301.6 L532.4,1302.0 L532.7,1302.4 L533.0,1302.8 L533.4,1303.2 L533.7,1303.6 L534.0,1303.9 L534.4,1304.3 L534.7,1304.7 L535.0,1305.1 L535.3,1305.5 L535.7,1305.9 L536.0,1306.3 L536.3,1306.7 L536.6,1307.1 L537.0,1307.5 L537.3,1307.9 L537.6,1308.3 L537.9,1308.7 L538.3,1309.0 L538.6,1309.4 L538.9,1309.8 L539.2,1310.2 L539.5,1310.6 L539.9,1311.0 L540.2,1311.4 L540.5,1311.8 L540.8,1312.2 L541.1,1312.6 L541.4,1313.0 L541.8,1313.4 L542.1,1313.8 L542.4,1314.1 L542.7,1314.5 L543.0,1314.9 L543.4,1315.3 L543.7,1315.7 L544.0,1316.1 L544.3,1316.5 L544.6,1316.9 L545.0,1317.3 L545.3,1317.7 L545.6,1318.1 L545.9,1318.5 L546.3,1318.9 L546.6,1319.2 L546.9,1319.6 L547.3,1320.0 L547.6,1320.4 L547.9,1320.8 L548.3,1321.2 L548.6,1321.6 L548.9,1322.0 L549.3,1322.4 L549.6,1322.8 L550.0,1323.2 L550.3,1323.6 L550.7,1324.0 L551.0,1324.3 L551.4,1324.7 L551.7,1325.1 L552.1,1325.5 L552.4,1325.9 L552.8,1326.3 L553.2,1326.7 L553.6,1327.1 L553.9,1327.5 L554.3,1327.9 L554.7,1328.3 L555.1,1328.7 L555.5,1329.1 L555.9,1329.4 L556.3,1329.8 L556.7,1330.2 L557.1,1330.6 L557.5,1331.0 L557.9,1331.4 L558.3,1331.8 L558.7,1332.2 L559.1,1332.6 L559.6,1333.0 L560.0,1333.4 L560.4,1333.8 L560.8,1334.1 L561.3,1334.5 L561.7,1334.9 L562.2,1335.3 L562.6,1335.7 L563.1,1336.1 L563.5,1336.5 L564.0,1336.9 L564.4,1337.3 L564.9,1337.7 L565.3,1338.1 L565.8,1338.5 L566.3,1338.9 L566.7,1339.2 L567.2,1339.6 L567.7,1340.0 L568.1,1340.4 L568.6,1340.8 L569.1,1341.2 L569.5,1341.6 L570.0,1342.0 L570.5,1342.4 L571.0,1342.8 L571.4,1343.2 L571.9,1343.6 L572.4,1344.0 L572.9,1344.3 L573.4,1344.7 L573.8,1345.1 L574.3,1345.5 L574.8,1345.9 L575.3,1346.3 L575.8,1346.7 L576.3,1347.1 L576.7,1347.5 L577.2,1347.9 L577.7,1348.3 L578.2,1348.7 L578.6,1349.1 L579.1,1349.4 L579.6,1349.8 L580.1,1350.2 L580.5,1350.6 L581.0,1351.0 L581.5,1351.4 L581.9,1351.8 L582.4,1352.2 L582.9,1352.6 L583.3,1353.0 L583.8,1353.4 L584.3,1353.8 L584.7,1354.2 L585.2,1354.5 L585.7,1354.9 L586.1,1355.3 L586.6,1355.7 L587.0,1356.1 L587.5,1356.5 L588.0,1356.9 L588.4,1357.3 L588.9,1357.7 L589.4,1358.1 L589.8,1358.5 L590.3,1358.9 L590.8,1359.3 L591.2,1359.6 L591.7,1360.0 L592.2,1360.4 L592.6,1360.8 L593.1,1361.2 L593.6,1361.6 L594.0,1362.0 L594.5,1362.4 L595.0,1362.8 L595.5,1363.2 L596.0,1363.6 L596.4,1364.0 L596.9,1364.4 L597.4,1364.7 L597.9,1365.1 L598.4,1365.5 L598.9,1365.9 L599.4,1366.3 L599.9,1366.7 L600.4,1367.1 L600.9,1367.5 L601.4,1367.9 L601.9,1368.3 L602.5,1368.7 L603.0,1369.1 L603.5,1369.5 L604.1,1369.8 L604.6,1370.2 L605.1,1370.6 L605.7,1371.0 L606.3,1371.4 L606.8,1371.8 L607.4,1372.2 L607.9,1372.6 L608.5,1373.0 L609.1,1373.4 L609.7,1373.8 L610.3,1374.2 L610.9,1374.6 L611.5,1374.9 L612.0,1375.3 L612.6,1375.7 L613.3,1376.1 L613.9,1376.5 L614.5,1376.9 L615.1,1377.3 L615.7,1377.7 L616.3,1378.1 L616.9,1378.5 L617.5,1378.9 L618.1,1379.3 L618.8,1379.7 L619.4,1380.0 L620.0,1380.4 L620.6,1380.8 L621.2,1381.2 L621.9,1381.6 L622.5,1382.0 L623.1,1382.4 L623.7,1382.8 L624.3,1383.2 L624.9,1383.6 L625.5,1384.0 L626.1,1384.4 L626.7,1384.7 L627.3,1385.1 L627.9,1385.5 L628.5,1385.9 L629.1,1386.3 L629.7,1386.7 L630.3,1387.1 L630.9,1387.5 L631.4,1387.9 L632.0,1388.3 L632.6,1388.7 L633.1,1389.1 L633.7,1389.5 L634.2,1389.8 L634.8,1390.2 L635.3,1390.6 L635.8,1391.0 L636.4,1391.4 L636.9,1391.8 L637.4,1392.2 L637.9,1392.6 L638.4,1393.0 L638.9,1393.4 L639.4,1393.8 L639.9,1394.2 L640.4,1394.6 L640.9,1394.9 L641.4,1395.3 L641.8,1395.7 L642.3,1396.1 L642.7,1396.5 L643.2,1396.9 L643.6,1397.3 L644.1,1397.7 L644.5,1398.1 L644.9,1398.5 L645.4,1398.9" stroke="#ff0000"/>
<path d="M127.1,1441.1 L127.7,1440.7 L128.4,1440.2 L129.0,1439.8 L129.7,1439.4 L130.3,1439.0 L130.9,1438.6 L131.5,1438.1 L132.1,1437.7 L132.7,1437.3 L133.3,1436.9 L133.8,1436.5 L134.4,1436.0 L134.9,1435.6 L135.5,1435.2 L136.0,1434.8 L136.5,1434.4 L137.0,1433.9 L137.5,1433.5 L138.0,1433.1 L138.5,1432.7 L139.0,1432.3 L139.5,1431.8 L140.0,1431.4 L140.4,1431.0 L140.9,1430.6 L141.4,1430.1 L141.8,1429.7 L142.2,1429.3 L142.7,1428.9 L143.1,1428.5 L143.5,1428.0 L144.0,1427.6 L144.4,1427.2 L144.8,1426.8 L145.2,1426.4 L145.6,1425.9 L146.0,1425.5 L146.4,1425.1 L146.8,1424.7 L147.2,1424.3 L147.6,1423.8 L148.0,1423.4 L148.3,1423.0 L148.7,1422.6 L149.1,1422.1 L149.5,1421.7 L149.8,1421.3 L150.2,1420.9 L150.6,1420.5 L150.9,1420.0 L151.3,1419.6 L151.6,1419.2 L152.0,1418.8 L152.3,1418.4 L152.7,1417.9 L153.0,1417.5 L153.3,1417.1 L153.7,1416.7 L154.0,1416.3 L154.3,1415.8 L154.7,1415.4 L155.0,1415.0 L155.3,1414.6 L155.6,1414.2 L156.0,1413.7 L156.3,1413.3 L156.6,1412.9 L156.9,1412.5 L157.2,1412.0 L157.5,1411.6 L157.9,1411.2 L158.2,1410.8 L158.5,1410.4 L158.8,1409.9 L159.1,1409.5 L159.4,1409.1 L159.7,1408.7 L160.0,1408.3 L160.3,1407.8 L160.6,1407.4 L160.9,1407.0 L161.2,1406.6 L161.5,1406.2 L161.8,1405.7 L162.0,1405.3 L162.3,1404.9 L162.6,1404.5 L162.9,1404.0 L163.2,1403.6 L163.5,1403.2 L163.8,1402.8 L164.1,1402.4 L164.4,1401.9 L164.6,1401.5 L164.9,1401.1 L165.2,1400.7 L165.5,1400.3 L165.8,1399.8 L166.0,1399.4 L166.3,1399.0 L166.6,1398.6 L166.9,1398.2 L167.2,1397.7 L167.4,1397.3 L167.7,1396.9 L168.0,1396.5 L168.3,1396.1 L168.6,1395.6 L168.8,1395.2 L169.1,1394.8 L169.4,1394.4 L169.7,1393.9 L169.9,1393.5 L170.2,1393.1 L170.5,1392.7 L170.8,1392.3 L171.0,1391.8 L171.3,1391.4 L171.6,1391.0 L171.9,1390.6 L172.1,1390.2 L172.4,1389.7 L172.7,1389.3 L173.0,1388.9 L173.3,1388.5 L173.5,1388.1 L173.8,1387.6 L174.1,1387.2 L174.4,1386.8 L174.6,1386.4 L174.9,1386.0 L175.2,1385.5 L175.5,1385.1 L175.7,1384.7 L176.0,1384.3 L176.3,1383.8 L176.5,1383.4 L176.8,1383.0 L177.1,1382.6 L177.4,1382.2 L177.6,1381.7 L177.9,1381.3 L178.2,1380.9 L178.5,1380.5 L178.7,1380.1 L179.0,1379.6 L179.3,1379.2 L179.6,1378.8 L179.8,1378.4 L180.1,1378.0 L180.4,1377.5 L180.6,1377.1 L180.9,1376.7 L181.2,1376.3 L181.5,1375.8 L181.7,1375.4 L182.0,1375.0 L182.3,1374.6 L182.5,1374.2 L182.8,1373.7 L183.1,1373.3 L183.4,1372.9 L183.6,1372.5 L183.9,1372.1 L184.2,1371.6 L184.4,1371.2 L184.7,1370.8 L185.0,1370.4 L185.2,1370.0 L185.5,1369.5 L185.8,1369.1 L186.0,1368.7 L186.3,1368.3 L186.6,1367.9 L186.8,1367.4 L187.1,1367.0 L187.4,1366.6 L187.6,1366.2 L187.9,1365.7 L188.2,1365.3 L188.4,1364.9 L188.7,1364.5 L189.0,1364.1 L189.2,1363.6 L189.5,1363.2 L189.7,1362.8 L190.0,1362.4 L190.3,1362.0 L190.5,1361.5 L190.8,1361.1 L191.1,1360.7 L191.3,1360.3 L191.6,1359.9 L191.8,1359.4 L192.1,1359.0 L192.4,1358.6 L192.6,1358.2 L192.9,1357.7 L193.1,1357.3 L193.4,1356.9 L193.7,1356.5 L193.9,1356.1 L194.2,1355.6 L194.4,1355.2 L194.7,1354.8 L195.0,1354.4 L195.2,1354.0 L195.5,1353.5 L195.7,1353.1 L196.0,1352.7 L196.2,1352.3 L196.5,1351.9 L196.7,1351.4 L197.0,1351.0 L197.2,1350.6 L197.5,1350.2 L197.8,1349.8 L198.0,1349.3 L198.3,1348.9 L198.5,1348.5 L198.8,1348.1 L199.0,1347.6 L199.3,1347.2 L199.5,1346.8 L199.8,1346.4 L200.0,1346.0 L200.3,1345.5 L200.5,1345.1 L200.8,1344.7 L201.0,1344.3 L201.2,1343.9 L201.5,1343.4 L201.7,1343.0 L202.0,1342.6 L202.2,1342.2 L202.5,1341.8 L202.7,1341.3 L203.0,1340.9 L203.2,1340.5 L203.4,1340.1 L203.7,1339.7 L203.9,1339.2 L204.2,1338.8 L204.4,1338.4 L204.7,1338.0 L204.9,1337.5 L205.1,1337.1 L205.4,1336.7 L205.6,1336.3 L205.9,1335.9 L206.1,1335.4 L206.3,1335.0 L206.6,1334.6 L206.8,1334.2 L207.0,1333.8 L207.3,1333.3 L207.5,1332.9 L207.7,1332.5 L208.0,1332.1 L208.2,1331.7 L208.4,1331.2 L208.7,1330.8 L208.9,1330.4 L209.1,1330.0 L209.4,1329.5 L209.6,1329.1 L209.8,1328.7 L210.1,1328.3 L210.3,1327.9 L210.5,1327.4 L210.7,1327.0 L211.0,1326.6 L211.2,1326.2 L211.4,1325.8 L211.7,1325.3 L211.9,1324.9 L212.1,1324.5 L212.3,1324.1 L212.6,1323.7 L212.8,1323.2 L213.0,1322.8 L213.2,1322.4 L213.5,1322.0 L213.7,1321.6 L213.9,1321.1 L214.1,1320.7 L214.4,1320.3 L214.6,1319.9 L214.8,1319.4 L215.0,1319.0 L215.2,1318.6 L215.5,1318.2 L215.7,1317.8 L215.9,1317.3 L216.1,1316.9 L216.3,1316.5 L216.6,1316.1 L216.8,1315.7 L217.0,1315.2 L217.2,1314.8 L217.4,1314.4 L217.6,1314.0 L217.9,1313.6 L218.1,1313.1 L218.3,1312.7 L218.5,1312.3 L218.7,1311.9 L218.9,1311.5 L219.1,1311.0 L219.4,1310.6 L219.6,1310.2 L219.8,1309.8 L220.0,1309.3 L220.2,1308.9 L220.4,1308.5 L220.6,1308.1 L220.8,1307.7 L221.0,1307.2 L221.3,1306.8 L221.5,1306.4 L221.7,1306.0 L221.9,1305.6 L222.1,1305.1 L222.3,1304.7 L222.5,1304.3 L222.7,1303.9 L222.9,1303.5 L223.1,1303.0 L223.3,1302.6 L223.5,1302.2 L223.7,1301.8 L224.0,1301.3 L224.2,1300.9 L224.4,1300.5 L224.6,1300.1 L224.8,1299.7 L225.0,1299.2 L225.2,1298.8 L225.4,1298.4 L225.6,1298.0 L225.8,1297.6 L226.0,1297.1 L226.2,1296.7 L226.4,1296.3 L226.6,1295.9 L226.8,1295.5 L227.0,1295.0 L227.2,1294.6 L227.4,1294.2 L227.6,1293.8 L227.8,1293.4 L228.0,1292.9 L228.2,1292.5 L228.4,1292.1 L228.6,1291.7 L228.8,1291.2 L229.0,1290.8 L229.2,1290.4 L229.4,1290.0 L229.6,1289.6 L229.8,1289.1 L230.0,1288.7 L230.2,1288.3 L230.4,1287.9 L230.6,1287.5 L230.7,1287.0 L230.9,1286.6 L231.1,1286.2 L231.3,1285.8 L231.5,1285.4 L231.7,1284.9 L231.9,1284.5 L232.1,1284.1 L232.3,1283.7 L232.5,1283.2 L232.7,1282.8 L232.9,1282.4 L233.1,1282.0 L233.3,1281.6 L233.4,1281.1 L233.6,1280.7 L233.8,1280.3 L234.0,1279.9 L234.2,1279.5 L234.4,1279.0 L234.6,1278.6 L234.8,1278.2 L235.0,1277.8 L235.1,1277.4 L235.3,1276.9 L235.5,1276.5 L235.7,1276.1 L235.9,1275.7 L236.1,1275.3 L236.3,1274.8 L236.5,1274.4 L236.6,1274.0 L236.8,1273.6 L237.0,1273.1 L237.2,1272.7 L237.4,1272.3 L237.6,1271.9 L237.8,1271.5 L237.9,1271.0 L238.1,1270.6 L238.3,1270.2 L238.5,1269.8 L238.7,1269.4 L238.9,1268.9 L239.0,1268.5 L239.2,1268.1 L239.4,1267.7 L239.6,1267.3 L239.8,1266.8 L239.9,1266.4 L240.1,1266.0 L240.3,1265.6 L240.5,1265.2 L240.7,1264.7 L240.9,1264.3 L241.0,1263.9 L241.2,1263.5 L241.4,1263.0 L241.6,1262.6 L241.8,1262.2 L241.9,1261.8 L242.1,1261.4 L242.3,1260.9 L242.5,1260.5 L242.6,1260.1 L242.8,1259.7 L243.0,1259.3 L243.2,1258.8 L243.4,1258.4 L243.5,1258.0 L243.7,1257.6 L243.9,1257.2 L244.1,1256.7 L244.2,1256.3 L244.4,1255.9 L244.6,1255.5 L244.8,1255.0 L244.9,1254.6 L245.1,1254.2 L245.3,1253.8 L245.5,1253.4 L245.6,1252.9 L245.8,1252.5 L246.0,1252.1 L246.2,1251.7 L246.3,1251.3 L246.5,1250.8 L246.7,1250.4 L246.9,1250.0 L247.0,1249.6 L247.2,1249.2 L247.4,1248.7 L247.5,1248.3 L247.7,1247.9 L247.9,1247.5 L248.1,1247.1 L248.2,1246.6 L248.4,1246.2 L248.6,1245.8 L248.7,1245.4 L248.9,1244.9 L249.1,1244.5 L249.3,1244.1 L249.4,1243.7 L249.6,1243.3 L249.8,1242.8 L249.9,1242.4 L250.1,1242.0 L250.3,1241.6 L250.4,1241.2 L250.6,1240.7 L250.8,1240.3 L251.0,1239.9 L251.1,1239.5 L251.3,1239.1 L251.5,1238.6 L251.6,1238.2 L251.8,1237.8 L252.0,1237.4 L252.1,1236.9 L252.3,1236.5 L252.5,1236.1 L252.6,1235.7 L252.8,1235.3 L253.0,1234.8 L253.1,1234.4 L253.3,1234.0 L253.5,1233.6 L253.6,1233.2 L253.8,1232.7 L254.0,1232.3 L254.1,1231.9 L254.3,1231.5 L254.5,1231.1 L254.6,1230.6 L254.8,1230.2 L255.0,1229.8 L255.1,1229.4 L255.3,1229.0 L255.4,1228.5 L255.6,1228.1 L255.8,1227.7 L255.9,1227.3 L256.1,1226.8 L256.3,1226.4 L256.4,1226.0 L256.6,1225.6 L256.8,1225.2 L256.9,1224.7 L257.1,1224.3 L257.2,1223.9 L257.4,1223.5 L257.6,1223.1 L257.7,1222.6 L257.9,1222.2 L258.1,1221.8 L258.2,1221.4 L258.4,1221.0 L258.5,1220.5 L258.7,1220.1 L258.9,1219.7 L259.0,1219.3 L259.2,1218.9 L259.3,1218.4 L259.5,1218.0 L259.7,1217.6 L259.8,1217.2 L260.0,1216.7 L260.2,1216.3 L260.3,1215.9 L260.5,1215.5 L260.6,1215.1 L260.8,1214.6 L261.0,1214.2 L261.1,1213.8 L261.3,1213.4 L261.4,1213.0 L261.6,1212.5 L261.8,1212.1 L261.9,1211.7 L262.1,1211.3 L262.2,1210.9 L262.4,1210.4 L262.5,1210.0 L262.7,1209.6 L262.9,1209.2 L263.0,1208.7 L263.2,1208.3 L263.3,1207.9 L263.5,1207.5 L263.7,1207.1 L263.8,1206.6 L264.0,1206.2 L264.1,1205.8 L264.3,1205.4 L264.4,1205.0 L264.6,1204.5 L264.8,1204.1 L264.9,1203.7 L265.1,1203.3 L265.2,1202.9 L265.4,1202.4 L265.5,1202.0 L265.7,1201.6 L265.9,1201.2 L266.0,1200.8 L266.2,1200.3 L266.3,1199.9 L266.5,1199.5 L266.6,1199.1 L266.8,1198.6 L266.9,1198.2 L267.1,1197.8 L267.3,1197.4 L267.4,1197.0 L267.6,1196.5 L267.7,1196.1 L267.9,1195.7 L268.0,1195.3 L268.2,1194.9 L268.4,1194.4 L268.5,1194.0 L268.7,1193.6 L268.8,1193.2 L269.0,1192.8 L269.1,1192.3 L269.3,1191.9 L269.4,1191.5 L269.6,1191.1 L269.7,1190.7 L269.9,1190.2 L270.1,1189.8 L270.2,1189.4 L270.4,1189.0 L270.5,1188.5 L270.7,1188.1 L270.8,1187.7 L271.0,1187.3 L271.1,1186.9 L271.3,1186.4 L271.4,1186.0 L271.6,1185.6 L271.8,1185.2 L271.9,1184.8 L272.1,1184.3 L272.2,1183.9 L272.4,1183.5 L272.5,1183.1 L272.7,1182.7 L272.8,1182.2 L273.0,1181.8 L273.1,1181.4 L273.3,1181.0 L273.4,1180.5 L273.6,1180.1 L273.7,1179.7 L273.9,1179.3 L274.1,1178.9 L274.2,1178.4 L274.4,1178.0 L274.5,1177.6 L274.7,1177.2 L274.8,1176.8 L275.0,1176.3 L275.1,1175.9 L275.3,1175.5 L275.4,1175.1 L275.6,1174.7 L275.7,1174.2 L275.9,1173.8 L276.0,1173.4 L276.2,1173.0 L276.3,1172.6 L276.5,1172.1 L276.7,1171.7 L276.8,1171.3 L277.0,1170.9 L277.1,1170.4 L277.3,1170.0 L277.4,1169.6 L277.6,1169.2 L277.7,1168.8 L277.9,1168.3 L278.0,1167.9 L278.2,1167.5 L278.3,1167.1 L278.5,1166.7 L278.6,1166.2 L278.8,1165.8 L278.9,1165.4 L279.1,1165.0 L279.2,1164.6 L279.4,1164.1 L279.5,1163.7 L279.7,1163.3 L279.8,1162.9 L280.0,1162.4 L280.2,1162.0 L280.3,1161.6 L280.5,1161.2 L280.6,1160.8 L280.8,1160.3 L280.9,1159.9 L281.1,1159.5 L281.2,1159.1 L281.4,1158.7 L281.5,1158.2 L281.7,1157.8 L281.8,1157.4 L282.0,1157.0 L282.1,1156.6 L282.3,1156.1 L282.4,1155.7 L282.6,1155.3 L282.7,1154.9 L282.9,1154.5 L283.0,1154.0 L283.2,1153.6 L283.3,1153.2 L283.5,1152.8 L283.6,1152.3 L283.8,1151.9 L283.9,1151.5 L284.1,1151.1 L284.2,1150.7 L284.4,1150.2 L284.5,1149.8 L284.7,1149.4 L284.9,1149.0 L285.0,1148.6 L285.2,1148.1 L285.3,1147.7 L285.5,1147.3 L285.6,1146.9 L285.8,1146.5 L285.9,1146.0 L286.1,1145.6 L286.2,1145.2 L286.4,1144.8 L286.5,1144.4 L286.7,1143.9 L286.8,1143.5 L287.0,1143.1 L287.1,1142.7 L287.3,1142.2 L287.4,1141.8 L287.6,1141.4 L287.7,1141.0 L287.9,1140.6 L288.0,1140.1 L288.2,1139.7 L288.3,1139.3 L288.5,1138.9 L288.6,1138.5 L288.8,1138.0 L288.9,1137.6 L289.1,1137.2 L289.2,1136.8 L289.4,1136.4 L289.5,1135.9 L289.7,1135.5 L289.8,1135.1 L290.0,1134.7 L290.1,1134.2 L290.3,1133.8 L290.4,1133.4 L290.6,1133.0 L290.7,1132.6 L290.9,1132.1 L291.0,1131.7 L291.2,1131.3 L291.3,1130.9 L291.5,1130.5 L291.6,1130.0 L291.8,1129.6 L291.9,1129.2 L292.1,1128.8 L292.2,1128.4 L292.4,1127.9 L292.5,1127.5 L292.7,1127.1 L292.8,1126.7 L293.0,1126.3 L293.1,1125.8 L293.3,1125.4 L293.4,1125.0 L293.6,1124.6 L293.7,1124.1 L293.9,1123.7 L294.0,1123.3 L294.2,1122.9 L294.3,1122.5 L294.5,1122.0 L294.6,1121.6 L294.8,1121.2 L294.9,1120.8 L295.1,1120.4 L295.2,1119.9 L295.4,1119.5 L295.5,1119.1 L295.6,1118.7 L295.8,1118.3 L295.9,1117.8 L296.1,1117.4 L296.2,1117.0 L296.4,1116.6 L296.5,1116.1 L296.7,1115.7 L296.8,1115.3 L297.0,1114.9 L297.1,1114.5 L297.3,1114.0 L297.4,1113.6 L297.6,1113.2 L297.7,1112.8 L297.9,1112.4 L298.0,1111.9 L298.2,1111.5 L298.3,1111.1 L298.5,1110.7 L298.6,1110.3 L298.8,1109.8 L298.9,1109.4 L299.1,1109.0 L299.2,1108.6 L299.4,1108.2 L299.5,1107.7 L299.6,1107.3 L299.8,1106.9 L299.9,1106.5 L300.1,1106.0 L300.2,1105.6 L300.4,1105.2 L300.5,1104.8 L300.7,1104.4 L300.8,1103.9 L301.0,1103.5 L301.1,1103.1 L301.3,1102.7 L301.4,1102.3 L301.6,1101.8 L301.7,1101.4 L301.9,1101.0 L302.0,1100.6 L302.1,1100.2 L302.3,1099.7 L302.4,1099.3 L302.6,1098.9 L302.7,1098.5 L302.9,1098.1 L303.0,1097.6 L303.2,1097.2 L303.3,1096.8 L303.5,1096.4 L303.6,1095.9 L303.8,1095.5 L303.9,1095.1 L304.1,1094.7 L304.2,1094.3 L304.3,1093.8 L304.5,1093.4 L304.6,1093.0 L304.8,1092.6 L304.9,1092.2 L305.1,1091.7 L305.2,1091.3 L305.4,1090.9 L305.5,1090.5 L305.7,1090.1 L305.8,1089.6 L306.0,1089.2 L306.1,1088.8 L306.2,1088.4 L306.4,1087.9 L306.5,1087.5 L306.7,1087.1 L306.8,1086.7 L307.0,1086.3 L307.1,1085.8 L307.3,1085.4 L307.4,1085.0 L307.5,1084.6 L307.7,1084.2 L307.8,1083.7 L308.0,1083.3 L308.1,1082.9 L308.3,1082.5 L308.4,1082.1 L308.6,1081.6 L308.7,1081.2 L308.9,1080.8 L309.0,1080.4 L309.1,1080.0 L309.3,1079.5 L309.4,1079.1 L309.6,1078.7 L309.7,1078.3 L309.9,1077.8 L310.0,1077.4 L310.2,1077.0 L310.3,1076.6 L310.4,1076.2 L310.6,1075.7 L310.7,1075.3 L310.9,1074.9 L311.0,1074.5 L311.2,1074.1 L311.3,1073.6 L311.4,1073.2 L311.6,1072.8 L311.7,1072.4 L311.9,1072.0 L312.0,1071.5 L312.2,1071.1 L312.3,1070.7 L312.5,1070.3 L312.6,1069.9 L312.7,1069.4 L312.9,1069.0 L313.0,1068.6 L313.2,1068.2 L313.3,1067.7 L313.5,1067.3 L313.6,1066.9 L313.7,1066.5 L313.9,1066.1 L314.0,1065.6 L314.2,1065.2 L314.3,1064.8 L314.5,1064.4 L314.6,1064.0 L314.7,1063.5 L314.9,1063.1 L315.0,1062.7 L315.2,1062.3 L315.3,1061.9 L315.4,1061.4 L315.6,1061.0 L315.7,1060.6 L315.9,1060.2 L316.0,1059.7 L316.2,1059.3 L316.3,1058.9 L316.4,1058.5 L316.6,1058.1 L316.7,1057.6 L316.9,1057.2 L317.0,1056.8 L317.1,1056.4 L317.3,1056.0 L317.4,1055.5 L317.6,1055.1 L317.7,1054.7 L317.9,1054.3 L318.0,1053.9 L318.1,1053.4 L318.3,1053.0 L318.4,1052.6 L318.6,1052.2 L318.7,1051.8 L318.8,1051.3 L319.0,1050.9 L319.1,1050.5 L319.3,1050.1 L319.4,1049.6 L319.5,1049.2 L319.7,1048.8 L319.8,1048.4 L320.0,1048.0 L320.1,1047.5 L320.2,1047.1 L320.4,1046.7 L320.5,1046.3 L320.7,1045.9 L320.8,1045.4 L320.9,1045.0 L321.1,1044.6 L321.2,1044.2 L321.4,1043.8 L321.5,1043.3 L321.6,1042.9 L321.8,1042.5 L321.9,1042.1 L322.1,1041.6 L322.2,1041.2 L322.3,1040.8 L322.5,1040.4 L322.6,1040.0 L322.8,1039.5 L322.9,1039.1 L323.0,1038.7 L323.2,1038.3 L323.3,1037.9 L323.5,1037.4 L323.6,1037.0 L323.7,1036.6 L323.9,1036.2 L324.0,1035.8 L324.1,1035.3 L324.3,1034.9 L324.4,1034.5 L324.6,1034.1 L324.7,1033.7 L324.8,1033.2 L325.0,1032.8 L325.1,1032.4 L325.3,1032.0 L325.4,1031.5 L325.5,1031.1 L325.7,1030.7 L325.8,1030.3 L325.9,1029.9 L326.1,1029.4 L326.2,1029.0 L326.4,1028.6 L326.5,1028.2 L326.6,1027.8 L326.8,1027.3 L326.9,1026.9 L327.0,1026.5 L327.2,1026.1 L327.3,1025.7 L327.4,1025.2 L327.6,1024.8 L327.7,1024.4 L327.9,1024.0 L328.0,1023.6 L328.1,1023.1 L328.3,1022.7 L328.4,1022.3 L328.5,1021.9 L328.7,1021.4 L328.8,1021.0 L328.9,1020.6 L329.1,1020.2 L329.2,1019.8 L329.4,1019.3 L329.5,1018.9 L329.6,1018.5 L329.8,1018.1 L329.9,1017.7 L330.0,1017.2 L330.2,1016.8 L330.3,1016.4 L330.4,1016.0 L330.6,1015.6 L330.7,1015.1 L330.8,1014.7 L331.0,1014.3 L331.1,1013.9 L331.2,1013.4 L331.4,1013.0 L331.5,1012.6 L331.7,1012.2 L331.8,1011.8 L331.9,1011.3 L332.1,1010.9 L332.2,1010.5 L332.3,1010.1 L332.5,1009.7 L332.6,1009.2 L332.7,1008.8 L332.9,1008.4 L333.0,1008.0 L333.1,1007.6 L333.3,1007.1 L333.4,1006.7 L333.5,1006.3 L333.7,1005.9 L333.8,1005.5 L333.9,1005.0 L334.1,1004.6 L334.2,1004.2 L334.3,1003.8 L334.5,1003.3 L334.6,1002.9 L334.7,1002.5 L334.9,1002.1 L335.0,1001.7 L335.1,1001.2 L335.3,1000.8 L335.4,1000.4 L335.5,1000.0 L335.7,999.6 L335.8,999.1 L335.9,998.7 L336.1,998.3 L336.2,997.9 L336.3,997.5 L336.5,997.0 L336.6,996.6 L336.7,996.2 L336.8,995.8 L337.0,995.3 L337.1,994.9 L337.2,994.5 L337.4,994.1 L337.5,993.7 L337.6,993.2 L337.8,992.8 L337.9,992.4 L338.0,992.0 L338.2,991.6 L338.3,991.1 L338.4,990.7 L338.6,990.3 L338.7,989.9 L338.8,989.5 L338.9,989.0 L339.1,988.6 L339.2,988.2 L339.3,987.8 L339.5,987.4 L339.6,986.9 L339.7,986.5 L339.9,986.1 L340.0,985.7 L340.1,985.2 L340.2,984.8 L340.4,984.4 L340.5,984.0 L340.6,983.6 L340.8,983.1 L340.9,982.7 L341.0,982.3 L341.2,981.9 L341.3,981.5 L341.4,981.0 L341.5,980.6 L341.7,980.2 L341.8,979.8 L341.9,979.4 L342.1,978.9 L342.2,978.5 L342.3,978.1 L342.4,977.7 L342.6,977.3 L342.7,976.8 L342.8,976.4 L343.0,976.0 L343.1,975.6 L343.2,975.1 L343.3,974.7 L343.5,974.3 L343.6,973.9 L343.7,973.5 L343.8,973.0 L344.0,972.6 L344.1,972.2 L344.2,971.8 L344.4,971.4 L344.5,970.9 L344.6,970.5 L344.7,970.1 L344.9,969.7 L345.0,969.3 L345.1,968.8 L345.2,968.4 L345.4,968.0 L345.5,967.6 L345.6,967.1 L345.8,966.7 L345.9,966.3 L346.0,965.9 L346.1,965.5 L346.3,965.0 L346.4,964.6 L346.5,964.2 L346.6,963.8 L346.8,963.4 L346.9,962.9 L347.0,962.5 L347.1,962.1 L347.3,961.7 L347.4,961.3 L347.5,960.8 L347.6,960.4 L347.8,960.0 L347.9,959.6 L348.0,959.2 L348.1,958.7 L348.3,958.3 L348.4,957.9 L348.5,957.5 L348.6,957.0 L348.8,956.6 L348.9,956.2 L349.0,955.8 L349.1,955.4 L349.3,954.9 L349.4,954.5 L349.5,954.1 L349.6,953.7 L349.7,953.3 L349.9,952.8 L350.0,952.4 L350.1,952.0 L350.2,951.6 L350.4,951.2 L350.5,950.7 L350.6,950.3 L350.7,949.9 L350.8,949.5 L351.0,949.1 L351.1,948.6 L351.2,948.2 L351.3,947.8 L351.5,947.4 L351.6,946.9 L351.7,946.5 L351.8,946.1 L351.9,945.7 L352.1,945.3 L352.2,944.8 L352.3,944.4 L352.4,944.0 L352.5,943.6 L352.7,943.2 L352.8,942.7 L352.9,942.3 L353.0,941.9 L353.1,941.5 L353.3,941.1 L353.4,940.6 L353.5,940.2 L353.6,939.8 L353.7,939.4 L353.8,938.9 L354.0,938.5 L354.1,938.1 L354.2,937.7 L354.3,937.3 L354.4,936.8 L354.5,936.4 L354.7,936.0 L354.8,935.6 L354.9,935.2 L355.0,934.7 L355.1,934.3 L355.2,933.9 L355.4,933.5 L355.5,933.1 L355.6,932.6 L355.7,932.2 L355.8,931.8 L355.9,931.4 L356.0,931.0 L356.1,930.5 L356.3,930.1 L356.4,929.7 L356.5,929.3 L356.6,928.8 L356.7,928.4 L356.8,928.0 L356.9,927.6 L357.0,927.2 L357.2,926.7 L357.3,926.3 L357.4,925.9 L357.5,925.5 L357.6,925.1 L357.7,924.6 L357.8,924.2 L357.9,923.8 L358.0,923.4 L358.1,923.0 L358.3,922.5 L358.4,922.1 L358.5,921.7 L358.6,921.3 L358.7,920.8 L358.8,920.4 L358.9,920.0 L359.0,919.6 L359.1,919.2 L359.2,918.7 L359.3,918.3 L359.4,917.9 L359.5,917.5 L359.6,917.1 L359.7,916.6 L359.9,916.2 L360.0,915.8 L360.1,915.4 L360.2,915.0 L360.3,914.5 L360.4,914.1 L360.5,913.7 L360.6,913.3 L360.7,912.9 L360.8,912.4 L360.9,912.0 L361.0,911.6 L361.1,911.2 L361.2,910.7 L361.3,910.3 L361.4,909.9 L361.5,909.5 L361.6,909.1 L361.7,908.6 L361.8,908.2 L361.9,907.8 L362.0,907.4 L362.1,907.0 L362.2,906.5 L362.3,906.1 L362.4,905.7 L362.5,905.3 L362.6,904.9 L362.6,904.4 L362.7,904.0 L362.8,903.6 L362.9,903.2 L363.0,902.8 L363.1,902.3 L363.2,901.9 L363.3,901.5 L363.4,901.1 L363.5,900.6 L363.6,900.2 L363.7,899.8 L363.8,899.4 L363.9,899.0 L364.0,898.5 L364.0,898.1 L364.1,897.7 L364.2,897.3 L364.3,896.9 L364.4,896.4 L364.5,896.0 L364.6,895.6 L364.7,895.2 L364.7,894.8 L364.8,894.3 L364.9,893.9 L365.0,893.5 L365.1,893.1 L365.2,892.6 L365.3,892.2 L365.3,891.8 L365.4,891.4 L365.5,891.0 L365.6,890.5 L365.7,890.1 L365.8,889.7 L365.8,889.3 L365.9,888.9 L366.0,888.4 L366.1,888.0 L366.2,887.6 L366.3,887.2 L366.3,886.8 L366.4,886.3 L366.5,885.9 L366.6,885.5 L366.7,885.1 L366.7,884.7 L366.8,884.2 L366.9,883.8 L367.0,883.4 L367.0,883.0 L367.1,882.5 L367.2,882.1 L367.3,881.7 L367.4,881.3 L367.4,880.9 L367.5,880.4 L367.6,880.0 L367.7,879.6 L367.7,879.2 L367.8,878.8 L367.9,878.3 L368.0,877.9 L368.0,877.5 L368.1,877.1 L368.2,876.7 L368.3,876.2 L368.3,875.8 L368.4,875.4 L368.5,875.0 L368.6,874.5 L368.6,874.1 L368.7,873.7 L368.8,873.3 L368.9,872.9 L368.9,872.4 L369.0,872.0 L369.1,871.6 L369.2,871.2 L369.2,870.8 L369.3,870.3 L369.4,869.9 L369.5,869.5 L369.5,869.1 L369.6,868.7 L369.7,868.2 L369.8,867.8 L369.8,867.4 L369.9,867.0 L370.0,866.6 L370.1,866.1 L370.1,865.7 L370.2,865.3 L370.3,864.9 L370.4,864.4 L370.5,864.0 L370.5,863.6 L370.6,863.2 L370.7,862.8 L370.8,862.3 L370.8,861.9 L370.9,861.5 L371.0,861.1 L371.1,860.7 L371.2,860.2 L371.2,859.8 L371.3,859.4 L371.4,859.0 L371.5,858.6 L371.6,858.1 L371.6,857.7 L371.7,857.3 L371.8,856.9 L371.9,856.5 L372.0,856.0 L372.1,855.6 L372.1,855.2 L372.2,854.8 L372.3,854.3 L372.4,853.9 L372.5,853.5 L372.6,853.1 L372.6,852.7 L372.7,852.2 L372.8,851.8 L372.9,851.4 L373.0,851.0 L373.1,850.6 L373.2,850.1 L373.3,849.7 L373.4,849.3 L373.4,848.9 L373.5,848.5 L373.6,848.0 L373.7,847.6 L373.8,847.2 L373.9,846.8 L374.0,846.3 L374.1,845.9 L374.2,845.5 L374.3,845.1 L374.4,844.7 L374.5,844.2 L374.6,843.8 L374.7,843.4 L374.8,843.0 L374.9,842.6 L375.0,842.1 L375.1,841.7 L375.2,841.3 L375.3,840.9 L375.4,840.5 L375.5,840.0 L375.6,839.6 L375.7,839.2 L375.8,838.8 L375.9,838.4 L376.0,837.9 L376.1,837.5 L376.3,837.1 L376.4,836.7 L376.5,836.2 L376.6,835.8 L376.7,835.4 L376.8,835.0 L376.9,834.6 L377.1,834.1 L377.2,833.7 L377.3,833.3 L377.4,832.9 L377.5,832.5 L377.7,832.0 L377.8,831.6 L377.9,831.2 L378.0,830.8 L378.2,830.4 L378.3,829.9 L378.4,829.5 L378.5,829.1 L378.7,828.7 L378.8,828.3 L378.9,827.8 L379.1,827.4 L379.2,827.0 L379.3,826.6 L379.5,826.1 L379.6,825.7 L379.8,825.3 L379.9,824.9 L380.0,824.5 L380.2,824.0 L380.3,823.6 L380.5,823.2 L380.6,822.8 L380.8,822.4 L380.9,821.9 L381.1,821.5 L381.2,821.1 L381.4,820.7 L381.6,820.3 L381.7,819.8 L381.9,819.4 L382.0,819.0 L382.2,818.6 L382.4,818.1 L382.5,817.7 L382.7,817.3 L382.9,816.9 L383.0,816.5 L383.2,816.0 L383.4,815.6 L383.6,815.2 L383.7,814.8 L383.9,814.4 L384.1,813.9 L384.3,813.5 L384.5,813.1 L384.7,812.7 L384.8,812.3 L385.0,811.8 L385.2,811.4 L385.4,811.0 L385.6,810.6 L385.9,810.2 L386.1,810.6 L386.3,811.0 L386.5,811.4 L386.7,811.8 L386.9,812.3 L387.0,812.7 L387.2,813.1 L387.4,813.5 L387.6,813.9 L387.8,814.4 L388.0,814.8 L388.1,815.2 L388.3,815.6 L388.5,816.0 L388.7,816.5 L388.8,816.9 L389.0,817.3 L389.2,817.7 L389.3,818.1 L389.5,818.6 L389.7,819.0 L389.8,819.4 L390.0,819.8 L390.1,820.3 L390.3,820.7 L390.5,821.1 L390.6,821.5 L390.8,821.9 L390.9,822.4 L391.1,822.8 L391.2,823.2 L391.4,823.6 L391.5,824.0 L391.7,824.5 L391.8,824.9 L391.9,825.3 L392.1,825.7 L392.2,826.1 L392.4,826.6 L392.5,827.0 L392.6,827.4 L392.8,827.8 L392.9,828.3 L393.0,828.7 L393.2,829.1 L393.3,829.5 L393.4,829.9 L393.5,830.4 L393.7,830.8 L393.8,831.2 L393.9,831.6 L394.0,832.0 L394.2,832.5 L394.3,832.9 L394.4,833.3 L394.5,833.7 L394.6,834.1 L394.8,834.6 L394.9,835.0 L395.0,835.4 L395.1,835.8 L395.2,836.2 L395.3,836.7 L395.4,837.1 L395.6,837.5 L395.7,837.9 L395.8,838.4 L395.9,838.8 L396.0,839.2 L396.1,839.6 L396.2,840.0 L396.3,840.5 L396.4,840.9 L396.5,841.3 L396.6,841.7 L396.7,842.1 L396.8,842.6 L396.9,843.0 L397.0,843.4 L397.1,843.8 L397.2,844.2 L397.3,844.7 L397.4,845.1 L397.5,845.5 L397.6,845.9 L397.7,846.3 L397.8,846.8 L397.9,847.2 L398.0,847.6 L398.1,848.0 L398.2,848.5 L398.3,848.9 L398.3,849.3 L398.4,849.7 L398.5,850.1 L398.6,850.6 L398.7,851.0 L398.8,851.4 L398.9,851.8 L399.0,852.2 L399.1,852.7 L399.1,853.1 L399.2,853.5 L399.3,853.9 L399.4,854.3 L399.5,854.8 L399.6,855.2 L399.6,855.6 L399.7,856.0 L399.8,856.5 L399.9,856.9 L400.0,857.3 L400.1,857.7 L400.1,858.1 L400.2,858.6 L400.3,859.0 L400.4,859.4 L400.5,859.8 L400.5,860.2 L400.6,860.7 L400.7,861.1 L400.8,861.5 L400.9,861.9 L400.9,862.3 L401.0,862.8 L401.1,863.2 L401.2,863.6 L401.2,864.0 L401.3,864.4 L401.4,864.9 L401.5,865.3 L401.6,865.7 L401.6,866.1 L401.7,866.6 L401.8,867.0 L401.9,867.4 L401.9,867.8 L402.0,868.2 L402.1,868.7 L402.2,869.1 L402.2,869.5 L402.3,869.9 L402.4,870.3 L402.5,870.8 L402.5,871.2 L402.6,871.6 L402.7,872.0 L402.8,872.4 L402.8,872.9 L402.9,873.3 L403.0,873.7 L403.1,874.1 L403.1,874.5 L403.2,875.0 L403.3,875.4 L403.4,875.8 L403.4,876.2 L403.5,876.7 L403.6,877.1 L403.7,877.5 L403.7,877.9 L403.8,878.3 L403.9,878.8 L404.0,879.2 L404.0,879.6 L404.1,880.0 L404.2,880.4 L404.3,880.9 L404.3,881.3 L404.4,881.7 L404.5,882.1 L404.6,882.5 L404.7,883.0 L404.7,883.4 L404.8,883.8 L404.9,884.2 L405.0,884.7 L405.0,885.1 L405.1,885.5 L405.2,885.9 L405.3,886.3 L405.4,886.8 L405.4,887.2 L405.5,887.6 L405.6,888.0 L405.7,888.4 L405.8,888.9 L405.9,889.3 L405.9,889.7 L406.0,890.1 L406.1,890.5 L406.2,891.0 L406.3,891.4 L406.4,891.8 L406.4,892.2 L406.5,892.6 L406.6,893.1 L406.7,893.5 L406.8,893.9 L406.9,894.3 L407.0,894.8 L407.0,895.2 L407.1,895.6 L407.2,896.0 L407.3,896.4 L407.4,896.9 L407.5,897.3 L407.6,897.7 L407.7,898.1 L407.7,898.5 L407.8,899.0 L407.9,899.4 L408.0,899.8 L408.1,900.2 L408.2,900.6 L408.3,901.1 L408.4,901.5 L408.5,901.9 L408.6,902.3 L408.7,902.8 L408.8,903.2 L408.9,903.6 L409.0,904.0 L409.1,904.4 L409.1,904.9 L409.2,905.3 L409.3,905.7 L409.4,906.1 L409.5,906.5 L409.6,907.0 L409.7,907.4 L409.8,907.8 L409.9,908.2 L410.0,908.6 L410.1,909.1 L410.2,909.5 L410.3,909.9 L410.4,910.3 L410.5,910.7 L410.6,911.2 L410.7,911.6 L410.8,912.0 L410.9,912.4 L411.0,912.9 L411.1,913.3 L411.2,913.7 L411.3,914.1 L411.4,914.5 L411.5,915.0 L411.6,915.4 L411.7,915.8 L411.8,916.2 L412.0,916.6 L412.1,917.1 L412.2,917.5 L412.3,917.9 L412.4,918.3 L412.5,918.7 L412.6,919.2 L412.7,919.6 L412.8,920.0 L412.9,920.4 L413.0,920.8 L413.1,921.3 L413.2,921.7 L413.3,922.1 L413.4,922.5 L413.6,923.0 L413.7,923.4 L413.8,923.8 L413.9,924.2 L414.0,924.6 L414.1,925.1 L414.2,925.5 L414.3,925.9 L414.4,926.3 L414.5,926.7 L414.7,927.2 L414.8,927.6 L414.9,928.0 L415.0,928.4 L415.1,928.8 L415.2,929.3 L415.3,929.7 L415.4,930.1 L415.6,930.5 L415.7,931.0 L415.8,931.4 L415.9,931.8 L416.0,932.2 L416.1,932.6 L416.2,933.1 L416.3,933.5 L416.5,933.9 L416.6,934.3 L416.7,934.7 L416.8,935.2 L416.9,935.6 L417.0,936.0 L417.2,936.4 L417.3,936.8 L417.4,937.3 L417.5,937.7 L417.6,938.1 L417.7,938.5 L417.9,938.9 L418.0,939.4 L418.1,939.8 L418.2,940.2 L418.3,940.6 L418.4,941.1 L418.6,941.5 L418.7,941.9 L418.8,942.3 L418.9,942.7 L419.0,943.2 L419.2,943.6 L419.3,944.0 L419.4,944.4 L419.5,944.8 L419.6,945.3 L419.8,945.7 L419.9,946.1 L420.0,946.5 L420.1,946.9 L420.2,947.4 L420.4,947.8 L420.5,948.2 L420.6,948.6 L420.7,949.1 L420.9,949.5 L421.0,949.9 L421.1,950.3 L421.2,950.7 L421.3,951.2 L421.5,951.6 L421.6,952.0 L421.7,952.4 L421.8,952.8 L422.0,953.3 L422.1,953.7 L422.2,954.1 L422.3,954.5 L422.4,954.9 L422.6,955.4 L422.7,955.8 L422.8,956.2 L422.9,956.6 L423.1,957.0 L423.2,957.5 L423.3,957.9 L423.4,958.3 L423.6,958.7 L423.7,959.2 L423.8,959.6 L423.9,960.0 L424.1,960.4 L424.2,960.8 L424.3,961.3 L424.4,961.7 L424.6,962.1 L424.7,962.5 L424.8,962.9 L424.9,963.4 L425.1,963.8 L425.2,964.2 L425.3,964.6 L425.4,965.0 L425.6,965.5 L425.7,965.9 L425.8,966.3 L425.9,966.7 L426.1,967.1 L426.2,967.6 L426.3,968.0 L426.5,968.4 L426.6,968.8 L426.7,969.3 L426.8,969.7 L427.0,970.1 L427.1,970.5 L427.2,970.9 L427.3,971.4 L427.5,971.8 L427.6,972.2 L427.7,972.6 L427.9,973.0 L428.0,973.5 L428.1,973.9 L428.2,974.3 L428.4,974.7 L428.5,975.1 L428.6,975.6 L428.7,976.0 L428.9,976.4 L429.0,976.8 L429.1,977.3 L429.3,977.7 L429.4,978.1 L429.5,978.5 L429.6,978.9 L429.8,979.4 L429.9,979.8 L430.0,980.2 L430.2,980.6 L430.3,981.0 L430.4,981.5 L430.5,981.9 L430.7,982.3 L430.8,982.7 L430.9,983.1 L431.1,983.6 L431.2,984.0 L431.3,984.4 L431.5,984.8 L431.6,985.2 L431.7,985.7 L431.8,986.1 L432.0,986.5 L432.1,986.9 L432.2,987.4 L432.4,987.8 L432.5,988.2 L432.6,988.6 L432.8,989.0 L432.9,989.5 L433.0,989.9 L433.1,990.3 L433.3,990.7 L433.4,991.1 L433.5,991.6 L433.7,992.0 L433.8,992.4 L433.9,992.8 L434.1,993.2 L434.2,993.7 L434.3,994.1 L434.5,994.5 L434.6,994.9 L434.7,995.3 L434.9,995.8 L435.0,996.2 L435.1,996.6 L435.2,997.0 L435.4,997.5 L435.5,997.9 L435.6,998.3 L435.8,998.7 L435.9,999.1 L436.0,999.6 L436.2,1000.0 L436.3,1000.4 L436.4,1000.8 L436.6,1001.2 L436.7,1001.7 L436.8,1002.1 L437.0,1002.5 L437.1,1002.9 L437.2,1003.3 L437.4,1003.8 L437.5,1004.2 L437.6,1004.6 L437.8,1005.0 L437.9,1005.5 L438.0,1005.9 L438.2,1006.3 L438.3,1006.7 L438.4,1007.1 L438.6,1007.6 L438.7,1008.0 L438.8,1008.4 L439.0,1008.8 L439.1,1009.2 L439.2,1009.7 L439.4,1010.1 L439.5,1010.5 L439.6,1010.9 L439.8,1011.3 L439.9,1011.8 L440.0,1012.2 L440.2,1012.6 L440.3,1013.0 L440.5,1013.4 L440.6,1013.9 L440.7,1014.3 L440.9,1014.7 L441.0,1015.1 L441.1,1015.6 L441.3,1016.0 L441.4,1016.4 L441.5,1016.8 L441.7,1017.2 L441.8,1017.7 L441.9,1018.1 L442.1,1018.5 L442.2,1018.9 L442.3,1019.3 L442.5,1019.8 L442.6,1020.2 L442.8,1020.6 L442.9,1021.0 L443.0,1021.4 L443.2,1021.9 L443.3,1022.3 L443.4,1022.7 L443.6,1023.1 L443.7,1023.6 L443.8,1024.0 L444.0,1024.4 L444.1,1024.8 L444.3,1025.2 L444.4,1025.7 L444.5,1026.1 L444.7,1026.5 L444.8,1026.9 L444.9,1027.3 L445.1,1027.8 L445.2,1028.2 L445.3,1028.6 L445.5,1029.0 L445.6,1029.4 L445.8,1029.9 L445.9,1030.3 L446.0,1030.7 L446.2,1031.1 L446.3,1031.5 L446.4,1032.0 L446.6,1032.4 L446.7,1032.8 L446.9,1033.2 L447.0,1033.7 L447.1,1034.1 L447.3,1034.5 L447.4,1034.9 L447.6,1035.3 L447.7,1035.8 L447.8,1036.2 L448.0,1036.6 L448.1,1037.0 L448.2,1037.4 L448.4,1037.9 L448.5,1038.3 L448.7,1038.7 L448.8,1039.1 L448.9,1039.5 L449.1,1040.0 L449.2,1040.4 L449.4,1040.8 L449.5,1041.2 L449.6,1041.6 L449.8,1042.1 L449.9,1042.5 L450.1,1042.9 L450.2,1043.3 L450.3,1043.8 L450.5,1044.2 L450.6,1044.6 L450.8,1045.0 L450.9,1045.4 L451.0,1045.9 L451.2,1046.3 L451.3,1046.7 L451.5,1047.1 L451.6,1047.5 L451.7,1048.0 L451.9,1048.4 L452.0,1048.8 L452.2,1049.2 L452.3,1049.6 L452.4,1050.1 L452.6,1050.5 L452.7,1050.9 L452.9,1051.3 L453.0,1051.8 L453.1,1052.2 L453.3,1052.6 L453.4,1053.0 L453.6,1053.4 L453.7,1053.9 L453.8,1054.3 L454.0,1054.7 L454.1,1055.1 L454.3,1055.5 L454.4,1056.0 L454.6,1056.4 L454.7,1056.8 L454.8,1057.2 L455.0,1057.6 L455.1,1058.1 L455.3,1058.5 L455.4,1058.9 L455.5,1059.3 L455.7,1059.7 L455.8,1060.2 L456.0,1060.6 L456.1,1061.0 L456.3,1061.4 L456.4,1061.9 L456.5,1062.3 L456.7,1062.7 L456.8,1063.1 L457.0,1063.5 L457.1,1064.0 L457.2,1064.4 L457.4,1064.8 L457.5,1065.2 L457.7,1065.6 L457.8,1066.1 L458.0,1066.5 L458.1,1066.9 L458.2,1067.3 L458.4,1067.7 L458.5,1068.2 L458.7,1068.6 L458.8,1069.0 L459.0,1069.4 L459.1,1069.9 L459.2,1070.3 L459.4,1070.7 L459.5,1071.1 L459.7,1071.5 L459.8,1072.0 L460.0,1072.4 L460.1,1072.8 L460.3,1073.2 L460.4,1073.6 L460.5,1074.1 L460.7,1074.5 L460.8,1074.9 L461.0,1075.3 L461.1,1075.7 L461.3,1076.2 L461.4,1076.6 L461.5,1077.0 L461.7,1077.4 L461.8,1077.8 L462.0,1078.3 L462.1,1078.7 L462.3,1079.1 L462.4,1079.5 L462.6,1080.0 L462.7,1080.4 L462.8,1080.8 L463.0,1081.2 L463.1,1081.6 L463.3,1082.1 L463.4,1082.5 L463.6,1082.9 L463.7,1083.3 L463.9,1083.7 L464.0,1084.2 L464.2,1084.6 L464.3,1085.0 L464.4,1085.4 L464.6,1085.8 L464.7,1086.3 L464.9,1086.7 L465.0,1087.1 L465.2,1087.5 L465.3,1087.9 L465.5,1088.4 L465.6,1088.8 L465.7,1089.2 L465.9,1089.6 L466.0,1090.1 L466.2,1090.5 L466.3,1090.9 L466.5,1091.3 L466.6,1091.7 L466.8,1092.2 L466.9,1092.6 L467.1,1093.0 L467.2,1093.4 L467.4,1093.8 L467.5,1094.3 L467.6,1094.7 L467.8,1095.1 L467.9,1095.5 L468.1,1095.9 L468.2,1096.4 L468.4,1096.8 L468.5,1097.2 L468.7,1097.6 L468.8,1098.1 L469.0,1098.5 L469.1,1098.9 L469.3,1099.3 L469.4,1099.7 L469.6,1100.2 L469.7,1100.6 L469.8,1101.0 L470.0,1101.4 L470.1,1101.8 L470.3,1102.3 L470.4,1102.7 L470.6,1103.1 L470.7,1103.5 L470.9,1103.9 L471.0,1104.4 L471.2,1104.8 L471.3,1105.2 L471.5,1105.6 L471.6,1106.0 L471.8,1106.5 L471.9,1106.9 L472.1,1107.3 L472.2,1107.7 L472.3,1108.2 L472.5,1108.6 L472.6,1109.0 L472.8,1109.4 L472.9,1109.8 L473.1,1110.3 L473.2,1110.7 L473.4,1111.1 L473.5,1111.5 L473.7,1111.9 L473.8,1112.4 L474.0,1112.8 L474.1,1113.2 L474.3,1113.6 L474.4,1114.0 L474.6,1114.5 L474.7,1114.9 L474.9,1115.3 L475.0,1115.7 L475.2,1116.1 L475.3,1116.6 L475.5,1117.0 L475.6,1117.4 L475.8,1117.8 L475.9,1118.3 L476.1,1118.7 L476.2,1119.1 L476.3,1119.5 L476.5,1119.9 L476.6,1120.4 L476.8,1120.8 L476.9,1121.2 L477.1,1121.6 L477.2,1122.0 L477.4,1122.5 L477.5,1122.9 L477.7,1123.3 L477.8,1123.7 L478.0,1124.1 L478.1,1124.6 L478.3,1125.0 L478.4,1125.4 L478.6,1125.8 L478.7,1126.3 L478.9,1126.7 L479.0,1127.1 L479.2,1127.5 L479.3,1127.9 L479.5,1128.4 L479.6,1128.8 L479.8,1129.2 L479.9,1129.6 L480.1,1130.0 L480.2,1130.5 L480.4,1130.9 L480.5,1131.3 L480.7,1131.7 L480.8,1132.1 L481.0,1132.6 L481.1,1133.0 L481.3,1133.4 L481.4,1133.8 L481.6,1134.2 L481.7,1134.7 L481.9,1135.1 L482.0,1135.5 L482.2,1135.9 L482.3,1136.4 L482.5,1136.8 L482.6,1137.2 L482.8,1137.6 L482.9,1138.0 L483.1,1138.5 L483.2,1138.9 L483.4,1139.3 L483.5,1139.7 L483.7,1140.1 L483.8,1140.6 L484.0,1141.0 L484.1,1141.4 L484.3,1141.8 L484.4,1142.2 L484.6,1142.7 L484.7,1143.1 L484.9,1143.5 L485.0,1143.9 L485.2,1144.4 L485.3,1144.8 L485.5,1145.2 L485.6,1145.6 L485.8,1146.0 L485.9,1146.5 L486.1,1146.9 L486.2,1147.3 L486.4,1147.7 L486.5,1148.1 L486.7,1148.6 L486.8,1149.0 L487.0,1149.4 L487.2,1149.8 L487.3,1150.2 L487.5,1150.7 L487.6,1151.1 L487.8,1151.5 L487.9,1151.9 L488.1,1152.3 L488.2,1152.8 L488.4,1153.2 L488.5,1153.6 L488.7,1154.0 L488.8,1154.5 L489.0,1154.9 L489.1,1155.3 L489.3,1155.7 L489.4,1156.1 L489.6,1156.6 L489.7,1157.0 L489.9,1157.4 L490.0,1157.8 L490.2,1158.2 L490.3,1158.7 L490.5,1159.1 L490.6,1159.5 L490.8,1159.9 L490.9,1160.3 L491.1,1160.8 L491.2,1161.2 L491.4,1161.6 L491.5,1162.0 L491.7,1162.4 L491.9,1162.9 L492.0,1163.3 L492.2,1163.7 L492.3,1164.1 L492.5,1164.6 L492.6,1165.0 L492.8,1165.4 L492.9,1165.8 L493.1,1166.2 L493.2,1166.7 L493.4,1167.1 L493.5,1167.5 L493.7,1167.9 L493.8,1168.3 L494.0,1168.8 L494.1,1169.2 L494.3,1169.6 L494.4,1170.0 L494.6,1170.4 L494.7,1170.9 L494.9,1171.3 L495.0,1171.7 L495.2,1172.1 L495.4,1172.6 L495.5,1173.0 L495.7,1173.4 L495.8,1173.8 L496.0,1174.2 L496.1,1174.7 L496.3,1175.1 L496.4,1175.5 L496.6,1175.9 L496.7,1176.3 L496.9,1176.8 L497.0,1177.2 L497.2,1177.6 L497.3,1178.0 L497.5,1178.4 L497.6,1178.9 L497.8,1179.3 L498.0,1179.7 L498.1,1180.1 L498.3,1180.5 L498.4,1181.0 L498.6,1181.4 L498.7,1181.8 L498.9,1182.2 L499.0,1182.7 L499.2,1183.1 L499.3,1183.5 L499.5,1183.9 L499.6,1184.3 L499.8,1184.8 L499.9,1185.2 L500.1,1185.6 L500.3,1186.0 L500.4,1186.4 L500.6,1186.9 L500.7,1187.3 L500.9,1187.7 L501.0,1188.1 L501.2,1188.5 L501.3,1189.0 L501.5,1189.4 L501.6,1189.8 L501.8,1190.2 L502.0,1190.7 L502.1,1191.1 L502.3,1191.5 L502.4,1191.9 L502.6,1192.3 L502.7,1192.8 L502.9,1193.2 L503.0,1193.6 L503.2,1194.0 L503.3,1194.4 L503.5,1194.9 L503.7,1195.3 L503.8,1195.7 L504.0,1196.1 L504.1,1196.5 L504.3,1197.0 L504.4,1197.4 L504.6,1197.8 L504.8,1198.2 L504.9,1198.6 L505.1,1199.1 L505.2,1199.5 L505.4,1199.9 L505.5,1200.3 L505.7,1200.8 L505.8,1201.2 L506.0,1201.6 L506.2,1202.0 L506.3,1202.4 L506.5,1202.9 L506.6,1203.3 L506.8,1203.7 L506.9,1204.1 L507.1,1204.5 L507.3,1205.0 L507.4,1205.4 L507.6,1205.8 L507.7,1206.2 L507.9,1206.6 L508.0,1207.1 L508.2,1207.5 L508.4,1207.9 L508.5,1208.3 L508.7,1208.7 L508.8,1209.2 L509.0,1209.6 L509.2,1210.0 L509.3,1210.4 L509.5,1210.9 L509.6,1211.3 L509.8,1211.7 L509.9,1212.1 L510.1,1212.5 L510.3,1213.0 L510.4,1213.4 L510.6,1213.8 L510.7,1214.2 L510.9,1214.6 L511.1,1215.1 L511.2,1215.5 L511.4,1215.9 L511.5,1216.3 L511.7,1216.7 L511.9,1217.2 L512.0,1217.6 L512.2,1218.0 L512.4,1218.4 L512.5,1218.9 L512.7,1219.3 L512.8,1219.7 L513.0,1220.1 L513.2,1220.5 L513.3,1221.0 L513.5,1221.4 L513.6,1221.8 L513.8,1222.2 L514.0,1222.6 L514.1,1223.1 L514.3,1223.5 L514.5,1223.9 L514.6,1224.3 L514.8,1224.7 L514.9,1225.2 L515.1,1225.6 L515.3,1226.0 L515.4,1226.4 L515.6,1226.8 L515.8,1227.3 L515.9,1227.7 L516.1,1228.1 L516.3,1228.5 L516.4,1229.0 L516.6,1229.4 L516.7,1229.8 L516.9,1230.2 L517.1,1230.6 L517.2,1231.1 L517.4,1231.5 L517.6,1231.9 L517.7,1232.3 L517.9,1232.7 L518.1,1233.2 L518.2,1233.6 L518.4,1234.0 L518.6,1234.4 L518.7,1234.8 L518.9,1235.3 L519.1,1235.7 L519.2,1236.1 L519.4,1236.5 L519.6,1236.9 L519.7,1237.4 L519.9,1237.8 L520.1,1238.2 L520.2,1238.6 L520.4,1239.1 L520.6,1239.5 L520.7,1239.9 L520.9,1240.3 L521.1,1240.7 L521.3,1241.2 L521.4,1241.6 L521.6,1242.0 L521.8,1242.4 L521.9,1242.8 L522.1,1243.3 L522.3,1243.7 L522.4,1244.1 L522.6,1244.5 L522.8,1244.9 L523.0,1245.4 L523.1,1245.8 L523.3,1246.2 L523.5,1246.6 L523.6,1247.1 L523.8,1247.5 L524.0,1247.9 L524.2,1248.3 L524.3,1248.7 L524.5,1249.2 L524.7,1249.6 L524.8,1250.0 L525.0,1250.4 L525.2,1250.8 L525.4,1251.3 L525.5,1251.7 L525.7,1252.1 L525.9,1252.5 L526.1,1252.9 L526.2,1253.4 L526.4,1253.8 L526.6,1254.2 L526.8,1254.6 L526.9,1255.0 L527.1,1255.5 L527.3,1255.9 L527.5,1256.3 L527.6,1256.7 L527.8,1257.2 L528.0,1257.6 L528.2,1258.0 L528.3,1258.4 L528.5,1258.8 L528.7,1259.3 L528.9,1259.7 L529.1,1260.1 L529.2,1260.5 L529.4,1260.9 L529.6,1261.4 L529.8,1261.8 L529.9,1262.2 L530.1,1262.6 L530.3,1263.0 L530.5,1263.5 L530.7,1263.9 L530.8,1264.3 L531.0,1264.7 L531.2,1265.2 L531.4,1265.6 L531.6,1266.0 L531.8,1266.4 L531.9,1266.8 L532.1,1267.3 L532.3,1267.7 L532.5,1268.1 L532.7,1268.5 L532.8,1268.9 L533.0,1269.4 L533.2,1269.8 L533.4,1270.2 L533.6,1270.6 L533.8,1271.0 L533.9,1271.5 L534.1,1271.9 L534.3,1272.3 L534.5,1272.7 L534.7,1273.1 L534.9,1273.6 L535.1,1274.0 L535.2,1274.4 L535.4,1274.8 L535.6,1275.3 L535.8,1275.7 L536.0,1276.1 L536.2,1276.5 L536.4,1276.9 L536.6,1277.4 L536.7,1277.8 L536.9,1278.2 L537.1,1278.6 L537.3,1279.0 L537.5,1279.5 L537.7,1279.9 L537.9,1280.3 L538.1,1280.7 L538.3,1281.1 L538.4,1281.6 L538.6,1282.0 L538.8,1282.4 L539.0,1282.8 L539.2,1283.2 L539.4,1283.7 L539.6,1284.1 L539.8,1284.5 L540.0,1284.9 L540.2,1285.4 L540.4,1285.8 L540.6,1286.2 L540.8,1286.6 L541.0,1287.0 L541.1,1287.5 L541.3,1287.9 L541.5,1288.3 L541.7,1288.7 L541.9,1289.1 L542.1,1289.6 L542.3,1290.0 L542.5,1290.4 L542.7,1290.8 L542.9,1291.2 L543.1,1291.7 L543.3,1292.1 L543.5,1292.5 L543.7,1292.9 L543.9,1293.4 L544.1,1293.8 L544.3,1294.2 L544.5,1294.6 L544.7,1295.0 L544.9,1295.5 L545.1,1295.9 L545.3,1296.3 L545.5,1296.7 L545.7,1297.1 L545.9,1297.6 L546.1,1298.0 L546.3,1298.4 L546.5,1298.8 L546.7,1299.2 L546.9,1299.7 L547.1,1300.1 L547.3,1300.5 L547.5,1300.9 L547.7,1301.3 L548.0,1301.8 L548.2,1302.2 L548.4,1302.6 L548.6,1303.0 L548.8,1303.5 L549.0,1303.9 L549.2,1304.3 L549.4,1304.7 L549.6,1305.1 L549.8,1305.6 L550.0,1306.0 L550.2,1306.4 L550.4,1306.8 L550.7,1307.2 L550.9,1307.7 L551.1,1308.1 L551.3,1308.5 L551.5,1308.9 L551.7,1309.3 L551.9,1309.8 L552.1,1310.2 L552.3,1310.6 L552.6,1311.0 L552.8,1311.5 L553.0,1311.9 L553.2,1312.3 L553.4,1312.7 L553.6,1313.1 L553.8,1313.6 L554.1,1314.0 L554.3,1314.4 L554.5,1314.8 L554.7,1315.2 L554.9,1315.7 L555.1,1316.1 L555.4,1316.5 L555.6,1316.9 L555.8,1317.3 L556.0,1317.8 L556.2,1318.2 L556.5,1318.6 L556.7,1319.0 L556.9,1319.4 L557.1,1319.9 L557.3,1320.3 L557.6,1320.7 L557.8,1321.1 L558.0,1321.6 L558.2,1322.0 L558.5,1322.4 L558.7,1322.8 L558.9,1323.2 L559.1,1323.7 L559.4,1324.1 L559.6,1324.5 L559.8,1324.9 L560.0,1325.3 L560.3,1325.8 L560.5,1326.2 L560.7,1326.6 L561.0,1327.0 L561.2,1327.4 L561.4,1327.9 L561.6,1328.3 L561.9,1328.7 L562.1,1329.1 L562.3,1329.5 L562.6,1330.0 L562.8,1330.4 L563.0,1330.8 L563.3,1331.2 L563.5,1331.7 L563.7,1332.1 L564.0,1332.5 L564.2,1332.9 L564.4,1333.3 L564.7,1333.8 L564.9,1334.2 L565.1,1334.6 L565.4,1335.0 L565.6,1335.4 L565.8,1335.9 L566.1,1336.3 L566.3,1336.7 L566.6,1337.1 L566.8,1337.5 L567.0,1338.0 L567.3,1338.4 L567.5,1338.8 L567.8,1339.2 L568.0,1339.7 L568.3,1340.1 L568.5,1340.5 L568.7,1340.9 L569.0,1341.3 L569.2,1341.8 L569.5,1342.2 L569.7,1342.6 L570.0,1343.0 L570.2,1343.4 L570.5,1343.9 L570.7,1344.3 L570.9,1344.7 L571.2,1345.1 L571.4,1345.5 L571.7,1346.0 L571.9,1346.4 L572.2,1346.8 L572.4,1347.2 L572.7,1347.6 L572.9,1348.1 L573.2,1348.5 L573.4,1348.9 L573.7,1349.3 L573.9,1349.8 L574.2,1350.2 L574.5,1350.6 L574.7,1351.0 L575.0,1351.4 L575.2,1351.9 L575.5,1352.3 L575.7,1352.7 L576.0,1353.1 L576.2,1353.5 L576.5,1354.0 L576.7,1354.4 L577.0,1354.8 L577.3,1355.2 L577.5,1355.6 L577.8,1356.1 L578.0,1356.5 L578.3,1356.9 L578.6,1357.3 L578.8,1357.7 L579.1,1358.2 L579.3,1358.6 L579.6,1359.0 L579.9,1359.4 L580.1,1359.9 L580.4,1360.3 L580.6,1360.7 L580.9,1361.1 L581.2,1361.5 L581.4,1362.0 L581.7,1362.4 L582.0,1362.8 L582.2,1363.2 L582.5,1363.6 L582.7,1364.1 L583.0,1364.5 L583.3,1364.9 L583.5,1365.3 L583.8,1365.7 L584.1,1366.2 L584.3,1366.6 L584.6,1367.0 L584.9,1367.4 L585.1,1367.9 L585.4,1368.3 L585.7,1368.7 L585.9,1369.1 L586.2,1369.5 L586.5,1370.0 L586.7,1370.4 L587.0,1370.8 L587.3,1371.2 L587.5,1371.6 L587.8,1372.1 L588.1,1372.5 L588.3,1372.9 L588.6,1373.3 L588.9,1373.7 L589.2,1374.2 L589.4,1374.6 L589.7,1375.0 L590.0,1375.4 L590.2,1375.8 L590.5,1376.3 L590.8,1376.7 L591.1,1377.1 L591.3,1377.5 L591.6,1378.0 L591.9,1378.4 L592.1,1378.8 L592.4,1379.2 L592.7,1379.6 L593.0,1380.1 L593.2,1380.5 L593.5,1380.9 L593.8,1381.3 L594.1,1381.7 L594.3,1382.2 L594.6,1382.6 L594.9,1383.0 L595.2,1383.4 L595.4,1383.8 L595.7,1384.3 L596.0,1384.7 L596.2,1385.1 L596.5,1385.5 L596.8,1386.0 L597.1,1386.4 L597.3,1386.8 L597.6,1387.2 L597.9,1387.6 L598.2,1388.1 L598.4,1388.5 L598.7,1388.9 L599.0,1389.3 L599.3,1389.7 L599.6,1390.2 L599.8,1390.6 L600.1,1391.0 L600.4,1391.4 L600.7,1391.8 L600.9,1392.3 L601.2,1392.7 L601.5,1393.1 L601.8,1393.5 L602.0,1393.9 L602.3,1394.4 L602.6,1394.8 L602.9,1395.2 L603.1,1395.6 L603.4,1396.1 L603.7,1396.5 L604.0,1396.9 L604.3,1397.3 L604.5,1397.7 L604.8,1398.2 L605.1,1398.6 L605.4,1399.0 L605.7,1399.4 L605.9,1399.8 L606.2,1400.3 L606.5,1400.7 L606.8,1401.1 L607.1,1401.5 L607.3,1401.9 L607.6,1402.4 L607.9,1402.8 L608.2,1403.2 L608.5,1403.6 L608.8,1404.0 L609.1,1404.5 L609.4,1404.9 L609.7,1405.3 L609.9,1405.7 L610.2,1406.2 L610.5,1406.6 L610.8,1407.0 L611.1,1407.4 L611.4,1407.8 L611.7,1408.3 L612.0,1408.7 L612.3,1409.1 L612.6,1409.5 L612.9,1409.9 L613.2,1410.4 L613.5,1410.8 L613.8,1411.2 L614.2,1411.6 L614.5,1412.0 L614.8,1412.5 L615.1,1412.9 L615.4,1413.3 L615.7,1413.7 L616.1,1414.2 L616.4,1414.6 L616.7,1415.0 L617.0,1415.4 L617.4,1415.8 L617.7,1416.3 L618.0,1416.7 L618.4,1417.1 L618.7,1417.5 L619.0,1417.9 L619.4,1418.4 L619.7,1418.8 L620.1,1419.2 L620.4,1419.6 L620.8,1420.0 L621.1,1420.5 L621.5,1420.9 L621.9,1421.3 L622.2,1421.7 L622.6,1422.1 L623.0,1422.6 L623.4,1423.0 L623.7,1423.4 L624.1,1423.8 L624.5,1424.3 L624.9,1424.7 L625.3,1425.1 L625.7,1425.5 L626.1,1425.9 L626.5,1426.4 L626.9,1426.8 L627.3,1427.2 L627.7,1427.6 L628.2,1428.0 L628.6,1428.5 L629.0,1428.9 L629.5,1429.3 L629.9,1429.7 L630.3,1430.1 L630.8,1430.6 L631.3,1431.0 L631.7,1431.4 L632.2,1431.8 L632.7,1432.3 L633.2,1432.7 L633.7,1433.1 L634.2,1433.5 L634.7,1433.9 L635.2,1434.4 L635.7,1434.8 L636.2,1435.2 L636.8,1435.6 L637.3,1436.0 L637.9,1436.5 L638.4,1436.9 L639.0,1437.3 L639.6,1437.7 L640.2,1438.1 L640.8,1438.6 L641.4,1439.0 L642.0,1439.4 L642.7,1439.8 L643.3,1440.2 L644.0,1440.7 L644.6,1441.1" stroke="#ff00ff"/>
</g>
<rect x="126.0" y="808.9" width="519.7" height="633.6" fill="none" stroke="#000" stroke-width="1.6" stroke-linecap="square"/>
<line x1="126.00" y1="1442.5" x2="126.00" y2="1449.5" stroke="#000" stroke-width="1.6"/>
<line x1="255.93" y1="1442.5" x2="255.93" y2="1449.5" stroke="#000" stroke-width="1.6"/>
<line x1="385.85" y1="1442.5" x2="385.85" y2="1449.5" stroke="#000" stroke-width="1.6"/>
<line x1="515.78" y1="1442.5" x2="515.78" y2="1449.5" stroke="#000" stroke-width="1.6"/>
<line x1="645.70" y1="1442.5" x2="645.70" y2="1449.5" stroke="#000" stroke-width="1.6"/>
<line x1="119.0" y1="1384.90" x2="126.0" y2="1384.90" stroke="#000" stroke-width="1.6"/>
<line x1="119.0" y1="1269.70" x2="126.0" y2="1269.70" stroke="#000" stroke-width="1.6"/>
<line x1="119.0" y1="1154.50" x2="126.0" y2="1154.50" stroke="#000" stroke-width="1.6"/>
<line x1="119.0" y1="1039.30" x2="126.0" y2="1039.30" stroke="#000" stroke-width="1.6"/>
<line x1="119.0" y1="924.10" x2="126.0" y2="924.10" stroke="#000" stroke-width="1.6"/>
<line x1="119.0" y1="808.90" x2="126.0" y2="808.90" stroke="#000" stroke-width="1.6"/>
<text x="126.0" y="1481.8" font-family='"Liberation Sans", sans-serif' font-size="35.0" text-anchor="middle" textLength="87.9" lengthAdjust="spacingAndGlyphs">−400</text>
<text x="255.9" y="1481.8" font-family='"Liberation Sans", sans-serif' font-size="35.0" text-anchor="middle" textLength="87.9" lengthAdjust="spacingAndGlyphs">−200</text>
<text x="385.9" y="1481.8" font-family='"Liberation Sans", sans-serif' font-size="35.0" text-anchor="middle" textLength="20.4" lengthAdjust="spacingAndGlyphs">0</text>
<text x="515.8" y="1481.8" font-family='"Liberation Sans", sans-serif' font-size="35.0" text-anchor="middle" textLength="61.1" lengthAdjust="spacingAndGlyphs">200</text>
<text x="645.7" y="1481.8" font-family='"Liberation Sans", sans-serif' font-size="35.0" text-anchor="middle" textLength="61.1" lengthAdjust="spacingAndGlyphs">400</text>
<text x="110.0" y="1397.2" font-family='"Liberation Sans", sans-serif' font-size="35.5" text-anchor="end" textLength="50.9" lengthAdjust="spacingAndGlyphs">0.0</text>
<text x="110.0" y="1282.0" font-family='"Liberation Sans", sans-serif' font-size="35.5" text-anchor="end" textLength="50.9" lengthAdjust="spacingAndGlyphs">0.2</text>
<text x="110.0" y="1166.8" font-family='"Liberation Sans", sans-serif' font-size="35.5" text-anchor="end" textLength="50.9" lengthAdjust="spacingAndGlyphs">0.4</text>
<text x="110.0" y="1051.6" font-family='"Liberation Sans", sans-serif' font-size="35.5" text-anchor="end" textLength="50.9" lengthAdjust="spacingAndGlyphs">0.6</text>
<text x="110.0" y="936.4" font-family='"Liberation Sans", sans-serif' font-size="35.5" text-anchor="end" textLength="50.9" lengthAdjust="spacingAndGlyphs">0.8</text>
<text x="110.0" y="821.2" font-family='"Liberation Sans", sans-serif' font-size="35.5" text-anchor="end" textLength="50.9" lengthAdjust="spacingAndGlyphs">1.0</text>
<text x="385.9" y="1520.9" font-family='"Liberation Sans", sans-serif' font-size="33.6" text-anchor="middle" textLength="215.6" lengthAdjust="spacingAndGlyphs">lag-time (ms)</text>
<g transform="translate(44.7,1124.5) rotate(-90)"><text x="0.0" y="0.0" font-family='"Liberation Sans", sans-serif' font-size="33.6" text-anchor="middle" textLength="311.4" lengthAdjust="spacingAndGlyphs">auto-correlation (1)</text></g>
<text x="137.5" y="856.6" font-family='"Liberation Sans", sans-serif' font-size="37.0" text-anchor="start" textLength="10.8" lengthAdjust="spacingAndGlyphs">(</text>
<text x="152.5" y="859.5" font-family='"Liberation Sans", sans-serif' font-size="41.0" text-anchor="start" textLength="19.8" lengthAdjust="spacingAndGlyphs">c</text>
<text x="175.6" y="856.6" font-family='"Liberation Sans", sans-serif' font-size="37.0" text-anchor="start" textLength="10.8" lengthAdjust="spacingAndGlyphs">)</text>
<rect x="474.0" y="821.5" width="158.5" height="196.0" rx="5.5" ry="5.5" fill="#ffffff" fill-opacity="0.8" stroke="#cccccc" stroke-width="2"/>
<line x1="484.0" y1="842.4" x2="536.0" y2="842.4" stroke="#000000" stroke-width="4.0" stroke-linecap="square"/>
<text x="556.8" y="851.3" font-family='"Liberation Sans", sans-serif' font-size="27.3" text-anchor="start" textLength="67.3" lengthAdjust="spacingAndGlyphs">wake</text>
<line x1="484.0" y1="880.2" x2="536.0" y2="880.2" stroke="#0000ff" stroke-width="4.0" stroke-linecap="square"/>
<text x="556.8" y="889.1" font-family='"Liberation Sans", sans-serif' font-size="27.3" text-anchor="start" textLength="56.9" lengthAdjust="spacingAndGlyphs">REM</text>
<line x1="484.0" y1="918.0" x2="536.0" y2="918.0" stroke="#008000" stroke-width="4.0" stroke-linecap="square"/>
<text x="556.8" y="926.9" font-family='"Liberation Sans", sans-serif' font-size="27.3" text-anchor="start" textLength="36.0" lengthAdjust="spacingAndGlyphs">N1</text>
<line x1="484.0" y1="955.8" x2="536.0" y2="955.8" stroke="#ff0000" stroke-width="4.0" stroke-linecap="square"/>
<text x="556.8" y="964.7" font-family='"Liberation Sans", sans-serif' font-size="27.3" text-anchor="start" textLength="36.0" lengthAdjust="spacingAndGlyphs">N2</text>
<line x1="484.0" y1="993.6" x2="536.0" y2="993.6" stroke="#ff00ff" stroke-width="4.0" stroke-linecap="square"/>
<text x="556.8" y="1002.5" font-family='"Liberation Sans", sans-serif' font-size="27.3" text-anchor="start" textLength="36.0" lengthAdjust="spacingAndGlyphs">N3</text>
<line x1="802.00" y1="808.9" x2="802.00" y2="1442.5" stroke="#b0b0b0" stroke-width="1.6"/>
<line x1="931.75" y1="808.9" x2="931.75" y2="1442.5" stroke="#b0b0b0" stroke-width="1.6"/>
<line x1="1061.50" y1="808.9" x2="1061.50" y2="1442.5" stroke="#b0b0b0" stroke-width="1.6"/>
<line x1="1191.25" y1="808.9" x2="1191.25" y2="1442.5" stroke="#b0b0b0" stroke-width="1.6"/>
<line x1="1321.00" y1="808.9" x2="1321.00" y2="1442.5" stroke="#b0b0b0" stroke-width="1.6"/>
<line x1="802.0" y1="1384.90" x2="1321.0" y2="1384.90" stroke="#b0b0b0" stroke-width="1.6"/>
<line x1="802.0" y1="1269.70" x2="1321.0" y2="1269.70" stroke="#b0b0b0" stroke-width="1.6"/>
<line x1="802.0" y1="1154.50" x2="1321.0" y2="1154.50" stroke="#b0b0b0" stroke-width="1.6"/>
<line x1="802.0" y1="1039.30" x2="1321.0" y2="1039.30" stroke="#b0b0b0" stroke-width="1.6"/>
<line x1="802.0" y1="924.10" x2="1321.0" y2="924.10" stroke="#b0b0b0" stroke-width="1.6"/>
<line x1="802.0" y1="808.90" x2="1321.0" y2="808.90" stroke="#b0b0b0" stroke-width="1.6"/>
<g clip-path="url(#clipd)" fill="none" stroke-width="4.0" stroke-linejoin="round" stroke-linecap="butt">
<path d="M802.2,1388.3 L802.8,1386.6 L803.6,1385.2 L804.4,1384.1 L805.3,1383.3 L806.3,1382.7 L807.4,1382.2 L808.5,1381.9 L809.6,1381.8 L810.8,1381.8 L812.0,1381.8 L813.3,1381.9 L814.5,1382.0 L815.7,1382.0 L816.9,1382.0 L818.1,1382.0 L819.3,1381.8 L820.4,1381.5 L821.5,1381.1 L822.5,1380.6 L823.5,1380.0 L824.5,1379.3 L825.5,1378.5 L826.5,1377.8 L827.5,1377.1 L828.6,1376.4 L829.6,1375.8 L830.7,1375.3 L831.8,1374.8 L832.9,1374.5 L834.1,1374.2 L835.3,1373.9 L836.5,1373.7 L837.6,1373.4 L838.8,1373.0 L839.9,1372.6 L840.9,1372.1 L841.9,1371.5 L842.9,1370.9 L843.9,1370.2 L844.8,1369.5 L845.8,1368.7 L846.7,1367.9 L847.7,1367.2 L848.6,1366.4 L849.5,1365.7 L850.5,1365.0 L851.5,1364.3 L852.5,1363.7 L853.6,1363.2 L854.6,1362.6 L855.7,1362.1 L856.8,1361.7 L857.8,1361.2 L858.9,1360.7 L860.0,1360.3 L861.1,1359.8 L862.2,1359.3 L863.3,1358.8 L864.3,1358.3 L865.4,1357.8 L866.5,1357.2 L867.5,1356.7 L868.6,1356.1 L869.6,1355.5 L870.7,1354.9 L871.7,1354.3 L872.7,1353.7 L873.7,1353.0 L874.8,1352.4 L875.8,1351.7 L876.8,1351.1 L877.8,1350.4 L878.8,1349.7 L879.7,1349.0 L880.7,1348.3 L881.7,1347.6 L882.7,1346.9 L883.6,1346.1 L884.6,1345.4 L885.5,1344.6 L886.5,1343.8 L887.4,1343.1 L888.3,1342.3 L889.3,1341.5 L890.2,1340.7 L891.1,1339.9 L892.0,1339.1 L892.9,1338.3 L893.8,1337.4 L894.7,1336.6 L895.5,1335.8 L896.4,1334.9 L897.3,1334.1 L898.1,1333.2 L899.0,1332.4 L899.8,1331.5 L900.6,1330.6 L901.5,1329.7 L902.3,1328.9 L903.1,1328.0 L903.9,1327.1 L904.7,1326.2 L905.5,1325.3 L906.3,1324.5 L907.1,1323.6 L907.9,1322.7 L908.7,1321.8 L909.5,1321.0 L910.4,1320.1 L911.2,1319.3 L912.0,1318.4 L912.9,1317.6 L913.7,1316.7 L914.6,1315.9 L915.4,1315.1 L916.3,1314.3 L917.2,1313.5 L918.1,1312.8 L919.0,1312.0 L920.0,1311.3 L920.9,1310.5 L921.9,1309.8 L922.9,1309.1 L923.9,1308.5 L925.0,1307.8 L926.0,1307.1 L927.0,1306.5 L928.0,1305.8 L929.0,1305.1 L929.9,1304.3 L930.8,1303.5 L931.7,1302.7 L932.5,1301.8 L933.3,1300.9 L934.0,1299.9 L934.7,1298.9 L935.4,1297.9 L936.1,1297.0 L936.8,1296.0 L937.5,1295.0 L938.2,1294.1 L939.0,1293.1 L939.8,1292.3 L940.7,1291.5 L941.7,1290.7 L942.7,1290.0 L943.7,1289.3 L944.7,1288.7 L945.7,1288.0 L946.7,1287.3 L947.6,1286.6 L948.5,1285.8 L949.4,1285.0 L950.1,1284.1 L950.8,1283.1 L951.4,1282.1 L951.9,1281.1 L952.4,1280.0 L952.9,1278.8 L953.4,1277.7 L953.8,1276.6 L954.2,1275.4 L954.7,1274.2 L955.1,1273.1 L955.6,1271.9 L956.1,1270.8 L956.6,1269.7 L957.2,1268.7 L957.9,1267.7 L958.6,1266.7 L959.3,1265.8 L960.1,1264.9 L961.0,1264.1 L961.9,1263.3 L962.8,1262.4 L963.7,1261.6 L964.6,1260.8 L965.5,1260.0 L966.4,1259.2 L967.3,1258.3 L968.1,1257.5 L968.9,1256.6 L969.7,1255.7 L970.5,1254.7 L971.2,1253.7 L971.9,1252.8 L972.5,1251.7 L973.2,1250.7 L973.7,1249.6 L974.3,1248.5 L974.7,1247.4 L975.2,1246.3 L975.6,1245.1 L975.9,1243.9 L976.2,1242.7 L976.5,1241.5 L976.8,1240.3 L977.1,1239.1 L977.5,1237.9 L977.8,1236.8 L978.2,1235.7 L978.7,1234.6 L979.2,1233.6 L979.8,1232.6 L980.5,1231.7 L981.3,1230.9 L982.1,1230.1 L983.0,1229.3 L983.9,1228.5 L984.8,1227.7 L985.8,1227.0 L986.7,1226.2 L987.6,1225.4 L988.5,1224.5 L989.3,1223.6 L990.1,1222.6 L990.8,1221.5 L991.5,1220.3 L992.0,1219.1 L992.5,1217.8 L993.0,1216.5 L993.5,1215.2 L993.9,1213.9 L994.4,1212.7 L994.8,1211.5 L995.4,1210.4 L995.9,1209.3 L996.5,1208.4 L997.3,1207.6 L998.1,1207.0 L999.0,1206.6 L1000.0,1206.3 L1001.2,1206.2 L1002.4,1206.3 L1003.7,1206.4 L1004.9,1206.5 L1006.2,1206.6 L1007.4,1206.6 L1008.5,1206.4 L1009.4,1206.0 L1010.3,1205.4 L1011.0,1204.7 L1011.7,1203.8 L1012.3,1202.8 L1012.8,1201.6 L1013.2,1200.4 L1013.6,1199.1 L1013.9,1197.7 L1014.2,1196.2 L1014.5,1194.7 L1014.8,1193.2 L1015.0,1191.7 L1015.3,1190.2 L1015.6,1188.7 L1015.9,1187.3 L1016.2,1185.9 L1016.7,1184.7 L1017.2,1183.5 L1017.7,1182.5 L1018.4,1181.7 L1019.2,1181.0 L1020.1,1180.5 L1021.2,1180.2 L1022.3,1180.2 L1023.6,1180.3 L1024.9,1180.4 L1026.2,1180.4 L1027.3,1180.3 L1028.2,1179.8 L1028.8,1179.0 L1029.3,1178.0 L1029.6,1176.7 L1029.9,1175.4 L1030.2,1174.1 L1030.5,1172.9 L1030.8,1171.6 L1031.1,1170.4 L1031.5,1169.2 L1031.8,1168.1 L1032.1,1166.9 L1032.4,1165.8 L1032.8,1164.7 L1033.1,1163.6 L1033.3,1162.5 L1033.6,1161.3 L1033.9,1160.2 L1034.1,1159.1 L1034.4,1157.9 L1034.6,1156.8 L1034.9,1155.7 L1035.1,1154.5 L1035.4,1153.3 L1035.7,1152.1 L1036.0,1151.0 L1036.3,1149.8 L1036.6,1148.5 L1037.0,1147.3 L1037.4,1146.1 L1037.8,1144.8 L1038.3,1143.6 L1038.8,1142.4 L1039.4,1141.4 L1040.1,1140.8 L1041.0,1140.8 L1042.0,1141.3 L1043.0,1142.2 L1044.1,1143.1 L1045.1,1144.0 L1046.0,1144.6 L1046.9,1144.7 L1047.5,1144.4 L1048.0,1143.5 L1048.4,1142.4 L1048.8,1141.0 L1049.0,1139.7 L1049.3,1138.3 L1049.5,1137.1 L1049.7,1135.9 L1049.9,1134.7 L1050.0,1133.5 L1050.2,1132.4 L1050.3,1131.2 L1050.5,1130.0 L1050.6,1128.8 L1050.7,1127.7 L1050.8,1126.5 L1050.9,1125.3 L1051.0,1124.1 L1051.1,1122.9 L1051.2,1121.7 L1051.3,1120.5 L1051.4,1119.3 L1051.5,1118.1 L1051.6,1116.9 L1051.6,1115.7 L1051.7,1114.5 L1051.8,1113.3 L1051.9,1112.1 L1051.9,1110.9 L1052.0,1109.7 L1052.1,1108.5 L1052.1,1107.3 L1052.2,1106.1 L1052.3,1104.9 L1052.3,1103.7 L1052.4,1102.5 L1052.5,1101.3 L1052.5,1100.1 L1052.6,1098.9 L1052.7,1097.7 L1052.8,1096.5 L1052.8,1095.3 L1052.9,1094.1 L1053.0,1092.9 L1053.0,1091.8 L1053.1,1090.6 L1053.2,1089.4 L1053.2,1088.2 L1053.3,1087.0 L1053.4,1085.8 L1053.4,1084.6 L1053.5,1083.4 L1053.6,1082.1 L1053.7,1080.9 L1053.7,1079.7 L1053.8,1078.5 L1053.9,1077.3 L1054.0,1076.1 L1054.0,1074.9 L1054.1,1073.6 L1054.2,1072.4 L1054.3,1071.2 L1054.4,1069.9 L1054.5,1068.7 L1054.6,1067.5 L1054.6,1066.2 L1054.7,1065.0 L1054.8,1063.8 L1054.9,1062.6 L1055.0,1061.4 L1055.1,1060.1 L1055.2,1058.9 L1055.3,1057.7 L1055.4,1056.5 L1055.5,1055.3 L1055.6,1054.1 L1055.7,1053.0 L1055.7,1051.8 L1055.8,1050.6 L1055.9,1049.5 L1056.0,1048.3 L1056.1,1047.2 L1056.2,1046.1 L1056.3,1045.0 L1056.4,1043.9 L1056.5,1042.8 L1056.6,1041.7 L1056.6,1040.6 L1056.7,1039.6 L1056.8,1038.5 L1056.9,1037.4 L1057.0,1036.3 L1057.1,1035.2 L1057.2,1034.0 L1057.3,1032.9 L1057.3,1031.8 L1057.4,1030.6 L1057.5,1029.4 L1057.6,1028.2 L1057.7,1026.9 L1057.8,1025.6 L1057.9,1024.3 L1058.0,1023.0 L1058.1,1021.6 L1058.2,1020.2 L1058.3,1018.7 L1058.4,1017.2 L1058.5,1015.7 L1058.6,1014.1 L1058.7,1012.5 L1058.8,1010.8 L1058.9,1009.2 L1059.0,1007.5 L1059.1,1005.9 L1059.2,1004.2 L1059.3,1002.5 L1059.4,1000.9 L1059.5,999.3 L1059.6,997.7 L1059.7,996.1 L1059.8,994.6 L1059.9,993.1 L1060.1,991.7 L1060.2,990.4 L1060.3,989.1 L1060.4,987.9 L1060.5,986.8 L1060.6,985.7 L1060.7,984.8 L1060.8,984.0 L1060.9,983.3 L1061.0,982.7 L1061.1,982.2 L1061.2,981.8 L1061.3,981.6 L1061.4,981.5 L1061.5,981.6 L1061.6,981.8 L1061.7,982.2 L1061.8,982.7 L1061.9,983.4 L1062.0,984.1 L1062.1,985.0 L1062.2,986.0 L1062.3,987.0 L1062.4,988.2 L1062.5,989.4 L1062.5,990.8 L1062.6,992.1 L1062.7,993.6 L1062.8,995.0 L1062.9,996.6 L1063.0,998.1 L1063.1,999.7 L1063.2,1001.3 L1063.2,1002.9 L1063.3,1004.5 L1063.4,1006.0 L1063.5,1007.6 L1063.6,1009.1 L1063.7,1010.6 L1063.8,1012.1 L1063.9,1013.5 L1064.0,1014.9 L1064.0,1016.2 L1064.1,1017.5 L1064.2,1018.8 L1064.3,1020.1 L1064.4,1021.3 L1064.5,1022.5 L1064.6,1023.7 L1064.7,1024.9 L1064.8,1026.0 L1064.9,1027.2 L1065.0,1028.3 L1065.1,1029.4 L1065.1,1030.5 L1065.2,1031.6 L1065.3,1032.7 L1065.4,1033.8 L1065.5,1034.9 L1065.6,1036.0 L1065.7,1037.1 L1065.8,1038.2 L1065.9,1039.3 L1065.9,1040.5 L1066.0,1041.6 L1066.1,1042.8 L1066.2,1043.9 L1066.3,1045.1 L1066.4,1046.3 L1066.4,1047.4 L1066.5,1048.6 L1066.6,1049.8 L1066.7,1051.0 L1066.8,1052.3 L1066.9,1053.5 L1066.9,1054.7 L1067.0,1055.9 L1067.1,1057.1 L1067.2,1058.3 L1067.3,1059.6 L1067.4,1060.8 L1067.5,1062.0 L1067.6,1063.3 L1067.7,1064.5 L1067.8,1065.7 L1067.9,1066.9 L1068.0,1068.1 L1068.1,1069.4 L1068.2,1070.6 L1068.3,1071.8 L1068.4,1073.0 L1068.5,1074.2 L1068.6,1075.4 L1068.7,1076.6 L1068.8,1077.8 L1068.9,1079.0 L1069.1,1080.2 L1069.2,1081.4 L1069.3,1082.6 L1069.4,1083.8 L1069.5,1084.9 L1069.6,1086.1 L1069.7,1087.3 L1069.7,1088.5 L1069.8,1089.7 L1069.9,1090.9 L1070.0,1092.1 L1070.1,1093.3 L1070.1,1094.5 L1070.2,1095.7 L1070.3,1096.9 L1070.3,1098.1 L1070.4,1099.3 L1070.4,1100.5 L1070.4,1101.7 L1070.5,1102.9 L1070.5,1104.1 L1070.6,1105.3 L1070.6,1106.5 L1070.6,1107.7 L1070.7,1108.9 L1070.7,1110.1 L1070.8,1111.3 L1070.8,1112.5 L1070.9,1113.7 L1071.0,1114.9 L1071.0,1116.1 L1071.1,1117.3 L1071.2,1118.5 L1071.3,1119.8 L1071.5,1121.0 L1071.6,1122.2 L1071.7,1123.4 L1071.9,1124.6 L1072.1,1125.8 L1072.3,1127.0 L1072.5,1128.2 L1072.7,1129.4 L1073.0,1130.6 L1073.3,1131.8 L1073.5,1133.0 L1073.9,1134.2 L1074.2,1135.4 L1074.6,1136.5 L1075.0,1137.6 L1075.5,1138.7 L1076.0,1139.6 L1076.6,1140.3 L1077.2,1140.9 L1078.0,1141.2 L1078.8,1141.3 L1079.8,1141.1 L1080.8,1140.6 L1082.0,1139.9 L1083.0,1139.5 L1083.8,1139.9 L1084.4,1140.7 L1085.0,1141.7 L1085.5,1142.8 L1086.0,1143.8 L1086.4,1144.9 L1086.8,1146.0 L1087.2,1147.1 L1087.6,1148.3 L1087.9,1149.5 L1088.2,1150.6 L1088.5,1151.8 L1088.7,1153.1 L1089.0,1154.3 L1089.2,1155.5 L1089.4,1156.7 L1089.7,1158.0 L1089.9,1159.2 L1090.1,1160.5 L1090.3,1161.7 L1090.5,1162.9 L1090.7,1164.2 L1091.0,1165.4 L1091.2,1166.6 L1091.5,1167.8 L1091.8,1169.0 L1092.1,1170.1 L1092.5,1171.2 L1092.9,1172.3 L1093.3,1173.4 L1093.8,1174.4 L1094.3,1175.4 L1094.9,1176.3 L1095.6,1177.2 L1096.3,1178.0 L1097.2,1178.6 L1098.2,1178.8 L1099.4,1178.7 L1100.7,1178.2 L1102.0,1177.7 L1103.2,1177.3 L1104.2,1177.1 L1105.1,1177.4 L1105.7,1177.9 L1106.1,1178.7 L1106.5,1179.8 L1106.7,1181.0 L1106.8,1182.4 L1106.9,1183.9 L1106.9,1185.5 L1106.9,1187.2 L1106.9,1188.9 L1107.0,1190.5 L1107.1,1192.1 L1107.4,1193.6 L1107.7,1195.0 L1108.1,1196.2 L1108.6,1197.4 L1109.2,1198.4 L1109.9,1199.4 L1110.7,1200.2 L1111.5,1201.0 L1112.4,1201.8 L1113.3,1202.5 L1114.2,1203.1 L1115.2,1203.8 L1116.1,1204.4 L1117.1,1205.0 L1118.1,1205.6 L1119.0,1206.3 L1120.0,1206.9 L1120.9,1207.6 L1121.8,1208.4 L1122.6,1209.1 L1123.4,1210.0 L1124.2,1210.8 L1125.0,1211.7 L1125.7,1212.6 L1126.4,1213.5 L1127.1,1214.5 L1127.8,1215.5 L1128.4,1216.5 L1129.0,1217.5 L1129.7,1218.5 L1130.3,1219.6 L1130.9,1220.7 L1131.4,1221.7 L1132.0,1222.8 L1132.6,1223.9 L1133.1,1225.0 L1133.7,1226.1 L1134.3,1227.2 L1134.8,1228.3 L1135.4,1229.4 L1135.9,1230.5 L1136.5,1231.6 L1137.1,1232.7 L1137.6,1233.7 L1138.2,1234.8 L1138.8,1235.8 L1139.4,1236.9 L1140.0,1237.9 L1140.6,1239.0 L1141.2,1240.0 L1141.8,1241.0 L1142.4,1242.0 L1143.0,1243.0 L1143.6,1244.1 L1144.2,1245.1 L1144.8,1246.1 L1145.4,1247.1 L1146.1,1248.1 L1146.7,1249.1 L1147.3,1250.1 L1148.0,1251.1 L1148.6,1252.1 L1149.3,1253.2 L1149.9,1254.2 L1150.6,1255.2 L1151.2,1256.2 L1151.9,1257.2 L1152.6,1258.2 L1153.2,1259.2 L1153.9,1260.2 L1154.6,1261.2 L1155.3,1262.2 L1156.0,1263.2 L1156.7,1264.2 L1157.4,1265.2 L1158.1,1266.1 L1158.8,1267.1 L1159.5,1268.1 L1160.2,1269.1 L1161.0,1270.0 L1161.7,1271.0 L1162.5,1271.9 L1163.2,1272.9 L1164.0,1273.8 L1164.7,1274.8 L1165.5,1275.7 L1166.3,1276.6 L1167.1,1277.5 L1167.8,1278.4 L1168.6,1279.3 L1169.4,1280.2 L1170.3,1281.1 L1171.1,1282.0 L1171.9,1282.9 L1172.7,1283.7 L1173.6,1284.6 L1174.4,1285.4 L1175.2,1286.3 L1176.1,1287.1 L1176.9,1288.0 L1177.8,1288.8 L1178.7,1289.6 L1179.5,1290.4 L1180.4,1291.3 L1181.3,1292.1 L1182.1,1292.9 L1183.0,1293.7 L1183.9,1294.5 L1184.8,1295.3 L1185.7,1296.1 L1186.6,1296.9 L1187.5,1297.7 L1188.4,1298.5 L1189.3,1299.3 L1190.2,1300.1 L1191.1,1300.9 L1192.0,1301.6 L1192.9,1302.4 L1193.8,1303.2 L1194.7,1304.0 L1195.6,1304.8 L1196.5,1305.5 L1197.4,1306.3 L1198.3,1307.1 L1199.2,1307.9 L1200.2,1308.7 L1201.1,1309.5 L1202.0,1310.2 L1202.9,1311.0 L1203.8,1311.8 L1204.7,1312.6 L1205.6,1313.4 L1206.5,1314.2 L1207.4,1315.0 L1208.3,1315.8 L1209.2,1316.6 L1210.1,1317.4 L1211.0,1318.2 L1211.9,1319.0 L1212.8,1319.8 L1213.6,1320.6 L1214.5,1321.4 L1215.4,1322.3 L1216.3,1323.1 L1217.2,1323.9 L1218.0,1324.7 L1218.9,1325.6 L1219.8,1326.4 L1220.7,1327.2 L1221.6,1328.0 L1222.4,1328.8 L1223.3,1329.6 L1224.2,1330.4 L1225.1,1331.2 L1226.0,1332.0 L1226.9,1332.8 L1227.8,1333.6 L1228.7,1334.4 L1229.7,1335.1 L1230.6,1335.9 L1231.5,1336.6 L1232.5,1337.3 L1233.5,1338.0 L1234.4,1338.7 L1235.4,1339.4 L1236.4,1340.1 L1237.4,1340.8 L1238.4,1341.4 L1239.3,1342.1 L1240.3,1342.8 L1241.3,1343.4 L1242.3,1344.1 L1243.3,1344.8 L1244.3,1345.5 L1245.2,1346.2 L1246.2,1347.0 L1247.1,1347.7 L1248.1,1348.5 L1249.0,1349.2 L1249.9,1350.0 L1250.8,1350.8 L1251.8,1351.6 L1252.7,1352.4 L1253.6,1353.2 L1254.5,1354.0 L1255.4,1354.8 L1256.3,1355.6 L1257.2,1356.4 L1258.2,1357.2 L1259.1,1358.0 L1260.0,1358.8 L1260.9,1359.5 L1261.9,1360.3 L1262.8,1361.0 L1263.8,1361.7 L1264.7,1362.4 L1265.7,1363.1 L1266.7,1363.8 L1267.7,1364.4 L1268.7,1365.1 L1269.8,1365.7 L1270.8,1366.2 L1271.9,1366.8 L1272.9,1367.4 L1274.0,1367.9 L1275.1,1368.4 L1276.2,1368.9 L1277.2,1369.5 L1278.3,1370.0 L1279.4,1370.5 L1280.5,1371.0 L1281.6,1371.5 L1282.7,1372.1 L1283.7,1372.6 L1284.8,1373.2 L1285.8,1373.7 L1286.9,1374.3 L1287.9,1375.0 L1288.9,1375.6 L1289.9,1376.2 L1290.9,1376.9 L1291.9,1377.6 L1292.9,1378.3 L1293.9,1379.0 L1294.9,1379.6 L1295.9,1380.2 L1296.9,1380.8 L1298.0,1381.3 L1299.1,1381.8 L1300.2,1382.2 L1301.3,1382.5 L1302.4,1382.8 L1303.6,1383.0 L1304.8,1383.3 L1306.0,1383.5 L1307.2,1383.7 L1308.4,1383.9 L1309.6,1384.1 L1310.8,1384.3 L1312.0,1384.5 L1313.1,1384.8 L1314.3,1385.1 L1315.5,1385.5 L1316.6,1385.9 L1317.7,1386.4 L1318.8,1386.9 L1319.8,1387.6 L1320.8,1388.3" stroke="#000000"/>
<path d="M802.2,1357.6 L803.3,1357.3 L804.5,1356.9 L805.6,1356.5 L806.7,1356.1 L807.9,1355.7 L809.0,1355.3 L810.1,1354.9 L811.3,1354.5 L812.4,1354.1 L813.5,1353.7 L814.6,1353.3 L815.8,1352.9 L816.9,1352.5 L818.0,1352.1 L819.1,1351.6 L820.3,1351.2 L821.4,1350.8 L822.5,1350.4 L823.6,1349.9 L824.7,1349.5 L825.9,1349.0 L827.0,1348.6 L828.1,1348.1 L829.2,1347.7 L830.3,1347.2 L831.4,1346.8 L832.5,1346.3 L833.6,1345.8 L834.8,1345.4 L835.9,1344.9 L837.0,1344.4 L838.1,1344.0 L839.2,1343.5 L840.3,1343.0 L841.4,1342.5 L842.5,1342.0 L843.6,1341.5 L844.7,1341.0 L845.8,1340.5 L846.9,1340.0 L847.9,1339.5 L849.0,1339.0 L850.1,1338.5 L851.2,1338.0 L852.3,1337.4 L853.4,1336.9 L854.5,1336.4 L855.6,1335.9 L856.6,1335.3 L857.7,1334.8 L858.8,1334.3 L859.9,1333.7 L860.9,1333.2 L862.0,1332.6 L863.1,1332.1 L864.2,1331.5 L865.2,1331.0 L866.3,1330.4 L867.4,1329.9 L868.4,1329.3 L869.5,1328.7 L870.5,1328.1 L871.6,1327.6 L872.7,1327.0 L873.7,1326.4 L874.8,1325.8 L875.8,1325.2 L876.9,1324.7 L877.9,1324.1 L879.0,1323.5 L880.0,1322.9 L881.0,1322.3 L882.1,1321.7 L883.1,1321.1 L884.2,1320.4 L885.2,1319.8 L886.2,1319.2 L887.3,1318.6 L888.3,1318.0 L889.3,1317.4 L890.3,1316.7 L891.4,1316.1 L892.4,1315.5 L893.4,1314.8 L894.4,1314.2 L895.4,1313.5 L896.5,1312.9 L897.5,1312.3 L898.5,1311.6 L899.5,1311.0 L900.5,1310.3 L901.5,1309.6 L902.5,1309.0 L903.5,1308.3 L904.5,1307.6 L905.5,1307.0 L906.5,1306.3 L907.5,1305.6 L908.5,1304.9 L909.5,1304.3 L910.5,1303.6 L911.4,1302.9 L912.4,1302.2 L913.4,1301.5 L914.4,1300.8 L915.3,1300.1 L916.3,1299.4 L917.3,1298.7 L918.3,1298.0 L919.2,1297.3 L920.2,1296.6 L921.1,1295.9 L922.1,1295.1 L923.1,1294.4 L924.0,1293.7 L925.0,1293.0 L925.9,1292.2 L926.8,1291.5 L927.8,1290.8 L928.7,1290.0 L929.6,1289.3 L930.6,1288.5 L931.5,1287.8 L932.4,1287.0 L933.3,1286.2 L934.2,1285.5 L935.2,1284.7 L936.1,1283.9 L937.0,1283.1 L937.9,1282.3 L938.8,1281.6 L939.6,1280.8 L940.5,1280.0 L941.4,1279.2 L942.3,1278.3 L943.2,1277.5 L944.0,1276.7 L944.9,1275.9 L945.7,1275.1 L946.6,1274.2 L947.4,1273.4 L948.3,1272.5 L949.1,1271.7 L949.9,1270.8 L950.8,1270.0 L951.6,1269.1 L952.4,1268.2 L953.2,1267.4 L954.0,1266.5 L954.8,1265.6 L955.6,1264.7 L956.4,1263.8 L957.2,1262.9 L957.9,1262.0 L958.7,1261.0 L959.5,1260.1 L960.2,1259.2 L961.0,1258.2 L961.7,1257.3 L962.5,1256.3 L963.2,1255.4 L963.9,1254.4 L964.7,1253.5 L965.4,1252.5 L966.1,1251.6 L966.9,1250.6 L967.6,1249.6 L968.3,1248.6 L969.0,1247.7 L969.7,1246.7 L970.4,1245.7 L971.2,1244.7 L971.9,1243.8 L972.6,1242.8 L973.3,1241.8 L974.0,1240.8 L974.7,1239.9 L975.5,1238.9 L976.2,1237.9 L976.9,1236.9 L977.6,1236.0 L978.4,1235.0 L979.1,1234.0 L979.8,1233.1 L980.6,1232.1 L981.3,1231.2 L982.1,1230.2 L982.8,1229.3 L983.6,1228.4 L984.3,1227.4 L985.1,1226.5 L985.9,1225.6 L986.7,1224.7 L987.5,1223.8 L988.3,1222.9 L989.1,1222.0 L989.9,1221.1 L990.7,1220.2 L991.6,1219.4 L992.4,1218.5 L993.3,1217.6 L994.1,1216.8 L995.0,1216.0 L995.9,1215.1 L996.7,1214.3 L997.6,1213.5 L998.5,1212.7 L999.4,1211.8 L1000.2,1211.0 L1001.1,1210.2 L1002.0,1209.4 L1002.8,1208.5 L1003.7,1207.7 L1004.5,1206.8 L1005.3,1206.0 L1006.2,1205.1 L1007.0,1204.2 L1007.8,1203.3 L1008.5,1202.4 L1009.3,1201.5 L1010.0,1200.6 L1010.7,1199.6 L1011.4,1198.7 L1012.1,1197.7 L1012.7,1196.7 L1013.3,1195.7 L1013.9,1194.6 L1014.5,1193.6 L1015.0,1192.5 L1015.6,1191.4 L1016.1,1190.3 L1016.6,1189.2 L1017.1,1188.1 L1017.5,1186.9 L1018.0,1185.8 L1018.5,1184.7 L1018.9,1183.5 L1019.3,1182.4 L1019.8,1181.3 L1020.2,1180.1 L1020.6,1179.0 L1021.0,1177.8 L1021.4,1176.7 L1021.8,1175.5 L1022.2,1174.4 L1022.6,1173.3 L1022.9,1172.1 L1023.3,1171.0 L1023.7,1169.8 L1024.0,1168.7 L1024.4,1167.5 L1024.8,1166.4 L1025.1,1165.3 L1025.5,1164.1 L1025.8,1163.0 L1026.1,1161.8 L1026.5,1160.7 L1026.8,1159.5 L1027.1,1158.4 L1027.5,1157.2 L1027.8,1156.1 L1028.1,1154.9 L1028.4,1153.8 L1028.7,1152.7 L1029.0,1151.5 L1029.3,1150.4 L1029.6,1149.2 L1029.9,1148.0 L1030.2,1146.9 L1030.5,1145.7 L1030.8,1144.6 L1031.1,1143.4 L1031.4,1142.3 L1031.6,1141.1 L1031.9,1140.0 L1032.2,1138.8 L1032.5,1137.6 L1032.8,1136.5 L1033.0,1135.3 L1033.3,1134.2 L1033.6,1133.0 L1033.9,1131.8 L1034.1,1130.7 L1034.4,1129.5 L1034.7,1128.3 L1035.0,1127.2 L1035.2,1126.0 L1035.5,1124.8 L1035.8,1123.6 L1036.0,1122.5 L1036.3,1121.3 L1036.6,1120.1 L1036.8,1118.9 L1037.1,1117.7 L1037.4,1116.6 L1037.7,1115.4 L1037.9,1114.2 L1038.2,1113.0 L1038.5,1111.8 L1038.7,1110.6 L1039.0,1109.5 L1039.3,1108.3 L1039.5,1107.1 L1039.8,1105.9 L1040.1,1104.7 L1040.3,1103.5 L1040.6,1102.3 L1040.9,1101.1 L1041.1,1099.9 L1041.4,1098.8 L1041.7,1097.6 L1041.9,1096.4 L1042.2,1095.2 L1042.4,1094.0 L1042.7,1092.8 L1042.9,1091.6 L1043.2,1090.4 L1043.5,1089.2 L1043.7,1088.0 L1043.9,1086.8 L1044.2,1085.7 L1044.4,1084.5 L1044.7,1083.3 L1044.9,1082.1 L1045.2,1080.9 L1045.4,1079.7 L1045.6,1078.5 L1045.9,1077.4 L1046.1,1076.2 L1046.3,1075.0 L1046.5,1073.8 L1046.8,1072.6 L1047.0,1071.5 L1047.2,1070.3 L1047.4,1069.1 L1047.6,1067.9 L1047.8,1066.8 L1048.0,1065.6 L1048.2,1064.4 L1048.4,1063.3 L1048.6,1062.1 L1048.8,1060.9 L1049.0,1059.8 L1049.2,1058.6 L1049.4,1057.5 L1049.6,1056.3 L1049.8,1055.2 L1049.9,1054.0 L1050.1,1052.8 L1050.3,1051.7 L1050.5,1050.5 L1050.6,1049.4 L1050.8,1048.2 L1050.9,1047.1 L1051.1,1045.9 L1051.3,1044.8 L1051.4,1043.6 L1051.6,1042.5 L1051.7,1041.3 L1051.9,1040.1 L1052.0,1039.0 L1052.2,1037.8 L1052.4,1036.7 L1052.5,1035.5 L1052.7,1034.3 L1052.8,1033.1 L1053.0,1032.0 L1053.1,1030.8 L1053.3,1029.6 L1053.4,1028.4 L1053.6,1027.2 L1053.7,1026.0 L1053.9,1024.8 L1054.0,1023.6 L1054.2,1022.4 L1054.3,1021.2 L1054.5,1020.0 L1054.6,1018.7 L1054.8,1017.5 L1055.0,1016.3 L1055.1,1015.0 L1055.3,1013.8 L1055.4,1012.5 L1055.6,1011.2 L1055.8,1010.0 L1056.0,1008.7 L1056.1,1007.4 L1056.3,1006.1 L1056.5,1004.8 L1056.7,1003.5 L1056.8,1002.2 L1057.0,1000.8 L1057.2,999.5 L1057.4,998.1 L1057.6,996.8 L1057.8,995.4 L1058.0,994.0 L1058.2,992.7 L1058.4,991.3 L1058.7,989.9 L1058.9,988.6 L1059.1,987.3 L1059.3,986.1 L1059.6,985.0 L1059.8,984.0 L1060.0,983.0 L1060.2,982.2 L1060.5,981.5 L1060.7,980.9 L1061.0,980.5 L1061.2,980.2 L1061.4,980.2 L1061.7,980.3 L1061.9,980.5 L1062.2,981.0 L1062.4,981.6 L1062.7,982.3 L1062.9,983.1 L1063.1,984.1 L1063.4,985.2 L1063.6,986.3 L1063.8,987.6 L1064.1,988.9 L1064.3,990.3 L1064.5,991.7 L1064.7,993.2 L1064.9,994.7 L1065.2,996.2 L1065.3,997.7 L1065.5,999.2 L1065.7,1000.8 L1065.9,1002.2 L1066.1,1003.7 L1066.2,1005.1 L1066.4,1006.5 L1066.5,1007.9 L1066.7,1009.3 L1066.8,1010.6 L1067.0,1011.9 L1067.1,1013.2 L1067.2,1014.4 L1067.3,1015.7 L1067.5,1016.9 L1067.6,1018.1 L1067.7,1019.3 L1067.8,1020.5 L1067.9,1021.6 L1068.0,1022.8 L1068.2,1023.9 L1068.3,1025.1 L1068.4,1026.3 L1068.5,1027.4 L1068.7,1028.6 L1068.8,1029.7 L1068.9,1030.9 L1069.1,1032.0 L1069.2,1033.2 L1069.3,1034.3 L1069.5,1035.5 L1069.6,1036.7 L1069.8,1037.8 L1070.0,1039.0 L1070.1,1040.2 L1070.3,1041.3 L1070.5,1042.5 L1070.6,1043.7 L1070.8,1044.9 L1071.0,1046.0 L1071.2,1047.2 L1071.4,1048.4 L1071.6,1049.6 L1071.8,1050.7 L1072.0,1051.9 L1072.2,1053.1 L1072.4,1054.3 L1072.6,1055.4 L1072.8,1056.6 L1073.0,1057.8 L1073.2,1059.0 L1073.4,1060.2 L1073.7,1061.4 L1073.9,1062.5 L1074.1,1063.7 L1074.4,1064.9 L1074.6,1066.1 L1074.8,1067.3 L1075.1,1068.4 L1075.3,1069.6 L1075.6,1070.8 L1075.9,1072.0 L1076.1,1073.2 L1076.4,1074.3 L1076.6,1075.5 L1076.9,1076.7 L1077.2,1077.9 L1077.5,1079.0 L1077.8,1080.2 L1078.0,1081.4 L1078.3,1082.6 L1078.6,1083.7 L1078.9,1084.9 L1079.2,1086.1 L1079.5,1087.2 L1079.8,1088.4 L1080.1,1089.6 L1080.4,1090.7 L1080.8,1091.9 L1081.1,1093.1 L1081.4,1094.2 L1081.7,1095.4 L1082.0,1096.5 L1082.4,1097.7 L1082.7,1098.9 L1083.0,1100.0 L1083.4,1101.2 L1083.7,1102.3 L1084.1,1103.5 L1084.4,1104.6 L1084.7,1105.8 L1085.1,1106.9 L1085.4,1108.1 L1085.8,1109.2 L1086.2,1110.4 L1086.5,1111.5 L1086.9,1112.7 L1087.2,1113.8 L1087.6,1114.9 L1088.0,1116.1 L1088.3,1117.2 L1088.7,1118.4 L1089.1,1119.5 L1089.5,1120.7 L1089.8,1121.8 L1090.2,1122.9 L1090.6,1124.1 L1091.0,1125.2 L1091.4,1126.3 L1091.7,1127.5 L1092.1,1128.6 L1092.5,1129.8 L1092.9,1130.9 L1093.3,1132.0 L1093.7,1133.2 L1094.1,1134.3 L1094.4,1135.4 L1094.8,1136.6 L1095.2,1137.7 L1095.6,1138.8 L1096.0,1140.0 L1096.4,1141.1 L1096.8,1142.2 L1097.2,1143.4 L1097.6,1144.5 L1098.0,1145.6 L1098.4,1146.8 L1098.8,1147.9 L1099.2,1149.0 L1099.6,1150.1 L1100.0,1151.3 L1100.4,1152.4 L1100.7,1153.6 L1101.1,1154.7 L1101.5,1155.8 L1101.9,1157.0 L1102.2,1158.1 L1102.6,1159.3 L1102.9,1160.5 L1103.3,1161.6 L1103.6,1162.8 L1103.9,1164.0 L1104.2,1165.1 L1104.5,1166.3 L1104.8,1167.5 L1105.1,1168.7 L1105.3,1169.9 L1105.6,1171.1 L1105.9,1172.3 L1106.1,1173.6 L1106.4,1174.8 L1106.6,1176.0 L1106.9,1177.2 L1107.1,1178.4 L1107.4,1179.6 L1107.7,1180.8 L1108.0,1182.0 L1108.3,1183.2 L1108.6,1184.3 L1108.9,1185.5 L1109.3,1186.7 L1109.6,1187.8 L1110.0,1188.9 L1110.4,1190.1 L1110.8,1191.2 L1111.3,1192.3 L1111.8,1193.3 L1112.3,1194.4 L1112.8,1195.4 L1113.4,1196.5 L1114.0,1197.5 L1114.6,1198.4 L1115.3,1199.4 L1116.0,1200.3 L1116.7,1201.3 L1117.5,1202.2 L1118.2,1203.1 L1119.0,1204.0 L1119.9,1204.8 L1120.7,1205.7 L1121.5,1206.6 L1122.3,1207.5 L1123.2,1208.3 L1124.0,1209.2 L1124.9,1210.1 L1125.7,1210.9 L1126.5,1211.8 L1127.3,1212.7 L1128.1,1213.6 L1128.9,1214.5 L1129.7,1215.4 L1130.5,1216.3 L1131.3,1217.3 L1132.1,1218.2 L1132.8,1219.1 L1133.6,1220.1 L1134.4,1221.0 L1135.1,1221.9 L1135.9,1222.9 L1136.6,1223.8 L1137.3,1224.8 L1138.1,1225.7 L1138.8,1226.7 L1139.5,1227.7 L1140.3,1228.6 L1141.0,1229.6 L1141.7,1230.6 L1142.4,1231.6 L1143.1,1232.5 L1143.8,1233.5 L1144.5,1234.5 L1145.2,1235.5 L1145.9,1236.5 L1146.6,1237.4 L1147.3,1238.4 L1148.0,1239.4 L1148.7,1240.4 L1149.4,1241.4 L1150.1,1242.4 L1150.8,1243.3 L1151.5,1244.3 L1152.2,1245.3 L1152.9,1246.3 L1153.6,1247.3 L1154.3,1248.3 L1155.0,1249.2 L1155.7,1250.2 L1156.4,1251.2 L1157.1,1252.2 L1157.8,1253.1 L1158.6,1254.1 L1159.3,1255.1 L1160.0,1256.0 L1160.7,1257.0 L1161.5,1257.9 L1162.2,1258.9 L1162.9,1259.8 L1163.7,1260.8 L1164.4,1261.7 L1165.2,1262.7 L1165.9,1263.6 L1166.7,1264.5 L1167.4,1265.4 L1168.2,1266.4 L1169.0,1267.3 L1169.8,1268.2 L1170.6,1269.1 L1171.4,1270.0 L1172.1,1270.9 L1172.9,1271.8 L1173.7,1272.7 L1174.6,1273.5 L1175.4,1274.4 L1176.2,1275.3 L1177.0,1276.2 L1177.8,1277.0 L1178.7,1277.9 L1179.5,1278.7 L1180.3,1279.6 L1181.2,1280.4 L1182.0,1281.3 L1182.9,1282.1 L1183.8,1282.9 L1184.6,1283.8 L1185.5,1284.6 L1186.4,1285.4 L1187.2,1286.2 L1188.1,1287.0 L1189.0,1287.8 L1189.9,1288.6 L1190.8,1289.4 L1191.7,1290.2 L1192.6,1291.0 L1193.5,1291.8 L1194.4,1292.5 L1195.3,1293.3 L1196.2,1294.1 L1197.2,1294.8 L1198.1,1295.6 L1199.0,1296.3 L1199.9,1297.1 L1200.9,1297.8 L1201.8,1298.6 L1202.8,1299.3 L1203.7,1300.0 L1204.7,1300.7 L1205.6,1301.4 L1206.6,1302.2 L1207.6,1302.9 L1208.5,1303.6 L1209.5,1304.3 L1210.5,1304.9 L1211.5,1305.6 L1212.4,1306.3 L1213.4,1307.0 L1214.4,1307.7 L1215.4,1308.3 L1216.4,1309.0 L1217.4,1309.6 L1218.4,1310.3 L1219.4,1310.9 L1220.4,1311.6 L1221.4,1312.2 L1222.5,1312.8 L1223.5,1313.5 L1224.5,1314.1 L1225.5,1314.7 L1226.6,1315.3 L1227.6,1315.9 L1228.6,1316.5 L1229.7,1317.2 L1230.7,1317.7 L1231.7,1318.3 L1232.8,1318.9 L1233.8,1319.5 L1234.9,1320.1 L1235.9,1320.7 L1237.0,1321.3 L1238.0,1321.8 L1239.1,1322.4 L1240.2,1323.0 L1241.2,1323.5 L1242.3,1324.1 L1243.4,1324.6 L1244.4,1325.2 L1245.5,1325.7 L1246.6,1326.3 L1247.7,1326.8 L1248.7,1327.4 L1249.8,1327.9 L1250.9,1328.4 L1252.0,1329.0 L1253.1,1329.5 L1254.2,1330.0 L1255.3,1330.5 L1256.3,1331.0 L1257.4,1331.6 L1258.5,1332.1 L1259.6,1332.6 L1260.7,1333.1 L1261.8,1333.6 L1262.9,1334.1 L1264.0,1334.6 L1265.1,1335.1 L1266.2,1335.6 L1267.3,1336.1 L1268.4,1336.5 L1269.6,1337.0 L1270.7,1337.5 L1271.8,1338.0 L1272.9,1338.5 L1274.0,1338.9 L1275.1,1339.4 L1276.2,1339.9 L1277.3,1340.4 L1278.4,1340.8 L1279.6,1341.3 L1280.7,1341.8 L1281.8,1342.2 L1282.9,1342.7 L1284.0,1343.1 L1285.1,1343.6 L1286.3,1344.1 L1287.4,1344.5 L1288.5,1345.0 L1289.6,1345.4 L1290.7,1345.9 L1291.8,1346.3 L1293.0,1346.8 L1294.1,1347.2 L1295.2,1347.7 L1296.3,1348.1 L1297.4,1348.5 L1298.6,1349.0 L1299.7,1349.4 L1300.8,1349.9 L1301.9,1350.3 L1303.0,1350.7 L1304.2,1351.2 L1305.3,1351.6 L1306.4,1352.0 L1307.5,1352.5 L1308.6,1352.9 L1309.7,1353.3 L1310.8,1353.8 L1312.0,1354.2 L1313.1,1354.6 L1314.2,1355.1 L1315.3,1355.5 L1316.4,1355.9 L1317.5,1356.4 L1318.6,1356.8 L1319.7,1357.2 L1320.8,1357.6" stroke="#0000ff"/>
<path d="M802.2,1378.5 L803.4,1378.2 L804.6,1378.0 L805.8,1377.8 L806.9,1377.5 L808.1,1377.3 L809.3,1377.0 L810.5,1376.7 L811.6,1376.5 L812.8,1376.2 L814.0,1375.9 L815.1,1375.6 L816.3,1375.3 L817.5,1375.0 L818.6,1374.6 L819.8,1374.3 L820.9,1374.0 L822.1,1373.6 L823.2,1373.3 L824.4,1372.9 L825.5,1372.5 L826.7,1372.2 L827.8,1371.8 L828.9,1371.4 L830.0,1371.0 L831.2,1370.6 L832.3,1370.1 L833.4,1369.7 L834.5,1369.3 L835.7,1368.9 L836.8,1368.4 L837.9,1368.0 L839.0,1367.5 L840.1,1367.0 L841.2,1366.6 L842.3,1366.1 L843.4,1365.6 L844.5,1365.1 L845.6,1364.6 L846.6,1364.1 L847.7,1363.6 L848.8,1363.0 L849.9,1362.5 L850.9,1362.0 L852.0,1361.4 L853.1,1360.9 L854.1,1360.3 L855.2,1359.7 L856.3,1359.2 L857.3,1358.6 L858.4,1358.0 L859.4,1357.4 L860.5,1356.8 L861.5,1356.2 L862.5,1355.6 L863.6,1355.0 L864.6,1354.4 L865.6,1353.7 L866.6,1353.1 L867.7,1352.5 L868.7,1351.8 L869.7,1351.1 L870.7,1350.5 L871.7,1349.8 L872.7,1349.1 L873.7,1348.5 L874.7,1347.8 L875.7,1347.1 L876.7,1346.4 L877.7,1345.7 L878.7,1345.0 L879.6,1344.3 L880.6,1343.6 L881.6,1342.9 L882.6,1342.2 L883.6,1341.5 L884.6,1340.8 L885.5,1340.1 L886.5,1339.4 L887.5,1338.7 L888.5,1338.0 L889.5,1337.3 L890.5,1336.6 L891.5,1336.0 L892.5,1335.3 L893.5,1334.7 L894.5,1334.0 L895.6,1333.4 L896.6,1332.8 L897.6,1332.2 L898.7,1331.6 L899.7,1331.0 L900.7,1330.4 L901.8,1329.8 L902.9,1329.3 L903.9,1328.8 L905.0,1328.2 L906.1,1327.7 L907.2,1327.3 L908.3,1326.8 L909.4,1326.3 L910.6,1325.9 L911.7,1325.5 L912.8,1325.0 L913.9,1324.6 L915.1,1324.2 L916.2,1323.8 L917.3,1323.4 L918.5,1323.0 L919.6,1322.5 L920.7,1322.1 L921.8,1321.7 L923.0,1321.3 L924.1,1320.8 L925.2,1320.4 L926.3,1319.9 L927.4,1319.4 L928.5,1318.9 L929.5,1318.4 L930.6,1317.9 L931.6,1317.4 L932.7,1316.8 L933.7,1316.2 L934.7,1315.6 L935.7,1314.9 L936.7,1314.3 L937.7,1313.6 L938.6,1312.9 L939.6,1312.1 L940.5,1311.4 L941.4,1310.6 L942.3,1309.8 L943.2,1309.0 L944.0,1308.2 L944.9,1307.4 L945.7,1306.5 L946.6,1305.6 L947.4,1304.7 L948.2,1303.8 L948.9,1302.9 L949.7,1302.0 L950.5,1301.0 L951.2,1300.1 L951.9,1299.1 L952.6,1298.1 L953.3,1297.1 L954.0,1296.1 L954.7,1295.1 L955.4,1294.1 L956.0,1293.1 L956.6,1292.1 L957.2,1291.0 L957.8,1290.0 L958.4,1288.9 L959.0,1287.9 L959.6,1286.8 L960.1,1285.8 L960.6,1284.7 L961.2,1283.6 L961.7,1282.6 L962.2,1281.5 L962.7,1280.4 L963.2,1279.3 L963.7,1278.2 L964.2,1277.2 L964.7,1276.1 L965.2,1275.0 L965.7,1273.9 L966.2,1272.8 L966.7,1271.7 L967.1,1270.6 L967.6,1269.6 L968.1,1268.5 L968.6,1267.4 L969.2,1266.3 L969.7,1265.2 L970.2,1264.1 L970.7,1263.0 L971.3,1262.0 L971.8,1260.9 L972.4,1259.8 L973.0,1258.7 L973.6,1257.7 L974.2,1256.6 L974.8,1255.6 L975.4,1254.5 L976.1,1253.5 L976.8,1252.4 L977.5,1251.4 L978.2,1250.3 L978.9,1249.3 L979.7,1248.3 L980.4,1247.4 L981.2,1246.4 L982.0,1245.5 L982.9,1244.6 L983.7,1243.7 L984.6,1242.9 L985.5,1242.1 L986.4,1241.3 L987.3,1240.5 L988.3,1239.8 L989.2,1239.2 L990.2,1238.6 L991.2,1238.0 L992.3,1237.5 L993.3,1237.0 L994.4,1236.6 L995.5,1236.2 L996.7,1235.9 L997.8,1235.7 L999.0,1235.5 L1000.2,1235.4 L1001.3,1235.3 L1002.5,1235.1 L1003.7,1235.0 L1004.8,1234.8 L1006.0,1234.6 L1007.1,1234.3 L1008.1,1234.0 L1009.1,1233.5 L1010.0,1232.9 L1010.9,1232.3 L1011.8,1231.6 L1012.6,1230.8 L1013.4,1230.0 L1014.2,1229.1 L1015.0,1228.2 L1015.7,1227.3 L1016.5,1226.3 L1017.2,1225.3 L1018.0,1224.3 L1018.8,1223.3 L1019.5,1222.3 L1020.3,1221.4 L1021.1,1220.4 L1022.0,1219.5 L1022.8,1218.6 L1023.6,1217.6 L1024.4,1216.7 L1025.2,1215.8 L1025.9,1214.8 L1026.7,1213.9 L1027.4,1212.9 L1028.0,1211.9 L1028.6,1210.9 L1029.2,1209.9 L1029.8,1208.9 L1030.3,1207.8 L1030.8,1206.8 L1031.2,1205.7 L1031.6,1204.6 L1032.0,1203.5 L1032.4,1202.4 L1032.7,1201.2 L1033.0,1200.1 L1033.3,1198.9 L1033.6,1197.8 L1033.9,1196.6 L1034.1,1195.4 L1034.3,1194.2 L1034.6,1193.0 L1034.8,1191.8 L1035.0,1190.6 L1035.1,1189.4 L1035.3,1188.2 L1035.5,1187.0 L1035.7,1185.8 L1035.8,1184.6 L1036.0,1183.4 L1036.2,1182.2 L1036.4,1181.0 L1036.6,1179.8 L1036.8,1178.6 L1037.0,1177.4 L1037.2,1176.2 L1037.4,1175.0 L1037.6,1173.8 L1037.8,1172.6 L1038.0,1171.4 L1038.3,1170.2 L1038.5,1169.1 L1038.8,1167.9 L1039.0,1166.7 L1039.3,1165.5 L1039.5,1164.4 L1039.8,1163.2 L1040.0,1162.0 L1040.3,1160.9 L1040.6,1159.7 L1040.8,1158.5 L1041.1,1157.4 L1041.4,1156.2 L1041.6,1155.1 L1041.9,1153.9 L1042.2,1152.7 L1042.5,1151.6 L1042.7,1150.4 L1043.0,1149.3 L1043.3,1148.1 L1043.6,1146.9 L1043.8,1145.8 L1044.1,1144.6 L1044.4,1143.5 L1044.6,1142.3 L1044.9,1141.1 L1045.1,1140.0 L1045.4,1138.8 L1045.6,1137.7 L1045.9,1136.5 L1046.1,1135.3 L1046.4,1134.2 L1046.6,1133.0 L1046.8,1131.8 L1047.1,1130.6 L1047.3,1129.5 L1047.5,1128.3 L1047.7,1127.1 L1047.9,1125.9 L1048.1,1124.8 L1048.3,1123.6 L1048.5,1122.4 L1048.6,1121.2 L1048.8,1120.0 L1049.0,1118.8 L1049.1,1117.6 L1049.3,1116.4 L1049.5,1115.2 L1049.6,1114.0 L1049.8,1112.8 L1049.9,1111.6 L1050.0,1110.4 L1050.2,1109.2 L1050.3,1108.0 L1050.4,1106.8 L1050.5,1105.6 L1050.7,1104.4 L1050.8,1103.2 L1050.9,1102.0 L1051.0,1100.8 L1051.1,1099.6 L1051.2,1098.4 L1051.3,1097.2 L1051.4,1095.9 L1051.5,1094.7 L1051.6,1093.5 L1051.7,1092.3 L1051.7,1091.1 L1051.8,1089.9 L1051.9,1088.7 L1052.0,1087.5 L1052.1,1086.2 L1052.1,1085.0 L1052.2,1083.8 L1052.3,1082.6 L1052.3,1081.4 L1052.4,1080.2 L1052.5,1079.0 L1052.5,1077.8 L1052.6,1076.5 L1052.7,1075.3 L1052.7,1074.1 L1052.8,1072.9 L1052.9,1071.7 L1052.9,1070.5 L1053.0,1069.3 L1053.0,1068.1 L1053.1,1066.9 L1053.2,1065.7 L1053.2,1064.5 L1053.3,1063.3 L1053.3,1062.1 L1053.4,1060.9 L1053.5,1059.7 L1053.5,1058.5 L1053.6,1057.3 L1053.6,1056.1 L1053.7,1054.9 L1053.8,1053.7 L1053.8,1052.5 L1053.9,1051.3 L1054.0,1050.1 L1054.0,1048.9 L1054.1,1047.7 L1054.2,1046.6 L1054.2,1045.4 L1054.3,1044.2 L1054.4,1043.0 L1054.5,1041.9 L1054.6,1040.7 L1054.6,1039.5 L1054.7,1038.3 L1054.8,1037.2 L1054.9,1036.0 L1055.0,1034.9 L1055.1,1033.7 L1055.2,1032.6 L1055.3,1031.4 L1055.4,1030.3 L1055.5,1029.1 L1055.6,1028.0 L1055.7,1026.8 L1055.9,1025.7 L1056.0,1024.5 L1056.1,1023.4 L1056.3,1022.3 L1056.4,1021.1 L1056.5,1020.0 L1056.7,1018.8 L1056.8,1017.7 L1057.0,1016.5 L1057.1,1015.3 L1057.3,1014.1 L1057.4,1012.8 L1057.6,1011.6 L1057.7,1010.3 L1057.9,1008.9 L1058.1,1007.6 L1058.2,1006.2 L1058.4,1004.7 L1058.6,1003.3 L1058.7,1001.7 L1058.9,1000.2 L1059.1,998.6 L1059.2,997.0 L1059.4,995.5 L1059.6,993.9 L1059.8,992.4 L1059.9,991.0 L1060.1,989.7 L1060.3,988.5 L1060.5,987.4 L1060.6,986.4 L1060.8,985.6 L1061.0,984.9 L1061.1,984.5 L1061.3,984.2 L1061.5,984.2 L1061.6,984.3 L1061.8,984.7 L1061.9,985.3 L1062.1,986.1 L1062.2,987.0 L1062.4,988.1 L1062.5,989.3 L1062.7,990.6 L1062.8,992.0 L1062.9,993.5 L1063.1,995.0 L1063.2,996.6 L1063.3,998.1 L1063.5,999.7 L1063.6,1001.3 L1063.7,1002.8 L1063.8,1004.3 L1064.0,1005.7 L1064.1,1007.1 L1064.2,1008.5 L1064.3,1009.8 L1064.4,1011.0 L1064.5,1012.3 L1064.6,1013.5 L1064.7,1014.7 L1064.8,1015.9 L1064.9,1017.0 L1065.1,1018.1 L1065.2,1019.3 L1065.3,1020.4 L1065.4,1021.5 L1065.5,1022.6 L1065.6,1023.7 L1065.7,1024.8 L1065.8,1025.9 L1066.0,1027.1 L1066.1,1028.2 L1066.2,1029.4 L1066.3,1030.5 L1066.4,1031.7 L1066.6,1032.9 L1066.7,1034.0 L1066.8,1035.2 L1066.9,1036.4 L1067.1,1037.6 L1067.2,1038.8 L1067.3,1040.0 L1067.4,1041.2 L1067.5,1042.4 L1067.7,1043.6 L1067.8,1044.8 L1067.9,1046.0 L1068.0,1047.3 L1068.1,1048.5 L1068.2,1049.7 L1068.3,1050.9 L1068.4,1052.1 L1068.5,1053.3 L1068.6,1054.5 L1068.7,1055.7 L1068.8,1056.9 L1068.9,1058.1 L1069.0,1059.4 L1069.1,1060.6 L1069.1,1061.8 L1069.2,1063.0 L1069.3,1064.2 L1069.4,1065.4 L1069.5,1066.6 L1069.6,1067.8 L1069.6,1069.0 L1069.7,1070.2 L1069.8,1071.4 L1069.9,1072.6 L1070.0,1073.8 L1070.0,1075.0 L1070.1,1076.2 L1070.2,1077.4 L1070.3,1078.6 L1070.4,1079.8 L1070.5,1081.0 L1070.6,1082.2 L1070.7,1083.4 L1070.8,1084.6 L1070.9,1085.8 L1071.0,1087.0 L1071.1,1088.2 L1071.2,1089.4 L1071.3,1090.6 L1071.4,1091.8 L1071.5,1093.0 L1071.6,1094.2 L1071.7,1095.4 L1071.9,1096.6 L1072.0,1097.8 L1072.1,1098.9 L1072.3,1100.1 L1072.4,1101.3 L1072.6,1102.5 L1072.7,1103.7 L1072.9,1104.9 L1073.0,1106.1 L1073.2,1107.3 L1073.4,1108.4 L1073.5,1109.6 L1073.7,1110.8 L1073.9,1112.0 L1074.1,1113.2 L1074.3,1114.4 L1074.5,1115.6 L1074.7,1116.7 L1074.9,1117.9 L1075.1,1119.1 L1075.3,1120.3 L1075.5,1121.5 L1075.8,1122.6 L1076.0,1123.8 L1076.2,1125.0 L1076.5,1126.2 L1076.7,1127.4 L1076.9,1128.5 L1077.2,1129.7 L1077.4,1130.9 L1077.7,1132.1 L1077.9,1133.2 L1078.2,1134.4 L1078.4,1135.6 L1078.7,1136.8 L1079.0,1137.9 L1079.2,1139.1 L1079.5,1140.3 L1079.8,1141.4 L1080.1,1142.6 L1080.3,1143.8 L1080.6,1145.0 L1080.9,1146.1 L1081.2,1147.3 L1081.5,1148.5 L1081.7,1149.6 L1082.0,1150.8 L1082.3,1152.0 L1082.6,1153.1 L1082.9,1154.3 L1083.2,1155.5 L1083.5,1156.6 L1083.8,1157.8 L1084.1,1158.9 L1084.4,1160.1 L1084.7,1161.3 L1085.0,1162.4 L1085.3,1163.6 L1085.6,1164.8 L1085.9,1165.9 L1086.2,1167.1 L1086.5,1168.2 L1086.8,1169.4 L1087.1,1170.6 L1087.3,1171.8 L1087.6,1172.9 L1087.9,1174.1 L1088.1,1175.3 L1088.4,1176.5 L1088.6,1177.6 L1088.8,1178.8 L1089.0,1180.0 L1089.2,1181.2 L1089.4,1182.4 L1089.6,1183.6 L1089.8,1184.8 L1090.0,1186.0 L1090.2,1187.2 L1090.4,1188.4 L1090.6,1189.5 L1090.9,1190.7 L1091.1,1191.9 L1091.4,1193.0 L1091.7,1194.2 L1092.0,1195.3 L1092.4,1196.4 L1092.8,1197.5 L1093.2,1198.6 L1093.7,1199.7 L1094.3,1200.8 L1094.8,1201.8 L1095.5,1202.8 L1096.1,1203.8 L1096.9,1204.8 L1097.6,1205.8 L1098.4,1206.8 L1099.1,1207.7 L1099.9,1208.7 L1100.7,1209.6 L1101.5,1210.6 L1102.3,1211.5 L1103.1,1212.4 L1103.9,1213.3 L1104.7,1214.2 L1105.5,1215.0 L1106.4,1215.8 L1107.2,1216.6 L1108.1,1217.3 L1109.1,1217.9 L1110.0,1218.5 L1111.0,1219.1 L1112.0,1219.5 L1113.1,1219.9 L1114.2,1220.3 L1115.3,1220.7 L1116.4,1221.1 L1117.5,1221.5 L1118.6,1221.9 L1119.6,1222.3 L1120.7,1222.8 L1121.8,1223.3 L1122.8,1223.9 L1123.8,1224.6 L1124.8,1225.3 L1125.7,1226.0 L1126.7,1226.8 L1127.6,1227.6 L1128.4,1228.5 L1129.3,1229.4 L1130.1,1230.2 L1130.9,1231.1 L1131.6,1232.1 L1132.3,1233.0 L1133.0,1234.0 L1133.7,1234.9 L1134.4,1235.9 L1135.0,1236.9 L1135.6,1237.9 L1136.2,1238.9 L1136.8,1239.9 L1137.4,1240.9 L1138.0,1242.0 L1138.6,1243.0 L1139.2,1244.1 L1139.8,1245.1 L1140.3,1246.2 L1140.9,1247.2 L1141.5,1248.3 L1142.0,1249.3 L1142.6,1250.4 L1143.1,1251.5 L1143.7,1252.6 L1144.3,1253.6 L1144.8,1254.7 L1145.4,1255.8 L1145.9,1256.9 L1146.5,1258.0 L1147.0,1259.1 L1147.6,1260.1 L1148.1,1261.2 L1148.7,1262.3 L1149.3,1263.4 L1149.8,1264.5 L1150.4,1265.6 L1150.9,1266.6 L1151.5,1267.7 L1152.1,1268.8 L1152.7,1269.9 L1153.2,1271.0 L1153.8,1272.0 L1154.4,1273.1 L1155.0,1274.2 L1155.6,1275.2 L1156.2,1276.3 L1156.8,1277.3 L1157.4,1278.4 L1158.0,1279.4 L1158.7,1280.4 L1159.3,1281.5 L1159.9,1282.5 L1160.6,1283.5 L1161.2,1284.5 L1161.9,1285.5 L1162.6,1286.5 L1163.3,1287.5 L1164.0,1288.4 L1164.7,1289.4 L1165.4,1290.4 L1166.1,1291.3 L1166.8,1292.2 L1167.6,1293.2 L1168.3,1294.1 L1169.1,1295.0 L1169.9,1295.9 L1170.6,1296.7 L1171.4,1297.6 L1172.3,1298.5 L1173.1,1299.3 L1173.9,1300.1 L1174.8,1301.0 L1175.6,1301.8 L1176.5,1302.5 L1177.4,1303.3 L1178.3,1304.1 L1179.2,1304.8 L1180.2,1305.6 L1181.1,1306.3 L1182.1,1307.0 L1183.1,1307.7 L1184.0,1308.4 L1185.0,1309.1 L1186.0,1309.7 L1187.0,1310.4 L1188.1,1311.0 L1189.1,1311.7 L1190.1,1312.3 L1191.1,1313.0 L1192.2,1313.6 L1193.2,1314.2 L1194.3,1314.8 L1195.3,1315.5 L1196.4,1316.1 L1197.4,1316.7 L1198.5,1317.3 L1199.5,1317.9 L1200.6,1318.6 L1201.6,1319.2 L1202.7,1319.8 L1203.7,1320.4 L1204.8,1321.1 L1205.8,1321.7 L1206.8,1322.4 L1207.9,1323.0 L1208.9,1323.7 L1209.9,1324.3 L1210.9,1325.0 L1211.9,1325.7 L1212.9,1326.4 L1213.9,1327.1 L1214.8,1327.8 L1215.8,1328.5 L1216.7,1329.2 L1217.7,1330.0 L1218.6,1330.8 L1219.5,1331.5 L1220.4,1332.3 L1221.3,1333.1 L1222.2,1333.8 L1223.1,1334.6 L1224.0,1335.4 L1224.9,1336.1 L1225.8,1336.9 L1226.8,1337.6 L1227.7,1338.3 L1228.7,1338.9 L1229.7,1339.6 L1230.7,1340.2 L1231.7,1340.8 L1232.8,1341.3 L1233.8,1341.9 L1234.9,1342.4 L1236.0,1342.9 L1237.1,1343.3 L1238.2,1343.8 L1239.3,1344.3 L1240.5,1344.8 L1241.6,1345.3 L1242.7,1345.8 L1243.8,1346.3 L1244.9,1346.8 L1245.9,1347.4 L1247.0,1348.0 L1248.1,1348.5 L1249.1,1349.1 L1250.2,1349.8 L1251.2,1350.4 L1252.2,1351.0 L1253.2,1351.7 L1254.3,1352.3 L1255.3,1353.0 L1256.3,1353.7 L1257.3,1354.3 L1258.3,1355.0 L1259.3,1355.7 L1260.3,1356.3 L1261.3,1357.0 L1262.3,1357.7 L1263.3,1358.3 L1264.3,1359.0 L1265.4,1359.6 L1266.4,1360.3 L1267.4,1360.9 L1268.4,1361.5 L1269.5,1362.1 L1270.5,1362.7 L1271.6,1363.2 L1272.6,1363.8 L1273.7,1364.3 L1274.8,1364.8 L1275.8,1365.3 L1276.9,1365.8 L1278.0,1366.3 L1279.1,1366.8 L1280.2,1367.2 L1281.3,1367.7 L1282.4,1368.1 L1283.5,1368.6 L1284.6,1369.0 L1285.8,1369.4 L1286.9,1369.8 L1288.0,1370.2 L1289.1,1370.6 L1290.3,1371.0 L1291.4,1371.4 L1292.5,1371.8 L1293.7,1372.2 L1294.8,1372.5 L1296.0,1372.9 L1297.1,1373.3 L1298.2,1373.7 L1299.4,1374.0 L1300.5,1374.4 L1301.7,1374.8 L1302.8,1375.1 L1304.0,1375.5 L1305.1,1375.9 L1306.2,1376.3 L1307.4,1376.6 L1308.5,1377.0 L1309.7,1377.4 L1310.8,1377.8 L1311.9,1378.2 L1313.0,1378.6 L1314.2,1379.1 L1315.3,1379.5 L1316.4,1379.9 L1317.5,1380.4 L1318.6,1380.8 L1319.7,1381.3 L1320.8,1381.8" stroke="#008000"/>
<path d="M802.2,1423.4 L803.3,1422.9 L804.5,1422.5 L805.6,1422.0 L806.7,1421.6 L807.9,1421.1 L809.0,1420.6 L810.1,1420.1 L811.2,1419.6 L812.3,1419.2 L813.4,1418.7 L814.5,1418.2 L815.6,1417.6 L816.7,1417.1 L817.8,1416.6 L818.9,1416.1 L820.0,1415.6 L821.0,1415.0 L822.1,1414.5 L823.2,1414.0 L824.2,1413.4 L825.3,1412.9 L826.4,1412.3 L827.4,1411.8 L828.5,1411.2 L829.5,1410.7 L830.6,1410.1 L831.6,1409.5 L832.7,1409.0 L833.7,1408.4 L834.8,1407.8 L835.8,1407.2 L836.9,1406.6 L837.9,1406.0 L838.9,1405.4 L840.0,1404.9 L841.0,1404.3 L842.0,1403.6 L843.0,1403.0 L844.1,1402.4 L845.1,1401.8 L846.1,1401.2 L847.1,1400.6 L848.1,1400.0 L849.2,1399.3 L850.2,1398.7 L851.2,1398.1 L852.2,1397.5 L853.2,1396.8 L854.2,1396.2 L855.2,1395.6 L856.2,1394.9 L857.2,1394.3 L858.2,1393.6 L859.2,1393.0 L860.3,1392.3 L861.3,1391.7 L862.3,1391.0 L863.3,1390.4 L864.3,1389.7 L865.3,1389.1 L866.3,1388.4 L867.3,1387.8 L868.3,1387.1 L869.3,1386.4 L870.3,1385.8 L871.3,1385.1 L872.3,1384.4 L873.3,1383.8 L874.3,1383.1 L875.3,1382.4 L876.3,1381.8 L877.3,1381.1 L878.3,1380.4 L879.4,1379.8 L880.4,1379.1 L881.4,1378.4 L882.4,1377.7 L883.4,1377.1 L884.4,1376.4 L885.4,1375.7 L886.4,1375.0 L887.4,1374.3 L888.4,1373.6 L889.4,1373.0 L890.4,1372.3 L891.4,1371.6 L892.4,1370.9 L893.4,1370.2 L894.4,1369.5 L895.4,1368.8 L896.4,1368.1 L897.4,1367.4 L898.4,1366.6 L899.3,1365.9 L900.3,1365.2 L901.3,1364.5 L902.3,1363.8 L903.2,1363.0 L904.2,1362.3 L905.1,1361.5 L906.1,1360.8 L907.0,1360.1 L908.0,1359.3 L908.9,1358.5 L909.9,1357.8 L910.8,1357.0 L911.7,1356.2 L912.6,1355.5 L913.5,1354.7 L914.4,1353.9 L915.3,1353.1 L916.2,1352.3 L917.1,1351.5 L918.0,1350.7 L918.9,1349.9 L919.8,1349.0 L920.6,1348.2 L921.5,1347.4 L922.3,1346.5 L923.1,1345.7 L924.0,1344.8 L924.8,1344.0 L925.6,1343.1 L926.4,1342.2 L927.2,1341.3 L928.0,1340.5 L928.8,1339.6 L929.6,1338.7 L930.3,1337.7 L931.1,1336.8 L931.8,1335.9 L932.5,1335.0 L933.3,1334.0 L934.0,1333.1 L934.7,1332.1 L935.4,1331.2 L936.1,1330.2 L936.8,1329.2 L937.4,1328.2 L938.1,1327.2 L938.8,1326.2 L939.4,1325.2 L940.1,1324.2 L940.7,1323.2 L941.4,1322.2 L942.0,1321.2 L942.6,1320.2 L943.2,1319.1 L943.8,1318.1 L944.5,1317.1 L945.1,1316.0 L945.7,1315.0 L946.2,1314.0 L946.8,1312.9 L947.4,1311.9 L948.0,1310.8 L948.6,1309.7 L949.2,1308.7 L949.7,1307.6 L950.3,1306.6 L950.9,1305.5 L951.4,1304.4 L952.0,1303.4 L952.6,1302.3 L953.1,1301.2 L953.7,1300.2 L954.2,1299.1 L954.8,1298.0 L955.4,1297.0 L955.9,1295.9 L956.5,1294.8 L957.0,1293.8 L957.6,1292.7 L958.1,1291.6 L958.7,1290.5 L959.2,1289.5 L959.8,1288.4 L960.3,1287.3 L960.9,1286.3 L961.4,1285.2 L962.0,1284.1 L962.5,1283.1 L963.1,1282.0 L963.7,1280.9 L964.2,1279.9 L964.8,1278.8 L965.3,1277.7 L965.9,1276.7 L966.4,1275.6 L967.0,1274.5 L967.6,1273.5 L968.1,1272.4 L968.7,1271.3 L969.2,1270.3 L969.8,1269.2 L970.4,1268.2 L971.0,1267.1 L971.5,1266.1 L972.1,1265.0 L972.7,1263.9 L973.3,1262.9 L973.8,1261.8 L974.4,1260.8 L975.0,1259.7 L975.6,1258.7 L976.2,1257.7 L976.8,1256.6 L977.4,1255.6 L978.0,1254.5 L978.6,1253.5 L979.2,1252.4 L979.8,1251.4 L980.4,1250.4 L981.0,1249.3 L981.6,1248.3 L982.2,1247.2 L982.8,1246.2 L983.4,1245.2 L984.0,1244.1 L984.6,1243.1 L985.2,1242.0 L985.8,1241.0 L986.4,1239.9 L987.0,1238.9 L987.6,1237.9 L988.2,1236.8 L988.8,1235.8 L989.4,1234.7 L989.9,1233.7 L990.5,1232.6 L991.1,1231.5 L991.6,1230.5 L992.2,1229.4 L992.7,1228.4 L993.3,1227.3 L993.8,1226.2 L994.3,1225.1 L994.9,1224.1 L995.4,1223.0 L995.9,1221.9 L996.4,1220.8 L996.9,1219.7 L997.4,1218.6 L997.9,1217.5 L998.3,1216.4 L998.8,1215.3 L999.3,1214.2 L999.7,1213.1 L1000.1,1212.0 L1000.6,1210.9 L1001.0,1209.7 L1001.4,1208.6 L1001.9,1207.5 L1002.3,1206.4 L1002.7,1205.2 L1003.2,1204.1 L1003.6,1203.0 L1004.0,1201.8 L1004.4,1200.7 L1004.9,1199.6 L1005.3,1198.5 L1005.7,1197.3 L1006.2,1196.2 L1006.6,1195.1 L1007.1,1194.0 L1007.6,1192.9 L1008.0,1191.8 L1008.5,1190.7 L1009.0,1189.6 L1009.5,1188.5 L1010.0,1187.4 L1010.5,1186.3 L1011.0,1185.2 L1011.5,1184.1 L1012.0,1183.0 L1012.6,1181.9 L1013.1,1180.8 L1013.6,1179.7 L1014.1,1178.6 L1014.7,1177.5 L1015.2,1176.5 L1015.7,1175.4 L1016.2,1174.3 L1016.8,1173.2 L1017.3,1172.1 L1017.8,1171.0 L1018.3,1169.9 L1018.8,1168.8 L1019.3,1167.8 L1019.8,1166.7 L1020.3,1165.6 L1020.8,1164.5 L1021.3,1163.4 L1021.7,1162.3 L1022.2,1161.2 L1022.7,1160.1 L1023.1,1159.0 L1023.6,1157.9 L1024.0,1156.7 L1024.4,1155.6 L1024.9,1154.5 L1025.3,1153.4 L1025.7,1152.3 L1026.1,1151.2 L1026.5,1150.0 L1026.9,1148.9 L1027.3,1147.8 L1027.7,1146.7 L1028.0,1145.5 L1028.4,1144.4 L1028.8,1143.3 L1029.1,1142.1 L1029.5,1141.0 L1029.9,1139.9 L1030.2,1138.7 L1030.5,1137.6 L1030.9,1136.4 L1031.2,1135.3 L1031.5,1134.1 L1031.9,1133.0 L1032.2,1131.8 L1032.5,1130.7 L1032.8,1129.5 L1033.1,1128.3 L1033.4,1127.2 L1033.7,1126.0 L1034.0,1124.9 L1034.3,1123.7 L1034.6,1122.5 L1034.9,1121.4 L1035.2,1120.2 L1035.4,1119.0 L1035.7,1117.8 L1036.0,1116.7 L1036.3,1115.5 L1036.5,1114.3 L1036.8,1113.1 L1037.0,1111.9 L1037.3,1110.8 L1037.6,1109.6 L1037.8,1108.4 L1038.1,1107.2 L1038.3,1106.0 L1038.5,1104.8 L1038.8,1103.7 L1039.0,1102.5 L1039.2,1101.3 L1039.5,1100.1 L1039.7,1098.9 L1039.9,1097.7 L1040.2,1096.5 L1040.4,1095.3 L1040.6,1094.1 L1040.8,1093.0 L1041.0,1091.8 L1041.3,1090.6 L1041.5,1089.4 L1041.7,1088.2 L1041.9,1087.0 L1042.1,1085.8 L1042.3,1084.6 L1042.5,1083.4 L1042.7,1082.2 L1042.9,1081.0 L1043.1,1079.9 L1043.3,1078.7 L1043.5,1077.5 L1043.7,1076.3 L1043.9,1075.1 L1044.1,1073.9 L1044.3,1072.7 L1044.5,1071.5 L1044.7,1070.3 L1044.9,1069.2 L1045.1,1068.0 L1045.3,1066.8 L1045.5,1065.6 L1045.6,1064.4 L1045.8,1063.2 L1046.0,1062.1 L1046.2,1060.9 L1046.4,1059.7 L1046.6,1058.5 L1046.8,1057.4 L1047.0,1056.2 L1047.2,1055.0 L1047.3,1053.8 L1047.5,1052.7 L1047.7,1051.5 L1047.9,1050.3 L1048.1,1049.1 L1048.3,1048.0 L1048.4,1046.8 L1048.6,1045.6 L1048.8,1044.4 L1049.0,1043.3 L1049.2,1042.1 L1049.3,1040.9 L1049.5,1039.7 L1049.7,1038.6 L1049.9,1037.4 L1050.0,1036.2 L1050.2,1035.0 L1050.4,1033.9 L1050.5,1032.7 L1050.7,1031.5 L1050.9,1030.3 L1051.0,1029.1 L1051.2,1027.9 L1051.3,1026.8 L1051.5,1025.6 L1051.7,1024.4 L1051.8,1023.2 L1052.0,1022.0 L1052.1,1020.8 L1052.3,1019.6 L1052.4,1018.4 L1052.6,1017.2 L1052.7,1016.0 L1052.8,1014.8 L1053.0,1013.6 L1053.1,1012.4 L1053.2,1011.2 L1053.4,1010.0 L1053.5,1008.7 L1053.6,1007.5 L1053.8,1006.3 L1053.9,1005.1 L1054.0,1003.8 L1054.1,1002.6 L1054.2,1001.4 L1054.3,1000.1 L1054.5,998.9 L1054.6,997.6 L1054.7,996.4 L1054.8,995.1 L1054.9,993.9 L1055.0,992.6 L1055.2,991.4 L1055.4,990.1 L1055.6,988.9 L1055.8,987.6 L1056.1,986.3 L1056.4,985.1 L1056.8,983.8 L1057.2,982.5 L1057.6,981.3 L1058.1,980.0 L1058.7,978.8 L1059.3,977.6 L1060.0,976.5 L1060.6,975.6 L1061.2,974.8 L1061.8,974.3 L1062.4,974.1 L1062.8,974.2 L1063.2,974.6 L1063.6,975.3 L1063.9,976.1 L1064.2,977.2 L1064.4,978.3 L1064.7,979.5 L1064.9,980.6 L1065.1,981.8 L1065.4,983.0 L1065.6,984.1 L1065.8,985.3 L1066.1,986.5 L1066.3,987.6 L1066.5,988.8 L1066.7,990.0 L1067.0,991.2 L1067.2,992.3 L1067.4,993.5 L1067.6,994.7 L1067.9,995.9 L1068.1,997.0 L1068.3,998.2 L1068.5,999.4 L1068.7,1000.6 L1068.9,1001.7 L1069.2,1002.9 L1069.4,1004.1 L1069.6,1005.3 L1069.8,1006.5 L1070.0,1007.6 L1070.2,1008.8 L1070.4,1010.0 L1070.6,1011.2 L1070.8,1012.4 L1071.0,1013.5 L1071.2,1014.7 L1071.5,1015.9 L1071.7,1017.1 L1071.9,1018.3 L1072.1,1019.5 L1072.3,1020.7 L1072.5,1021.8 L1072.7,1023.0 L1072.9,1024.2 L1073.1,1025.4 L1073.3,1026.6 L1073.5,1027.8 L1073.7,1029.0 L1073.9,1030.1 L1074.1,1031.3 L1074.3,1032.5 L1074.5,1033.7 L1074.7,1034.9 L1074.9,1036.1 L1075.1,1037.3 L1075.3,1038.5 L1075.5,1039.6 L1075.7,1040.8 L1075.9,1042.0 L1076.1,1043.2 L1076.3,1044.4 L1076.5,1045.6 L1076.7,1046.8 L1076.9,1048.0 L1077.1,1049.1 L1077.3,1050.3 L1077.5,1051.5 L1077.8,1052.7 L1078.0,1053.9 L1078.2,1055.1 L1078.4,1056.3 L1078.6,1057.5 L1078.8,1058.7 L1079.0,1059.8 L1079.2,1061.0 L1079.4,1062.2 L1079.7,1063.4 L1079.9,1064.6 L1080.1,1065.8 L1080.3,1067.0 L1080.5,1068.2 L1080.8,1069.3 L1081.0,1070.5 L1081.2,1071.7 L1081.4,1072.9 L1081.6,1074.1 L1081.9,1075.3 L1082.1,1076.4 L1082.3,1077.6 L1082.6,1078.8 L1082.8,1080.0 L1083.0,1081.2 L1083.3,1082.4 L1083.5,1083.5 L1083.7,1084.7 L1084.0,1085.9 L1084.2,1087.1 L1084.5,1088.3 L1084.7,1089.5 L1085.0,1090.6 L1085.2,1091.8 L1085.5,1093.0 L1085.7,1094.2 L1086.0,1095.3 L1086.2,1096.5 L1086.5,1097.7 L1086.8,1098.9 L1087.0,1100.1 L1087.3,1101.2 L1087.6,1102.4 L1087.8,1103.6 L1088.1,1104.7 L1088.4,1105.9 L1088.7,1107.1 L1089.0,1108.3 L1089.2,1109.4 L1089.5,1110.6 L1089.8,1111.8 L1090.1,1112.9 L1090.4,1114.1 L1090.7,1115.3 L1091.0,1116.4 L1091.3,1117.6 L1091.7,1118.7 L1092.0,1119.9 L1092.3,1121.0 L1092.6,1122.2 L1093.0,1123.3 L1093.3,1124.5 L1093.7,1125.6 L1094.0,1126.8 L1094.4,1127.9 L1094.8,1129.1 L1095.2,1130.2 L1095.5,1131.3 L1095.9,1132.5 L1096.3,1133.6 L1096.8,1134.7 L1097.2,1135.8 L1097.6,1136.9 L1098.0,1138.1 L1098.5,1139.2 L1098.9,1140.3 L1099.4,1141.4 L1099.9,1142.5 L1100.3,1143.6 L1100.8,1144.6 L1101.3,1145.7 L1101.8,1146.8 L1102.3,1147.9 L1102.9,1149.0 L1103.4,1150.1 L1103.9,1151.1 L1104.4,1152.2 L1104.9,1153.3 L1105.5,1154.4 L1106.0,1155.5 L1106.5,1156.5 L1107.0,1157.6 L1107.5,1158.7 L1108.0,1159.8 L1108.5,1160.9 L1109.0,1162.0 L1109.5,1163.1 L1110.0,1164.2 L1110.4,1165.3 L1110.9,1166.4 L1111.4,1167.5 L1111.8,1168.6 L1112.3,1169.7 L1112.8,1170.8 L1113.2,1171.9 L1113.7,1173.1 L1114.1,1174.2 L1114.5,1175.3 L1115.0,1176.4 L1115.4,1177.5 L1115.8,1178.7 L1116.3,1179.8 L1116.7,1180.9 L1117.1,1182.0 L1117.5,1183.2 L1117.9,1184.3 L1118.3,1185.4 L1118.8,1186.6 L1119.2,1187.7 L1119.6,1188.8 L1120.0,1190.0 L1120.4,1191.1 L1120.8,1192.2 L1121.2,1193.4 L1121.6,1194.5 L1122.0,1195.7 L1122.4,1196.8 L1122.8,1197.9 L1123.2,1199.1 L1123.6,1200.2 L1124.0,1201.3 L1124.4,1202.5 L1124.8,1203.6 L1125.2,1204.8 L1125.6,1205.9 L1126.0,1207.0 L1126.4,1208.2 L1126.8,1209.3 L1127.2,1210.5 L1127.6,1211.6 L1128.0,1212.7 L1128.4,1213.9 L1128.8,1215.0 L1129.2,1216.1 L1129.6,1217.3 L1130.0,1218.4 L1130.5,1219.5 L1130.9,1220.6 L1131.3,1221.8 L1131.7,1222.9 L1132.1,1224.0 L1132.6,1225.1 L1133.0,1226.3 L1133.4,1227.4 L1133.9,1228.5 L1134.3,1229.6 L1134.8,1230.7 L1135.2,1231.8 L1135.7,1233.0 L1136.1,1234.1 L1136.6,1235.2 L1137.1,1236.3 L1137.5,1237.4 L1138.0,1238.5 L1138.5,1239.6 L1139.0,1240.7 L1139.5,1241.8 L1140.0,1242.8 L1140.5,1243.9 L1141.0,1245.0 L1141.5,1246.1 L1142.0,1247.2 L1142.5,1248.3 L1143.0,1249.3 L1143.6,1250.4 L1144.1,1251.5 L1144.6,1252.6 L1145.2,1253.6 L1145.7,1254.7 L1146.3,1255.8 L1146.8,1256.8 L1147.4,1257.9 L1147.9,1258.9 L1148.5,1260.0 L1149.1,1261.0 L1149.6,1262.1 L1150.2,1263.2 L1150.8,1264.2 L1151.4,1265.3 L1151.9,1266.3 L1152.5,1267.4 L1153.1,1268.4 L1153.7,1269.5 L1154.3,1270.5 L1154.9,1271.5 L1155.5,1272.6 L1156.1,1273.6 L1156.7,1274.7 L1157.3,1275.7 L1157.9,1276.7 L1158.5,1277.8 L1159.1,1278.8 L1159.7,1279.9 L1160.3,1280.9 L1160.9,1281.9 L1161.5,1283.0 L1162.1,1284.0 L1162.8,1285.0 L1163.4,1286.1 L1164.0,1287.1 L1164.6,1288.2 L1165.2,1289.2 L1165.8,1290.2 L1166.5,1291.3 L1167.1,1292.3 L1167.7,1293.3 L1168.3,1294.3 L1168.9,1295.4 L1169.6,1296.4 L1170.2,1297.4 L1170.8,1298.5 L1171.4,1299.5 L1172.1,1300.5 L1172.7,1301.6 L1173.3,1302.6 L1173.9,1303.6 L1174.5,1304.7 L1175.2,1305.7 L1175.8,1306.7 L1176.4,1307.8 L1177.0,1308.8 L1177.6,1309.8 L1178.2,1310.9 L1178.9,1311.9 L1179.5,1312.9 L1180.1,1314.0 L1180.7,1315.0 L1181.3,1316.0 L1181.9,1317.1 L1182.5,1318.1 L1183.1,1319.1 L1183.7,1320.2 L1184.4,1321.2 L1185.0,1322.2 L1185.6,1323.3 L1186.2,1324.3 L1186.8,1325.3 L1187.5,1326.3 L1188.1,1327.3 L1188.7,1328.3 L1189.4,1329.3 L1190.0,1330.3 L1190.7,1331.3 L1191.3,1332.3 L1192.0,1333.3 L1192.7,1334.3 L1193.3,1335.3 L1194.0,1336.2 L1194.7,1337.2 L1195.4,1338.2 L1196.2,1339.1 L1196.9,1340.1 L1197.6,1341.0 L1198.4,1341.9 L1199.1,1342.8 L1199.9,1343.7 L1200.7,1344.6 L1201.5,1345.5 L1202.3,1346.4 L1203.1,1347.3 L1203.9,1348.1 L1204.8,1349.0 L1205.7,1349.8 L1206.5,1350.6 L1207.4,1351.5 L1208.3,1352.3 L1209.2,1353.1 L1210.1,1353.9 L1211.1,1354.7 L1212.0,1355.5 L1212.9,1356.2 L1213.9,1357.0 L1214.8,1357.8 L1215.8,1358.6 L1216.7,1359.3 L1217.7,1360.1 L1218.6,1360.8 L1219.6,1361.6 L1220.5,1362.3 L1221.5,1363.1 L1222.4,1363.8 L1223.4,1364.6 L1224.3,1365.3 L1225.3,1366.1 L1226.2,1366.8 L1227.2,1367.5 L1228.1,1368.3 L1229.1,1369.0 L1230.1,1369.7 L1231.0,1370.4 L1232.0,1371.2 L1232.9,1371.9 L1233.9,1372.6 L1234.9,1373.3 L1235.8,1374.0 L1236.8,1374.7 L1237.8,1375.4 L1238.7,1376.2 L1239.7,1376.9 L1240.7,1377.6 L1241.6,1378.3 L1242.6,1379.0 L1243.6,1379.7 L1244.6,1380.4 L1245.5,1381.1 L1246.5,1381.7 L1247.5,1382.4 L1248.5,1383.1 L1249.4,1383.8 L1250.4,1384.5 L1251.4,1385.2 L1252.4,1385.9 L1253.4,1386.5 L1254.3,1387.2 L1255.3,1387.9 L1256.3,1388.6 L1257.3,1389.3 L1258.3,1389.9 L1259.3,1390.6 L1260.3,1391.3 L1261.3,1392.0 L1262.2,1392.6 L1263.2,1393.3 L1264.2,1394.0 L1265.2,1394.6 L1266.2,1395.3 L1267.2,1396.0 L1268.2,1396.6 L1269.2,1397.3 L1270.2,1398.0 L1271.2,1398.6 L1272.2,1399.3 L1273.2,1399.9 L1274.2,1400.6 L1275.3,1401.3 L1276.3,1401.9 L1277.3,1402.6 L1278.3,1403.2 L1279.3,1403.9 L1280.3,1404.5 L1281.3,1405.1 L1282.4,1405.8 L1283.4,1406.4 L1284.4,1407.0 L1285.4,1407.7 L1286.5,1408.3 L1287.5,1408.9 L1288.5,1409.5 L1289.6,1410.1 L1290.6,1410.7 L1291.7,1411.3 L1292.7,1411.9 L1293.8,1412.5 L1294.8,1413.1 L1295.8,1413.7 L1296.9,1414.3 L1298.0,1414.9 L1299.0,1415.4 L1300.1,1416.0 L1301.1,1416.6 L1302.2,1417.1 L1303.3,1417.7 L1304.4,1418.2 L1305.4,1418.8 L1306.5,1419.3 L1307.6,1419.8 L1308.7,1420.3 L1309.8,1420.8 L1310.9,1421.3 L1312.0,1421.8 L1313.0,1422.3 L1314.2,1422.8 L1315.3,1423.3 L1316.4,1423.8 L1317.5,1424.2 L1318.6,1424.7 L1319.7,1425.1 L1320.8,1425.6" stroke="#ff0000"/>
<path d="M802.2,1440.9 L803.2,1440.3 L804.2,1439.6 L805.3,1438.9 L806.3,1438.3 L807.3,1437.6 L808.3,1436.9 L809.3,1436.2 L810.3,1435.5 L811.3,1434.8 L812.3,1434.1 L813.2,1433.4 L814.2,1432.7 L815.2,1432.0 L816.2,1431.3 L817.1,1430.6 L818.1,1429.8 L819.0,1429.1 L820.0,1428.4 L820.9,1427.6 L821.9,1426.9 L822.8,1426.1 L823.8,1425.4 L824.7,1424.6 L825.6,1423.9 L826.6,1423.1 L827.5,1422.3 L828.4,1421.5 L829.3,1420.8 L830.2,1420.0 L831.1,1419.2 L832.0,1418.4 L832.9,1417.6 L833.8,1416.8 L834.7,1416.0 L835.6,1415.2 L836.5,1414.4 L837.3,1413.6 L838.2,1412.8 L839.1,1411.9 L839.9,1411.1 L840.8,1410.3 L841.7,1409.4 L842.5,1408.6 L843.4,1407.8 L844.2,1406.9 L845.1,1406.1 L845.9,1405.2 L846.7,1404.4 L847.6,1403.5 L848.4,1402.6 L849.2,1401.8 L850.0,1400.9 L850.9,1400.0 L851.7,1399.2 L852.5,1398.3 L853.3,1397.4 L854.1,1396.5 L854.9,1395.6 L855.7,1394.7 L856.5,1393.8 L857.3,1392.9 L858.1,1392.0 L858.9,1391.1 L859.6,1390.2 L860.4,1389.3 L861.2,1388.4 L862.0,1387.5 L862.7,1386.6 L863.5,1385.7 L864.2,1384.7 L865.0,1383.8 L865.8,1382.9 L866.5,1381.9 L867.3,1381.0 L868.0,1380.1 L868.7,1379.1 L869.5,1378.2 L870.2,1377.2 L871.0,1376.3 L871.7,1375.3 L872.4,1374.4 L873.1,1373.4 L873.9,1372.5 L874.6,1371.5 L875.3,1370.5 L876.0,1369.6 L876.7,1368.6 L877.4,1367.6 L878.1,1366.7 L878.8,1365.7 L879.5,1364.7 L880.2,1363.7 L880.9,1362.7 L881.6,1361.8 L882.3,1360.8 L883.0,1359.8 L883.7,1358.8 L884.3,1357.8 L885.0,1356.8 L885.7,1355.8 L886.4,1354.8 L887.0,1353.8 L887.7,1352.8 L888.4,1351.8 L889.0,1350.8 L889.7,1349.8 L890.3,1348.8 L891.0,1347.8 L891.6,1346.8 L892.3,1345.8 L892.9,1344.7 L893.6,1343.7 L894.2,1342.7 L894.8,1341.7 L895.5,1340.7 L896.1,1339.6 L896.7,1338.6 L897.4,1337.6 L898.0,1336.6 L898.6,1335.5 L899.3,1334.5 L899.9,1333.5 L900.5,1332.4 L901.1,1331.4 L901.7,1330.4 L902.3,1329.3 L902.9,1328.3 L903.5,1327.3 L904.2,1326.2 L904.8,1325.2 L905.4,1324.1 L906.0,1323.1 L906.6,1322.0 L907.1,1321.0 L907.7,1320.0 L908.3,1318.9 L908.9,1317.9 L909.5,1316.8 L910.1,1315.8 L910.7,1314.7 L911.3,1313.7 L911.8,1312.6 L912.4,1311.6 L913.0,1310.5 L913.6,1309.5 L914.1,1308.4 L914.7,1307.3 L915.3,1306.3 L915.8,1305.2 L916.4,1304.2 L917.0,1303.1 L917.5,1302.0 L918.1,1301.0 L918.6,1299.9 L919.2,1298.9 L919.8,1297.8 L920.3,1296.7 L920.9,1295.7 L921.4,1294.6 L922.0,1293.5 L922.5,1292.5 L923.0,1291.4 L923.6,1290.3 L924.1,1289.2 L924.7,1288.2 L925.2,1287.1 L925.7,1286.0 L926.3,1285.0 L926.8,1283.9 L927.3,1282.8 L927.9,1281.7 L928.4,1280.7 L928.9,1279.6 L929.5,1278.5 L930.0,1277.4 L930.5,1276.3 L931.0,1275.3 L931.6,1274.2 L932.1,1273.1 L932.6,1272.0 L933.1,1270.9 L933.6,1269.8 L934.1,1268.8 L934.7,1267.7 L935.2,1266.6 L935.7,1265.5 L936.2,1264.4 L936.7,1263.3 L937.2,1262.2 L937.7,1261.2 L938.2,1260.1 L938.7,1259.0 L939.2,1257.9 L939.7,1256.8 L940.2,1255.7 L940.7,1254.6 L941.2,1253.5 L941.7,1252.4 L942.2,1251.3 L942.7,1250.2 L943.2,1249.1 L943.7,1248.1 L944.2,1247.0 L944.7,1245.9 L945.2,1244.8 L945.7,1243.7 L946.1,1242.6 L946.6,1241.5 L947.1,1240.4 L947.6,1239.3 L948.1,1238.2 L948.6,1237.1 L949.1,1236.0 L949.5,1234.9 L950.0,1233.8 L950.5,1232.7 L951.0,1231.6 L951.5,1230.5 L951.9,1229.4 L952.4,1228.3 L952.9,1227.2 L953.4,1226.1 L953.9,1225.0 L954.3,1223.9 L954.8,1222.8 L955.3,1221.7 L955.8,1220.5 L956.2,1219.4 L956.7,1218.3 L957.2,1217.2 L957.6,1216.1 L958.1,1215.0 L958.6,1213.9 L959.1,1212.8 L959.5,1211.7 L960.0,1210.6 L960.5,1209.5 L960.9,1208.4 L961.4,1207.3 L961.9,1206.2 L962.3,1205.1 L962.8,1203.9 L963.3,1202.8 L963.7,1201.7 L964.2,1200.6 L964.7,1199.5 L965.1,1198.4 L965.6,1197.3 L966.0,1196.2 L966.5,1195.1 L967.0,1194.0 L967.4,1192.9 L967.9,1191.8 L968.4,1190.6 L968.8,1189.5 L969.3,1188.4 L969.7,1187.3 L970.2,1186.2 L970.7,1185.1 L971.1,1184.0 L971.6,1182.9 L972.1,1181.8 L972.5,1180.7 L973.0,1179.5 L973.4,1178.4 L973.9,1177.3 L974.4,1176.2 L974.8,1175.1 L975.3,1174.0 L975.8,1172.9 L976.2,1171.8 L976.7,1170.7 L977.1,1169.6 L977.6,1168.4 L978.1,1167.3 L978.5,1166.2 L979.0,1165.1 L979.4,1164.0 L979.9,1162.9 L980.4,1161.8 L980.8,1160.7 L981.3,1159.6 L981.8,1158.5 L982.2,1157.4 L982.7,1156.2 L983.2,1155.1 L983.6,1154.0 L984.1,1152.9 L984.6,1151.8 L985.0,1150.7 L985.5,1149.6 L985.9,1148.5 L986.4,1147.4 L986.9,1146.3 L987.3,1145.2 L987.8,1144.1 L988.3,1142.9 L988.8,1141.8 L989.2,1140.7 L989.7,1139.6 L990.2,1138.5 L990.6,1137.4 L991.1,1136.3 L991.6,1135.2 L992.0,1134.1 L992.5,1133.0 L993.0,1131.9 L993.4,1130.8 L993.9,1129.7 L994.4,1128.6 L994.8,1127.5 L995.3,1126.4 L995.8,1125.3 L996.3,1124.2 L996.7,1123.0 L997.2,1121.9 L997.7,1120.8 L998.1,1119.7 L998.6,1118.6 L999.1,1117.5 L999.6,1116.4 L1000.0,1115.3 L1000.5,1114.2 L1001.0,1113.1 L1001.4,1112.0 L1001.9,1110.9 L1002.4,1109.8 L1002.9,1108.7 L1003.3,1107.6 L1003.8,1106.5 L1004.3,1105.4 L1004.8,1104.3 L1005.2,1103.2 L1005.7,1102.1 L1006.2,1101.0 L1006.6,1099.9 L1007.1,1098.8 L1007.6,1097.7 L1008.1,1096.6 L1008.5,1095.5 L1009.0,1094.4 L1009.5,1093.3 L1010.0,1092.1 L1010.4,1091.0 L1010.9,1089.9 L1011.4,1088.8 L1011.9,1087.7 L1012.3,1086.6 L1012.8,1085.5 L1013.3,1084.4 L1013.7,1083.3 L1014.2,1082.2 L1014.7,1081.1 L1015.2,1080.0 L1015.6,1078.9 L1016.1,1077.8 L1016.6,1076.7 L1017.1,1075.6 L1017.5,1074.5 L1018.0,1073.4 L1018.5,1072.3 L1018.9,1071.2 L1019.4,1070.1 L1019.9,1069.0 L1020.4,1067.9 L1020.8,1066.8 L1021.3,1065.7 L1021.8,1064.6 L1022.3,1063.5 L1022.7,1062.4 L1023.2,1061.3 L1023.7,1060.2 L1024.1,1059.1 L1024.6,1058.0 L1025.1,1056.9 L1025.6,1055.8 L1026.0,1054.7 L1026.5,1053.6 L1027.0,1052.5 L1027.4,1051.4 L1027.9,1050.3 L1028.4,1049.2 L1028.8,1048.1 L1029.3,1047.0 L1029.8,1045.9 L1030.3,1044.8 L1030.7,1043.7 L1031.2,1042.6 L1031.7,1041.4 L1032.1,1040.3 L1032.6,1039.2 L1033.1,1038.1 L1033.5,1037.0 L1034.0,1035.9 L1034.4,1034.8 L1034.9,1033.7 L1035.3,1032.6 L1035.8,1031.5 L1036.2,1030.4 L1036.7,1029.3 L1037.1,1028.2 L1037.6,1027.0 L1038.0,1025.9 L1038.4,1024.8 L1038.9,1023.7 L1039.3,1022.6 L1039.7,1021.4 L1040.1,1020.3 L1040.5,1019.2 L1040.9,1018.0 L1041.3,1016.9 L1041.7,1015.8 L1042.1,1014.6 L1042.5,1013.5 L1042.8,1012.3 L1043.2,1011.2 L1043.6,1010.0 L1043.9,1008.9 L1044.3,1007.7 L1044.6,1006.6 L1044.9,1005.4 L1045.3,1004.2 L1045.6,1003.1 L1045.9,1001.9 L1046.2,1000.7 L1046.5,999.5 L1046.8,998.3 L1047.1,997.1 L1047.3,996.0 L1047.6,994.8 L1047.9,993.6 L1048.2,992.4 L1048.4,991.2 L1048.7,990.0 L1049.0,988.8 L1049.3,987.6 L1049.6,986.4 L1049.9,985.2 L1050.2,984.1 L1050.5,982.9 L1050.9,981.7 L1051.2,980.6 L1051.6,979.4 L1052.0,978.3 L1052.4,977.1 L1052.8,976.0 L1053.2,974.9 L1053.7,973.8 L1054.2,972.7 L1054.7,971.6 L1055.3,970.5 L1055.9,969.4 L1056.5,968.4 L1057.1,967.4 L1057.8,966.4 L1058.5,965.5 L1059.3,964.7 L1060.0,964.1 L1060.8,963.7 L1061.6,963.5 L1062.4,963.5 L1063.2,963.8 L1064.0,964.2 L1064.8,964.8 L1065.6,965.6 L1066.3,966.5 L1067.0,967.5 L1067.7,968.5 L1068.3,969.6 L1068.9,970.7 L1069.4,971.9 L1069.9,973.1 L1070.3,974.3 L1070.7,975.5 L1071.1,976.8 L1071.5,978.1 L1071.9,979.3 L1072.2,980.6 L1072.6,981.9 L1072.9,983.1 L1073.3,984.4 L1073.6,985.6 L1073.9,986.8 L1074.3,988.0 L1074.6,989.1 L1075.0,990.3 L1075.3,991.5 L1075.7,992.6 L1076.1,993.8 L1076.4,994.9 L1076.8,996.0 L1077.1,997.1 L1077.5,998.3 L1077.8,999.4 L1078.2,1000.5 L1078.5,1001.6 L1078.9,1002.7 L1079.2,1003.8 L1079.6,1004.9 L1079.9,1006.1 L1080.3,1007.2 L1080.6,1008.3 L1081.0,1009.4 L1081.3,1010.6 L1081.7,1011.7 L1082.0,1012.8 L1082.4,1014.0 L1082.7,1015.1 L1083.1,1016.2 L1083.4,1017.4 L1083.8,1018.5 L1084.1,1019.7 L1084.5,1020.8 L1084.8,1021.9 L1085.2,1023.1 L1085.5,1024.2 L1085.9,1025.4 L1086.2,1026.5 L1086.6,1027.7 L1087.0,1028.8 L1087.3,1030.0 L1087.7,1031.1 L1088.0,1032.2 L1088.4,1033.4 L1088.8,1034.5 L1089.2,1035.7 L1089.5,1036.8 L1089.9,1038.0 L1090.3,1039.1 L1090.7,1040.3 L1091.1,1041.4 L1091.4,1042.6 L1091.8,1043.7 L1092.2,1044.8 L1092.6,1046.0 L1093.0,1047.1 L1093.4,1048.3 L1093.8,1049.4 L1094.2,1050.5 L1094.7,1051.7 L1095.1,1052.8 L1095.5,1053.9 L1095.9,1055.1 L1096.4,1056.2 L1096.8,1057.3 L1097.3,1058.4 L1097.7,1059.6 L1098.1,1060.7 L1098.6,1061.8 L1099.1,1062.9 L1099.5,1064.0 L1100.0,1065.1 L1100.4,1066.2 L1100.9,1067.4 L1101.4,1068.5 L1101.9,1069.6 L1102.3,1070.7 L1102.8,1071.8 L1103.3,1072.9 L1103.8,1074.0 L1104.2,1075.1 L1104.7,1076.2 L1105.2,1077.3 L1105.7,1078.4 L1106.2,1079.5 L1106.7,1080.6 L1107.1,1081.7 L1107.6,1082.8 L1108.1,1083.9 L1108.6,1085.0 L1109.1,1086.1 L1109.6,1087.2 L1110.0,1088.3 L1110.5,1089.4 L1111.0,1090.5 L1111.5,1091.6 L1111.9,1092.7 L1112.4,1093.8 L1112.9,1095.0 L1113.3,1096.1 L1113.8,1097.2 L1114.3,1098.3 L1114.7,1099.4 L1115.2,1100.5 L1115.6,1101.6 L1116.1,1102.7 L1116.5,1103.8 L1117.0,1104.9 L1117.4,1106.1 L1117.8,1107.2 L1118.3,1108.3 L1118.7,1109.4 L1119.1,1110.5 L1119.6,1111.6 L1120.0,1112.8 L1120.4,1113.9 L1120.8,1115.0 L1121.2,1116.1 L1121.6,1117.3 L1122.0,1118.4 L1122.5,1119.5 L1122.9,1120.6 L1123.3,1121.8 L1123.7,1122.9 L1124.1,1124.0 L1124.5,1125.1 L1124.8,1126.3 L1125.2,1127.4 L1125.6,1128.5 L1126.0,1129.7 L1126.4,1130.8 L1126.8,1131.9 L1127.2,1133.1 L1127.5,1134.2 L1127.9,1135.3 L1128.3,1136.5 L1128.7,1137.6 L1129.1,1138.7 L1129.4,1139.9 L1129.8,1141.0 L1130.2,1142.1 L1130.5,1143.3 L1130.9,1144.4 L1131.3,1145.6 L1131.7,1146.7 L1132.0,1147.8 L1132.4,1149.0 L1132.7,1150.1 L1133.1,1151.3 L1133.5,1152.4 L1133.8,1153.5 L1134.2,1154.7 L1134.6,1155.8 L1134.9,1157.0 L1135.3,1158.1 L1135.6,1159.3 L1136.0,1160.4 L1136.4,1161.5 L1136.7,1162.7 L1137.1,1163.8 L1137.4,1165.0 L1137.8,1166.1 L1138.2,1167.3 L1138.5,1168.4 L1138.9,1169.5 L1139.2,1170.7 L1139.6,1171.8 L1140.0,1173.0 L1140.3,1174.1 L1140.7,1175.3 L1141.0,1176.4 L1141.4,1177.5 L1141.8,1178.7 L1142.1,1179.8 L1142.5,1181.0 L1142.9,1182.1 L1143.2,1183.3 L1143.6,1184.4 L1144.0,1185.5 L1144.3,1186.7 L1144.7,1187.8 L1145.1,1189.0 L1145.4,1190.1 L1145.8,1191.3 L1146.2,1192.4 L1146.6,1193.5 L1146.9,1194.7 L1147.3,1195.8 L1147.7,1197.0 L1148.1,1198.1 L1148.5,1199.2 L1148.8,1200.4 L1149.2,1201.5 L1149.6,1202.7 L1150.0,1203.8 L1150.4,1204.9 L1150.8,1206.1 L1151.2,1207.2 L1151.5,1208.4 L1151.9,1209.5 L1152.3,1210.6 L1152.7,1211.8 L1153.1,1212.9 L1153.5,1214.1 L1153.9,1215.2 L1154.3,1216.3 L1154.7,1217.5 L1155.1,1218.6 L1155.5,1219.7 L1155.9,1220.9 L1156.3,1222.0 L1156.7,1223.1 L1157.1,1224.3 L1157.5,1225.4 L1157.9,1226.5 L1158.3,1227.7 L1158.8,1228.8 L1159.2,1229.9 L1159.6,1231.1 L1160.0,1232.2 L1160.4,1233.3 L1160.8,1234.5 L1161.2,1235.6 L1161.7,1236.7 L1162.1,1237.8 L1162.5,1239.0 L1162.9,1240.1 L1163.3,1241.2 L1163.8,1242.4 L1164.2,1243.5 L1164.6,1244.6 L1165.1,1245.7 L1165.5,1246.9 L1165.9,1248.0 L1166.4,1249.1 L1166.8,1250.2 L1167.2,1251.3 L1167.7,1252.5 L1168.1,1253.6 L1168.5,1254.7 L1169.0,1255.8 L1169.4,1257.0 L1169.9,1258.1 L1170.3,1259.2 L1170.8,1260.3 L1171.2,1261.4 L1171.7,1262.5 L1172.1,1263.7 L1172.6,1264.8 L1173.0,1265.9 L1173.5,1267.0 L1173.9,1268.1 L1174.4,1269.2 L1174.8,1270.3 L1175.3,1271.5 L1175.8,1272.6 L1176.2,1273.7 L1176.7,1274.8 L1177.2,1275.9 L1177.6,1277.0 L1178.1,1278.1 L1178.6,1279.2 L1179.1,1280.3 L1179.5,1281.4 L1180.0,1282.5 L1180.5,1283.6 L1181.0,1284.7 L1181.4,1285.8 L1181.9,1287.0 L1182.4,1288.1 L1182.9,1289.2 L1183.4,1290.3 L1183.9,1291.4 L1184.4,1292.4 L1184.9,1293.5 L1185.3,1294.6 L1185.8,1295.7 L1186.3,1296.8 L1186.8,1297.9 L1187.3,1299.0 L1187.8,1300.1 L1188.3,1301.2 L1188.8,1302.3 L1189.4,1303.4 L1189.9,1304.5 L1190.4,1305.6 L1190.9,1306.7 L1191.4,1307.7 L1191.9,1308.8 L1192.4,1309.9 L1192.9,1311.0 L1193.5,1312.1 L1194.0,1313.2 L1194.5,1314.2 L1195.0,1315.3 L1195.6,1316.4 L1196.1,1317.5 L1196.6,1318.6 L1197.2,1319.6 L1197.7,1320.7 L1198.2,1321.8 L1198.8,1322.9 L1199.3,1323.9 L1199.8,1325.0 L1200.4,1326.1 L1200.9,1327.1 L1201.5,1328.2 L1202.0,1329.3 L1202.6,1330.3 L1203.1,1331.4 L1203.7,1332.5 L1204.2,1333.5 L1204.8,1334.6 L1205.3,1335.7 L1205.9,1336.7 L1206.5,1337.8 L1207.0,1338.8 L1207.6,1339.9 L1208.2,1341.0 L1208.7,1342.0 L1209.3,1343.1 L1209.9,1344.1 L1210.5,1345.2 L1211.0,1346.2 L1211.6,1347.3 L1212.2,1348.3 L1212.8,1349.4 L1213.4,1350.4 L1214.0,1351.5 L1214.5,1352.5 L1215.1,1353.5 L1215.7,1354.6 L1216.3,1355.6 L1216.9,1356.7 L1217.5,1357.7 L1218.1,1358.7 L1218.7,1359.8 L1219.3,1360.8 L1219.9,1361.8 L1220.6,1362.9 L1221.2,1363.9 L1221.8,1364.9 L1222.4,1366.0 L1223.0,1367.0 L1223.6,1368.0 L1224.2,1369.0 L1224.9,1370.1 L1225.5,1371.1 L1226.1,1372.1 L1226.8,1373.1 L1227.4,1374.1 L1228.0,1375.2 L1228.7,1376.2 L1229.3,1377.2 L1229.9,1378.2 L1230.6,1379.2 L1231.2,1380.2 L1231.9,1381.2 L1232.5,1382.2 L1233.2,1383.3 L1233.8,1384.3 L1234.5,1385.3 L1235.1,1386.3 L1235.8,1387.3 L1236.4,1388.3 L1237.1,1389.3 L1237.8,1390.3 L1238.4,1391.3 L1239.1,1392.2 L1239.8,1393.2 L1240.5,1394.2 L1241.1,1395.2 L1241.8,1396.2 L1242.5,1397.2 L1243.2,1398.2 L1243.9,1399.2 L1244.6,1400.1 L1245.2,1401.1 L1245.9,1402.1 L1246.6,1403.1 L1247.3,1404.1 L1248.0,1405.0 L1248.7,1406.0 L1249.4,1407.0 L1250.1,1408.0 L1250.8,1408.9 L1251.6,1409.9 L1252.3,1410.9 L1253.0,1411.8 L1253.7,1412.8 L1254.4,1413.7 L1255.1,1414.7 L1255.9,1415.7 L1256.6,1416.6 L1257.3,1417.6 L1258.1,1418.5 L1258.8,1419.5 L1259.5,1420.4 L1260.3,1421.4 L1261.0,1422.3 L1261.8,1423.3 L1262.5,1424.2 L1263.2,1425.2 L1264.0,1426.1 L1264.8,1427.0 L1265.5,1428.0 L1266.3,1428.9 L1267.0,1429.8 L1267.8,1430.8 L1268.6,1431.7 L1269.3,1432.6 L1270.1,1433.6 L1270.9,1434.5 L1271.6,1435.4 L1272.4,1436.3 L1273.2,1437.3 L1274.0,1438.2 L1274.8,1439.1 L1275.6,1440.0 L1276.3,1440.9" stroke="#ff00ff"/>
</g>
<rect x="802.0" y="808.9" width="519.0" height="633.6" fill="none" stroke="#000" stroke-width="1.6" stroke-linecap="square"/>
<line x1="802.00" y1="1442.5" x2="802.00" y2="1449.5" stroke="#000" stroke-width="1.6"/>
<line x1="931.75" y1="1442.5" x2="931.75" y2="1449.5" stroke="#000" stroke-width="1.6"/>
<line x1="1061.50" y1="1442.5" x2="1061.50" y2="1449.5" stroke="#000" stroke-width="1.6"/>
<line x1="1191.25" y1="1442.5" x2="1191.25" y2="1449.5" stroke="#000" stroke-width="1.6"/>
<line x1="1321.00" y1="1442.5" x2="1321.00" y2="1449.5" stroke="#000" stroke-width="1.6"/>
<line x1="795.0" y1="1384.90" x2="802.0" y2="1384.90" stroke="#000" stroke-width="1.6"/>
<line x1="795.0" y1="1269.70" x2="802.0" y2="1269.70" stroke="#000" stroke-width="1.6"/>
<line x1="795.0" y1="1154.50" x2="802.0" y2="1154.50" stroke="#000" stroke-width="1.6"/>
<line x1="795.0" y1="1039.30" x2="802.0" y2="1039.30" stroke="#000" stroke-width="1.6"/>
<line x1="795.0" y1="924.10" x2="802.0" y2="924.10" stroke="#000" stroke-width="1.6"/>
<line x1="795.0" y1="808.90" x2="802.0" y2="808.90" stroke="#000" stroke-width="1.6"/>
<text x="802.0" y="1481.8" font-family='"Liberation Sans", sans-serif' font-size="35.0" text-anchor="middle" textLength="87.9" lengthAdjust="spacingAndGlyphs">−400</text>
<text x="931.8" y="1481.8" font-family='"Liberation Sans", sans-serif' font-size="35.0" text-anchor="middle" textLength="87.9" lengthAdjust="spacingAndGlyphs">−200</text>
<text x="1061.5" y="1481.8" font-family='"Liberation Sans", sans-serif' font-size="35.0" text-anchor="middle" textLength="20.4" lengthAdjust="spacingAndGlyphs">0</text>
<text x="1191.2" y="1481.8" font-family='"Liberation Sans", sans-serif' font-size="35.0" text-anchor="middle" textLength="61.1" lengthAdjust="spacingAndGlyphs">200</text>
<text x="1321.0" y="1481.8" font-family='"Liberation Sans", sans-serif' font-size="35.0" text-anchor="middle" textLength="61.1" lengthAdjust="spacingAndGlyphs">400</text>
<text x="786.0" y="1397.2" font-family='"Liberation Sans", sans-serif' font-size="35.5" text-anchor="end" textLength="50.9" lengthAdjust="spacingAndGlyphs">0.0</text>
<text x="786.0" y="1282.0" font-family='"Liberation Sans", sans-serif' font-size="35.5" text-anchor="end" textLength="50.9" lengthAdjust="spacingAndGlyphs">0.2</text>
<text x="786.0" y="1166.8" font-family='"Liberation Sans", sans-serif' font-size="35.5" text-anchor="end" textLength="50.9" lengthAdjust="spacingAndGlyphs">0.4</text>
<text x="786.0" y="1051.6" font-family='"Liberation Sans", sans-serif' font-size="35.5" text-anchor="end" textLength="50.9" lengthAdjust="spacingAndGlyphs">0.6</text>
<text x="786.0" y="936.4" font-family='"Liberation Sans", sans-serif' font-size="35.5" text-anchor="end" textLength="50.9" lengthAdjust="spacingAndGlyphs">0.8</text>
<text x="786.0" y="821.2" font-family='"Liberation Sans", sans-serif' font-size="35.5" text-anchor="end" textLength="50.9" lengthAdjust="spacingAndGlyphs">1.0</text>
<text x="1061.5" y="1520.9" font-family='"Liberation Sans", sans-serif' font-size="33.6" text-anchor="middle" textLength="215.6" lengthAdjust="spacingAndGlyphs">lag-time (ms)</text>
<g transform="translate(721.2,1124.5) rotate(-90)"><text x="0.0" y="0.0" font-family='"Liberation Sans", sans-serif' font-size="33.6" text-anchor="middle" textLength="321.7" lengthAdjust="spacingAndGlyphs">cross-correlation (1)</text></g>
<text x="813.5" y="856.6" font-family='"Liberation Sans", sans-serif' font-size="37.0" text-anchor="start" textLength="10.8" lengthAdjust="spacingAndGlyphs">(</text>
<text x="827.8" y="859.5" font-family='"Liberation Sans", sans-serif' font-size="41.0" text-anchor="start" textLength="22.4" lengthAdjust="spacingAndGlyphs">d</text>
<text x="854.5" y="856.6" font-family='"Liberation Sans", sans-serif' font-size="37.0" text-anchor="start" textLength="10.8" lengthAdjust="spacingAndGlyphs">)</text>
<rect x="1150.0" y="821.5" width="158.5" height="196.0" rx="5.5" ry="5.5" fill="#ffffff" fill-opacity="0.8" stroke="#cccccc" stroke-width="2"/>
<line x1="1160.0" y1="842.4" x2="1212.0" y2="842.4" stroke="#000000" stroke-width="4.0" stroke-linecap="square"/>
<text x="1232.8" y="851.3" font-family='"Liberation Sans", sans-serif' font-size="27.3" text-anchor="start" textLength="67.3" lengthAdjust="spacingAndGlyphs">wake</text>
<line x1="1160.0" y1="880.2" x2="1212.0" y2="880.2" stroke="#0000ff" stroke-width="4.0" stroke-linecap="square"/>
<text x="1232.8" y="889.1" font-family='"Liberation Sans", sans-serif' font-size="27.3" text-anchor="start" textLength="56.9" lengthAdjust="spacingAndGlyphs">REM</text>
<line x1="1160.0" y1="918.0" x2="1212.0" y2="918.0" stroke="#008000" stroke-width="4.0" stroke-linecap="square"/>
<text x="1232.8" y="926.9" font-family='"Liberation Sans", sans-serif' font-size="27.3" text-anchor="start" textLength="36.0" lengthAdjust="spacingAndGlyphs">N1</text>
<line x1="1160.0" y1="955.8" x2="1212.0" y2="955.8" stroke="#ff0000" stroke-width="4.0" stroke-linecap="square"/>
<text x="1232.8" y="964.7" font-family='"Liberation Sans", sans-serif' font-size="27.3" text-anchor="start" textLength="36.0" lengthAdjust="spacingAndGlyphs">N2</text>
<line x1="1160.0" y1="993.6" x2="1212.0" y2="993.6" stroke="#ff00ff" stroke-width="4.0" stroke-linecap="square"/>
<text x="1232.8" y="1002.5" font-family='"Liberation Sans", sans-serif' font-size="27.3" text-anchor="start" textLength="36.0" lengthAdjust="spacingAndGlyphs">N3</text>
</svg></body></html>
